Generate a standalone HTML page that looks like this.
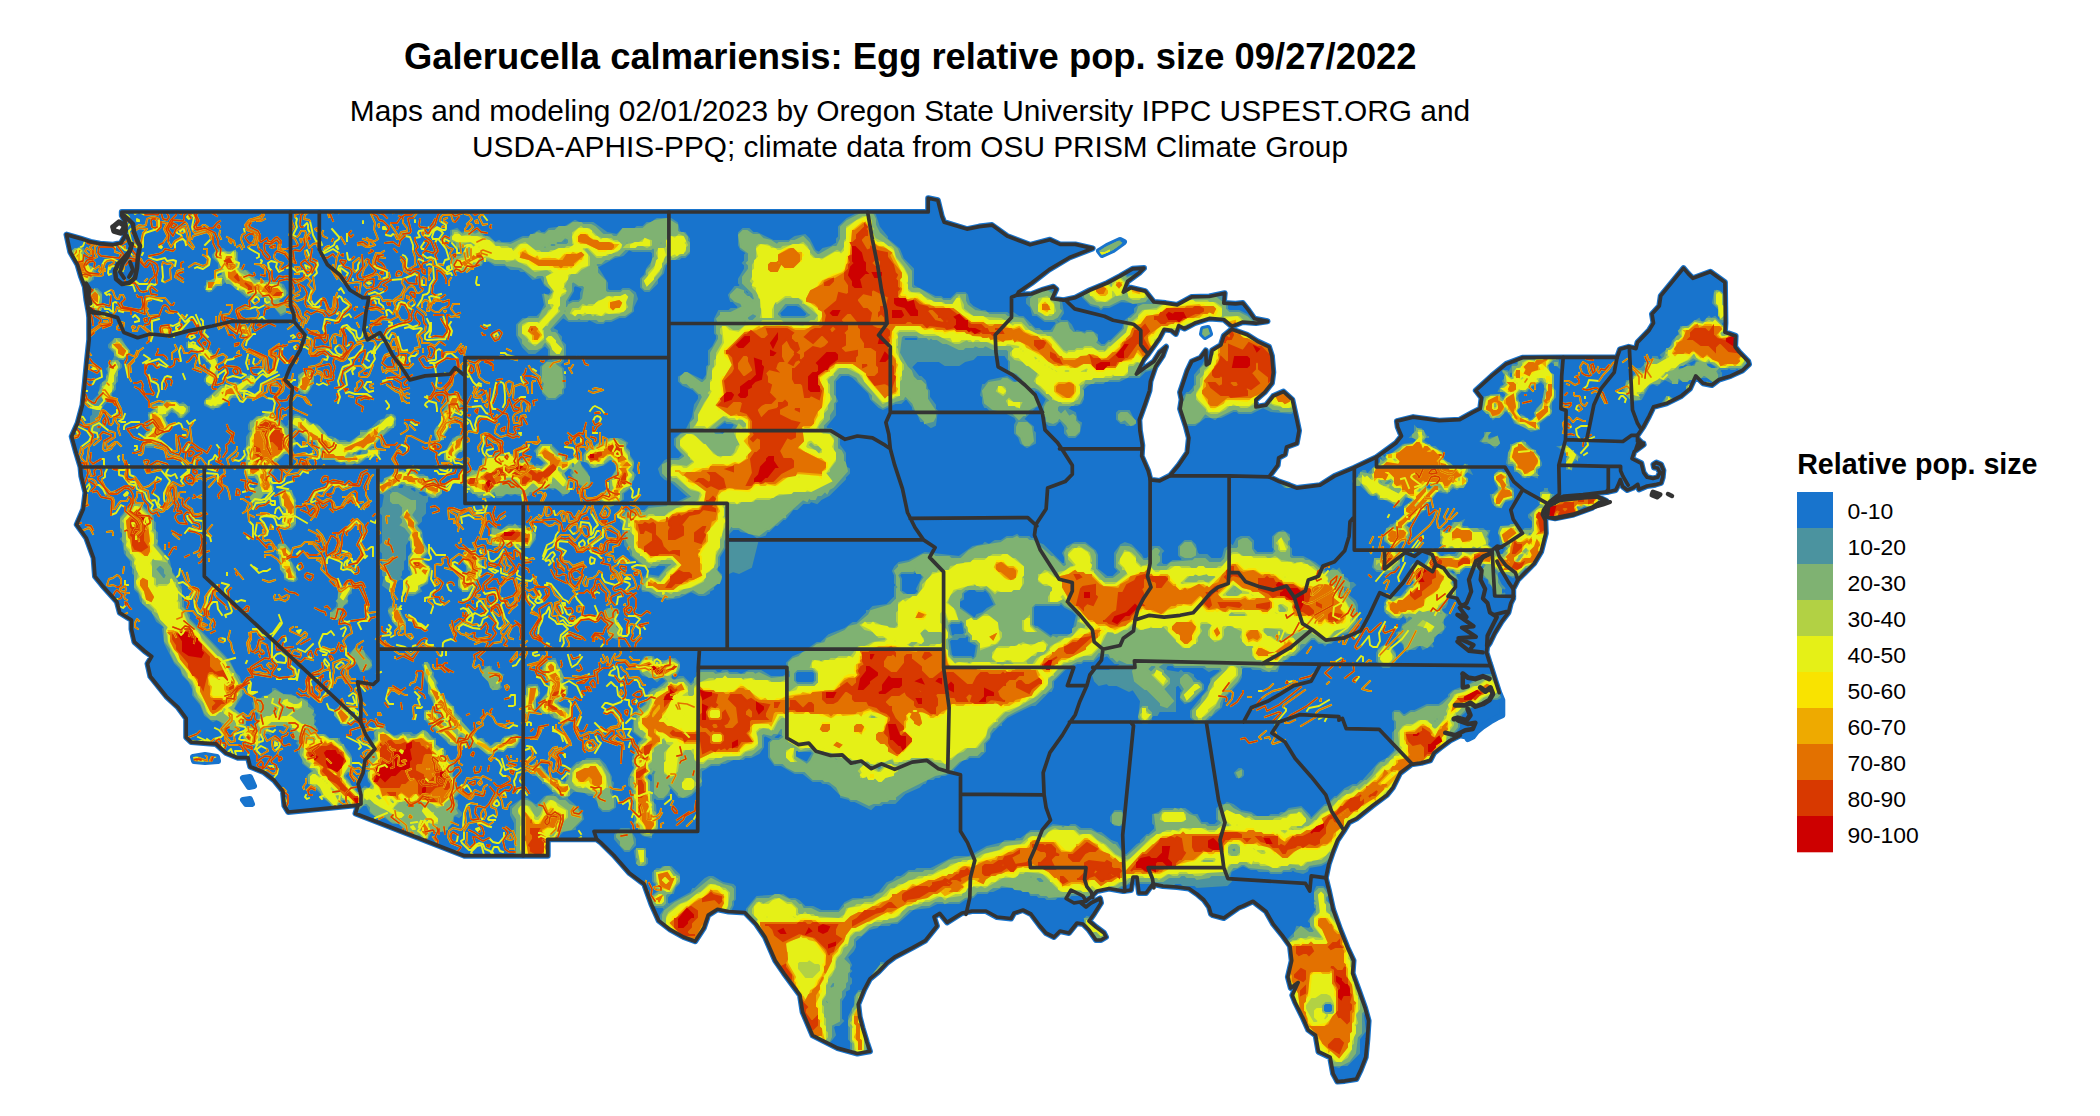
<!DOCTYPE html>
<html><head><meta charset="utf-8"><title>Galerucella calmariensis map</title>
<style>
html,body{margin:0;padding:0;background:#fff;}
body{width:2100px;height:1116px;overflow:hidden;}
svg{display:block}
text{font-family:"Liberation Sans",Arial,Helvetica,sans-serif;fill:#000}
</style></head><body>
<svg width="2100" height="1116" viewBox="0 0 2100 1116">
<rect width="2100" height="1116" fill="#fff"/>
<text x="910.3" y="69" font-size="36.37" font-weight="bold" text-anchor="middle">Galerucella calmariensis: Egg relative pop. size 09/27/2022</text>
<text x="910" y="121" font-size="29.87" text-anchor="middle">Maps and modeling 02/01/2023 by Oregon State University IPPC USPEST.ORG and</text>
<text x="910" y="157" font-size="29.8" text-anchor="middle">USDA-APHIS-PPQ; climate data from OSU PRISM Climate Group</text>
<defs><clipPath id="us"><path d="M121.8 212.0L928.2 212.0L928.2 198.2L937.8 200.3L941.8 216.4L944.2 222.2L966.9 229.1L979.1 226.6L992.0 225.1L1007.1 236.0L1030.1 244.8L1049.9 239.7L1060.1 244.4L1075.3 244.4L1092.7 248.4L1069.4 257.5L1049.0 269.6L1031.6 283.0L1018.5 292.1L1017.0 295.1L1031.6 294.0L1043.2 289.6L1053.4 286.7L1056.3 289.2L1052.0 298.7L1063.6 300.2L1075.3 297.6L1089.8 290.3L1107.3 283.0L1120.1 276.1L1132.6 268.8L1144.0 268.1L1139.3 272.8L1127.7 281.2L1123.3 292.1L1130.6 287.8L1145.2 291.1L1153.9 302.0L1165.6 303.1L1177.2 304.9L1191.8 296.9L1209.3 296.5L1224.7 293.2L1223.8 303.1L1235.5 303.8L1242.8 303.1L1248.6 310.4L1254.4 318.7L1267.5 321.3L1255.9 323.1L1242.8 322.0L1232.0 326.4L1223.8 319.5L1209.3 318.4L1194.7 323.1L1184.5 328.6L1178.7 325.7L1175.8 334.0L1171.4 330.4L1164.1 329.3L1159.7 337.7L1148.1 354.1L1143.7 359.5L1136.4 374.1L1143.7 368.6L1153.9 361.4L1159.7 352.3L1166.1 346.8L1162.7 355.9L1155.4 366.8L1150.4 381.4L1149.5 390.5L1145.2 403.3L1139.3 419.7L1139.9 430.6L1142.3 445.2L1141.7 456.1L1148.1 470.7L1150.4 479.8L1159.7 480.9L1169.9 475.8L1178.7 465.2L1187.4 452.4L1188.9 437.9L1186.0 426.9L1180.1 408.7L1181.6 399.6L1180.1 392.3L1187.4 370.5L1191.8 361.4L1200.5 357.7L1205.8 350.4L1206.3 365.0L1209.3 363.2L1212.2 350.4L1220.9 345.0L1223.8 335.9L1231.7 329.3L1247.1 334.8L1257.3 341.3L1269.0 346.8L1271.9 355.9L1273.3 372.3L1271.9 383.2L1264.6 392.3L1255.9 399.6L1255.9 406.9L1266.1 405.1L1273.3 396.0L1283.5 391.6L1292.3 399.6L1296.7 419.7L1299.0 430.6L1296.7 443.3L1286.5 447.0L1285.0 454.3L1278.6 457.9L1277.7 465.2L1269.0 476.8L1279.2 481.6L1289.4 485.2L1296.7 488.1L1320.0 485.2L1334.5 476.1L1354.3 467.7L1376.5 457.2L1395.7 443.3L1401.5 436.0L1397.7 426.9L1396.9 421.1L1413.2 417.1L1439.4 420.7L1459.8 419.7L1472.9 412.4L1480.2 408.7L1481.6 397.8L1475.8 390.5L1491.8 375.9L1506.4 363.9L1522.4 357.7L1563.2 357.4L1617.1 357.4L1620.0 349.3L1628.7 346.8L1636.0 348.6L1637.5 342.4L1649.1 330.4L1653.5 323.1L1652.0 314.0L1659.3 306.0L1660.8 295.8L1683.5 268.1L1688.4 273.9L1692.8 278.3L1710.3 271.7L1724.9 282.3L1725.4 323.1L1724.9 332.2L1735.6 335.9L1735.1 346.8L1739.4 352.3L1748.2 361.4L1749.0 364.3L1742.3 370.5L1730.7 375.9L1719.0 379.6L1711.8 385.0L1703.0 383.2L1695.7 375.9L1689.9 388.7L1681.2 396.0L1666.6 403.3L1653.5 406.9L1649.1 416.0L1643.3 426.9L1637.5 435.3L1637.5 441.5L1643.3 443.3L1636.0 448.8L1639.0 440.0L1643.6 444.7L1634.3 451.6L1632.0 458.6L1641.3 463.3L1643.6 472.6L1647.1 477.3L1653.0 478.4L1657.6 477.3L1660.0 472.6L1657.6 468.0L1654.0 467.5L1653.4 464.5L1656.4 462.6L1661.0 464.5L1663.4 470.3L1662.7 477.3L1661.0 483.0L1655.3 484.7L1647.1 486.0L1639.0 489.4L1637.8 484.3L1633.0 487.8L1627.3 490.0L1622.7 486.6L1620.3 479.6L1618.0 485.4L1615.7 490.0L1608.7 491.7L1583.0 494.7L1564.4 496.0L1550.4 501.0L1547.0 505.2L1543.5 510.0L1542.3 514.5L1545.3 520.4L1545.8 533.2L1541.1 551.8L1534.1 563.5L1524.8 572.8L1517.8 579.8L1513.2 589.0L1513.2 598.4L1510.8 603.0L1508.5 612.4L1501.5 621.7L1494.5 633.3L1489.9 642.7L1487.1 646.8L1486.4 652.4L1489.9 663.6L1490.4 665.0L1494.8 678.9L1499.2 692.7L1502.3 700.2L1502.3 715.2L1496.7 717.8L1490.4 721.5L1482.9 726.5L1476.6 731.6L1472.8 736.6L1467.8 739.1L1466.6 736.6L1460.3 735.3L1450.3 740.3L1440.2 747.9L1434.0 752.9L1430.2 760.4L1421.4 762.9L1411.4 764.4L1400.1 773.0L1392.8 787.6L1387.0 794.9L1372.4 805.8L1356.4 818.6L1349.1 822.2L1344.7 829.5L1337.4 840.4L1333.1 851.3L1328.7 864.1L1325.8 877.9L1328.7 889.6L1333.1 909.6L1340.3 929.7L1347.6 947.9L1353.5 960.6L1352.6 973.4L1359.3 991.6L1365.1 1008.0L1368.6 1020.7L1367.4 1039.0L1365.7 1057.2L1360.7 1069.9L1356.4 1079.0L1344.7 1080.9L1337.4 1081.6L1333.1 1073.6L1330.1 1057.2L1318.5 1051.7L1315.6 1035.3L1308.3 1029.9L1302.5 1017.1L1295.2 1002.5L1292.3 995.2L1298.1 982.5L1290.8 988.0L1287.9 977.0L1291.7 960.6L1290.0 946.1L1282.1 935.1L1273.3 924.2L1266.1 911.5L1253.0 901.3L1242.8 906.0L1238.4 907.8L1223.8 918.0L1212.8 915.1L1211.0 914.0L1209.0 907.0L1204.0 900.0L1197.0 894.0L1189.0 888.5L1177.0 887.0L1163.0 886.0L1153.0 884.0L1149.0 889.0L1146.0 893.0L1139.0 893.0L1137.0 877.0L1133.0 877.0L1131.0 890.0L1123.0 891.0L1109.0 888.5L1097.0 891.0L1091.0 897.0L1086.0 901.0L1081.0 903.0L1086.0 907.0L1091.0 903.0L1100.0 898.5L1101.0 903.0L1094.0 914.0L1089.0 921.0L1096.0 927.0L1104.0 933.0L1106.0 937.0L1101.0 940.0L1096.0 940.0L1089.0 930.0L1083.0 924.0L1077.0 923.0L1069.0 933.0L1060.0 931.0L1054.0 937.0L1046.0 933.0L1040.0 926.0L1031.0 914.0L1023.0 910.0L1014.0 913.0L1011.0 918.5L997.0 917.0L986.0 911.0L972.0 911.0L962.0 913.0L947.1 922.4L939.8 913.3L934.0 916.9L936.9 926.0L925.2 940.6L912.1 947.9L894.7 957.0L887.4 962.5L878.6 971.6L869.9 978.9L864.1 989.8L858.2 1004.4L859.7 1017.1L862.6 1028.0L867.0 1042.6L869.9 1051.3L857.4 1053.5L837.6 1048.1L812.5 1035.3L802.6 1012.0L800.0 995.2L784.0 973.4L775.2 960.6L765.0 937.0L756.3 924.2L744.9 912.5L728.6 911.5L717.5 909.3L708.2 915.1L703.9 927.8L695.1 941.3L683.5 937.0L670.4 929.7L658.7 920.6L651.4 904.2L644.1 884.1L629.6 873.2L613.6 855.0L600.4 842.2L596.7 839.3L547.7 839.3L547.7 855.7L464.4 855.7L355.5 813.5L358.1 805.1L288.2 812.0L284.4 805.8L282.9 791.2L274.2 780.3L264.0 772.3L255.3 768.7L250.3 766.8L248.0 757.7L237.8 757.7L226.1 753.0L215.9 743.9L191.2 742.1L186.2 737.3L186.2 718.4L178.1 707.4L166.4 696.5L150.4 676.5L147.5 663.7L151.8 656.4L144.6 651.0L134.4 641.9L131.5 629.1L131.5 620.0L119.8 612.7L116.9 601.8L102.3 585.4L95.0 576.3L93.6 558.1L86.3 538.0L76.7 524.6L83.4 508.9L85.4 492.5L81.3 476.1L80.5 467.0L76.1 452.4L71.7 436.4L77.6 423.3L82.5 405.1L84.8 383.2L86.9 361.4L89.2 339.5L89.2 317.6L88.6 312.2L86.3 299.4L84.8 286.7L81.1 276.8L77.6 264.8L70.3 252.1L66.5 234.6L80.5 238.6L90.7 241.9L100.0 243.7L113.1 244.8L121.0 243.0L124.2 237.5L126.2 230.2L125.0 221.1L121.8 215.6L121.8 212.0ZM1548.1 506.0L1559.8 500.1L1583.0 497.5L1597.0 496.4L1606.3 501.0L1599.4 502.9L1592.4 507.6L1573.7 514.5L1555.1 518.3L1547.0 516.9ZM1099.0 251.0L1107.0 246.0L1120.0 240.0L1124.0 242.0L1113.0 250.0L1102.0 255.0ZM1203.0 329.0L1208.0 328.0L1210.0 334.0L1205.0 337.0L1202.0 334.0ZM193.0 757.0L205.0 755.0L217.0 757.0L218.0 761.0L205.0 762.0L194.0 761.0ZM243.0 778.0L250.0 777.0L254.0 786.0L249.0 787.0ZM243.0 800.0L250.0 799.0L252.0 804.0L246.0 804.0Z"/></clipPath></defs>
<path d="M121.8 212.0L928.2 212.0L928.2 198.2L937.8 200.3L941.8 216.4L944.2 222.2L966.9 229.1L979.1 226.6L992.0 225.1L1007.1 236.0L1030.1 244.8L1049.9 239.7L1060.1 244.4L1075.3 244.4L1092.7 248.4L1069.4 257.5L1049.0 269.6L1031.6 283.0L1018.5 292.1L1017.0 295.1L1031.6 294.0L1043.2 289.6L1053.4 286.7L1056.3 289.2L1052.0 298.7L1063.6 300.2L1075.3 297.6L1089.8 290.3L1107.3 283.0L1120.1 276.1L1132.6 268.8L1144.0 268.1L1139.3 272.8L1127.7 281.2L1123.3 292.1L1130.6 287.8L1145.2 291.1L1153.9 302.0L1165.6 303.1L1177.2 304.9L1191.8 296.9L1209.3 296.5L1224.7 293.2L1223.8 303.1L1235.5 303.8L1242.8 303.1L1248.6 310.4L1254.4 318.7L1267.5 321.3L1255.9 323.1L1242.8 322.0L1232.0 326.4L1223.8 319.5L1209.3 318.4L1194.7 323.1L1184.5 328.6L1178.7 325.7L1175.8 334.0L1171.4 330.4L1164.1 329.3L1159.7 337.7L1148.1 354.1L1143.7 359.5L1136.4 374.1L1143.7 368.6L1153.9 361.4L1159.7 352.3L1166.1 346.8L1162.7 355.9L1155.4 366.8L1150.4 381.4L1149.5 390.5L1145.2 403.3L1139.3 419.7L1139.9 430.6L1142.3 445.2L1141.7 456.1L1148.1 470.7L1150.4 479.8L1159.7 480.9L1169.9 475.8L1178.7 465.2L1187.4 452.4L1188.9 437.9L1186.0 426.9L1180.1 408.7L1181.6 399.6L1180.1 392.3L1187.4 370.5L1191.8 361.4L1200.5 357.7L1205.8 350.4L1206.3 365.0L1209.3 363.2L1212.2 350.4L1220.9 345.0L1223.8 335.9L1231.7 329.3L1247.1 334.8L1257.3 341.3L1269.0 346.8L1271.9 355.9L1273.3 372.3L1271.9 383.2L1264.6 392.3L1255.9 399.6L1255.9 406.9L1266.1 405.1L1273.3 396.0L1283.5 391.6L1292.3 399.6L1296.7 419.7L1299.0 430.6L1296.7 443.3L1286.5 447.0L1285.0 454.3L1278.6 457.9L1277.7 465.2L1269.0 476.8L1279.2 481.6L1289.4 485.2L1296.7 488.1L1320.0 485.2L1334.5 476.1L1354.3 467.7L1376.5 457.2L1395.7 443.3L1401.5 436.0L1397.7 426.9L1396.9 421.1L1413.2 417.1L1439.4 420.7L1459.8 419.7L1472.9 412.4L1480.2 408.7L1481.6 397.8L1475.8 390.5L1491.8 375.9L1506.4 363.9L1522.4 357.7L1563.2 357.4L1617.1 357.4L1620.0 349.3L1628.7 346.8L1636.0 348.6L1637.5 342.4L1649.1 330.4L1653.5 323.1L1652.0 314.0L1659.3 306.0L1660.8 295.8L1683.5 268.1L1688.4 273.9L1692.8 278.3L1710.3 271.7L1724.9 282.3L1725.4 323.1L1724.9 332.2L1735.6 335.9L1735.1 346.8L1739.4 352.3L1748.2 361.4L1749.0 364.3L1742.3 370.5L1730.7 375.9L1719.0 379.6L1711.8 385.0L1703.0 383.2L1695.7 375.9L1689.9 388.7L1681.2 396.0L1666.6 403.3L1653.5 406.9L1649.1 416.0L1643.3 426.9L1637.5 435.3L1637.5 441.5L1643.3 443.3L1636.0 448.8L1639.0 440.0L1643.6 444.7L1634.3 451.6L1632.0 458.6L1641.3 463.3L1643.6 472.6L1647.1 477.3L1653.0 478.4L1657.6 477.3L1660.0 472.6L1657.6 468.0L1654.0 467.5L1653.4 464.5L1656.4 462.6L1661.0 464.5L1663.4 470.3L1662.7 477.3L1661.0 483.0L1655.3 484.7L1647.1 486.0L1639.0 489.4L1637.8 484.3L1633.0 487.8L1627.3 490.0L1622.7 486.6L1620.3 479.6L1618.0 485.4L1615.7 490.0L1608.7 491.7L1583.0 494.7L1564.4 496.0L1550.4 501.0L1547.0 505.2L1543.5 510.0L1542.3 514.5L1545.3 520.4L1545.8 533.2L1541.1 551.8L1534.1 563.5L1524.8 572.8L1517.8 579.8L1513.2 589.0L1513.2 598.4L1510.8 603.0L1508.5 612.4L1501.5 621.7L1494.5 633.3L1489.9 642.7L1487.1 646.8L1486.4 652.4L1489.9 663.6L1490.4 665.0L1494.8 678.9L1499.2 692.7L1502.3 700.2L1502.3 715.2L1496.7 717.8L1490.4 721.5L1482.9 726.5L1476.6 731.6L1472.8 736.6L1467.8 739.1L1466.6 736.6L1460.3 735.3L1450.3 740.3L1440.2 747.9L1434.0 752.9L1430.2 760.4L1421.4 762.9L1411.4 764.4L1400.1 773.0L1392.8 787.6L1387.0 794.9L1372.4 805.8L1356.4 818.6L1349.1 822.2L1344.7 829.5L1337.4 840.4L1333.1 851.3L1328.7 864.1L1325.8 877.9L1328.7 889.6L1333.1 909.6L1340.3 929.7L1347.6 947.9L1353.5 960.6L1352.6 973.4L1359.3 991.6L1365.1 1008.0L1368.6 1020.7L1367.4 1039.0L1365.7 1057.2L1360.7 1069.9L1356.4 1079.0L1344.7 1080.9L1337.4 1081.6L1333.1 1073.6L1330.1 1057.2L1318.5 1051.7L1315.6 1035.3L1308.3 1029.9L1302.5 1017.1L1295.2 1002.5L1292.3 995.2L1298.1 982.5L1290.8 988.0L1287.9 977.0L1291.7 960.6L1290.0 946.1L1282.1 935.1L1273.3 924.2L1266.1 911.5L1253.0 901.3L1242.8 906.0L1238.4 907.8L1223.8 918.0L1212.8 915.1L1211.0 914.0L1209.0 907.0L1204.0 900.0L1197.0 894.0L1189.0 888.5L1177.0 887.0L1163.0 886.0L1153.0 884.0L1149.0 889.0L1146.0 893.0L1139.0 893.0L1137.0 877.0L1133.0 877.0L1131.0 890.0L1123.0 891.0L1109.0 888.5L1097.0 891.0L1091.0 897.0L1086.0 901.0L1081.0 903.0L1086.0 907.0L1091.0 903.0L1100.0 898.5L1101.0 903.0L1094.0 914.0L1089.0 921.0L1096.0 927.0L1104.0 933.0L1106.0 937.0L1101.0 940.0L1096.0 940.0L1089.0 930.0L1083.0 924.0L1077.0 923.0L1069.0 933.0L1060.0 931.0L1054.0 937.0L1046.0 933.0L1040.0 926.0L1031.0 914.0L1023.0 910.0L1014.0 913.0L1011.0 918.5L997.0 917.0L986.0 911.0L972.0 911.0L962.0 913.0L947.1 922.4L939.8 913.3L934.0 916.9L936.9 926.0L925.2 940.6L912.1 947.9L894.7 957.0L887.4 962.5L878.6 971.6L869.9 978.9L864.1 989.8L858.2 1004.4L859.7 1017.1L862.6 1028.0L867.0 1042.6L869.9 1051.3L857.4 1053.5L837.6 1048.1L812.5 1035.3L802.6 1012.0L800.0 995.2L784.0 973.4L775.2 960.6L765.0 937.0L756.3 924.2L744.9 912.5L728.6 911.5L717.5 909.3L708.2 915.1L703.9 927.8L695.1 941.3L683.5 937.0L670.4 929.7L658.7 920.6L651.4 904.2L644.1 884.1L629.6 873.2L613.6 855.0L600.4 842.2L596.7 839.3L547.7 839.3L547.7 855.7L464.4 855.7L355.5 813.5L358.1 805.1L288.2 812.0L284.4 805.8L282.9 791.2L274.2 780.3L264.0 772.3L255.3 768.7L250.3 766.8L248.0 757.7L237.8 757.7L226.1 753.0L215.9 743.9L191.2 742.1L186.2 737.3L186.2 718.4L178.1 707.4L166.4 696.5L150.4 676.5L147.5 663.7L151.8 656.4L144.6 651.0L134.4 641.9L131.5 629.1L131.5 620.0L119.8 612.7L116.9 601.8L102.3 585.4L95.0 576.3L93.6 558.1L86.3 538.0L76.7 524.6L83.4 508.9L85.4 492.5L81.3 476.1L80.5 467.0L76.1 452.4L71.7 436.4L77.6 423.3L82.5 405.1L84.8 383.2L86.9 361.4L89.2 339.5L89.2 317.6L88.6 312.2L86.3 299.4L84.8 286.7L81.1 276.8L77.6 264.8L70.3 252.1L66.5 234.6L80.5 238.6L90.7 241.9L100.0 243.7L113.1 244.8L121.0 243.0L124.2 237.5L126.2 230.2L125.0 221.1L121.8 215.6L121.8 212.0ZM1548.1 506.0L1559.8 500.1L1583.0 497.5L1597.0 496.4L1606.3 501.0L1599.4 502.9L1592.4 507.6L1573.7 514.5L1555.1 518.3L1547.0 516.9ZM1099.0 251.0L1107.0 246.0L1120.0 240.0L1124.0 242.0L1113.0 250.0L1102.0 255.0ZM1203.0 329.0L1208.0 328.0L1210.0 334.0L1205.0 337.0L1202.0 334.0ZM193.0 757.0L205.0 755.0L217.0 757.0L218.0 761.0L205.0 762.0L194.0 761.0ZM243.0 778.0L250.0 777.0L254.0 786.0L249.0 787.0ZM243.0 800.0L250.0 799.0L252.0 804.0L246.0 804.0Z" fill="#1874CD" stroke="#1874CD" stroke-width="6" stroke-linejoin="round"/>
<g clip-path="url(#us)"><g transform="scale(2) translate(0.5 0.5)" fill-rule="evenodd" stroke-width="1" stroke-linejoin="miter"><path fill="#4B939F" stroke="#4B939F" d="M661 502l1-1l3 0l1 1l0 3l-1 1l-3 0l-1-1zM429 495l-2 3l0 4l-3 6l0 11l1 1l0 4l1 2l2 1l3 0l2-4l-1-12l-1-1l0-6l2-4l0-4l-1-1zM441 481l-1 0l0 1l-4 5l0 2l1 1l1 0l2-4l2-2l1 0l0-1zM654 464l1-1l1 1l-1 1zM543 458l-1 1l0 3l4 4l0 3l2 2l3 0l1-1l1-5l-1-1l-2 0l-4-5zM331 453l1-1l1 1l-1 1zM332 452l1-1l1 1l-1 1zM658 443l-1 2l0 8l1 1l-4 6l1 1l0 2l-1 1l-6-1l-1 3l-5 5l-1 4l-2 2l0 11l2 4l2 2l0 3l1 1l-1 2l0 2l1 1l-1 2l1 4l2 2l2 4l1 0l2 2l0 2l1 2l2 1l1 4l1 0l4 3l2 0l3 3l4 1l1-1l3 0l6-6l0-7l3-4l-1-8l2-4l0-3l-2-2l0-2l-2-3l1-1l0-4l-2-3l0-4l-2-3l0-11l-1-1l0-2l-2-3l-4-1l-4-5l0-2l-2-3l0-5l-2-2zM328 434l-2 2l0 4l2 2l0 2l1 1l-4 3l0 2l3 3l3 0l1 1l-2 3l0 7l2 4l2 2l0 1l5 4l7 0l6-3l2-2l1-4l3-3l1 0l4-5l3-6l0-2l1-1l0-6l-1-1l-5-1l-5-3l-2 0l-2 1l-5 5l-1 0l-1 2l-11 6l-1-1l0-3l2-2l1 0l1-3l2-2l0-4l-4-4l-4 0l-1 1zM318 424l-1 1l1 6l1 1l3 0l1-1l0-2l-1-1l0-4zM310 414l-3 3l0 2l5 6l2 0l3-3l0-3l-3-5zM557 405l-2 3l0 2l2 2l3 0l1-1l0-4l-1-2zM202 402l1-1l2 1l-1 1zM207 401l1-1l1 1l-1 1zM278 398l1-1l1 1l-1 1zM276 397l1-1l1 1l-1 1zM324 386l2 1l0 3l-1 1l-2-2l0-2zM325 386l1-1l1 1l-1 1zM620 384l-1 0l-2 2l1 2l2 0l1-1l0-2zM299 379l-6 0l-1 1l-4 1l-4 4l-1 2l0 3l-1 1l-8-3l-2-2l0-1l-5-4l-2 2l0 3l1 1l2 0l3 3l0 1l1 0l5 5l-1 1l-4 1l-4 4l-1 0l-4-3l-2 0l-6 4l0 4l2 4l0 16l1 1l0 2l2 2l2 1l11 0l3-2l1-2l0-3l-1-1l1-6l4-4l6-1l0-1l4-4l-1-4l-7-6l0-1l3-3l5 0l3 2l2 0l3 4l0 2l2 2l3 0l3-2l0-4l-2-3l1-5l-1-1l0-2l-3-6zM397 378l0-3l1-1l1 1l6 0l1 1l-3 5zM386 368l3-2l2 1l-2 2l-2 0zM154 367l1-1l2 1l-1 1zM127 363l1-1l1 1l-1 1zM222 361l1-1l1 1l-1 1zM221 360l1-1l1 1l-1 1zM219 358l1-1l1 1l-1 1zM169 353l-2 2l0 2l4 5l2 0l2-3l0-2l-4-4zM268 342l-4 0l-1 1l0 4l-1 1l0 7l1 1l2 0l2-2l0-5l2-2l0-3zM751 342l-1-2l-4-3l-4 0l-1 1l-2 0l-5 4l-8 3l-2 2l0 1l-5 4l-6 0l-6 3l-2 0l-3 2l-1 0l-2-2l-2 0l-1 1l0 3l1 1l0 5l-1 1l0 5l1 1l0 3l-4 4l-4 2l-8 9l-1 0l-2 2l-2 0l-4 2l-4 4l-1 0l-4 4l-1 0l-7 7l-1-2l-4-4l-6 1l-2 2l-2 0l-1 1l-4 0l-1 1l-6 0l-3-2l-5-1l-4-3l-3-1l-1 1l-2 0l-2 2l0 5l1 1l-2 2l-3 0l-1-1l-3 0l-2-4l-2 0l-4-3l-11 0l-2 2l-3 1l0 4l1 1l0 2l-3 3l-1 0l-3 3l0 1l-2 1l-5 5l-1 0l-2-2l-2-4l-3-1l-5-4l-2 0l-3-2l-5 0l-3-2l-2 0l-1 1l-8-1l-6 4l-1-1l-4 0l-5 4l-2 0l-1 1l-5 0l-1 1l-8 2l-9 5l-7 0l-12 6l-7 0l-1 1l-3 0l-4 3l-2 0l-2 2l-3 1l-4 5l-4 2l-3 0l-1 1l-5 0l-4 2l-3 4l-9 0l-4-2l-4 0l-3-3l-2-1l-3 0l-3-2l-13 1l-5 6l0 2l2 4l-1 1l0 2l3 4l0 2l1 1l0 4l6 12l11 14l0 7l-1 2l1 1l0 2l2 4l3 3l1 3l2 1l6 0l1-1l3 0l4-5l-1-4l1-1l2 0l2-2l-1-1l0-9l2-3l0-2l2-1l0-2l1-1l0-2l-1-1l0-2l1-1l-1-1l1-2l-2-4l3-3l1-2l0-3l7-6l4-1l1-1l5 0l1-1l3 0l8-7l8-1l4-2l11 0l3-2l4-1l2-2l5 0l1-1l2 0l4-2l6 0l1 1l7 1l1 2l3 0l1 1l3 0l1 1l4 0l1-1l6 0l1-1l6 0l1 1l2-1l1 1l5 0l14-7l12 0l1 1l9 0l1-1l3 0l1 1l6 0l1 1l15-1l2-2l-1-2l1-3l6-3l4 2l3 0l1 1l5 0l1 1l5 0l1-1l4 0l1-1l1 1l4 1l2-1l1-2l6-1l4-2l0-1l9-9l0-1l3-3l1-6l2-2l1 0l2-2l2 0l6-3l2-2l1-3l2-1l4-4l3-1l3-4l2 0l3-3l3-1l5-4l3-1l3-5l0-2l1-1l-1-1l5-7l0-2l-1-1l2-2l0-1l5-4l3 0l6-4l4 0l2-1l1-2zM393 337l1-1l1 1l-1 1zM397 336l1-1l8 0l1 1l0 4l-1 1l-8 0l-1-1zM560 333l1-1l3 0l1 1l-1 1l-3 0zM242 333l0 1l-2 1l1 2l3 3l2 4l3 0l1-1l-1-1l0-2l2-3l-4-1l-2-2l0-1zM211 332l1 2l0 4l2 4l0 4l3 6l2 2l0 2l-1 1l-2-2l-4 0l0 4l13 13l4 0l0-4l1-1l2 2l0 1l2 0l2 3l3 0l5 4l4-2l3 0l2-2l4 0l2-3l0-2l-1-1l-6 1l-2 3l-3 0l-2 2l-2-2l-1 0l-1-2l-3 0l-1-2l-1 0l-6-6l0-2l-3-3l-1-3l-7-7l-2-4l1-1l-2-3l0-2l-2-2l0-2l-1-1zM276 329l-1 1l-2 0l-2 3l0 3l3 5l0 4l-4 5l-1 4l2 2l3 0l2 2l3 1l3 3l2-1l1-2l0-4l-1-1l-4-1l-2-2l3-3l1 0l1-2l0-3l-2-2l-1-6l-2-2l-1-4zM177 324l-2 2l0 2l-1 1l1 1l2 0l2 2l1 3l4-1l1-1l0-3l-5-6zM692 322l-3 2l-1 2l0 4l3 3l3 0l3-3l0-4l-2-3zM474 320l1-1l3 0l1-1l3 0l1-1l1 1l0 2l4 2l-1 6l-1 1l-1-1l-9 0l-1-1zM480 310l1 1l1 5l-1 1l-4 0l-1 1l-1-1l-1-5l1-1l4 0zM703 309l1-1l1 1l-1 1zM704 308l1-1l1 1l-1 1zM303 304l-1 1l0 3l2 4l0 5l4 2l1-1l0-3l-2-2l1-1l0-2l-1-1l2-4l-1-1zM195 303l-1 1l0 2l2 4l4 5l2-3l0-2l-3-5l0-2zM517 302l12 0l1-1l2 2l4 2l2 2l-2 9l-1 1l-9 0l-1 1l-7-5l-1 0l-1-1l0-9zM479 300l2-1l0-3l3-2l3 0l1 1l3 0l1-1l2 2l3 6l-4 2l-2 2l-3 1l-1 2l-8-6zM673 294l1-1l1 1l-1 1zM671 294l1-1l1 2l-1 1zM174 292l-3 1l-2 3l-1 7l-3 3l0 2l1 1l2 0l1-1l0-2l2-4l2-1l0-4l2-1l0-3zM460 286l1 2l-3 6l1 1l-2 2l-4 0l-3-2l0-6l-1-2l1-1l6 0l1-1l1 1zM746 285l1-1l1 1l-1 1zM724 285l2-1l2 2l-2 1zM735 274l1-1l1 1l-1 1zM236 274l-4 0l0 2l-1 1l0 3l2 2l0 3l-4 4l0 4l2 2l3 0l1-2l4-4l0-2l1-1l0-8l-1 0zM140 271l-2 2l0 3l2 2l0 6l2 3l0 2l2 1l3 0l1-1l-1-2l0-3l-3-5l1-1l0-2l-1-2l-3-3zM677 292l-1-1l-2 0l-1-2l-2-1l-2-4l-1 1l-2-1l-2 2l-1 0l-6-5l-6-3l-5 0l-1-1l0-3l-1-1l0-6l-3-2l-3 1l-2 2l0 5l1 1l-1 2l-8 0l-2-2l0-4l-2-2l-4 0l-2 1l-2 4l-1-1l-3 2l-1 4l-1 1l-5 0l-2-2l-4 0l-1-1l-1-4l-2-2l-3 0l-3 3l0 4l2 2l-1 1l-4 0l-3 2l-2 0l-1-1l0-5l1-1l-2-2l-3 0l-2 2l0 3l-1 1l-2 0l-1-2l-5-5l-3-1l-2 1l-3 4l0 7l2 2l-3 3l-3 0l-5-4l0-7l-1-2l-5-4l-5 0l-4 2l-2 3l1 2l0 3l-1 1l-10-10l-3-1l-1-2l-2 0l-1-1l-5 0l-1-1l-2 1l-3 0l-3 2l-3 0l-3 2l-2-1l-1 1l-5 1l-7 5l-17-2l-8 4l-5 1l-2 2l-1 2l1 2l0 4l1 1l-1 1l0 5l-4 4l-7 1l-2 2l-1 0l0 1l-5 5l-2 0l-4 3l-8 3l-4 4l-2 0l-7 5l-5 2l-3 3l1 5l-3 2l-6 0l-5-3l-6 0l-4 2l-2-1l-4 0l-1-1l-2 0l-1 1l-2 0l-1-1l-7 0l-2 1l0 2l-3 4l-4-4l-2 0l-2 2l-2-1l0-2l1-1l2 0l1-2l0-3l-2-2l-3 0l-1 1l-6 0l-1-2l-4 0l-3 4l1 4l1 1l5 1l2 2l2-2l1 0l2 2l-5 4l-2 0l-2 2l0 2l-2 4l-5 4l-1 9l5 4l-2 2l0 2l-2 2l0 2l-1 1l0 4l1 1l-3 6l0 3l2 2l-1 2l0 3l2 2l-1 2l0 3l1 1l0 5l2 1l0 2l2 2l4 1l0-1l3-3l-1-12l-1-1l0-2l1-1l1 1l3 0l2-2l1 0l0-3l1-1l4 5l4 0l2-1l5-5l0-7l5-3l4 0l1-1l2 0l4-2l5 0l1-1l3 0l4-2l2-3l0-5l1-1l4 2l-2 2l0 7l3 4l3 0l7 4l4 0l5 4l4 0l1 1l2 0l2 1l5 5l0 1l4 1l1 1l2 0l8 4l2-2l3 0l1-1l6 0l5-5l7-3l2-2l1 0l1-2l3 0l1-1l2 0l1-1l2 0l4-2l0-1l5-5l2 0l1-1l5 0l3-3l0-4l2-2l1-3l4-4l1 0l0-1l3-3l12-6l2 0l7-7l1 0l1-2l0-3l6-6l6-3l2 0l1-1l5 0l3-3l2 1l2-1l4 4l2 0l1 1l-6 3l-8 0l1 1l-1 1l1 3l2 2l4-1l1 1l4 0l6 3l2-1l4 6l-1 9l2 2l2 0l2-2l0-1l1-1l2 0l1-2l8 0l0-12l1-1l1 0l2 3l-1 1l0 3l2 2l3-1l6-6l0-2l-2-2l-1 0l-2-2l0-1l-2-1l-3 0l-1-1l-1 1l-6-1l-1-1l1-2l3 0l1 1l14 0l3 2l2-1l3 0l1 1l-5 4l0 2l-2 4l-8 10l0 3l2 2l0 1l4 0l9-8l1-4l8-9l1-2l0-4l1-1l4 0l1 1l4 0l1 1l7 0l1-3l3-3l1 0l2-2l2 0l8-8l2 0l2 2l2 0l1 1l1-1l2 0l4-4l4-1l2-2l1 0l0-1l2-2l0-9l-1-2l-5-4zM245 264l1 2l-2 4l2 2l10 0l1 1l7 0l3-4l0-3l-1 0l-3-3l-9-1l-4 3l-1 0l-2-2zM787 253l1-1l1 1l-1 1zM66 251l-6 7l0 7l1 1l0 2l-1 1l1 1l1 6l3 4l0 2l1 1l0 3l1 1l0 7l2 2l1 4l6 6l2 4l4 3l-1 1l1 7l5 10l3 3l1 3l3 3l2 4l0 3l4 5l2 5l4 3l2-1l2 1l1 2l2 0l4 3l5-3l1 2l-2 1l0 2l2 4l2 0l1 1l3 0l0-3l2-3l3 0l1 1l-1-2l0-2l1-1l6 0l1 1l1-1l4 5l-1 1l3 2l-1 1l1 1l0 4l2 3l0 2l5 4l-3 3l1 3l2 1l5 5l0 1l4 3l1 2l3-1l2-3l2 1l4 5l1 0l3-3l2 0l2 4l4 2l3 0l4 3l3 0l2 2l0 1l2 0l4 3l3 0l1 2l2 0l2-4l7 0l4-5l0-2l1-1l2 1l1-1l0-1l-2-2l0-4l-2-1l3-3l0-1l-2-3l0-3l-2-2l1-2l0-4l-1 0l-1-2l-2-1l0-3l-5-3l0-3l-1 0l-4-4l-4 2l-2 0l-1-1l-4 0l-4 2l-5-3l0-2l-2 0l-2 2l-1 0l0 4l-2 2l-1 14l-1 1l1 4l1 1l0 2l-1 1l-2-1l-3 3l-1 0l-3-3l-1-3l-2-2l0-1l2-2l1 0l0-7l-1-2l-5-6l0-1l-5 0l-2-2l-4 0l-1-1l1-1l0-1l-2-2l1-2l-1-1l1-2l-1-1l0-2l-3-3l0-1l-2-1l-3 0l-3-2l-4 0l-4-3l-1 0l0 2l-1 1l-4 1l-1 1l-2 0l-2 2l1 4l2 1l-1 6l-1 1l-4 0l-1-1l0-4l-4-2l-2-2l5-8l-2-8l-2-2l-3-6l-20-21l0-2l-3-4l0-3l-1-1l0-6l-5-8l-1-5l-6-8l0-6l-1-1l0-4l-1-1l0-2l-1-2l-1 0l-5-5zM208 246l1-1l3 0l2 2l-1 1l-2 0zM193 245l1-1l2 1l-1 1zM828 244l0 1l2 1l0-2zM798 246l-10 1l-4 2l-3 0l-6 3l-1-1l2-4l-1 0l-2-2l0-1l-1 0l0 1l-2 1l0 3l-1 1l1 2l-6 5l0 1l2 2l0 3l-1 1l-3 0l-2 2l-2-4l-8 1l-1 2l1 6l1 0l2 2l-2 4l-3 0l-1-2l-4-3l1-2l-1-2l1-3l-2 0l-1-1l-7 0l-1-1l-2 0l-1-1l1-2l-2 1l-3 0l-1 3l-2 2l-2-2l-1 0l0 7l2 3l6 0l1 1l-2 2l-5 0l-1 1l-1 0l-4-4l-2 1l0 4l-2 3l-5-1l-2 2l0 4l2 4l-2 2l-1 0l-4 5l-6 0l-2 3l0 4l3 3l4 1l2-2l2 2l0 2l-2 1l-1 3l-2 1l1 4l2 1l1 3l1 1l1-1l3 0l2-2l1 0l1 2l4-2l1 1l-1-2l3-5l2 0l2-3l-1-1l0-3l2-2l-2-1l-1-2l2-1l1-2l0-3l1-1l2 0l1 1l0-6l-1 0l-1-2l1-1l2 0l-1-2l1-1l1 0l3-3l5 0l1 1l2-2l1 0l1 1l-2 4l4 2l0 2l2 1l1 4l1 1l3 0l1-1l-1 1l-1-1l0-2l1-1l1 1l-2-2l-2-4l0-2l1-1l2 0l5 3l1-1l2 0l3-4l3 1l4-3l1 0l0-3l3-3l-1-5l1-1l2 0l0-6l1-1l0-2l1-1l4 1l4-2l3 0l1-4l3-2l1 1l3 0l2-2l1 0l0-3zM204 244l1-1l2 0l1 2l-1 1zM195 244l1-1l1 1l-1 1zM142 244l-3 2l1 6l2 2l-1 2l0 4l-1 1l3 3l2 0l2-2l0-7l1-2l-1-1l0-3l-3-5zM712 243l2-2l2 2l-1 1l-2 0zM198 243l2-2l2 1l-1 2l-2 0zM693 240l1-1l2 1l-1 1zM251 241l2-2l2 0l1 1l-2 2l-2 0zM641 237l-1 1l0 3l2 2l4 0l1-1l0-3l-1-2zM750 235l-1 0l-2 2l0 3l2 4l-3 3l-1 0l1 4l2 2l2 0l0-1l2-2l4-1l0-5l-2-1l-1-6zM198 235l-2 2l-4 2l-1 2l-3 0l0 3l4 3l-1 6l-1 1l0 2l1 1l0 14l-1 1l0 3l1 1l0 11l1 1l-1 4l4 3l1-1l-1-1l2-1l0-1l2-2l1 0l-1-1l1-1l0-2l1-1l0-4l1-1l0-7l2-3l1 1l0 3l1 2l-2 3l0 6l1 1l0 2l-3 3l0 5l2 2l2 0l4-2l-1-2l4-2l1-4l1-1l0-2l-4-4l0-2l2-2l0-2l-2-3l-1-6l-2-2l0-1l2-2l0-2l2-2l0-5l1-1l0-2l1-1l1 1l3 0l2-2l0-4l-2 0l-7-5l-4 0l-1-1zM177 226l3-2l1 1l-1 2l-2 0zM779 223l4 3l1 2l-1 1l0 5l2 0l1-2l-1-1l4-3l-7-6l-1 1zM755 222l0 3l-1 1l-1 5l1 1l2 0l1 1l0 2l2 0l2 3l3 0l1-1l3 1l0-4l2-2l0-1l-3-6l-1 0l-5-5l-4 2zM317 237l-2-2l1-2l0-3l-2-3l0-2l-2-2l1-2l-3-2l-6 0l-3 2l-2 0l-2 2l-2 0l-3 3l-2 4l-2-2l-2 1l-4 0l-1-2l-2-1l-4-4l-5 0l-3 3l1 1l0 2l1 0l3 3l-2 2l-2-1l-1 1l-3-3l-2-1l-2 1l-4-3l-5 0l-1-1l-2 0l-2 2l-3 0l-2 1l0 4l-3 2l-4 0l-1 2l-3 1l0 2l1 2l1 0l2 2l0 1l3 1l2 2l5 0l3-2l1 2l2 0l3-2l2 1l2-1l2 1l5 0l3-3l6 0l1-1l2 1l1-1l2 1l2 3l3-2l0-4l-3-4l0-1l3-3l2 1l-1 2l2 4l4 3l2 0l2-1l0-1l-1-1l-1-4l-4-5l1-1l2 0l2 1l1 2l3 0l1-1l2 0l4-3l2 2l1 3l-4 7l0 4l-1 1l-1-1l-2 1l0 4l4 3l7-4l0-3l4-3l0-2zM230 217l-4 2l-1 3l-3 4l0 3l3 2l2-2l1-3l3-2l0-6zM742 216l0 2l-2 2l2 1l3 0l2 2l2-2l-1-3l-4 1l-1-1l1-2zM707 213l0 3l-2 2l2 0l1 1l-1 2l-6 1l-6 5l-2 0l-1 2l-2-2l1 2l-3 4l-1 0l-4 4l-1-2l-1 0l-2 2l0 1l-3 2l1 2l3 0l5 5l3 0l1 2l3 0l4 2l2 2l2-1l2-4l3 0l1 1l0 1l-4 3l0 4l-6 5l-1 0l-3 4l0 4l5 3l-3 2l-2 0l0 2l-2 2l-3 0l-1 4l2 2l3 0l1 1l2 0l4-4l1 0l-1-10l2-2l2 0l3-5l0-1l-1 0l-2-2l10-8l0-2l2-2l1 0l0-2l3-3l5 1l3-3l2 1l1-1l2 0l2-3l0-1l-2-2l2-2l2 1l-2-4l-2 1l-5 0l-2-2l-1 0l-3-3l1-1l-1-2l-1 0l-2-2l-2 0l-4-3l1-2l2 0l-1 0l-3-4l-2 0zM143 213l1-1l1 1l-1 1zM367 212l-2 3l-4 2l-4-2l1-2l4-3l1 1l3 0zM558 206l0 3l2 2l2 0l1 1l3 0l1-1l-3-6l-5 0zM126 251l3 0l1-3l2-2l2 0l2-2l-1-6l-1-1l2-2l1-4l5-5l2 0l3-4l0-2l-4-3l2-4l1 1l1-1l3 3l0 1l2 1l1 2l4 0l1 1l-1 1l3 3l0 3l1 1l6 0l3 2l2-1l1 2l2 0l1-1l3 0l4-3l6-1l0-3l-3 0l-1-1l2-1l0-1l3-4l1 0l6-5l0-4l-1-1l-3 0l-1 2l-3 1l-4 4l-2 1l-3 0l0 2l-6 4l-2-1l-3 0l-4-2l-2 0l-1-2l-4-4l-4-1l-2-2l-4-2l-1 0l-3 3l0 2l-1 1l-1 0l-7-8l-3 1l-2 2l-2 0l-2 2l-1 0l-1 2l0 2l1 1l-2 3l0 5l-1 1l2 2l-3 2l2 1l0 1l-2 2l1 1l0 4l2 1l3 0l2 2l0 2l-3 3l1 1l-2 2zM94 203l-1 0l-2-2l-2 1l-2-2l-5 0l-2 2l-5 0l2 2l-2 2l-1 0l0 3l1 1l-1 1l0 4l-2 2l-1 4l2 2l3 0l2-2l1-3l4-3l0-4l-1-1l0-2l3-3l3 1l1 2l2 0l3-3zM836 199l-3-1l-3 4l0 1l1 1l3 0l2-1zM228 196l-1 1l-3 0l-1 2l0 3l-2 4l-1 6l-2 1l-1 2l0 2l2 3l2-1l0-2l3-4l-1-1l3-3l0-2l4-4l0-5zM855 192l-1-1l-2 0l-1 1l-7 0l-1 1l0 2l2 2l0 1l2 0l4-2l3 0l1-1zM770 190l2 2l0 6l-1 1l0 2l-3 3l-1 4l-2 2l-5-3l-1 1l-1-1l0-3l1-1l-1-6l2-2l3 0l1-2zM127 189l-3-2l-4 5l-2-1l-2 0l-3 2l-2-1l-9 8l0 2l4 2l1-1l2 0l2-2l3-1l1-2l3 0l0-1l1-1l2 0l2-3l2 0l2-2zM858 186l1-1l1 1l-1 1zM755 185l1 1l0 2l-1 1l-1-1l0-2zM154 185l-5 2l0 5l-1 1l2 2l0 1l3 0l3-5l0-5zM858 184l1-1l1 1l-1 1zM852 182l1-1l2 0l3 2l-1 1l-2 0zM844 182l-2 2l-3 0l-1-1l4-2zM847 179l1 1l-1 2l-2 1l-2-2zM57 179l1-1l1 1l-1 1zM778 177l-5 0l-2-2l-1 0l0 1l-3 3l-2-1l-1 1l-5 1l-1 2l-2 0l-2 4l-1-1l-2 0l1 2l0 2l-1 1l1 2l-2 1l-1 2l2 0l2 2l-2 2l-2-2l-4 0l-1 1l-2 0l-1 6l2 2l1 0l2 3l1-1l2 0l3-3l1 0l2 2l2 4l4 1l4 3l4-1l0-3l6-5l0-6l2-2l0-3l-1-1l0-7l-2-1l-1-4l2-2l4 3zM93 171l0 2l1 1l2 0l2 2l1 0l6 6l-1 4l-2 3l0 1l2 2l1 0l3-3l-1-1l1-2l0-7l-3-3l0-1l-4-2l-2 1l-2-3l-1 1l-1-1zM451 169l1-1l6 0l1 1l-1 1l-6 0zM60 169l-3 0l-3 3l0 1l3 3l0 2l-1 2l-2 1l0 2l-1 1l1 2l-1 1l0 2l-3 3l-1 5l-3 3l-1 0l1 1l0 6l-1 1l0 7l1 1l3-1l1-11l1-2l4-4l0-2l2-2l0-3l1-1l0-5l2-2l0-1l-2-2l1-1l2 0l3-3zM117 164l0 2l2 0l4 2l2-1l0-3l-1-1l-4-1zM527 160l1-1l2 1l-1 1zM389 156l4-4l5 0l2 1l3 3l0 1l-1 1l-12 0zM374 148l1-1l1 1l-1 1zM373 147l1-1l1 1l-1 1zM859 145l-2 0l-1 6l3 3l0 3l1 2l-1 1l-2-2l-2 1l-1-1l-3 3l-1 0l-1-2l-6 4l-3 0l-1 4l-3 3l-1 3l-5 4l1 1l-2 2l-1-2l-2 0l0 1l-2 2l-2 0l0 1l-2 2l-2 0l0 2l-4 4l-1 0l-1 4l-1 1l4 4l0 1l5-1l4-7l2-1l2 1l4-3l4 2l2 0l1-2l4 1l1-1l5 0l1-1l3 0l5 3l0-1l2-2l0-2l-1-1l1-1l3 0l1-1l1 1l2 0l1-1l1 1l2-1l1-4l1-1l0-2l-1-1l1-5l-2-2l-2 0l-2-2l0-1l-3 0l-4-3l0-1l3-3l-2-2l1-4l-1-1l0-4zM372 145l1-1l1 2l-1 1zM47 144l-3 3l0 2l1 1l0 4l4 1l1-1l0-8l-2-2zM290 143l1 1l-1 2l0 3l-1 1l-3 0l-2 1l-1-1l3-5l0-2l1-1zM106 127l0 1l3 3l0 2l2 2l0 2l-1 1l-2 0l-2 2l-3 0l0 2l-1 1l1 2l2 0l3-3l2 0l2-2l4 2l7 6l2-1l7 1l1 1l-1 2l1 0l2 2l2 0l3 4l2-1l0-3l-4-3l5-4l-2-4l-2-1l-4 0l-1-1l-5 0l-2-1l-4-4l-2 0l-2-2l0-2l-1-1l0-4l-1-1l-4 1l-2-2l-2 0zM40 123l-4 2l0 3l1 1l0 4l2 3l0 2l4 3l3-2l0-3l1-1l-1 0l-3-4l-2-4l0-3zM281 120l1-1l1 1l-1 1zM559 119l-1 0l-1 2l-1-1l-3 2l-4 1l-1 1l0 4l6-1l2-3l3-1l1-1zM344 119l-2-3l-2 0l-1-1l-1-4l-3-2l-7 0l-3 2l-2 0l-2 2l-3 0l-1 1l-6 0l-3 3l-5-1l-7-5l-7 0l-2-1l-5 3l-8 1l-2 2l-2 0l-1-1l-5 3l-3 0l-6 3l-5 0l-1-1l-2 1l-3-3l-2 0l-3-3l-2 1l-2-1l-5 1l-2-2l-3 1l0 5l3 4l1-1l2 0l1 2l-2 2l-2 0l-1 2l-2 1l0 2l2 3l7 0l3-3l3 0l1-2l3 0l3 2l5 0l3 2l4 0l1 1l2 0l4 4l4-1l2 4l3 2l0 2l-1 1l-3 0l1 5l-2 4l-2 2l-4 0l-1 1l-2 0l-3 3l0 5l3 6l3 3l3 0l5-4l2 2l0 4l1 1l-5 4l0 7l1 1l0 5l2 2l0 1l4 0l4-3l0-2l1-1l0-5l-1-1l0-3l-2-2l2-2l0-2l1-1l0-5l-2-2l0-2l-2-2l0-1l-2-1l0-1l5-5l3 2l9 0l1-1l4 2l3 0l1-1l3 0l4-2l3 0l4-3l0-2l2-4l-1-3l-3-2l-3 0l-1 1l-6 0l-1-1l0-3l-5-8l9-5l4-1l3-3l2 1l9 0l1 1l0 4l-3 4l-1 3l-2 2l0 4l2 2l2 0l4-4l0-2l3-3l1-4l3-3l4 0l1-1l2 0l2-2zM312 272l3 4l0 1l7 6l5 0l1-1l4 0l1 1l-4 5l-6-1l-3 3l0 3l1 2l3 0l4 3l4 0l1 1l6-1l6-3l4 2l3 0l2-1l0-1l2-1l0-1l2-2l1 0l1-2l0-2l-2-2l0-2l1-1l0-4l3-5l2 1l0 12l2-1l3 1l6-3l3-12l-15 0l-1-1l2-4l2-2l3 0l1 1l5 1l3 2l4-1l1-2l1 0l3-3l1 0l3-3l1 0l4-5l2 0l3-3l3 0l1-1l3 1l2-2l4-2l8-8l0-1l2-2l0-2l-2-1l0-7l-3-4l0-4l-4-4l-2 0l-1-1l5-6l0-6l1-1l-1-2l0-8l3-3l4 0l2 1l8 8l1 3l4 4l2 1l6-3l3 0l2-2l1 0l3 4l0 1l2 1l2 5l1 0l4 3l2-1l1-7l-1-1l0-2l-3-4l0-3l-1-1l-1-4l-2-2l-1 0l-4-5l3-3l11 0l3 2l7 0l3-2l4-1l2-2l14 0l2 3l0 6l3 1l2 2l0 1l-2 1l-4-3l-9 2l-2 2l-1 0l-1 5l1 1l0 3l1 2l1 0l2 2l2 0l1 1l5 0l4 2l1 2l-1 2l0 4l2 2l1 3l3 2l4-2l0-5l-1-1l0-2l-5-4l6-6l2-1l0-2l-3-4l1-2l2 1l4 4l-2 4l0 5l1 2l2 2l3 0l2-2l1 0l2 3l0 3l2 2l3 0l2-2l1-5l-2-1l-1-4l-4-2l2-2l3 0l2-1l1-2l0-5l2-2l2-1l6 0l1-1l7 0l4-2l6 0l3-3l4-1l3-3l1-2l0-3l1-1l0-3l-1-1l4-4l6-1l3-2l1 1l5 0l1 2l4 4l0 4l-1 1l0 2l-2 4l-4 5l0 5l-1 2l-2 2l-1 0l-4 5l0 8l2 2l2 1l4 0l5-4l3 0l2 1l1-1l2 0l6-3l2 0l1 1l6 0l6-3l4 2l10 1l4-3l1-2l0-4l-7-7l0-9l-1-1l0-7l-2-2l0-1l-7-4l-4 0l-3-2l0-2l1-1l4 1l2-2l1 0l0-1l-1 0l-2-2l-2 0l-4 2l-2-2l-4-2l-5 0l-1-1l0-2l-3-3l0-1l-2-1l-12 0l-1 1l-9 0l-1-1l-2 0l-4 2l-2 2l-2 0l-1-2l2-2l1-4l-3-4l-2-1l-4 0l-1-1l-4 1l-2-2l-4 0l-2 2l-8-1l-4 2l-2 3l0 6l4 4l4 1l1 1l1-1l3 0l6-3l8 1l1 1l-2 2l0 2l-5 4l-1 4l-6 6l-1 0l-2 2l-2 0l-2-2l0-3l-3-2l-2 0l-1 1l-4-1l-1 1l-2-4l-2-2l-3 0l-1-1l2-3l-1-6l-5-5l-2-1l-2 1l-3 0l-5 4l0 2l2 2l1 4l2 0l4 3l5 0l1 1l-3 4l-5 0l-1-1l-2 0l-6-6l-2 0l-3-2l-2 1l-1-1l-10 0l-1-1l-2 0l-4-2l-2-2l-1-4l-1-1l-4 0l-3 3l-4 0l-1-1l-3 0l-10-5l-1-1l0-8l-5-5l-2-5l-6-5l0-1l-4-5l-2-6l-2-2l-4 0l-8 4l-4 4l0 5l-1 1l0 2l-3 2l-4 1l-2 2l-2-1l-3-6l-2-2l-5 1l-3 2l-8 0l-8-4l-2 0l-2-2l-3 0l-2 2l0 6l1 2l3 2l-1 1l0 3l-1 1l1 1l0 2l-3 5l0 2l1 1l-1 1l-2 0l-3 4l1 3l1 0l3 3l-1 1l-3 0l-1 1l-5 0l-2 4l0 7l1 1l0 2l-2 4l-2 2l0 7l-1 1l0 4l-2 3l-8-4l-4 2l0 2l2 2l5 2l3 3l0 2l-2 3l-1 6l-3 6l-6 5l0 3l4 5l-2 2l-5 0l-2 1l-3 4l1 3l2 2l3 1l9 8l-6 3l-4 0l-1 1l-9 1l-2 2l-9 0l-3 3l0 2l1 1l0 6l1 1z"/>
<path fill="#7FB272" stroke="#7FB272" d="M661 502l1-1l3 0l1 1l0 3l-1 1l-3 0l-1-1zM412 500l1-1l1 2l-1 1zM432 496l-3 0l-1 1l-1 6l-1 1l0 2l-2 4l0 2l1 1l0 7l1 1l0 4l1 1l4 0l1-1l0-5l1-1l-1-1l0-4l-2-4l0-2l1-1l0-4l2-3l0-3zM416 490l1 1l0 2l-2 1l-1-1zM441 482l-1 0l-4 5l0 2l1 1l2-1l1-3l2-2zM542 459l1 4l3 3l2 4l2 1l2-2l1-3l-2-2l-2 0l-4-5zM659 444l-2 2l0 3l1 1l-1 1l1 1l0 4l-3 3l0 3l2 3l-1 1l-2 0l-4-3l-3 3l0 2l-4 3l-3 6l0 11l4 5l0 3l1 1l-1 5l1 1l0 4l1 1l0 2l1 2l5 5l0 2l3 2l0 3l3 3l4 1l4 4l4 0l4-2l3-4l1-8l2-2l0-10l1-1l0-6l-3-6l1-3l-2-4l0-5l-2-4l0-2l1-1l-1-1l0-6l-1-1l0-2l-1-2l-4-1l-2-2l0-1l-3-3l0-3l-2-2l0-2l1-1l-2-3zM517 439l1-1l2 0l2 2l-1 1l-2 0zM365 443l-4-1l-6-3l-10 8l-8 4l-5 4l-1 2l0 6l4 8l3 3l9 0l4-3l1 0l2-5l4-4l2-1l5-9l0-2l1-1l0-5zM514 438l1-1l1 1l-1 1zM334 433l-2 0l-3 2l-2 0l0 5l1 1l0 2l2 2l-4 3l0 3l1 1l4 0l1-1l0-4l1-1l2 0l2-4l2-2l0-2l-2-1zM615 424l2-1l1 2l-2 1zM318 424l0 4l1 1l-1 2l1 1l2 0l1-1l0-6l-1-1zM310 415l-2 2l0 1l2 2l0 2l2 2l2 0l2-3l-1-5l-1-1zM557 406l-1 1l0 4l3 1l2-2l0-2l-1-2zM202 402l1-1l2 0l1 1l-1 1l-2 0zM206 401l1-1l2 1l-1 1zM225 400l1-1l1 1l-1 1zM287 403l-3-1l-2-2l-3 0l-2-2l-4 0l-5 6l-3-3l-2-1l-3 0l-4 4l0 2l2 3l0 18l1 1l0 2l3 2l11 0l3-4l0-2l-1-1l0-2l1-1l0-4l4-3l5-1l5-5l0-2zM168 398l1-1l1 1l-1 1zM167 397l1-1l1 1l-1 1zM620 385l-2 1l1 2l1-1zM324 384l1-1l1 1l-1 1zM437 383l1-1l2 0l1 1l-2 2zM426 381l1-1l1 2l-1 1zM265 383l0 3l2 0l4 4l1 0l4 4l0 1l1 0l4 3l3-1l0-3l1-1l3 2l8 1l2 2l1 4l2 2l3 0l2-1l0-4l-2-3l0-2l1-1l-1-6l-5-7l-8 0l-2 2l-1 0l-3 3l-1 4l-2 3l-4-3l-3 0l-4-4l-1-2l-2-1l-2 0zM416 379l1-1l2 1l-1 1zM414 378l1-1l1 1l-1 1zM185 378l1-1l1 1l-1 1zM397 378l0-3l1-1l1 1l6-1l2 2l-2 4l-2 2zM150 368l2-1l1 2l-2 1zM128 364l1-1l1 2l-1 1zM224 363l1-1l2 2l-2 1zM223 362l1-1l1 1l-1 1zM716 360l1-1l1 1l-1 1zM717 359l1-1l1 1l-1 1zM571 353l-1 1l-1 4l2 2l2 0l2-2l0-2l-2-2l0-1zM167 355l0 2l3 3l0 1l4 0l1-4l-1 0l-4-4l-2 2zM127 350l0 5l1 0l2 2l0 2l-2 1l0 2l1 1l-1 1l-4-1l-3 3l1 3l2 2l4 1l1-1l0-4l4-2l0-2l1-1l7 0l2-1l3 3l1 2l0 3l2 0l1 1l-1 1l1 1l0 5l2 4l5 4l-3 2l0 4l3 1l3 3l1 3l1 0l4 4l0 1l1 0l3-4l2 0l4 5l2 0l4-3l1 0l2 2l0 2l2 2l2 1l2 0l1-1l3 3l4 1l8 6l2-1l3 3l3-4l5 0l1-1l2 0l0-1l2-2l1-4l2-1l-1-2l1-2l-2-3l0-1l2-2l0-2l-1-1l0-4l-2-1l1-6l-5-4l0-4l-2 0l-2-2l0-2l-2-1l-2-3l-2-1l-4 3l-2 0l-1-1l-8 1l-5-4l-2 0l-2 2l1 3l-2 2l1 5l-3 2l1 2l0 2l-1 1l1 2l-1 1l0 2l2 4l-2 2l-3 0l-1 2l-2 0l-7-8l0-1l2-2l1 0l1-2l0-4l-3-4l-1-3l-1 0l-2-2l0-1l-4 0l-3-2l-3 0l-3 2l-2-1l4-3l0-2l-1-1l0-4l-1-1l1-2l-3-2l0-2l-3-2l-1 1l-2-2l-6-1l-4-2l-5 4l-4 0zM268 343l-4 0l-1 1l0 3l-1 1l0 7l1 1l3-1l1-2l0-5l2-2l-1-1zM245 343l1-1l1 1l-1 1zM750 342l-4-4l-5 0l-4 3l-8 4l-2 0l-2 2l0 1l-4 4l-2 1l-6 0l-6 3l-2 0l-3 2l-1 0l-2-2l-2 0l0 3l1 1l0 4l-1 1l0 7l1 1l0 2l-4 4l-1 0l-1 2l-2 0l-2 2l-2 4l-3 3l-1 0l-4 3l-2 0l-2 2l-2 0l-4 4l-1 0l-4 4l-1 0l-7 7l-5-6l-6 1l-5 3l-13 0l-1-1l-5-1l-4-2l-2-2l-2 0l-3 3l0 4l2 2l-3 2l-5 0l-1-1l-2 0l-3-4l-3-1l-4-3l-1 1l-2-1l-1 1l-5 0l-2 2l-2 0l1 8l-4 3l-1 0l-1 2l-9 8l-1 0l-5-6l-1 0l-5-4l-6-3l-6 0l-2-2l-5 0l-1 1l-1-1l-4 0l-4 2l-2 2l-1-1l-4 0l-2 1l-2 3l-10 1l-2 2l-6 1l-7 4l-12 2l-8 5l-4 0l-1 1l-7 0l-2 2l-8 4l-3 4l-3 1l-2 2l-10 1l-4 2l0 1l-3 3l-10 0l-4-2l-4 0l-1-2l-1 0l-2-2l-2 0l-6-3l-2 0l-3 2l-6 0l-4 5l0 2l2 3l-1 4l3 4l0 2l1 1l0 4l2 2l0 2l4 8l11 14l0 12l1 1l0 2l6 7l4 0l1-1l2 1l4-2l1-2l0-6l4-2l0-11l1-1l0-3l2-2l0-2l1-1l0-4l1-1l0-3l-3-3l5-7l0-3l2-2l2 0l4-4l2-1l3 0l1-1l8-1l6-6l2 0l4-2l4 0l3-2l4 0l1 1l2-1l5 0l3-2l4-1l2-2l5 0l3-2l3 0l1-1l6 1l1 1l3 0l1 1l3 0l1 1l4 0l1 1l3 0l1 1l10-1l1-1l4 0l1 1l10 0l5-3l2 0l3-2l2 0l2-2l17 0l3-2l5 0l1-1l2 0l1 1l4 0l1 1l6-1l1-1l8 0l3-4l2 0l3-2l3 2l10 1l1 1l5 0l1-1l3 0l1-1l2 0l1 1l4 0l2-2l6-1l2-1l8-8l0-1l5-5l1-5l5-5l9-4l2-2l1-3l2-1l5-5l1 0l3-3l3-1l3-3l3-1l3-3l4-2l2-2l2-4l0-4l4-5l0-2l-1-1l1-2l4-4l4-2l3 0l3-3l6-1l2-2zM592 337l-2 2l0 2l2 3l-2 4l2 2l2 0l6-6l0-2l-1-1l-3 0l-1-2l-2-2zM396 336l2-2l8 0l2 2l0 4l-2 2l-8 0l-2-2zM577 332l1 1l-3 3l-2-2l2-2zM244 333l-3 2l0 2l3 3l1 3l1 1l2 0l1-1l1-6l-1-1l-4-1zM212 331l0 6l2 4l0 5l2 2l1 4l2 1l0 2l5 6l-2 1l-4-4l0-1l-1 0l-2-2l-2 0l-1 1l0 3l1 0l6 6l0 1l4 3l1 2l3 1l1-1l0-3l2-2l2 2l0 2l2-1l2 2l0 2l2-1l5 4l3 0l3-2l2 1l2-2l3 0l2-2l1-3l-2-1l-6 2l-1 2l-2 0l-3 2l-1 0l-4-4l-2 1l-1-2l-2-1l0-1l-9-10l0-3l-1 0l-5-5l-3-6l0-2l-2-3l0-2l-2-4zM273 330l-2 5l4 7l-1 1l0 3l-3 3l-2 4l2 3l5 0l1 2l3 1l1 2l2 0l1-1l1-4l-2-2l-2 0l-4-3l5-4l1-4l-1 0l-2-2l1-3l-4-8zM177 324l-2 3l0 2l1 1l2 0l2 4l3 0l2-2l-1-2l-2-2l-1-3zM691 323l-2 2l0 5l1 2l5 0l0-1l2-2l0-2l-3-4zM475 310l4 0l1-1l2 2l0 2l1 1l0 2l-1 1l1-1l2 2l0 2l2 0l2 2l-1 6l-2 2l-1-1l-9 0l-2-2l-1-8l2-1l-1-1l-1-5zM719 306l1-1l1 1l-1 1zM304 304l-1 1l1 12l1 1l4 0l0-3l-2-2l1-3l-2-1l2-2l0-2l-1-1zM195 304l-1 1l2 3l0 2l4 4l1 0l1-3l-2-3l-1-4zM517 301l12 0l1-1l2 2l4 2l3 3l-1 6l-2 1l0 2l-3 2l-4 0l-1 1l-2-1l-1 1l-7-5l-1 0l-2-2l0-9zM616 295l1-1l1 1l-1 1zM492 293l3 3l3 6l-10 7l-2 0l-7-5l0-5l1-1l0-2l2-2l9 0zM173 292l-2 1l-2 3l0 3l-1 1l1 1l0 2l-3 3l-1 0l0 2l1 1l2 0l1-1l0-2l2-4l2-2l-1-1l3-5l0-1zM457 284l1 2l2 0l2 2l-2 3l-1 5l-1 1l-7 0l-2-2l0-6l-1-2l2-2l6 0zM79 282l1 0l2 2l0 2l1 1l-1 2l-1 0l-4-5zM758 279l1-1l1 1l-1 1zM733 275l1-1l2 1l-1 1zM735 274l1-1l2 1l-1 1zM698 275l-1-1l-4 1l-2 4l-4 0l0 4l1 1l3 0l1 1l4-1l3-3zM234 274l-2 0l0 3l-1 1l0 2l2 2l1 3l-3 3l-1 0l-1 2l0 2l2 2l0 1l2 0l2-2l0-1l2-1l3-6l0-3l-1-1l1-2l-2-1l-1-2zM139 272l1 12l2 2l0 2l4 2l1-1l0-3l-1-1l-1-4l-2-1l2-4l-3-4zM590 273l0 4l2 1l3 0l2-1l0-3l-2-3l-3 0zM763 267l1-2l2 1l-2 2zM674 291l-3-2l0-2l-1 0l-2-2l-3 0l-2 2l-9-7l-2 0l-1-1l-6 0l-1-1l0-5l-1-1l0-2l1-1l-2-3l-3 0l-2 2l0 6l1 1l-2 2l-9 0l-2-3l0-3l-2-2l-2 0l-2 1l0 3l-1 1l-4 0l-1 1l-1 4l-2 2l-6 0l-2-2l-5 0l-1 1l-11 1l-2 2l-5 0l-1-1l2-2l0-2l-1-1l1-2l-1-1l-1 0l-2 2l0 3l-1 1l-3 0l-5-6l-2-1l-4 0l-2 4l0 6l2 2l0 1l-4 3l-4 0l-5-5l0-7l-1-2l-4-3l-6 0l-2 2l-1 0l-1 2l1 6l-1 1l-1 0l-5-5l-1 0l-9-8l-2 0l-1-1l-4 0l-1-1l-2 1l-3 0l-3 2l-12 2l-4 2l-4 4l-5 0l-1-1l-7 0l-1-1l-5 0l-7 4l-5 1l0 1l-2 2l1 2l0 5l1 1l-1 1l0 5l-3 3l-10 3l-1 2l-6 5l-4 1l-2 2l-9 4l-1 2l-4 1l-4 3l-3 1l-2 2l-3 1l-2 2l0 3l1 1l0 3l-1 1l-1-1l-8 1l-6-3l-2 1l-1-1l-3 0l-1 1l-8 0l-1-1l-6 1l-1-1l-6 0l-3 3l0 2l-2 2l-4-4l-5 1l-2-2l2-2l1 0l2-3l0-1l-2-2l-2-1l-4 2l-4 0l-2-3l-2 0l-4 4l1 3l4 3l2 0l1 1l2-1l3 0l2 2l-3 3l-6 3l-2 6l-4 3l-1 4l-1 1l0 5l5 4l-3 3l0 2l-2 3l0 2l-1 1l1 1l0 3l-2 3l1 1l-1 1l0 3l2 3l-1 2l0 2l1 1l0 4l-1 1l2 2l0 3l-1 1l2 1l0 3l3 2l3 0l0-1l2-1l1-2l0-3l-1-1l0-3l-1-1l0-4l-1-1l0-4l-1-1l0-5l-2-2l2-2l1 0l1-2l2 1l-1 2l0 9l2 2l2 0l2-2l1-2l-1-2l1-1l5 5l0 1l2 1l4-2l5-6l-1-2l0-4l1-1l2 0l3-2l4 0l4-2l6 0l3-2l3 0l5-4l0-6l1-1l4 1l1-1l2 0l2-3l1 1l0 3l1 1l-3 2l-3 0l-1 1l0 7l2 3l4 0l2 2l4 2l5 0l4 4l5 0l1 1l2 0l4 3l2 4l4 1l1 1l3 0l6 3l2-1l3 0l1-1l3 0l1-1l3 0l0-1l4-3l16-8l5-1l2-1l5-5l3-1l2-2l4 0l2-2l1 0l0-4l3-3l0-2l2-3l1 0l6-6l14-7l4-4l1 0l3-3l0-3l7-7l6-3l2 0l1-1l5 0l3-4l1 1l4 0l1 2l1 0l2 2l1-1l4 2l3 0l2 2l-2 2l1 5l5 4l1 0l7 7l0 1l3 1l3-3l-5-6l3-3l0-2l-3-3l0-1l-3-2l3-2l5 0l1 1l15 0l1 1l7 0l1 2l-5 4l-2 4l0 2l-3 3l-1 3l-4 4l0 3l2 2l3 0l3-3l1 0l2-3l2-1l0-2l2-4l2-1l1-2l4-4l2-4l0-2l-1-1l1-1l10 1l4 2l1-1l2 0l4-5l1 0l2-2l2 0l3-3l0-2l1-1l2 0l3-3l2 0l2 2l4 1l2-1l4-4l4-1l4-5l0-7l-1-2l-5-5l0-3l1-1l2 1zM267 267l-3-3l-5 0l-2-2l-1 1l-3 0l-3 2l-4-1l-1 7l1 1l12 0l1 1l5 0zM66 252l-6 7l0 4l1 1l0 6l1 1l0 3l1 1l0 2l3 3l0 3l1 1l0 9l2 2l2 4l0 2l5 4l0 1l6 7l0 7l3 4l0 2l2 4l3 3l1 3l5 6l1 5l3 4l2 5l3 3l3 0l4 2l3 3l3 0l1-2l2 0l1-1l0-2l-6-5l2-5l2-2l0-5l-6-11l-20-21l-2-5l-2-2l0-8l-2-3l0-2l-3-4l0-2l-2-3l0-2l-6-7l1-2l-1-1l0-4l-1-1l0-4l-1-1l0-2l-2-1l-3-3l0-1zM799 248l-2-2l-3 0l-1 1l-5 0l-6 3l-3 0l-4 2l-1-1l1-4l-2-1l-3 0l0 6l-5 5l1 1l0 6l-1 1l-4 0l-1 1l-3-4l-2 0l-1 1l-4 0l-1 3l2 3l0 2l1 0l2 3l-3 3l-3 0l-5-5l0-3l-1-1l1-2l-1-1l-3 0l-1-1l-7 0l-1-1l0-2l-3 0l-4 6l-2-2l-1 0l0 2l1 1l-1 3l3 3l1-1l5 1l1 1l-2 3l-3 0l-1-1l-2 1l-3 0l-2-3l-2 0l-1 1l1 2l-3 4l-3 0l-1-1l-2 1l-1 4l1 1l1 4l-4 4l0 1l-4 3l-4-1l-2 2l0 2l-1 1l1 3l1 0l2 2l4 0l1-2l2 2l1-1l2 1l0 1l-5 4l1 2l-1 1l-2 0l0 2l3 4l0 2l2 0l4-2l3 0l2 1l3-3l0-2l5-4l0-2l-1-1l2-4l-2-2l0-2l2-2l0-2l2-2l3 0l0-4l-2-2l0-1l2-2l-4-3l1-1l2 0l2 2l1 0l0-1l2-2l8 0l2-2l1 0l1 1l-3 4l1 0l3 3l3 6l2 2l1-1l0-2l-2-3l0-3l-2-3l1-2l2 2l2 0l4 2l4 0l0-1l3-3l4 0l2-2l2 0l0-4l1-1l-1-2l1-1l2 1l-2-4l2-2l2 0l0-6l2-3l3 1l1-1l6-1l1-1l0-3l-1-1l1-1l2 1l2-1l3 1l2-1l1-2l1 0l-1-1zM196 246l-1 1l0 3l1 1l3 0l2 2l0 4l-1 1l1 1l0 2l-1 1l2 1l3 4l-1 2l1 1l1 6l-2 2l0 4l1 1l1 4l-3 2l-1 3l1 1l0 3l4 0l2-2l0-1l4-3l0-2l1-1l0-4l-2-1l-2-3l0-1l3-3l-4-8l1-1l-3-4l1-1l-3-4l2-3l0-4l-2 0l-7-4zM141 245l-2 1l1 6l3 3l0 1l-2 1l0 4l1 2l3 0l2-2l0-9l-1-1l1-1l-1-1l-1-4zM828 244l0 1l2 1l0-2zM719 243l1-1l1 1l-1 1zM715 241l1 2l-2 2l-2-2l2-2zM256 241l1-1l1 1l-1 1zM691 241l3-2l2 1l-2 2l-2 0zM689 240l1-1l1 2l-1 1zM251 241l2-2l2 0l1 1l-1 2l-3 0zM642 237l-1 1l0 3l2 2l2 0l1-1l0-4l-1-1zM752 236l-4 0l-1 1l0 2l2 3l0 3l-2 2l-1 0l0 1l1 1l0 3l3 1l2-4l3 0l1-1l0-2l-2-3l-1-6zM188 242l0 2l2 2l9-5l3 0l1 1l3 0l3 2l2 0l5 4l4-2l0-4l-2 0l-2-2l-2 0l-1-2l-4 0l-3-2l-4 0l-1-1l-4 1l-2 2l-3 1l0 1l-2 2l-1-1zM286 230l1 1l0 2l-1 1l-1-1l0-2zM173 227l1-1l1 1l-1 1zM175 227l1-2l2 0l1-1l4 0l1 1l-1 2l-3 0l-1 1l-2-1l-1 1zM782 222l-2 1l4 4l-1 2l0 4l2 1l0-3l2-3l1 1l0-1l-2-2l0-1l-1 0zM294 241l0-3l-4-5l-1-3l-2-2l-1 2l-4 0l-1-2l-2-1l-4-4l0-1l-5 0l-2 3l0 2l5 4l-2 2l-5 0l-3-3l-4 0l-4-3l-2 0l-1 1l-1-1l-3 0l-1 1l-5 1l-1 1l0 3l-2 2l-2 1l-1-1l-2 3l-3 0l-1 1l1 2l2 1l3 4l2 0l1 1l2-1l1 1l2 0l2-2l1 0l1 2l3 0l1-1l8 0l1 1l2 0l1-2l2 0l1-1l5 0l1-1l4 0l4 3l2 0l1-1l0-3l-3-6l3-3l2 1l1 2l-1 1l3 4l2 1l2 0zM756 222l-2 4l0 5l2 0l1 1l0 2l5 4l1-1l5 0l-1-1l0-2l2-1l0-5l-2-2l0-1l-3-1l-2-2l0-1l-4 0zM308 219l-3 0l-5 3l-2 0l-2 2l-2 0l-2 3l0 3l1 0l3 3l4-1l4-3l2 0l2 3l0 3l-3 4l0 6l-1 1l-3 0l-1 1l0 2l3 3l3 0l2-2l1 0l1-1l0-3l5-4l0-2l1-1l0-3l-1-1l1-4l-2-3l0-2l-2-2l0-3zM231 218l-3 0l-3 3l-3 6l0 2l3 1l2-2l0-1l2-2l1 0l1-2zM743 216l-2 4l2 0l3 2l2 0l1-1l-1-3l-4 2l-1-1l0-2l1-1zM708 214l0 1l-2 2l0 1l2 1l0 1l-2 2l-4 0l-7 5l-2 0l0 2l-2 2l-1-1l0 1l-4 3l0 2l-1 1l-5-1l0 1l-3 3l1 2l1 0l1-2l4 6l2 1l2-1l2 3l3 0l5 3l1 0l0-1l3-4l4 2l0 1l-4 3l0 4l-3 3l-1 0l0 1l-2 2l-3 1l-1 5l3 3l3 0l2-2l3-1l1-5l-2-2l2-2l1 0l0-1l2-2l1 0l1-2l3-1l-1-2l2-2l1 0l4-5l2-1l1 1l3 0l0-1l2-2l1 1l4 0l2-3l0-1l-2-1l0-1l2-2l0-2l-1-1l-2 2l-3 0l-2-2l-5-3l1-2l-2-2l-3-1l-2-2l-2 0l-2-2l2-2l-1-3zM509 211l-1 2l0 3l2 2l1 3l1 1l2 0l2-2l-1-7l-2-2zM369 212l-3 4l-4 0l-1 1l-4 0l-1-1l1-3l5-4l1 1l2 0zM197 209l-2-2l-2 2l-3 1l0 1l-3 3l-2 0l-2 2l-3 0l0 1l-5 4l-6 0l-2-2l-1 1l-2-1l-5-6l-4-1l-3-3l-2 0l-1-1l-2 0l-2 2l0 2l1 1l2 0l6 7l3 0l1 1l3 8l6 0l1 1l4 0l1 1l3 0l1-1l1 1l4-3l3 0l4-2l-1-2l-2 0l-1 1l-2-1l2-2l1 0l8-9l2 0l0-3zM559 207l0 2l1 1l2-1l3 3l2-1l0-1l-4-4l-3 0zM136 206l-3 0l-2 2l-2 0l-4 3l0 3l1 1l-1 1l-1 6l-1 1l1 4l-1 1l0 3l-1 1l1 2l-1 2l1 1l4 0l2 3l0 3l-2 1l0 2l-2 2l0 1l3 2l3-5l3 0l2-2l-1-2l0-4l-2-1l3-3l1-4l4-4l2 0l4-5l-1-2l-2 0l-1-1l0-4l-2-1l-4-4zM746 203l1-1l1 1l-1 1zM93 203l-1-1l-3 0l-1-1l-3 0l-1-1l-1 0l-2 2l-4 1l1 1l-4 3l1 2l0 2l-1 1l1 1l0 2l-2 1l-1 2l0 3l1 1l3 0l7-8l0-2l-2-4l2-1l0-1l2-2l1 0l4 4l3-3zM834 198l-1 0l-1 3l-2 1l0 1l2 1l3-1l1-3zM229 197l-4 0l-2 3l1 2l-3 4l0 4l-4 5l1 4l3 0l0-2l2-3l0-2l3-6l4-5zM855 192l-1-1l-2 0l-1 1l-7 0l-1 1l0 2l1 0l2 3l2-2l1 1l1-1l3 0l2-2zM770 189l2 2l0 2l1 1l-1 1l-1 6l-4 5l1 2l-2 2l-2 0l-3-2l-2 0l-2-3l2-2l0-2l-2-2l1-3l2-2l2 1l3-3l3-1zM127 190l-2-2l-2 0l-3 4l-2 0l-1-1l-3 2l-4 0l-6 6l-1 0l-1 2l3 2l3 0l4-3l1 0l3-3l5-1l0-1l3-3l2 0zM155 186l-4 0l-2 2l1 2l-1 1l0 3l3 2l2-2l0-2l2-3l0-2zM852 181l2-1l5 3l-1 1l-3 0l-2-1zM777 181l0 1l1 0l0-1zM273 181l-2 2l0 7l1 1l-1 4l3 3l3 0l2-2l1 0l0-2l1-1l-1-9l-4-3zM58 180l-2 0l-2 3l0 4l-1 1l0 2l-2 1l0 2l-2 3l3 4l2-1l1-4l1-1l0-2l1-1l0-3l1-1l0-3l1-1l0-2zM850 180l-2 1l-1 2l-4 0l-4 2l-1-1l1-2l2 0l5-4zM777 177l-5 0l-2-1l0 1l-3 2l-8 1l0 2l-1 1l-2 0l0 5l-1 1l-2-2l0-1l-2-1l2 2l-1 1l0 2l1 1l-3 3l0 1l2 0l1 1l-1 3l-1 1l-2-2l0-1l-6 1l-1 1l-1 5l2 2l1 0l1 2l4 0l2-2l0-1l2-1l5 7l6 3l4 0l1-1l-1-2l5-4l1 0l1-2l-1-1l0-2l2-3l0-12l-2-1l-1-4l3-3l1 0zM94 171l0 2l2 0l1 2l1-1l1 2l2 1l2 2l0 1l1 0l2 2l-3 6l0 3l1 1l3-2l0-3l1-1l0-4l-1-1l1-1l-1-2l-1 0l-1-2l-1 0l-3-3l-2 1l-2-2zM57 169l-2 4l2 2l0 2l4 2l3-4l-5-6zM599 164l1-1l1 1l-1 1zM118 163l-1 2l1 1l2 0l4 2l1-4l-4-1l-1-1zM368 161l1-1l1 1l-1 1zM371 160l1-1l1 1l-1 1zM873 170l-1-1l-3 0l-2-2l0-1l-2 0l-2-2l-1 0l-5-5l-4 0l-1 2l-5-1l-3 3l-3 0l-2 2l1 2l-2 1l-2 4l-2 2l-1 0l-1 4l-2 2l-4-1l-1 2l-2 0l-1 1l1 2l-2 2l-1-1l-2 0l0 2l-5 4l-1 5l3 3l4 0l-1-2l1-1l2 0l2-4l2-1l4 0l1-2l2 0l1-1l1 0l2 2l0 1l2 0l0-2l1-1l2 2l2 0l1-1l5 0l2-2l1 0l4 3l2 0l0-3l-1-2l2-2l11 0l2-2l0-9zM629 157l-2 2l0 1l2 2l2 0l2-2l0-1l-2-2zM373 159l0-1l3-2l2 1l0 1l-2 2l-2 0zM281 155l1-1l1 1l-1 1zM388 156l4-5l7 0l5 5l2 1l-4 2l-12 0l-2-2zM273 149l1-1l1 1l-1 1zM858 145l-1 1l0 5l2 2l0 4l1 2l1 0l1-1l-1-2l0-2l1-1l-1-1l0-4l-1-2zM518 146l-3 3l0 3l2 4l1 0l4 3l4 0l2-1l2-3l-1-1l0-3l-3-3l0-1l-3-2zM46 145l-1 2l1 7l1 1l2 0l1-1l-1-2l1-2l0-3l-2-2zM291 142l1 1l-1 6l-2 2l-3 0l-2 1l-1 2l-1-1l0-3l3-5l0-4l1-1l3 2zM542 142l0 6l3 3l4 1l1 1l1-1l3 0l6-3l2 0l4 2l6-1l4-5l0-2l-2-3l-4-1l-1-1l-4 0l-2 1l-2-2l-3 0l-4 3l-3-2l-3 0l-1 1l-2 0zM107 126l0 2l3 3l1 6l-8 4l0 3l1 1l3-3l3 0l0-4l1-1l2 4l2 0l3 3l3 1l2 2l6 0l1 1l2-1l1 1l0 2l3 3l1 0l3 3l2-1l0-2l-4-3l4-3l0-2l-2-2l0-1l-2-1l-6 0l-1-1l-4 0l-5-5l-1 1l-3-3l-1-8l-2 1l-7-1zM37 124l-1 1l0 2l1 1l0 5l2 2l0 2l3 3l2 0l1-1l1-4l-1-2l-1 0l-3-4l0-3l-1-2zM271 123l1-1l1 1l-1 1zM274 122l1-1l2 0l1 1l-1 1l-2 0zM329 121l1-1l1 1l-1 1zM312 121l1-1l1 1l-1 1zM560 121l-2-1l-5 3l-2 0l-3 2l0 2l1 1l2-1l3 0l1-2l4-2zM284 119l0 2l-1 1l-5 0l-1-1l1-1l2 0l2-2zM344 121l-1-1l0-2l-2-2l-2 0l-1-1l0-3l-5-3l-6 1l-4 2l-2 2l-10 0l-3 4l-2 0l-1-1l-4 0l-4-4l-2-1l-4 0l-1-1l-4 0l-3 2l-4 0l-2 2l-3 0l-2 2l-4-1l-1 1l-2 0l-1 2l-3 0l-6 3l-8-1l-4-3l-2 0l-2-2l-2 1l-2-1l-3 0l-1 1l-3-2l-2 0l0 2l-1 1l0 2l2 0l1 1l0 2l2-1l3 0l1 1l-4 5l-2 0l-2 2l0 4l1 1l8-1l2-2l2 0l1-1l-1-1l1-1l3 0l4 2l5 0l1 1l7 1l7 5l1-1l3 0l1 1l0 3l4 4l0 1l-2 2l-2-1l1 6l-2 2l-2 4l-6 0l-2 1l-2 2l0 5l2 2l0 2l3 3l4 0l2-1l2-3l3 4l0 3l1 2l4 0l1-2l0-4l-3-6l-1-1l-2 0l-1-2l7-8l1 0l2 3l4 0l1-1l1 1l8 0l1 1l2 0l1-1l3 0l4-2l3 0l3-2l1-8l-2-2l-3 0l-1 1l-7 0l-1-1l0-5l-4-4l0-3l-1-1l1-1l2 0l2-2l2 0l3-2l2 0l3-3l13 0l1-1l1 1l0 4l-1 1l-1 4l-2 2l0 2l-2 2l0 4l1 1l2 0l6-8l1-4l2-2l0-1l1-1l1 1l2 0l3-2l2 0l2-2zM312 266l1 1l0 3l3 5l0 2l6 5l2 1l1-1l3 0l1-1l6 0l1 1l-2 1l-5 6l-6-1l-2 2l0 4l4 1l6 3l5 0l1-1l2 0l1-1l2 0l4-2l3 2l2 0l7-5l1 0l1-3l-3-4l1-1l0-5l3-5l0-3l4-8l1 1l3 0l5 3l5 1l4-3l1 0l7-6l1 0l0-1l9-8l2 1l1-2l1 1l2 0l1-2l2 0l2-2l1 1l1-2l2-1l7-8l-1-4l-1-1l0-3l-1-2l-2-1l0-6l-3-3l-3 0l-1-1l0-2l3-3l0-2l2-3l0-3l1-1l0-2l-1-1l0-7l3-4l5 0l4 2l1 2l7 7l0 2l5 4l6-3l4-1l1-2l4 4l2 5l4 4l0 1l4-1l1-2l0-3l-4-6l0-4l-1-1l0-2l-2-2l-2 0l-2-2l-1-3l-2-2l-4-7l1-8l1-1l7 0l1 1l4 0l1 1l1-1l1 1l2 0l3 2l2 0l6 3l2 0l1-1l4 0l1-1l2 1l2 0l1-1l4 2l7 0l1 1l0 4l1 1l0 5l3 1l3 3l0 1l-1 1l-4 0l-3-2l-2 0l-1 1l-6 1l-3 4l1 6l4 3l10 2l3 3l2-2l1 0l0-1l2-2l4-2l0-2l-2-4l-2-2l1-1l2 0l2 1l6 6l-2 1l-1 2l0 4l1 1l0 2l3 1l2-1l1-2l4 4l1 2l-1 1l1 2l3 0l2-2l0-3l-2-2l0-2l-1-1l-2 1l-2-3l-2 2l-2-2l0-2l1-1l7 0l1-1l2 0l2-4l0-2l-1-1l2-3l4 0l1-1l6 0l1-1l5 0l1-1l3 0l1-1l5 0l2-4l2 1l3-1l2-2l1-4l1-1l0-4l-1-1l1-2l4-3l3 0l6-3l6 1l1 1l0 2l2 2l2-1l1 1l0 6l-1 1l0 2l-2 4l-2 2l0 2l-2 2l0 4l-1 1l0 2l-2 2l-2 0l-1 3l-2 2l1 1l-1 1l0 4l3 3l4 0l2-1l3-4l3 2l3 0l8-4l2 0l1 1l6 0l7-4l4 3l3 0l1 1l5 0l3-2l1-2l0-3l-1-2l-6-6l1-2l-1-1l0-8l-1-1l0-5l-4-4l-4-2l-5 0l-2-2l-1-5l-2-2l-4-2l-5 0l-2-2l0-2l-5-4l-13 0l-1 1l-8 0l-2-1l-5 4l-7 0l-2 1l-1 3l-3 3l-1 0l0 1l-2 2l0 2l-7 7l-1 0l-2 2l-2 0l-3-2l1-2l-2-3l-3 0l-1 1l-2-1l-4 0l-2-2l-1-3l-3 0l-2 1l-2 4l-5 0l-1-1l-3 0l-2-2l-1 0l-3-4l-8-1l-1-1l-8 0l-1-1l-6-1l-4-3l-1-2l0-3l-4 0l-3 3l-4 0l-1-1l-3 0l-8-5l-3 0l-1-1l0-8l-5-6l-2-5l-9-8l-2-4l0-3l-1-2l-3-2l-10 5l-3 3l0 6l-2 4l-2 0l-7 4l-1 0l-2-2l-2-4l-3-3l-4 2l-2 0l-1 1l-5 0l-1 1l-3-2l-4-1l-2-2l-3 0l-3-2l-2 0l-2 2l1 6l4 3l0 4l-1 1l1 1l0 2l-3 4l0 3l5 5l1 3l-1 1l-2-2l-1 0l-2-2l0-1l-3-1l-3 3l0 1l2 2l3 1l1 2l-6 3l-5 0l0 1l-2 2l1 2l-1 1l0 4l1 1l0 2l-4 7l0 6l-1 1l-1 6l-2 2l-1 0l-7-5l-1 0l-2 2l0 2l1 1l2 0l2 2l1 0l3 3l1 0l1 2l-4 8l0 3l-2 2l0 4l-1 1l-4 1l-2 2l0 4l4 4l0 1l-3 2l-4 0l-4 2l0 4l3 3l3 1l9 8l-8 4l-4 0l-1 1l-9 1l-2 2l-5 0l-1-1l-3 1l-2 3l1 2z"/>
<path fill="#B2D144" stroke="#B2D144" d="M662 500l3 0l2 2l0 4l-1 1l-4 0l-2-2l0-3zM431 497l-2 1l0 5l-2 2l-1 2l0 3l-1 1l1 1l0 8l1 1l0 3l1 1l3 0l0-10l-1-1l0-3l-1-1l1-7l2-4zM543 460l0 1l3 4l2 0l2 2l2-1l-1-1l-2 0l-5-5zM397 457l1-1l1 1l-1 1zM330 447l-3 1l0 2l1 1l2 0l1-1l0-2zM660 446l-1 1l1 8l-1 2l-2 1l0 5l4 5l-1 1l-6-1l-1 1l-4 0l-1 1l-2 0l-3 4l-2 8l1 1l0 4l1 1l0 2l2 2l1 4l1 1l0 8l1 1l0 2l1 1l1 4l2 1l4 4l0 2l6 7l2 0l3 3l3 0l3-2l2-4l0-2l1-1l0-4l1-1l0-4l1-1l-1-4l2-3l0-4l-1-1l0-3l-2-3l0-4l-1-1l0-7l-1-1l0-9l-1-1l-1-5l-1-2l-2 0l-7-8l-1-8zM362 444l-4-1l-1-1l-3 0l-4 4l-1 0l-5 4l-5 2l-5 4l-1 2l0 5l2 2l0 1l2 2l0 2l2 2l3 0l1 1l1-1l3 0l4-3l0-2l2-2l0-1l3-3l1 0l2-3l1 0l0-1l3-4l1-7zM328 436l0 4l1 1l0 2l1 1l5 1l3-6l-2-1l-2-3zM600 430l1-1l5 0l1 1l-1 1l-5 0zM629 425l1-1l2 1l-1 1zM321 425l-2 0l1 6l1-1zM615 421l3 0l2 2l0 3l-2 2l-3 0l-2-2l0-3zM640 415l1-1l2 1l-1 1zM644 414l1-1l2 1l-1 1zM580 409l2 1l9 0l1-1l0-2l-1-1l-10 0zM212 403l-1 2l3 4l0 1l-1 1l-1-1l-2 0l-1 1l0 2l2 1l-1 2l2 2l1 0l0-3l1-1l-1-3l1-1l1 1l3 0l0-2l-2-2l0-1l-1 0zM276 400l-2 0l-2 2l-2 5l-2 2l-2-2l-2-4l-3-1l-2 2l0 2l1 1l0 18l1 1l0 2l2 2l4 0l1-1l4 1l2-3l0-10l2-2l1 0l1-2l5-5l0-3zM194 400l2-1l1 2l-1 1zM187 397l2-1l2 3l-2 1l-2-2zM165 394l1-1l1 1l-1 1zM164 393l1-1l1 1l-1 1zM342 389l-1 4l1 1l3 0l2-2l0-1l-2-2zM160 389l1-1l1 1l-1 1zM159 388l1-1l1 1l-1 1zM266 383l0 2l2 0l1 2l1 0l2 2l0 1l1 0l3 3l0 1l1 0l4 3l2 0l0-2l1-1l-1-2l-3 0l-1-2l-4 0l-6-6l0-1zM429 385l1 1l0 2l2 0l1-1l1 2l2 0l1-1l2 2l1 0l2-2l4-1l0-1l2-1l0-2l-5-1l-4 4l-4-3l-3-1zM286 386l0 4l1 2l2 1l4 0l3 2l4 0l2-2l1 0l-1-6l-2-4l-1 0l-2-2l-6 1zM393 375l0 3l2 2l2 0l-1-1l0-5zM151 372l1 2l-1 3l2 2l0 1l2 1l0 2l2 0l3 4l-1 1l-3-1l-1 1l0 3l2 1l1-1l2 2l2 5l1 0l4 4l2-2l-2-1l-1-4l2-1l4 5l2 0l1 1l1 3l2 0l4-5l1 1l2 0l5 4l3 1l2 2l1 0l1 2l3 0l1-1l-5-3l0-1l3-3l2 0l1-1l1 1l1-1l1 1l2-1l3 0l1 1l5 1l2 2l3-1l1-2l2-2l1 0l2-3l-1-1l0-5l-3-2l1-1l0-4l-4-4l1-2l-1-1l-2 0l-2-2l0-3l-2 0l-3-3l0-1l-4 3l-4 0l-2-2l-2 2l-3 0l-2-2l-5-1l0 4l-2 1l2 8l-4 4l0 2l-1 1l0 2l3 5l-2 2l-2-1l-3 4l-2-1l-7-8l0-3l3-4l0-3l-5-7l-8-4l-2 0l-1 2l-5 0zM124 364l-2 2l1 3l3 2l2 0l0-2l1-1l-1-3l-1-1zM434 358l1-1l2 0l1 1l-1 1l-2 0zM129 360l0 2l1 1l3-1l2-2l9 0l2 2l0 1l1 0l3 3l0-1l2-2l-7-5l-4 0l-2 1l-2-2l-1 0l-1 1l-2 0zM213 356l0 2l7 7l0 1l2 0l3 3l0 1l2 1l1-3l-5-5l-2 0l-3-3l0-2l-2-2zM571 354l0 2l-1 1l1 2l2 0l1-2l-2-2l0-1zM168 355l2 5l1 1l2 0l1-4l-1 0l-1-2l-2-1zM111 354l1-1l1 1l-1 1zM141 351l1 1l2 0l4 2l2-1l0-2l-2 1l-2 0l-4-2zM267 343l-3 1l0 3l-1 1l0 7l2 0l1-1l0-2l-1-1l3-4l0-3zM598 342l-1 0l-5 5l1 2l3-3l0-1l3-2zM748 342l-2-2l-4 0l-4 3l-2 0l-5 3l-4 1l-4 8l1 2l-2 1l0 1l-4 5l-2 0l-3-4l-4 0l-3 2l-3 0l-2 1l-2 3l1 10l-2 1l-6 6l-1 0l-8 9l-1 0l-3 3l-1-1l-2 2l-5 2l-7 7l-4 2l-2 3l-1 0l-3 3l-2 0l-1 1l-3 0l-1-1l1-1l2 0l2-2l-2-4l-6 1l-1 1l-6 1l-1 1l-9 0l-3-2l-2 1l-3-2l-2 0l-4-2l-2 2l1 3l3 2l-1 1l-4 0l-2 2l-5 0l-1-1l-12 0l-1 1l-6 0l-8 4l-10 10l-2 1l-6-3l-5-5l-4-2l-3-3l-6 0l-2-2l-8 0l-2-1l-2 1l-4 4l-2-1l-4 0l-5 4l-8 1l-3 2l-8 2l-5 3l-5 0l-1 1l-5 1l-2 2l-4 1l-3 2l-2 0l-1 1l-4 0l-3 2l-2 0l-2 2l-3 0l-2 2l-2 0l-5 5l-4 2l-4 0l-1 1l-3 0l-1 1l-4 1l-1 3l-3 2l-12-1l-1-1l-3 0l-1-1l-1 1l-2 0l-1-1l0-2l-3-3l-2 0l-4-2l-2 0l-6 3l-1-1l-2 0l-2 3l0 2l3 3l-2 3l3 4l1 6l2 3l1 5l3 6l9 10l1 2l0 3l1 1l0 9l1 1l0 2l5 6l8-1l1-1l0-2l-1-1l0-6l-1-1l0-5l-1-1l0-2l2-3l0-5l1-1l0-2l2-2l2-4l0-3l1-2l2-2l1-3l2-1l1-4l3-3l2 0l7-5l4 0l1-1l6-1l2-1l1-2l4-3l6-1l1-1l3 0l6-3l2 2l1-1l7-1l0-1l2-1l1-2l2 0l1-1l2 1l2-1l2 1l9-5l6 0l2-2l2 0l1-1l9 1l9 9l5 0l1-1l8 1l1-2l1 1l4 1l5-3l2 0l3-2l2 0l2-2l14 0l1 1l5-3l2 1l2 0l1-1l7 0l1 1l3 0l4-2l7 0l2-1l0-1l2-2l3 0l1-1l4 0l1 1l5 0l1 1l5 0l1 1l3 0l1-1l3 0l1-1l7 1l2-2l2 0l1-1l4 0l4-4l1 0l0-1l4-4l2-4l3-3l0-3l2-2l1 0l4-4l2 0l4-3l1 0l11-12l1 0l4-3l2 0l3-4l2 0l10-8l2-8l3-4l0-1l-2-1l1-2l2-1l0-1l3-3l4-1l1-1l3 0l3-3l6-2l1-1zM578 335l0 1l-2 1l5 5l2-2l-3-3l0-1zM617 333l-3 0l-1 2l-6 6l-5 10l-4 4l1 4l1 0l0-1l2-1l5-5l3-6l8-9l0-3zM212 332l1 4l1 1l0 3l2 4l-1 2l2 2l1 4l2 2l2 4l7 6l0 2l2-1l3 3l1 0l3 3l1 0l5 5l1 0l0-1l3-2l1 1l2 0l2-2l3 0l2-2l-1-2l-2 1l-3 0l0 1l-2 2l-4 2l-2 0l-3-3l-3-1l-3-3l-1 0l-5-5l0-2l-1 0l-2-2l0-3l-1-2l-1 0l-2-2l0-1l-2-1l-1-3l-3-3l0-2l-2-3l1-2l-2-1zM274 331l-2 3l4 8l-1 1l0 3l-1 2l-4 4l0 1l3 3l1-1l1 1l2-1l2 2l0 1l4 2l0-2l1-1l-1 0l-2-3l-2 0l-3-3l1-2l1 0l4-3l0-2l-3-4l1-1l-1-1l0-2l-2-2l0-2l-1-1zM497 331l1-1l4 0l1-1l4 2l-1 1l-8 0zM320 332l0 2l1 1l2-1l2 2l2 0l1 1l2 0l1-1l1 1l2 0l2-2l1 0l1-3l-3-2l-4 2l-4 0l-2-2l0-1l-4 1zM691 325l-1 1l0 3l1 2l3 0l2-3l-2-3zM453 322l2-2l3 0l1 1l-3 2l-2 0zM458 322l3-2l0-1l-2-2l0-1l2-2l2 0l1 1l6 0l2 2l0 3l-2 2l-5 0l-1 1l-5 0zM470 314l1-1l1 1l-1 1zM709 312l4 1l1 2l1 0l1-2l-5-3zM511 310l0 4l1 1l5 0l-3-3l0-4l-2 2zM493 307l-1 0l-4 3l-2 0l-1-1l-2 1l1 5l2 2l0 2l2 0l2 2l0 3l8-3l2-3l0-2l-2-2l0-3zM613 307l2-2l2 1l5 0l1 1l-1 1l-8 0zM197 304l-1 2l1 1l-1 2l2 1l2 2l0 1l1-3l-2-2l-1-4zM638 302l2-1l3 3l0 1l-1 1l-3 0l-1-1l1-1zM529 298l1-1l1 1l-1 1zM621 295l0 1l-3 2l-5 0l-1-1l0-1l4-4l2 0zM173 292l-3 6l1 1l3-5zM589 291l1-1l2 1l-1 1zM591 290l3-3l2 0l1-1l2 1l4-1l1 1l3 0l1 1l-4 3l-2 0l-1-1l-2 0l-1 1l-6 0zM745 280l1-1l1 1l-1 1zM762 277l1-1l1 1l-1 1zM757 280l2-4l2 0l1 1l-2 3l-2 1zM697 275l-4 1l-1 3l-1 1l-3 0l0 1l1-1l3 4l3 0l0-1l3-3zM234 275l-2 2l0 3l2 2l0 1l2 1l-2 3l-3 1l-1 2l0 3l1 1l2 0l3-3l3-6l0-3l-1-1l1-2l-2-2l0-1zM763 273l1 2l-2 2l-2-2l2-2zM675 306l-3-6l-4-3l0-2l-2-2l0-1l-2 0l-1-1l0-3l-4-2l-3-3l-2 0l-3-2l-3 0l-1 1l-1-1l-6-1l-3-2l-2 1l-2 0l-1-1l-11 0l-3-2l-2 0l-2 2l-1 3l-2 2l-2 0l-1 1l-6 0l-1-1l-2 0l-1 1l-3 0l-1-1l-9 0l-2 2l-7 0l-2-3l-4 1l-3-3l0-2l-2-2l-3-1l-3 6l2 2l0 1l1 0l2 2l-6 5l-7 0l-5-5l0-1l-2-1l1-1l-1-2l1-1l-1-4l-5-3l-1 1l-2 0l-2 2l0 3l3 3l-1 1l-1 0l-2 2l-4 1l-2 3l-2-3l-3-1l-2 2l-1 0l0 3l3 2l3 0l1 1l0 2l-2 3l0 2l4 0l3-2l2 2l0 1l1 0l6 6l0 2l-1 1l4 2l-1 2l-3 0l-3 4l-4 1l-7 4l-1 2l-2 2l-4 2l-2 3l-3 0l-1-2l3-3l2 0l1-2l3 0l2-3l-2-2l-3 2l-5 0l-2-1l-4 2l-8 0l-3 3l0 3l2 1l-1 1l-12 0l-1 1l-1-1l-5 0l-1 1l-4-5l0-2l-1-1l0-5l1-1l0-2l-3-5l0-6l1-1l3 6l1-1l3 0l-1-4l-4-4l1-4l4-3l2 0l3-2l3 0l1-1l3 2l3-1l4 4l1-1l7 0l1-1l3 0l2-3l0-2l-1-1l1-1l0-4l-4-4l-2 0l-2-2l-7 0l-3 2l-6 0l-2 2l-3 0l-1 1l-6 1l-1 2l-5 0l-1 1l-2 0l-1 2l-4 4l0 2l-3 4l-2 0l-1 1l-2 0l-4 2l0 4l-1 1l0 4l1 2l-2 2l-6-1l-4-2l-5 0l-2 1l2 2l4 1l3 3l3 0l1 1l-1 1l-6 1l-4 2l-3 0l-4 5l-6 0l-1 1l-3 0l-1 1l-3 0l-1 1l-1-1l-3 0l-1 3l1 0l3 3l0 5l-2 2l-9 0l-4 3l-1-1l0-4l-1-1l-2 1l-5 0l-1-1l-7 0l-1-1l-4 0l-1 1l-1-1l-7 0l-1-1l-1 1l-3 0l-1 1l-1-1l-2 0l-6 3l-1 1l0 4l-1 1l-2 0l-1-1l0-4l-2-2l-2 0l-1 1l-4-1l0 1l-2 2l-1 0l-5 4l-2 6l-5 5l0 4l4 3l-1 2l2 1l-3 3l-1 0l0 2l-2 4l0 6l-2 3l1 1l0 4l1 1l-1 1l1 1l-1 4l1 1l0 6l1 1l0 4l1 1l0 2l1 0l1 2l2 0l3-3l0-4l-2-4l0-4l-1-1l0-4l-1-1l0-5l-2-2l3-3l-1-3l2-2l0-4l1-1l0-2l4-2l0-2l1-1l2 2l0 1l2 1l0 1l-3 3l0 3l1 1l-1 1l0 5l3 2l3-3l1-7l3-4l3 0l2 3l0 2l2 2l2 0l2-2l3 0l1-1l13-1l2-2l4-1l2-2l0-4l-1-2l2-2l2-1l5 1l2-4l2-2l2 0l1 1l0 10l7 5l2-1l3 0l3 2l7 0l1 1l2 0l2 2l3 0l1 1l6 0l1 1l3 0l3 2l6-3l3 0l1 2l1 0l1-1l3 0l3-2l9 0l3 2l6 1l1-2l1 0l3-3l3-1l2-2l5 0l4-5l1-4l4-4l1 0l0-1l4-4l2 0l14-8l5-5l0-3l2-2l1 0l0-1l5-5l4-1l6-3l4 0l4-4l4-8l5 1l3-2l2 0l3-3l3 3l2 0l1-1l8 0l1-1l10 11l3 0l4-3l0-2l2-3l-1-2l1-2l5 0l1 1l-2 3l0 2l3 3l3-1l1-2l0-3l2-2l2 0l6 3l-1 3l3 4l3 0l1 1l-1 1l0 3l2 2l2 0l3 4l2 0l6-6l4-1l3-3l0-2l-3-3l-6 3l-4-3l-2 0l-2-2l0-2l1-1l9 1l2 2l4 0l4-2l3 0l2 2l4 2l4 0l3-4l3 0l4-2l1-2zM140 273l-1 3l2 1l-1 2l1 4l2 1l-1 1l1 1l0 2l1 1l2 0l1-1l-4-8l1-4l-3-3zM640 269l-2 2l1 1l0 2l1 1l2 0l1-2zM757 269l1-2l2 1l-2 2zM246 268l0 2l1 1l12 0l1 1l4 0l1-2l0-4l-3-2l-8 0zM203 255l-2 2l2 2l1 4l2 3l-1 1l0 2l1 1l0 5l1 1l-2 3l1 8l-3 4l1 2l-1 2l4 0l1-1l0-2l1-1l2 0l2-2l0-3l1-2l-4-4l-1-2l3-3l-2-3l-1-6l-1 0l-2-3l1-2l-3-3zM67 253l-6 7l1 1l0 3l1 1l0 8l4 6l0 3l2 4l-1 6l4 8l2 1l3 3l0 1l2 1l1 3l4 4l-1 2l1 6l2 4l2 2l1 3l3 3l2 5l2 2l3 8l3 3l1 4l2 2l2 0l4-3l1 2l4 3l1 0l1 2l2 0l1-2l-4-3l-1 0l-3-3l3-2l1-3l2-2l-1-2l0-3l-2-4l-3-3l-1-3l-3-3l-1 0l-8-9l-2-4l-5-4l-2-5l-2-2l0-3l-1-1l0-6l-1-1l0-2l-1 0l-1-2l0 2l-1 1l-5 0l-1 1l-1-1l0-3l-2-1l0-9l1-1l1 1l5 1l-6-7l0-7l-1-1l0-4l-1-1l0-2l-5-5zM360 252l1-1l1 1l-1 1zM707 251l1-1l2 1l-1 1zM798 248l-3-2l-1 1l-5 0l-4 3l-4 0l-6 3l-2 0l-1-1l2-3l0-2l-3 0l-1 4l3 2l0 2l-1 1l-1-2l-2 0l-2 2l0 9l-2 3l-2-1l-2 1l-2-1l-2-4l-6 1l-1 2l1 4l1 1l2-1l1 1l0 2l-2 2l1 1l-3 3l-1-1l-3 0l-1-1l0-2l-4-3l0-2l-2-4l-4 0l-2-2l-4 0l-1-2l-2 2l-1 0l-1 2l-2 1l-2-1l1 2l-1 1l1 4l2 0l1-1l2 1l8 0l1-1l2 1l2-1l1 1l-2 2l-4 2l-4-1l0 1l-2 2l-2 0l-1-1l-7 0l-3-3l-1 1l1 2l-3 5l-3 0l-2-1l-2 2l2 8l-2 2l-1 0l-3 4l-6 3l-2-1l-1 1l0 3l5 4l2-2l7 0l2-2l2 1l4-1l1 1l6-6l0-1l2-2l2 0l1-2l-1 0l-2-3l1-1l0-2l-3-3l1-2l3 0l2 2l1 0l0-1l3-2l4 0l1-1l1 1l2-1l5 0l4 3l2 0l1 1l4 0l2 1l4-4l4 0l2-2l1 0l0-2l1-1l-1-1l1-1l-1-1l2-1l0-3l-1-1l4-3l1-6l2-2l6 1l2-2l2 0l1-2l-1-2l1-1l2 0l1-1l2 1l3 0l2-2zM142 245l-2 1l1 6l2 1l0 3l-1 1l-1 4l1 1l2 0l0-1l2-1l0-10l-2-4zM708 245l1-2l2 1l-2 2zM240 240l1-1l1 1l-1 1zM728 239l1-1l1 1l-1 1zM688 240l1-1l5 0l1-1l2 2l-1 2l1 1l3 0l1 1l-2 3l-4-2l-2-2l1-1l-1 1l-2 0l-2-1zM644 238l-2 1l0 1l2 2l1-1l0-2zM749 236l-2 2l0 1l4 5l-4 4l1 4l1 0l3-3l3-1l0-3l-4-2l2-1l-1-1l0-4zM189 242l0 2l2 1l4-3l3 0l2-2l2 0l6 3l3 0l1-1l1 1l0 2l4 2l0-1l2-1l0-2l-1 0l-2-2l-2 0l-1-2l-4 0l-3-2l-4 0l-1-1l-2 0l-4 2l-4 4zM695 229l1-1l2 1l-1 1zM781 223l0 1l1 0l3 4l-2 3l1 2l3-6l-4-4zM288 230l-1-1l-1 1l-5 1l-1-1l0-2l-2 0l-4-4l0-1l-3 0l-2 2l0 2l1 0l4 4l-4 4l-1-1l-3 0l-2-1l-1-2l-2 1l-6-4l-2 1l-1-1l-4 0l-1 1l-3 0l-2 1l0 3l2 1l-1 1l-11 4l0 2l1 0l4 4l5 0l1 1l1 0l1-2l4-2l0-1l3-3l4 0l2 1l2 3l0 2l2 0l3-3l2 0l2 2l3 0l2-2l1 0l0-2l1-1l1 0l4 4l1 0l1-1l-3-3l0-2l-2-1l0-2l1-1l2 2l1 0l4-4l1 1zM759 221l-2 2l-1 0l0 2l-1 1l0 4l1 0l2 2l0 2l1 0l2 2l0 1l4 0l2-2l0-2l2-1l0-2l-3-4l0-1l-2 0l-4-4zM405 220l2 2l2 0l2 2l-2 3l-6-5zM308 220l-3 0l-5 3l-2 0l-5 4l0 2l4 3l1-1l3 0l0-1l3-3l1 0l4 5l0 3l1 2l-1 1l-2 0l-1 2l0 2l1 1l-1 2l-3 3l-2-1l0 2l3 2l3-1l2-2l0-3l2-2l3-1l0-3l1-1l0-1l-2-2l2-4l-2-2l0-2l-2-3l0-2l-2 0zM230 219l-4 2l0 1l-3 4l0 3l2 0l1-2l3-3l1 0zM710 215l-1 0l0 4l-3 3l-2 1l-3 0l-1 2l-4 2l-2 0l-1 1l1 1l-3 3l-4 2l0 2l-2 4l-2-2l-4 1l6 7l2-1l5 4l3 0l3 2l0-1l4-4l1 0l1 2l2 0l1 1l0 1l-5 4l0 3l-4 4l0 3l-1 1l-2-1l-2 2l0 3l4 3l3-3l1 0l2-3l-2-4l2-2l1 0l4-4l1-2l2 0l0-3l1-1l2 0l1-3l4-3l-2-1l-2 2l-2 0l-2-2l1-2l2 0l1-1l1 1l4 0l3 4l2-4l1 0l2 2l4-2l0-2l-1-1l1-4l-2 1l-2-1l-3 0l-4-4l-1 0l-1-1l1-1l0-2l-10-5l0-2l1-1l-1-1zM196 209l-1-1l-2 1l-3 3l-4 2l-6 5l-2 0l-3 3l-7 0l-1-1l-4-1l-7-8l-1 1l-3-3l-1 1l-2-2l-2 0l-1 2l2 1l3 3l0 1l2 1l1 2l4 0l1 1l0 3l4-1l3 2l-1 1l-4 0l0 2l1 1l5 0l2 2l3 0l1-1l1 1l2-1l2 1l1-2l1 1l2-2l6-1l0-1l-2 0l-3 2l-6 1l-1 1l-4 0l-1-1l3-3l1 1l3-2l4 0l3-3l1 0l0-1l2-1l0-3l5-4l1 1l2-2zM135 207l-4 3l-2-1l-2 2l0 2l-1 1l0 4l-1 1l0 12l-2 4l1 2l2 0l1-1l2 1l2 8l3 0l1-1l-1-2l0-4l-2-2l3-2l1-2l0-3l5-4l1 0l1-1l0-2l2-2l-1 0l-2-2l-1-4l-5-5zM747 200l1 1l0 2l-1 1l-1-1l0-2zM92 204l-1-1l-2 0l-2-2l-4 0l-2 2l-2 0l-1 1l1 2l-1 1l-1-1l-2 1l0 2l2 4l-1 2l-2 2l-1 0l0 2l-1 1l1 1l4-1l1-2l4-4l0-2l-2-3l0-2l1-1l1 0l3-3l1 0l2 2l1 0l1 2l2-2zM836 201l-2-2l-3 3l1 1l2 0zM503 200l1 2l3 0l1 1l1 0l1-2l-4 0l-2-2zM229 198l-4 0l-1 2l1 3l-3 4l1 1l-2 3l0 2l-3 2l1 4l1 0l0-2l3-4l0-4l2-1l1-3l3-3zM817 196l1-1l1 1l-1 1zM499 193l-1 2l3 2l1-1l0-2l-1-1zM854 192l-1-1l-1 0l-1 2l-5 0l-1-1l-1 1l0 2l1 1l2-1l1 1l3 0l3-2zM757 191l1-1l1 1l-1 1zM771 188l1 2l2 1l-1 1l0 2l1 1l-1 1l0 3l-1 1l-1 4l-3 2l0 2l-3 3l-1 0l-1-2l-3 0l-3-4l1-2l0-2l-1-1l0-4l2-2l3 0l2-2l4-2l1-2zM759 189l1-1l1 1l-1 1zM126 190l-2-1l-6 4l-1-1l-1 1l-5 1l-4 4l-4 2l0 1l2 1l3 0l4-2l2-3l5-2l4-4l2 1zM760 188l1-1l1 1l-1 1zM155 187l-3 0l-2 2l0 3l-1 1l1 0l2 2l2-2zM541 185l1-1l2 1l-1 1zM57 181l-1 0l-2 9l-1 2l-2 1l1 1l-1 1l0 3l1 1l2-1l0-2l2-3l-1-2l1-1l0-3l2-4zM833 178l1-1l1 1l-1 1zM776 178l-4 0l-1-1l-2 2l-1 0l-1 2l-1-1l-3 0l-2 1l0 2l-4 2l-1 2l1 2l-1 1l-3-2l0 3l1 1l-3 2l2 1l1 2l-2 2l0 1l-2 1l-1-1l0-2l-4 0l-2 1l-1 5l2 1l2 3l4-2l2-4l1 2l3 2l0 2l3 3l2 0l6 3l1-1l-1-2l7-5l0-2l-1-1l1-1l0-2l2-2l0-4l-1-1l0-6l-3-4zM94 171l0 2l2 0l4 2l6 7l-1 2l0 3l-2 2l0 1l2 1l1-1l-1-1l3-6l-1-3l-4-5l-2 0l-4-3l-2 0zM58 170l0 1l-2 1l0 1l2 2l0 2l1 1l2 0l2-2l0-1zM274 168l-1 2l3 3l0 1l2 2l1 0l1-2l-3-3l0-1l-2-2zM859 166l1-1l2 0l1 2l-1 1l-2 0zM118 165l2 0l3 2l1-1l-1-2l-2 0l-1-1zM872 170l-4-1l-1-2l-3 0l-7-7l-1 1l-2-1l-3 2l-4-1l-3 3l-3 0l-1 2l1 2l-2 2l-1 0l-2 4l-3 2l1 1l-1 2l-5 3l-5 0l0 2l1 1l-3 2l-1-1l-2 2l-1 0l0 1l-3 3l0 2l-1 1l2 2l1-1l2 1l2-2l1 0l0-1l3-3l7-4l1-2l4-1l3-3l5-2l2-3l1 0l2 3l2 1l2 0l1-1l4 2l2 2l3 0l1-1l6 0l2-4l0-3l-1-1zM275 152l1-1l1 1l-1 1zM519 149l0 6l1 0l2 2l3 0l2-2l-1-4l-3-3zM313 148l-1-1l-2 1l-7 0l-2 2l-2 0l-2 2l-3 0l-1 1l-2-1l-2 2l-3 0l-1 2l2 1l1-1l2 0l1 1l2-1l2 0l1 1l1-1l1 1l3 0l1-1l7 0l4-3l-1-2zM858 146l0 5l1 1l0 5l1 1l1-1l0-4l-1-1l0-5zM47 145l0 1l-2 1l0 2l2 1l0 3l2 1l-1-2l1-4zM544 143l0 3l4 4l5 0l4-3l3 0l2-4l2 3l0 2l2 1l3 0l1-1l2 0l2-4l0-1l-3-3l-5 0l-3 2l-3-3l-2 0l-2 2l0 2l-1 1l-1-2l-1 0l-2-2l-5 1zM110 139l-2 0l-1 2l-3 0l-1 3l2 0l0-1l2-2l3 0zM120 138l1-1l1 1l-1 1zM107 127l5 7l1 5l1 0l6 5l2 0l2 3l2-2l2 1l4 0l3 3l2 0l4-2l0-2l-3-3l-4 0l-1-1l-1 1l-2-1l-2 0l-1 1l-4-4l-4-2l-2-3l0-3l-1-1l1-1l0-2l-2 1l-2 0l-1-1l-4 0zM554 125l-2 1l-3 0l0 1l2-1l3 0zM332 124l1-1l1 1l-1 1zM39 124l-2 1l0 2l2 4l-1 2l3 6l2 1l2-4l-2-4l-3-2l0-3l-1-1l1-1zM325 120l-3-1l-3 2l-6 1l-1 1l5 0l1-1l3 0l2 1l2-1zM341 118l-2-1l-1 1l-4 0l-1 2l0 3l-1 1l-3 0l-1 2l1 3l-1 1l0 2l-4 4l0 2l-2 2l1 2l6-7l1-4l1-1l0-2l3-2l2 2l6-3l0-2l1-1zM310 122l-2-2l-2 0l-1-1l-5 0l-2-1l-4-4l-3 0l-1-1l-4 3l0 5l1 1l-1 1l-3 0l-1 1l-3 0l-1 1l-3 0l-1 1l-4 0l-1-1l-2 0l-5-4l-3 1l-3 3l-3-2l-6 0l-1-2l-6-3l-5 0l-1-1l-4 1l-2-2l-1 0l-1 3l4 2l5-1l3 2l-3 2l0 2l1 1l-1 1l-5 1l-3 2l0 2l1 1l2 0l1-2l1 1l2 0l2-3l2 1l0-2l3-2l1 1l10 1l1 1l4-1l6 3l4 3l6-1l3 2l-3 2l1 3l3 4l-3 5l2 4l-2 1l-1 2l-4 4l-6 0l-2 1l0 4l3 3l0 1l3 2l4-3l0-4l-1-1l2-2l1 0l1-2l5-5l-1-1l1-2l0-4l3-2l0-2l-1-1l3-6l1-1l3 0l2-2l4-2l0-4l-3-4l2-1l5 5l2 0l1-1l2 0l1-1l4-1l2-2zM314 261l1 1l0 3l2 2l0 6l1 2l5 4l0 1l2 1l1-1l3 0l1-1l6 0l2 2l0 1l-5 4l0 1l-3 4l-4-2l-2 0l-2 3l1 1l2 0l3 2l5 0l2 1l1-1l3 0l3-2l3 0l6-3l1-4l2-1l3-4l0-4l2-4l0-4l1-1l0-2l2-4l0-3l-1-1l0-5l3-3l1 1l4 0l1-1l6 0l1-1l7 0l3-2l8-1l1-1l9 0l10-5l-3-4l2-1l0-1l3-4l0-4l-1-1l0-6l-2-2l-4-1l-2-3l3-4l0-3l2-2l0-2l2-3l-1-2l0-5l-1-1l0-2l2-2l1 0l0-1l3-3l4 0l6 3l12 15l8-4l0-7l1-1l0-4l1-1l0-2l-2-2l-1-6l-1-1l1-1l0-6l1-1l9 0l4 2l7 0l8 4l2 0l4-2l1 1l9 0l4 2l8 0l2 2l-2 2l0 1l2 2l4 1l8 6l-2 4l6 6l1 0l2 2l0 1l4 1l1 1l3 0l4-2l1-2l0-5l2-1l1-2l3 0l1-1l9 0l1-1l6 0l1-1l0-3l1-1l2 0l2-2l2 1l5 0l3-4l0-5l-1-2l2-2l0-1l4-3l4 0l6-3l14-1l1 1l0 4l-1 1l-1 13l-2 4l-2 2l0 2l-2 2l0 4l-2 3l0 3l5 5l0 1l2 1l3 0l4-2l2-2l5 0l1 1l3 0l10-5l1 0l1 1l0 2l2 1l8 1l1-1l0-5l-1-2l-4-2l-1 1l-2 0l-1-1l4-5l0-2l-1-1l0-5l-1-1l0-5l-2-2l-4-2l-3 0l-1-1l-4-1l-2-2l0-4l-4-4l-7 0l-1 1l-1-1l0-5l-3-2l-3 0l-1-1l-21 1l-4 3l-7 1l-2 2l0 1l-5 4l-1 4l-8 7l-1 0l-2 3l-1-1l-3 0l-3-2l-3 0l-1 1l-3 0l-1 1l-3 0l-1 1l-2-1l-6-7l-2 0l-1-1l-4 0l-4-2l-4-4l-4 0l-1 1l-5-3l-14-1l-5-4l0-2l-2-4l-3 4l-4 0l-1-1l-4 0l-6-3l-2-2l-4 0l-2-2l0-7l-2-4l-4-5l-1-4l-1-1l-2 0l-2-2l-4-2l-2-4l1-1l-1-1l0-3l-1-2l-3 0l-8 5l0 6l-1 1l0 3l-2 3l-2-1l-7 4l-4 0l-3-3l-1-3l-2-2l-2 1l-8 1l-1 1l-3 0l-4-2l-4 0l-1 1l0 6l-2 3l0 6l-1 2l1 1l0 2l3 3l0 2l1 1l0 4l1 1l-1 4l6 0l0-7l1-1l1 1l4-3l7 0l2 2l0 1l1 0l7 6l-2 3l-2 0l-2 2l-8 0l-1-1l-3 0l-1-1l-9 0l-1 1l-7 1l-4 3l-3 0l-3-2l-2 0l-1 1l0 2l1 1l0 4l-3 5l0 3l-1 1l0 3l-1 1l0 5l-1 1l0 5l-1 1l1 1l-3 4l-3 6l0 3l-2 3l4 0l2 1l8-7l4 2l6 0l2 2l0 2l-2 1l-2-2l-2 4l3 6l-2 1l-1 3l-2 2l-7 0l-12-11l-3 0l-3 2l0 4l5 5l0 1l2 1l-4 3l-7-1l-2 2l0 2l2 2l2 0l7 6l4 1l1 1l-1 4l-4 2l-3 0l-8 4l-2 2l-5 0l-1-1l-2 0l-1 1l-8 0l-1 1z"/>
<path fill="#E5F017" stroke="#E5F017" d="M665 497l2 4l0 5l-1 1l-2 0l0 1l-2 2l-1-1l1-2l-2-1l0-2l-2 0l-1 1l0 3l2 2l-1 1l-2 0l-4-7l0-2l3-4l2 0l3-2l3 0zM431 497l-1 0l-2 9l-2 2l0 4l1 1l-1 1l0 5l1 1l1 5l2 0l1-1l0-7l-1-1l0-4l-1-1l0-8l1-1l0-2l2-2zM399 480l4 0l1-1l3 2l2 0l1 1l0 3l-4 4l-4 0l-4-5l0-3zM543 460l0 1l3 4l2 0l2 2l2-1l-1-1l-2 0l-5-5zM395 458l1-1l2 1l-1 1zM382 458l1-1l1 1l-1 1zM330 447l-1 0l-2 2l1 2l2 0l1-1l0-2zM660 446l-1 1l1 9l-3 3l0 3l5 7l-1 1l-4 0l-1-1l-4 1l-2-1l-1 1l-4 1l-1 1l0 3l-2 3l0 8l1 1l1 4l2 2l0 2l2 2l-1 1l0 3l1 1l0 3l1 1l0 4l1 2l6 6l2 4l4 4l3 1l3 3l2 0l5-6l0-4l2-4l0-3l-1-1l1-1l0-5l1-1l0-7l-1-1l-1-6l-1-1l0-6l-1-1l0-3l-1-1l1-6l-1-1l-1-6l-2-3l-2 0l-4-5l0-1l-2-1l0-4l-1-1l0-4zM362 445l-1 0l-2-2l-4-1l-6 5l-1 0l-5 4l-3 1l-6 5l-1 2l0 3l4 5l1 4l2 1l6 0l4-3l3-6l2-1l6-6l2-4l0-6zM328 436l1 6l4 3l1 0l3-4l0-3l-1 0l-2-3zM599 430l3-2l5 0l1 1l-1 2l-7 0zM627 425l1-1l4 0l1 2l-1 1l-2 0zM319 425l1 5l1 0l0-5zM625 424l1-1l2 1l-1 1zM613 422l1-1l5 0l1 1l0 5l-1 1l-5 0l-1-1zM639 415l1-1l3 0l1 1l-2 2zM617 412l1-1l1 1l-1 1zM581 407l0 2l1 1l8 0l2-1l-1-3l-9 0zM212 403l-1 2l3 4l0 1l-1 1l-3-1l-1 3l2 1l-1 2l2 2l2-4l-1-1l0-2l1-1l2 1l2-1l0-1zM275 400l-3 3l-1 4l-2 3l-2 0l-1-1l0-2l-3-4l-3 0l-1 2l2 4l0 3l-1 1l0 11l1 1l0 2l2 2l9 0l1-1l0-6l1-1l0-3l-1-1l2-2l1 0l6-7l0-3l-4-2l-1-2zM194 399l1-1l2 2l0 1l-1 1l-2-2zM187 397l2-1l2 3l-2 1l-2-2zM162 391l1-1l1 1l-1 1zM161 390l1-1l1 1l-1 1zM343 389l-2 2l0 2l1 1l3 0l1-1l0-3l-1-1zM160 389l1-1l1 1l-1 1zM694 387l1-1l2 1l-1 1zM266 383l0 2l2 0l4 4l0 1l3 1l4 5l2 0l1 1l2-3l-1-2l-3 0l-1-2l-4 0l-7-7zM430 387l1 1l2-1l1 2l2 0l1-1l2 2l1 0l2-2l4-1l0-1l2-2l-1 0l-2-2l-2 0l0 1l-3 3l-2 0l-2-1l-1-2l-3-1l-2 2l1 2zM287 385l-1 5l2 2l2 0l1 1l1-1l3 2l6 0l1-1l0-5l-2-4l-2-2l-6 0l-2 2l-2 0zM395 374l-2 2l0 2l2 2l1 0l-1-2l1-4zM158 370l1-1l1 1l-1 1zM329 368l1-1l1 1l-1 1zM151 372l1 1l0 5l4 3l-1 2l3 0l1 1l0 2l2 2l-2 1l-2-2l-1 0l-1 1l0 3l3 0l2 2l2 4l5 5l1-2l-2-4l-2-2l1-2l2 2l1 0l3 3l0 1l3 1l3 4l2-1l1-4l-1 0l-7-7l0-1l-2-2l4-7l0-2l-2-2l-2-4l-1 0l-3-3l-2 0l-3-2l-1 0l-4 3l-2-1zM189 367l0 3l-2 2l2 7l-4 4l0 6l2 3l0 2l-1 1l-2-1l-2 1l0 3l1 1l1-1l3 3l9 5l1 2l3 0l1-1l-1-1l-3 0l-2-2l3-4l2 0l1-1l2 1l1-1l2 1l1-1l3 0l1 1l3 0l4 2l3 0l0-1l5-4l0-7l-3-3l1-2l-2-1l2-2l-4-4l0-3l-2 1l-2-2l0-4l-3 0l-2-2l0-1l-1 0l-2 2l-3 0l-1 1l-1 0l-1-2l-2 0l-2 2l-4-3l-2 0l-1-1zM124 364l-2 2l0 1l2 2l0 1l4 1l0-6zM332 359l1-1l1 1l-1 1zM331 358l1-1l1 1l-1 1zM433 358l2-2l4 2l-1 1l-4 0zM129 360l1 3l1 0l4-3l9 0l2 2l0 1l1 0l2 2l2-1l0-2l-1 0l-5-4l-4 0l-2 1l-2-2l-1 0l-1 1l-2 0zM213 356l0 2l2 2l1 0l1 2l1 0l2 2l0 1l5 4l0 1l2 0l0-3l-4-4l-2 0l-4-4l0-2zM169 355l-1 1l2 4l2 1l2-3l-3-3zM571 354l0 4l1 1l2-2l-1 0l-1-1l0-2zM141 351l4 2l4 0l1-1l0-1l-1 1l-3 0l-4-2zM337 348l1-1l1 1l-1 1zM267 344l-3 0l0 4l-1 1l0 6l1 0l2-2l-1-2l1-1l0-2l2-1l0-2zM598 342l-1 0l-5 5l1 2l3-3l0-1l3-2zM748 344l-3-4l-2 0l-4 3l-2 0l-5 3l-4 1l-4 5l1 2l-1 1l-1 4l-6 6l-2-2l0-1l-3-2l-2 0l-5 3l-3 0l-2 2l0 7l1 1l-1 4l-1 1l-2 0l0 1l-2 1l-1 2l-2 1l-4 4l0 1l-8 7l-2 0l-3 2l-2 0l-3 3l-1 0l-4 5l-4 2l-5 5l-6 3l-6 0l-1-1l2-2l5 0l2-2l0-1l-3-3l-1 1l-3 0l-2 2l-2 0l-1 1l-15 0l-1-1l-2 0l-3-2l-2 0l-4-2l-2 2l0 1l5 4l-1 1l-6 1l-2 2l-3 0l-4-2l-4 0l-1 1l-4-1l-2 2l-3-1l-1 1l-4 0l-1 1l-2 0l-15 14l-7-4l-5-5l-1 0l-6-5l-3 0l-2 1l-3-3l-10 0l-2 1l-2 3l-6-1l-2 1l0 1l-2 2l-9 1l-3 2l-8 2l-2 2l-6 1l-1 1l-4 0l-14 7l-3 0l-1 1l-6 1l-10 5l-2 3l-3 1l-4 3l-5 0l-1 1l-6 1l-3 5l-12 0l-1-1l-3 0l-1-1l-4 0l-2 1l-1-1l0-3l-2-2l-2 0l-4-3l-3 1l-2 2l-4 0l-1-1l-2 2l0 4l2 2l-1 4l2 3l0 2l4 8l0 3l4 8l8 8l2 4l0 5l1 1l-1 4l1 1l1 4l4 5l8 0l0-6l-1-1l0-5l-1-1l0-7l2-3l0-5l1-1l0-2l3-4l1-6l2-2l1-3l2-2l1 0l1-4l2-2l4-1l3-3l2 0l3-2l5 0l1-1l2 0l2-1l5-5l2 0l1-1l2 0l1-1l2 0l1-1l2 0l4-2l5 1l4-2l3 0l2-1l1-2l2 0l1-1l7 0l2-2l2 0l2-2l2 0l1-1l4 1l2-1l1-2l10 0l4 2l2 2l0 1l1 0l3 3l0 1l2 1l2 0l1-1l6 0l1 1l2 0l2-3l1 0l2 2l3 0l3-2l2 0l3-2l2 0l2-2l3 0l1-1l4 0l1 1l8 0l3-2l5 0l1-1l4 0l1 1l17-1l3-4l4 0l1-1l5 0l1 1l1-2l1 1l2 0l1 1l2 0l4 2l2 0l1-1l4 0l1-1l5 0l1 1l2-2l6-1l4-2l10-12l1-2l0-3l2-2l1 0l8-6l2 0l2-2l1 0l2-4l2-2l1 0l4-5l1 0l4-3l2 0l4-4l2 0l4-4l1 0l6-6l0-5l2-2l0-2l1-1l-1-2l3-5l1 0l3-3l6-1l3-3l4-2l3 0zM578 335l-1 2l4 4l1-2l-2-2l0-1zM616 333l-1 0l-8 8l0 2l-2 2l-1 3l-6 7l0 2l1 1l1 0l3-3l0-1l4-3l4-7l2-1l1-3l3-3l0-3zM212 332l1 4l1 1l0 3l2 4l-1 1l2 2l1 5l2 2l2 4l4 4l1 0l3 3l1 0l3 3l1 0l3 3l1 0l5 4l4-2l3 1l2-2l2 0l3-3l-1-1l-4 1l-2 3l-2 0l-3 2l-2 0l-2-2l-4-2l-3-3l-1 0l-5-5l0-2l-1 0l-2-2l-1-4l-5-5l-1-3l-2-1l-1-4l-2-3l0-2zM274 331l-1 1l0 5l2 2l0 1l2 1l-2 2l0 4l-4 4l0 3l1 1l5 0l5 4l1-2l-7-6l0-2l1-1l4-1l1-1l0-2l-3-3l0-4l-2-3l0-2l-1-1zM320 332l1 3l3-1l4 3l2 0l1-1l2 1l4-2l1-3l-2-1l-2 0l-1 1l-6 0l-2-2l-3 0zM691 325l-1 4l2 2l1 0l2-2l0-2l-1-2zM522 322l-1-1l-2 0l-4 2l-2-1l-2 0l-1 1l-1-1l-1 1l-3 0l-1 1l-6 0l-2 4l2 2l3 0l1-1l3 0l1 1l5 0l7-5l3 0l1-1zM446 320l1-1l1 1l-1 1zM551 314l1-1l1 1l-1 1zM713 311l-1 2l1 0l1 2l2-2zM513 309l-1 1l0 4l1 1l3 0l-2-2l0-4zM494 308l-3 0l-3 2l-2 0l-1-1l-2 1l0 2l1 1l0 2l2 2l0 2l2 0l2 2l0 2l4-1l1-1l2 0l2-2l-1-8zM636 306l1-1l2 1l-1 1zM613 307l2-2l7 0l2 2l-1 1l-9 0zM197 305l-1 1l1 1l-1 1l1 2l1 0l2 2l1-1l-3-6zM638 302l1-1l2 0l3 2l0 2l-1 1l-4 0l-1-1zM624 297l1-1l2 1l-1 1zM610 297l6-6l4 3l4 1l1 1l-1 1l-4 0l-1 1l-8 0zM173 292l-3 6l1 1l3-5zM641 288l1-1l1 1l-1 1zM589 291l4-4l3 0l1-1l2 1l4-1l1 1l3 0l1 1l-4 4l-2-1l-12 1zM719 284l1-1l1 1l-1 1zM753 280l1-1l1 1l-1 1zM745 279l1-1l1 2l-1 1zM697 275l-4 1l-1 3l-2 1l0 2l2 2l2 0l1-2l3-2l0-2l-2-2zM235 275l-3 2l0 3l4 4l-1 2l-5 4l1 4l2 0l0-1l5-5l-1-2l2-4l-1-1l-1-4zM763 273l2 2l-2 3l-1-1l-3 4l-2 0l-1-1l2-2l0-1l2-1l0-1l2-2zM675 308l-1-1l0-2l-2-4l-5-4l1-2l-6-5l1-1l-3-3l-2 0l-5-4l-2 0l-1-1l-4 1l-1-1l-5 0l-2-2l-12 0l-1-1l-5 0l-1-1l-3 0l-6 7l-8 0l-1-1l-2 0l-1 1l-8 0l-1-1l-2 0l-3 2l-4 0l-1 1l-2 0l-3-3l-3 0l-1 1l-3-3l0-2l-3-3l-2 0l-2 3l0 2l2 2l2 4l-7 5l-5 0l-2-2l-1 0l-3-4l-2-1l1-3l-1-1l0-3l-1-2l-3-2l-3 0l-3 3l4 5l-1 1l-3 1l-7 5l-4-3l-3 1l-1 2l2 2l2 0l3 2l0 2l-1 1l0 4l3 0l2-1l-1-1l2-2l2 3l0 2l4 2l3 3l0 4l6 2l1 1l-1 1l-2 0l-1 1l-3-1l-5 5l-3 0l-2 2l-3 1l-2 2l0 1l-2 2l-3 1l-3 4l-15 0l-1 1l-2-1l-4 0l-1-1l-8 0l-1 1l-6-1l-2 1l-4-4l0-3l-1-1l0-5l1-1l0-2l-1-2l0 6l-2 2l-2 0l-1 1l-10 0l-1 1l-4-2l3-2l3 0l2 1l1-1l-2-4l3-3l2 2l6 0l0-3l-1-1l0-5l2-2l2 2l1 3l4 0l-2-5l-4-3l4-7l11-3l1 1l5 0l4 3l1-1l2 1l5 0l1-1l3 0l1-2l0-4l1-1l0-4l-8-6l-2 0l-1 1l-6 0l-2 2l-6 0l-1 1l-7 1l-4 3l-3 0l-1 1l-4 1l-3 3l-1 3l-4 5l-2 0l-4 3l-1-1l-2 2l0 11l-1 1l-4 0l-1-1l-6-1l-1-1l-1 1l-2 0l-1-1l-1 1l4 2l3 3l3 0l3 2l-2 2l-5 0l-3 2l-4 0l-2 1l0 2l-2 3l-2-1l-1 1l-5 0l-1 1l-5 0l-1 1l-4-1l-1 1l0 2l1 0l2 2l0 6l-2 2l-8 0l-1 2l-4 1l-1-1l0-4l-9 0l-1-1l-7 0l-1-1l-4 1l-1-1l-7 0l-1-1l-1 1l-3 0l-1 1l-7 1l-3 3l0 3l-1 1l-5 0l-1-1l3-2l-2-4l-2 0l-1 1l-2 0l-1-1l-3 4l-4 1l-2 3l0 2l-2 4l-4 3l0 2l-1 1l1 3l1 0l2 2l0 2l1 1l-1 2l-2 1l-2 3l0 2l-1 1l1 4l-2 3l0 4l1 1l-1 1l1 1l0 5l-1 1l1 1l0 7l1 1l0 3l2 2l2 4l1 0l3-4l0-2l-2-3l0-3l-1-1l1-1l-1-1l0-4l-1-1l0-5l-2-3l3-3l-1-1l0-3l2-2l0-5l3-3l2 0l0-2l1-1l1 0l1 2l3 0l1 1l-3 3l-1 2l0 4l-1 1l0 4l2 2l2 0l1-1l1-8l3-4l4 0l1-1l1 1l0 4l1 2l3 0l3-2l6 0l1-1l8 0l2-2l5-2l2-2l-1-6l2-2l5 0l1 1l4-7l2 0l3 3l-1 2l0 4l1 1l-1 1l1 2l6 3l6 0l2 2l2 0l1-1l1 1l7 1l2 2l4 0l1 1l5 0l1 1l1-1l2 2l2 0l1-1l4 0l4-2l1 2l3 0l1-1l3 0l1-1l11 0l1 1l3 0l2 2l2-3l1 0l7-5l5 0l5-6l1-4l3-3l1 0l0-1l4-4l8-3l2-2l1 0l2-2l2 0l4-4l1 0l2-3l0-3l2-1l6-7l2 0l1-1l2 0l1-1l8-2l4-4l2-5l2-2l3 0l1 1l6-3l2-2l1 0l4 3l4-1l1-1l1 1l4 0l1-1l2 0l1 1l0 2l4 4l0 1l4 3l2 0l2-2l1 0l0-2l2-3l0-5l1-1l3 0l3 2l-1 2l0 4l1 1l3 0l1-1l0-5l1-1l5 0l1 1l3 0l1 1l0 6l2 2l3 0l1 1l-1 1l1 4l1 1l3 0l2 3l3 0l5-5l1 0l2-2l2 0l1-1l0-3l-1-2l-3 0l-3 2l-2 0l-4-3l-1 0l-3-3l1-2l9 0l4 3l2 0l2-2l5 0l1-1l5 4l4 1l4-4l5-1l2-2l0-2zM140 274l0 2l1 1l0 6l2 1l0 4l3 1l0-2l-2-3l0-3l-1-1l1-4l-2-2zM754 270l1-1l1 1l-1 1zM759 269l1-1l1 1l-1 1zM640 269l-1 1l1 4l2 0zM757 269l1-2l2 1l-2 2zM246 269l2 2l5-1l1 1l5 0l1 1l3 0l2-3l0-2l-2-2l-9-1l-6 3zM203 255l-1 1l0 2l4 8l-1 2l1 1l0 4l1 1l-1 1l1 1l-2 3l0 2l1 1l-1 1l2 4l-3 3l0 5l3 0l1-1l0-2l4-2l2-6l-4-3l0-2l-1-1l2-3l-1-6l-1-1l0-2l-2-1l-1-2l0-3l-2-2zM67 253l-1 2l-4 4l0 5l1 1l0 4l1 1l-1 2l2 2l0 2l1 0l2 3l-1 2l1 1l0 2l2 4l-2 2l0 1l3 5l0 2l2 2l0 1l2 0l3 3l2 5l4 4l-1 2l1 2l0 3l5 10l5 6l0 2l2 1l2 4l0 2l3 4l3 7l1 1l2 0l2-2l1 0l1-2l1 0l1 1l-1 2l4 3l1 0l1 2l2 0l1-2l-8-5l0-1l2-1l1-3l2-2l0-6l-4-5l-2-5l-1 0l-1-2l-2-1l-8-8l-1-3l-4-4l-2-1l-3-7l-2-1l0-3l-1-1l1-1l0-4l-3-6l0 2l-2 2l-4 0l-1 1l-2-2l0-3l-1-1l0-5l-1-2l2-3l1 1l3 0l0-1l-5-6l1-1l0-4l-2-2l1-1l0-3l-1-2l-6-6zM709 250l1 1l-3 3l-1-2l2-2zM798 248l-1-1l-3 0l-1 1l-4-1l-4 3l-4 0l-1 1l-2 0l-2 2l-2 0l-1 1l1 1l-1 2l-3-3l-2 1l-1 2l0 8l-2 3l-2 0l-1-1l-2 1l-4-4l1-1l-2 1l-4 0l-1 2l1 4l1 1l1-1l2 1l0 2l-1 1l0 2l-2 4l-1 0l-2-2l-2 1l-1-1l0-2l-3-3l-2 0l-1-1l2-1l-2-5l-4 0l-3-2l-3 0l-2-1l-3 3l-4 1l1 1l-1 3l2 2l1-1l2 0l1 1l2 0l1-1l1 1l4 0l1-1l2 1l2-1l1 1l-6 5l-4-2l0 1l-2 2l-3 0l-1-1l-5 1l-2-1l-1-2l-2 0l1 2l-3 5l-4 0l-1-1l-2 3l2 4l0 3l-2 2l-1 0l-4 5l-2 0l-3 2l-2-1l-1 1l1 1l-1 2l4 3l2 0l1-2l2 1l2-1l3 1l2-2l2 1l4-1l1 1l2-2l0-1l4-3l0-2l1-1l3 0l0-2l-2-3l1-3l-3-3l1-2l6 1l3-2l4 0l1-1l3 0l1-1l1 1l3 0l7 4l2 0l1-1l2 2l1 0l4-4l2-1l2 1l4-5l-1-1l0-2l2-1l0-3l-2-1l5-3l0-4l1-2l2-2l4 1l1-1l5-1l1-2l-1-2l1-1l2 0l1-1l2 1l3 0l2-2zM771 247l-1 4l3 0l1-4zM140 246l1 6l2 1l0 3l-2 4l2 2l1 0l0-1l2-1l0-10l-2-4zM240 240l1-1l1 1l-1 1zM688 239l1-1l1 1l3 0l2-1l2 2l-1 2l1 1l3 0l1 1l-2 3l-10-5l-1-1zM642 239l1 2l2 0l0-2zM729 237l1 1l0 2l-1 1l-1-1l0-2zM398 238l1-1l1 1l-1 1zM750 236l-3 2l2 4l2 1l0 1l-4 4l0 2l2 2l2-3l4-1l0-3l-4-2l1-1l0-5zM189 242l0 2l2 1l4-3l2 0l3-2l2 0l1 1l3 0l3 2l3-1l1 1l0 2l2 1l1-1l1 1l2-1l0-2l-1 0l-2-2l-2 0l-2-2l-3 0l-3-2l-5 0l-1-1l-3 1l-3 3l-1 0l-1 2zM695 229l2-1l2 2l-2 1zM783 224l0 2l2 2l-2 3l1 2l3-6l-3-3zM288 230l-1-1l-4 2l-3 0l-1-1l1-1l-1-1l-1 1l-4-5l0-1l-3 0l-2 4l1 0l4 4l0 1l-4 3l-1-1l-3 0l-4-3l-2 1l-5-4l-2 1l-2-1l-3 0l-1 1l-3 0l-2 2l0 2l2 1l-2 2l-2 0l-2 2l-6 1l0 1l2 2l1 0l2 2l0 1l5 0l1 1l3-4l2 0l4-4l2-1l4 2l2 2l0 2l1 1l1 0l4-4l3 3l2 0l4-3l0-2l1-1l5 5l1-2l-4-5l0-2l1-1l2 2l2-1l1-2l2-1l1 1zM760 221l-4 2l-1 6l3 2l0 3l2 0l2 3l2 0l2-1l0-2l2-2l1 0l0-2l-1-2l-3-3l-3-1zM403 220l2-1l2 2l1 0l3 3l0 2l-2 1l-2-2l-4-1l-1-1zM307 220l-3 1l-2 2l-3 0l-2 2l-2 0l-2 2l0 2l1 0l1 2l5 0l3-4l2 0l4 4l1 2l-1 1l1 1l0 2l-2 1l-1 2l-1 0l1 4l-4 4l-2 0l0 1l3 2l2-2l2 0l1-1l0-3l2-2l3-1l-1-3l2-2l-2-2l0-1l2-2l-2-2l0-2l-2-3l0-2l-1 0zM230 219l-4 2l0 1l-2 2l-1 2l0 2l1 1l1 0l2-4l3-2zM710 216l-1 0l1 2l-4 4l-4 1l-3 3l-5 1l-1 1l1 1l-1 2l-6 3l0 2l-1 1l1 2l-1 1l-1 0l-2-2l-1 1l-1-1l0 3l2 1l3 4l2-1l2 2l0 1l3 0l3 2l2 0l4-4l1 0l4 3l0 1l-2 2l-1 0l-1 2l-1 0l0 2l1 1l-5 4l0 2l2 0l1 1l-1 1l-3 0l-2-1l-2 2l1 4l1 1l3 0l1-2l2 0l2-3l-3-3l3-3l1 0l4-4l1-2l2 0l-1-2l2-2l1 0l4-5l1 0l0-2l-1 0l-3 3l-1 0l-1-2l-2 2l-2 0l-1-1l2-2l1 0l4-3l2 1l2-1l2 1l2 3l1 0l0-1l2-2l2 0l1 1l4-1l0-2l-2-1l2-4l-2 1l-2-1l-3 0l-4-4l-1 0l-1-1l1-2l-2-2l-8-4zM196 209l-1-1l-2 1l-3 3l-4 2l0 1l-2 1l-2 3l-3 0l-2 2l-4 2l-2 0l-1-1l-2 0l-1-1l-4-1l-7-8l-2 1l-2-2l0-1l-1 1l-2-2l-2 0l-1 2l4 2l1 2l2 1l2 3l3 0l2 4l1-1l2 0l3 2l-1 1l-3 0l-1 2l1 1l5 0l3 2l2-1l2 1l2-1l2 1l1-2l2 0l4-2l3 0l0-1l-2 0l-3 2l-6 1l-1 1l-4 0l-1-1l2-3l4 0l3-2l2 1l3-3l1 0l0-1l2-2l-1-1l3-3l1 0l2-2l2 0zM136 208l-2 0l-3 2l-3 0l0 2l-1 1l0 2l-2 4l0 6l1 1l-1 4l1 1l-2 2l0 3l4 0l1 1l2 8l3 0l1-1l0-1l-2-2l1-1l0-2l-2-1l0-1l4-5l-1-1l2-2l1 0l5-5l1-3l-3-4l0-2l-3-2zM747 200l2 2l-2 3l-1-1l0-3zM92 204l-1-1l-2 0l-2-2l-4 0l-2 2l-2 0l0 3l-1 1l-1-1l-2 1l0 2l3 4l-2 1l0 1l-3 3l0 3l2 0l7-7l0-2l-2-4l-2-1l1-1l3 0l0-1l3-2l1 0l4 3l1 0zM504 200l0 2l3 0l2 1l0-2l-3 0zM836 201l-2-2l0 1l-3 2l1 1l1-1l1 1zM228 198l-2 0l-1 1l0 4l-3 4l1 1l-2 3l0 2l-1 2l-2 1l1 2l1 0l0-1l3-4l-1-2l2-4l2-1l0-1l2-2zM499 193l0 2l2 1l1-1l-2-2zM854 192l-1-1l-2 2l-7 0l0 2l1 1l2-1l4 1l3-2zM757 191l1-1l1 1l-1 1zM756 190l1-1l1 1l-1 1zM772 188l2 3l-1 2l1 2l-1 1l-1 6l-1 2l-2 2l-1 0l0 2l-3 3l-1 0l-2-2l-2 0l-3-4l1-2l0-2l-1-1l0-4l2-3l1 1l2 0l3-3l3-1l-1-1l1-1zM126 190l-2-1l-6 4l-1-1l-3 2l-3 0l-2 4l-2 1l-1-1l0 1l-1 1l-2 0l0 1l2 1l1-1l1 1l1-1l2 0l2-2l1 0l1-2l3-1l6-5l2 0zM761 187l1 2l-2 1l-1-1zM155 187l-3 0l-3 6l4 1l1-2l-1-1l2-2zM531 185l1-1l2 0l1 1l-1 1l-2 0zM526 185l1-1l2 1l-1 1zM544 184l-1 2l-3 0l-1-1l4-2zM524 184l1-1l2 1l-1 1zM523 183l1-1l1 1l-1 1zM521 182l1-1l1 1l-1 1zM57 181l-2 3l-1 6l-3 5l1 4l2-1l0-2l1-1l0-4l1-1l0-3l2-4zM518 180l1-1l1 1l-1 1zM869 179l1-1l1 1l-1 1zM516 178l1-1l2 2l-2 1zM776 178l-4 0l-1-1l0 1l-1 1l-2 0l-1 2l-3-1l-2 1l-2 3l-2 0l-1 2l0 3l-2 1l-2-2l1 4l-2 2l-1 0l4 3l-2 1l-2 3l-2-1l0-2l-4 0l-2 2l-1 4l3 1l1 2l2 0l4-5l2 2l0 1l1 0l2 2l-1 1l1 1l1 0l2 2l2 0l2 2l4 0l-1-2l7-5l0-2l-1-1l3-6l0-2l-1-1l0-7l-3-4l2-4zM510 175l1-1l1 1l-1 1zM509 174l1-1l1 1l-1 1zM94 172l0 1l2 0l4 2l6 7l-1 2l0 3l-2 2l0 1l2 1l1-1l-1-1l1-1l0-2l2-3l-1-3l-4-5l-2 0l-4-3l-1 1zM56 172l0 1l2 1l0 2l2 2l1 0l2-2l0-1l-2-1l-2-3zM274 168l-1 1l2 2l1 3l2 2l1 0l1-2l-3-3l0-1l-2-2zM859 166l2-2l3 3l-1 1l-3 0zM120 163l-1 2l4 2l1-2zM872 170l-2 0l-4-3l-2 0l-7-7l-1 1l-4 0l-1 1l-4-1l-3 3l-2 0l-1 1l0 3l-2 2l-1 0l-1 1l0 2l-2 2l-1 0l0 2l1 1l-7 4l-4 0l0 3l-3 2l-2 0l-5 5l1 1l-1 1l0 2l4 1l-1-1l1-1l2 0l4-4l4-2l4-4l1 0l2-2l2 0l2-2l4-2l3-3l1 0l1 2l4 2l2-2l1 2l2 0l3 3l2 0l1-1l6 0l2-2l0-2l1-1l-1-2l0-3zM611 159l-3 3l0 4l-1 1l0 10l-1 1l0 2l-2 4l-2 2l-1 6l-3 5l1 2l4 4l1 2l5 0l4-3l2 0l1-1l2 1l6 0l4-3l2 0l4-2l2 4l4 1l1 1l3 0l2-2l0-3l-1-2l-3-2l-3 0l-1 1l-2-1l4-5l0-8l-1-1l0-5l-5-4l-8-2l-2-2l-1 0l-1-1l1-1l0-2l-5-5zM521 149l-2 3l0 3l4 2l1-1l2 0l0-4l-2-2l0-1zM313 148l-1-1l-2 1l-3 0l-1 1l-2-1l-6 3l-2 2l-5 0l-1 2l-3 0l-1 1l1 1l1-1l3 0l1-1l1 1l5 0l2 1l2-2l2 1l7-1l1-1l0-4zM859 146l-1 1l0 4l1 1l1 6l1-1l0-4l-1-1l0-5zM47 146l-2 2l2 2l0 3l1 0l1-5zM563 143l1 4l1 1l6 0l2-3l0-3l-2-1l-6 0zM561 141l-2-2l-4 5l-3-3l-4 0l-3 2l0 4l1 0l2 2l4 1l3-2l0-3l1-1l2 3l2-1l1-2zM110 139l-2 0l-1 2l-3 0l-1 3l2 0l0-1l2-2l2 0zM108 127l2 5l2 2l1 4l2 1l2 3l5 2l1 2l6-1l1 1l4 1l1 2l2-1l3 0l1-1l-2-4l-2 0l-1-1l-6 0l-1-1l-1 1l-2 0l-2-3l-2 1l-5-6l-1-8l-1 1l-3 0l-1-1l-2 0zM554 125l-2 1l-3 0l0 1l2-1l3 0zM331 124l-2 0l0 5l-1 1l-1 4l-5 6l1 2l3-3l0-1l4-5l0-2l2-4zM39 124l-2 2l1 4l1 1l-1 2l2 4l2 2l1 0l0-1l2-2l-2-4l-3-2l0-3l-1-1l1-1zM238 123l1-1l1 1l-1 1zM324 120l-2-1l-1 2l-4 0l-2 1l0 1l2 0l1-1l6 0zM335 118l-2 2l1 6l1 1l2-1l1 1l1-1l2 0l1-2l0-2l-1-1l1-1l-1-2l-3 0l-1 1zM310 122l-1-1l-2 0l-4-2l-2 0l-1 1l-2-2l-1 0l-2-2l0-1l-2-1l-4 0l-2 2l-1 2l1 4l-3 2l-5 0l-4 2l-7 0l-5-4l-3 0l-4 4l-1-2l-5 0l-1-1l-2 0l-3-3l-2 0l-4-2l-8 0l-1-1l-2 0l-1 1l0 1l2 1l7 0l3 2l-3 3l1 1l-1 2l-1 0l-2 2l-4 0l-1 1l0 2l2 1l2-2l3 1l2-3l2 0l1-2l4-1l4 2l9 0l1-1l2 2l4 1l3 3l9 0l2 2l-4 2l1 3l3 4l-1 4l-2 1l0 1l2 0l1 1l-1 2l-7 8l-1-1l-4 0l-3 2l0 3l2 1l3 4l2 0l3-3l-1-4l8-9l0-2l1-1l0-4l1-2l2-1l-2-1l1-1l0-2l2-2l0-2l1-1l3 0l3-3l3-1l0-5l-3-3l1-1l3 0l4 4l4 0l1-1l2 0l4-2zM610 154l-4-3l-9 0l-1-1l-2 0l-1 1l-4 0l-1 1l-5-1l-5 4l-6 0l-3 3l0 1l-5 4l-1 3l-11 10l-3 0l-3-2l-4 0l-1 1l-3 0l-1 1l-3 0l-1 1l-2-1l-7-8l-4 0l-6-3l-2 0l-2-3l-3 0l-1 1l-4-3l-8 0l-3-2l-5 0l-4-2l-2-2l-1-5l-1 0l-2 3l-5 0l-1-1l-4 0l-1-1l-2 0l-3-3l-6-1l-1-1l0-3l-1-1l1-1l0-2l-2-4l-4-5l-1-4l-5-4l-3 0l-2-2l0-2l-1-1l0-5l-2-3l-5 2l-5 4l0 6l-1 1l0 4l-2 2l-1-1l-2 0l-7 4l-1-1l-3 0l-2-2l0-2l-3-3l-5 0l-6 3l-2 0l-1-1l-2 0l-1-1l-4-1l-2 2l1 4l-2 2l0 4l-1 1l0 4l1 1l-1 2l2 1l0 2l2 4l1 9l4 0l0-4l2-4l1 0l4-3l3 0l1 1l3 0l2 1l1 2l4 2l3 4l0 3l-1 1l-4 0l-3 2l-8-1l-1-1l-14 0l-1 1l-5 1l-3 3l-5-1l-2-2l-1 0l1 8l-4 7l0 4l-2 3l0 5l-1 1l0 3l1 1l-7 12l0 3l-1 2l4 0l1 1l8-6l2 0l1 1l3 0l1 1l1-1l2 1l2 2l0 4l-1 1l-2-2l-2 1l0 3l2 4l-2 4l-2 2l-5 0l-1 1l-4-2l-4-5l-1 0l-4-4l-2-1l-2 0l-3 3l0 2l4 4l0 1l3 3l0 1l-4 3l-2 0l-1-1l-4 0l-2 2l1 2l3 0l6 6l6 2l1 2l-2 4l-2 1l-3 0l-4 2l-2 0l-6 4l-8 0l-1 1l-4 0l-1-1l-2 0l-1 1l0 3l1 1l0 3l1 1l0 6l1 2l2 1l0 1l1 0l3 3l3 0l1-1l4 0l1-1l2 0l4 4l-2 2l-1 0l-6 7l-2 0l-3-2l-2 2l0 2l3 0l2 2l10 0l1-1l5-1l6-3l2-2l0-2l4-3l1-8l2-2l0-5l1-1l1-6l1-1l-2-2l1-1l0-3l-1-1l1-2l2 0l1-1l3 0l1 1l1-1l6 0l3-2l8 0l3-2l6 0l1-1l6 0l1-1l2 1l10-5l-3-4l5-7l0-3l-2-3l1-3l-2-3l-3 0l-4-3l2-4l2-2l0-3l3-5l0-3l-1-1l0-5l-1-2l2-2l1 0l3-4l7 0l6 4l1 3l9 10l2 0l4-3l2 0l0-9l1-1l0-6l-3-5l0-7l1-1l-1-2l2-2l8 0l3 2l7 0l4 2l4 0l1 2l3 0l1-1l5 0l1 1l1-1l2 0l1 1l4 0l4 2l4 0l1-1l6 1l1 1l-1 1l-2 0l-1 1l0 2l1 1l2 0l4 4l1 0l6 5l-2 2l0 2l2 1l3 3l0 1l1 0l3 3l2 1l7 0l3-4l0-3l-1-1l2-2l2-1l3 0l1-1l5 0l1-1l3 0l1-1l1 1l4 0l2-2l0-3l1-1l2 0l1-1l4 0l1 1l2 0l2-1l1-2l0-3l1-1l-2-3l0-2l2-1l4-4l2 0l1-1l4 0l6-3l1 1l2-1l3 0l1-1l3 0l2 1l3-3z"/>
<path fill="#F9E300" stroke="#F9E300" d="M431 498l-1 0l-1 2l0 3l-2 4l0 4l1 1l0 2l-1 1l0 4l2 2l0 3l1 0l0-8l-1-1l0-3l-1-1l0-4l1-1l0-3l1-1zM665 485l1 1l0 5l1 1l0 5l1 1l0 8l-4 5l-8 2l-4-5l0-3l-1-1l1-6l2-1l1-10l1-1l8 0zM400 467l1 1l5 1l6 8l0 4l-1 1l1 2l-2 4l-2 2l-1 3l-2 2l-1 3l-2 2l-2-4l-2-1l1-2l-2-1l1-1l-5-10l0-5l-1-1l0-4zM660 458l-2 2l0 2l3 2l3 7l-1 1l-7 0l-1-1l-1 1l-2 0l-1-1l-1 1l-4 0l-1 1l0 4l-1 1l0 8l1 1l0 3l2 2l0 2l2 2l1 8l2 3l-1 2l1 3l1 0l4 4l1 3l5 5l0 1l3 0l3 3l4-5l0-2l1-1l0-4l1-1l0-4l1-1l1-9l-1-1l-1-8l-2-3l0-7l-1-1l0-9l-1-1l-1-5l-2 0l-1-1l-3-6zM330 448l-2 1l1 1zM470 445l1-1l1 1l-1 1zM359 445l-4-1l-4 4l-5 2l-9 8l-1 0l-1 4l6 8l4 0l1-1l2 0l1-1l1-4l5-5l1 0l1-2l1 0l2-2l2-7zM332 437l3 3l-2 2l-1 0l-2-2l0-1zM329 437l1 6l4 1l2-5l-1 0l-2-3zM211 411l-1 2l2 4l1-1l0-2zM669 407l1-1l1 1l-1 1zM670 406l1-1l1 1l-1 1zM671 405l1-1l1 1l-1 1zM280 406l-3-1l-2-2l-2 4l-2 2l-1 0l-1 2l-2 0l-2-2l0-1l-1 0l-2-2l0 13l1 1l-1 1l0 3l2 3l7 0l1-1l0-9l-1-2l1-1l4-1l2-2zM224 396l1-1l1 1l-1 1zM691 390l1-1l1 1l-1 1zM692 389l1-1l1 1l-1 1zM693 388l1-1l1 1l-1 1zM435 387l0 1l1 0l0-1zM697 385l1 1l-2 2l-1 0l-1-1l2-2zM165 386l2-1l1 2l-1 1zM697 385l1-1l1 1l-1 1zM267 384l0 1l1 0l13 11l2-1l0-2l-4 0l-1-1l1-1l-1-1l-2 1l-7-7zM163 384l1-1l1 1l-1 1zM288 386l0 3l2 2l2 0l1-2l1 0l1 1l0 2l2 1l4-2l-4-8l-2 0l-1 1l-2 0zM220 379l1 1l0 3l-1 1l-2-2l0-1zM212 373l1-1l1 1l-1 1zM418 371l-1 1l2 1l1-1zM160 370l1-1l1 1l-1 1zM257 369l-1 1l-2-1l-3 3l-2 0l-3 2l-2 0l-5-4l-1 1l7 4l3-2l2 0l3-2l2 0l2-1zM152 371l2 4l-1 1l0 2l2 1l2 2l0 1l2 0l1 1l0 3l2 2l1-1l1 2l9 9l2 0l1 1l0 2l2 1l1-3l-2-1l-4-4l0-1l-4-5l1-1l1-5l2-2l-1-1l0-2l-6-6l-2 0l-3-2l-1 1l1 1l-1 1l-3-1l-1 2zM355 370l0-3l1-1l4 0l1 1l-2 4l-3 0zM190 367l0 3l-2 2l0 2l1 1l0 5l-1 1l0 2l-2 1l1 2l-1 1l0 3l4 4l0 2l4 6l-2-3l1-2l2 0l3 2l2 0l-1-1l1-2l5 3l0-1l2-2l1 0l2 3l7 1l2 2l1 0l0-1l3-3l2 0l1-1l-1-2l0-5l-3-6l1-2l-2-1l-2-4l-1 1l-2-2l-1-5l-2 0l-3-3l-2 2l-2-1l-2 2l-1 0l-2-2l0-1l-3 2l-1-1l-1 1l-5-4zM124 365l-1 1l3 5l2-4l-1-2zM428 362l-1 1l0 2l1 1l2 0l2-2l-2-2zM411 361l-1 3l1 1l2 0l1-1l0-3zM724 361l-1-1l-2 1l-3 6l-2 0l-2-4l-2-1l-2 0l-3 3l-5 0l0 6l2 1l-1 2l0 4l-1 1l-4 0l-2 4l-2 2l-2 0l-8 8l-1 0l-6 5l-3 0l-4 4l-1 0l0 2l-8 5l0 1l-6 5l-2 0l-3 2l-5 0l-2 2l-2 0l-2-2l-2 0l-1-1l-1 1l-8-1l-1-2l-3 0l-1 1l-11 0l-2 2l-17 0l-1-1l-1 1l-3 0l-1 1l-1-1l-2 0l-1 1l-2 0l-3 4l-1 0l-4 4l-1 0l-9 10l-1-1l0-3l-1-1l-1 0l-5-4l-3-1l-1-2l-6-5l-2 0l-7 6l-3 0l-5-5l-5 0l-1 1l-2-1l-4 0l0 1l-2 2l-3 0l-3 2l-4 0l-5 3l-6 1l-5 3l-5 0l-1 1l-2 0l0 1l-2 1l-1 2l-2 0l-1 1l-2-1l-4 2l-6 1l-3 2l-3 0l-2 2l-2 0l-4 3l-1 0l-4 4l-2 0l-5 3l-4 0l-2 1l-1 2l-3 1l-3 3l-12 0l-1-1l-8-1l-4 2l-17 0l0 1l4 8l1 7l5 10l4 4l0 1l4 5l0 4l3 6l-1 2l2 3l0 2l2 1l1 2l5 0l1 1l-1-4l-1-1l0-2l1-1l-1-1l0-5l-1-1l0-5l2-3l-1-3l2-3l0-2l5-10l2-2l1-3l2-2l1-3l3-4l2 0l5-3l2 0l7-4l1 1l1-1l3 0l2-1l2-3l5-1l3-2l5-1l3-2l4-1l2 2l4-2l3 0l4-3l-1-1l2-2l3 0l1 1l-1 1l4 0l1-2l3-2l2 0l4-2l1 1l4 0l3-3l9 0l1 1l3 0l5 5l1 0l3 4l4-1l1-1l3 0l3 2l3-4l2 0l3 3l3-2l4 0l2-1l2-3l19 0l5-3l5-1l3-2l3 0l5-4l3 0l1 1l1-1l5 0l1-4l2-2l6 0l2 2l1-1l10 1l2 1l2 3l1-1l3 3l2 0l6-5l1 1l8 0l3-2l4-1l0-1l2-2l0-2l4-4l0-3l1-1l6-3l3-3l7-3l1-3l9-8l1 0l4-4l2 0l4-4l1 1l3-4l3-1l2-2l0-1l2-1l1-2l-1-2l3-4zM326 356l1-1l1 1l-1 1zM214 356l0 1l13 13l-1-3l-2-1zM455 355l1-1l2 0l1 1l-1 1l-2 0zM354 355l1-1l4 0l1 1l0 3l-1 1l-4 0l-1-1zM170 355l-1 1l1 1l0 2l2 1l1-2zM267 344l-2 0l-1 10l1 0l0-3l1-1zM216 344l3 7l2 2l-1 1l1 0l2 2l0 2l1 0l6 7l4 2l-6-6l0-1l-3-3l-1-3l-1 0l-4-5l-2-5zM745 343l-2-1l-4 3l-3 0l-3 2l-4 1l-4 5l0 3l2-1l0-1l3-3l2 0l1-1l4-1l2-2l5-2zM105 337l1 1l2 0l4 2l0 4l1 1l0 3l-1 1l-1-1l-5 0l-1-1l0-4l-1-1l0-4zM275 332l-1 1l0 4l2 2l1 3l-1 1l0 3l-2 4l-2 2l0 2l1 1l2-1l7 4l1-1l-1-1l-3-1l-4-3l1-3l5-4l0-1l-2-1l0-4l-3-4l0-2zM321 332l0 1l3 0l5 4l8-4l-1-1l-2 1l-1-1l-2 1l-3 0l-4-2zM521 339l-4-5l-11 0l-1 1l-2 0l-1-1l-1 1l-6 0l-1-1l-5 0l-1-1l-2 0l-1 1l-1-1l-9 0l-3-5l0-3l-1-1l-13 0l-1 1l-5 0l-3-2l-6-1l-1 1l-5 0l-4 2l-3 0l-1 6l-2 2l0 2l1 1l-1 1l-3 0l-2 1l-6 7l-10 0l-1 1l-9 1l-1 1l-3 0l-1 1l-3 0l-1 1l-4 0l-1-1l-5-1l-7-6l-3 3l-3 0l-1 1l-6 0l-3-2l-5 0l0 8l1 1l0 2l-1 1l0 4l-1 1l1 3l-1 1l-4 0l-1 1l-2 0l-1-2l-2 1l-10-5l4-5l1-3l3-3l-1-1l4-3l2 0l0-2l-1-1l-1 1l-4-1l-1 1l0 2l-6 4l-4 8l-3 2l0 3l2 2l2 4l0 2l-5 4l-1 10l-2 3l1 1l0 3l1 1l-1 2l1 2l-1 2l1 1l0 6l1 1l0 4l2 2l1 3l1 0l3-4l-1-1l-1 1l-1-1l0-5l-1-1l1-1l0-2l-1-1l0-4l-1-1l-1-8l2-2l-1-2l0-2l2-2l-1-2l1-2l5-5l0-2l-2-2l1-2l1 1l4 1l2 2l3 0l1 2l2 1l7 0l1 1l0 5l1 1l6-3l1 1l7 0l1-1l1 1l2 0l4-4l4-1l0-2l-1-1l0-4l2-3l7 0l1 1l3-6l5 0l1-1l1 1l14 0l1 1l6 1l1-1l9 0l1-1l2 0l1 1l4-2l4 0l1 1l2 0l2 2l-1 5l-1 2l-3 2l0 2l2 2l2 0l2 2l0 2l3 1l1 2l7-7l0-3l-4-3l1-1l0-3l1-1l0-3l1-1l3 4l0 1l2 1l1-1l-1-4l-1-1l1-1l4 1l1 2l4 0l4-2l0-1l4-3l8 0l1-1l1 1l5 0l1-1l7 0l1 2l1 0l1-1l5-1l4-2l2-2l2 0l1-2l5-4zM646 322l-1-2l-3 1l-1 2l-4 3l-3 0l-2-2l-3-1l-2 2l0 1l2 2l6-1l2 2l1 0l2-3l1 0l2-2l2 0zM497 317l-2 1l1 1zM622 317l1 3l6 0l1-1l-1-4l-6 0zM84 315l1 2l0 3l2 4l2 2l1 3l5 6l0 2l2 2l1 3l2 1l0 2l5 10l1 1l4-2l2-2l3-1l0-3l2-2l0-4l-2-1l-4-9l-12-11l0-2l-5-5l-1 1zM608 313l0 1l-2 1l0 1l2 2l1-2zM596 310l-2 0l-1 1l-5 0l-3 3l5 3l0 2l2 2l2 0l2-2l0-2l2-3zM459 305l-1 1l0 2l1 1l2 0l1-1l0-2zM197 305l-1 1l2 4l2 2l1-1l-3-6zM608 297l2-2l1 0l5-6l5 4l4 1l1 1l3 0l4 3l-1 1l-8 0l-1-1l-2 0l-1 1l-10 0zM71 289l-2 2l1 3l2 1l1 4l2 1l1-2l-3-5l0-3zM672 306l-3-2l1-2l-5-4l1-1l0-2l-1-2l-2-1l-2 0l-1 1l-5 0l-1-1l-1 1l-2 0l-4-2l-5 0l-5-4l-2 0l-1-1l-5 0l-2-2l-3 0l-2 1l-4-4l-4 1l-2 4l-8 8l-3-2l-12 2l-6-7l-9 0l-1-2l-1 1l-3 0l-4 2l-7 5l-7 0l-6-6l-3 0l-1-1l-3 0l-2-1l-2 2l-4 1l1 2l0 3l4 7l6 6l0 1l1 0l4 4l1 0l1 2l-5 4l-3 0l-4 2l-2 2l-5 2l0 1l-2 2l-4 2l-1 2l-2 1l0 2l3 3l2-1l0-2l5-4l2 0l10-5l0-1l9-8l-3-2l1-1l3 0l2 2l2 0l1 1l7-5l1 0l3-5l2 0l1-2l3 2l2 0l4 2l2-2l4-2l2 0l1-1l7 0l3-3l1 1l0 2l3 3l3 0l1-1l1 1l2-1l1 1l2 0l1-1l15 0l2 2l2 0l0-1l2-2l1 0l0-2l-1-1l1-1l5-1l2 2l2 0l1 1l0 4l1 1l0 2l4 0l1-1l1 1l4 1l2 3l1 0l2-2l4 2l5-1l1-1zM753 280l1-1l1 1l-1 1zM498 280l-1 4l6 5l3 0l2-2l0-3l-1-1l-3 0l-2-1l-1-2zM208 280l-2 2l1 1l2 0l3 3l1-2l-2-1l-2-2l0-1zM695 277l-2 0l0 1l-2 2l0 3l3 0l-1-1l2-2l1 0l0-2zM235 276l-2 1l1 2l-1 1l2 1l0 2l1 1l-5 7l1 2l2-1l1-3l2-1l0-2l1-1l-1-6zM744 274l-3 0l-3 3l-2 0l-1 2l-1-1l-2 0l-4 2l-2-1l-7 0l-3-2l-1 6l-1 1l-3-1l-4 3l0 2l2 2l0 3l-3 3l-1-1l0 1l-4 4l-2 0l-1 1l-4 0l0 3l3 2l2 0l4-2l4 1l1-2l2 0l1-1l0-2l2-3l2 0l2-2l1 0l1-4l2-2l0-2l-1 0l-2-2l0-1l2-2l1 1l4-1l3 2l1-2l5 0l1-2l1 1l1-1l1 1l1-1l5 0l1-2zM140 274l1 6l3 6l0 2l2 0l-1-1l-1-4l-2-2l0-2l1-1l-1-4zM765 271l2 2l-3 3l1 2l-1 1l-1-1l-2 1l-1 2l-3 0l-1-1l0-2l5-4l0-2l1-1l1 1zM770 271l-2-1l-1 1l-2-2l-3 0l-2 2l-2 0l-1-1l-2 3l0 3l-2 2l1 1l-1 1l-4-1l-1 2l4 3l4 0l2 1l0-1l6-4l2 1l1-1l0-2l2-1l-1-3l2-2zM694 266l0 3l3 2l1-2l3 0l1-1l0-2l-1-1l-2 0l-1 1l-3-1zM247 268l1 2l2-1l1 1l1-1l2 0l1 1l5 0l1 1l2 0l1-2l0-3l-2-1l-7 0l-1 1l-6 1zM756 264l-1 0l-2 2l-1-1l-1 2l1 3l1 0l4-4zM726 266l0 3l3-1l3 3l3-2l0-3l-1-1l-4 0l-2-1zM772 258l1-1l1 1l-1 1zM203 256l-1 2l2 2l0 3l2 1l0 4l1 1l0 3l1 1l-1 2l2 2l2-2l0-2l-3-5l0-2l-2-3l0-2zM705 254l1-1l1 1l-1 1zM68 254l0 1l-5 5l1 8l1 1l1 6l2 0l3 2l2 0l2-2l-1-2l1-4l-2-3l0-4l-1-1l0-2l-4-4zM710 249l1 1l-4 4l-1-2l3-3zM798 248l-1-1l-2 0l-1 1l-5 0l-4 2l-4 0l-2 2l-4 1l-2 4l-1 0l-2-2l-2 2l0 8l1 2l4-2l0-2l1-1l0-2l-1-1l1-1l3 0l1-1l1 1l4 0l1-2l3 0l1-1l-1-1l0-2l1-1l2 1l1-1l6 0zM142 246l-2 1l2 2l0 3l2 3l0 1l-2 2l0 2l2 1l2-4l0-4l-1-1l0-3zM238 240l1-1l3 0l1 2l-1 1l-1-1l-2 1zM731 239l0 2l1-1zM642 239l0 1l2 1l0-2zM749 237l-1 2l2 2l1 3l-2 2l-2 4l1 1l1 0l2-3l4-1l0-1l-4-3l1-1l-1-1l0-2l1-1zM708 237l2-1l1 2l-2 1zM190 243l1 2l8-6l4 0l2 2l3 0l1 1l1-1l2 1l2 2l0 1l1-1l2 2l1-1l0-1l-1 0l-7-5l-3 0l-1-1l-5 0l-1-1l-1 0l-2 2zM692 236l1-1l1 1l-1 1zM694 227l0 1l1 0l0-1zM161 227l1 1l5 0l1 1l5 0l1 1l4-1l1-1l2 0l-9 1l-1-1l-4 0l-1-1l-3 0l-1-1zM713 225l1-1l1 1l-1 1zM188 225l-2 0l-2 1l0 1l1-1l3 0zM284 231l-4 0l-1-2l-4-2l-2-2l0-1l-2 0l-1 2l5 4l0 2l-4 4l-1-1l-4 0l-4-3l-1 1l-3-2l-3 0l-10 5l-3 0l-3 3l-5 0l-1 1l2 2l2 0l6 3l1 0l3-4l2 0l0-1l3-3l4 0l1 1l2 0l2 4l2 0l0-1l3-2l3 2l2 0l2-2l1 0l-1-1l2-1l0-1l3-4l2 0l1 1zM759 222l0 1l-2 1l-2 4l1 0l3 4l-1 2l1-1l2 1l1 2l2 0l0-1l2-1l1-2l1 0l0-3l-2-3zM307 221l-3 1l0 1l-3 2l-2-1l-1 2l-2 1l-1-1l-1 2l1 2l4 0l5-4l2 1l4 4l1 2l-1 1l0 3l-1 1l-1 5l-2 2l0 2l-2 2l-1-1l1 2l1 0l3-3l1-3l2-1l1-2l1 0l-1-2l1-4l-1-1l2-1l0-1l-4-5l0-3l-2-1zM709 220l-2 2l-4 1l-2 2l-4 2l3 3l-1 2l-2 0l-2-2l-1 0l-4 4l-2 0l-1 2l0 3l1-1l4 1l2-1l-1-1l2-1l2 2l0 4l2 0l2 2l0 1l2 0l2 2l2 0l1 1l0 1l-5 5l0 1l2 1l-7 6l1 1l1 0l0-1l3-3l2 0l2-4l2-2l1 0l0-1l3-3l1 0l1-3l2-2l1 0l0-1l-1 0l-6 7l-1-1l0-2l2-2l0-1l-4 4l-2-3l1-2l3-1l2-2l8 0l2 2l0 1l1 0l3-3l1 0l0-1l2-2l1 0l1-2l-2 2l-1-2l-2 0l-2-2l-5-2l-1-1l1-4l-4-1l-3-3l-1 2zM230 219l-1 0l-1 2l-2 1l-2 4l0 2l1 0l1-3l3-2zM188 214l-7 6l-10 5l2 0l3-2l5 0l2-2l3-1l1-1zM149 211l0 2l4 2l3 3l0 1l2 0l4 3l3 1l-1-2l-7-3l-2-2l-1 0l-4-4l0-1zM135 209l-5 2l0 1l-2 1l0 2l-2 4l0 2l1 1l-1 1l0 3l1 1l-1 1l0 3l-1 1l0 4l2 0l1-1l2 0l1 1l-1 1l1 2l-1 3l1 2l2 1l1-1l0-2l-1-1l1-2l-1 0l-2-3l4-7l2-2l1 0l4-5l-2-7l-5-5zM78 207l-2 0l2 7l-1 2l-4 3l1 2l1 0l2-4l5-4l-2-2l0-2l-1 0zM745 201l2-1l2 2l0 2l-1 1l-2 0l-1-1zM82 202l1 1l1-1l3 0l0-1l-4 0zM835 200l-1 0l-2 2l0 1l1-1l2 0zM228 199l-2 0l-1 4l-3 4l1 1l-2 3l0 2l-2 3l0 2l1 0l0-2l2-3l0-2zM749 198l-5 2l-1 4l2 1l1 2l2 0l3-3l-2-4zM752 200l2 4l5 6l3 0l6 3l-2-3l-2 1l-1-1l-4-1l-2-2l0-6l-1-1l0-3zM639 196l-2 3l6 2l1-1l-1-3zM118 194l-1-1l-6 3l1 2l1-2l4 0zM854 192l-2 0l-4 2l-1-1l-2 0l-1 2l2 0l1-1l1 1l5 0l1-1zM754 191l0 1l-2 2l4 1l1-1l0-2l-1-1zM537 192l-3-2l-1 1l-5 0l-1 1l0 3l1 2l4 2l2 0l2-1l1-2zM774 188l-1 0l0 2l1-1l1 2l-1 1l-1 7l-1 1l-1 4l-3 3l0 2l1 0l4-4l0-4l2-4l0-8zM153 188l-2 1l0 3l-1 1l1 1l1 0l2-4zM768 182l2-1l1 2l-2 1zM773 179l-2 1l-2-1l-2 2l-3 0l-2 2l-1 0l1 1l0 2l-1 1l-2-2l-1 0l-1 2l1 1l4-2l2 1l4-3l3 0l1-4zM58 171l-1 1l2 2l0 2l2 1l1-2l-2-2l0-1zM617 166l1-1l1 1l-1 1zM119 164l0 1l2 1l2 0l1-1l-3 0zM265 163l-1 2l2 2l0 3l2 0l2-2l0-1l-3-4zM836 175l1 2l2-1l3 0l2 1l2-2l1 0l1 2l1 0l2 2l2-2l4 3l2 0l1 2l5 0l1-1l1 1l4-5l0-2l-2-2l2-2l-3-1l-2-2l-6 1l-2-2l2-4l-1-1l-4 0l-2-1l-2 2l-4-1l-3 3l-2 0l0 3l-4 3zM618 160l-6 1l-1 1l0 3l1 1l-1 1l-2 0l0 9l-1 1l0 3l-2 4l-2 2l0 2l-2 2l-1 8l5 6l8-5l9 1l3-2l2 0l3-2l2 0l2-4l3-3l0-9l-1-1l0-2l-2-1l-4-4l-5-1l-6-3l-1-1l2-2l0-1l-3-2zM521 151l-1 1l0 2l2 2l2-2l0-1l-2-2zM304 151l0 2l1 1l4-1l1-1l-1-2l-2 1l-2-1zM47 146l-1 1l0 2l2 2l0-4zM565 143l1 1l0 2l4 0l1-1l0-2l-1-1l-4 0zM547 144l0 1l2 2l3 0l1-1l0-2l-2-2zM559 140l-1 1l1 2l1-1zM109 140l-2 1l-3 0l0 2l1 0l2-2l2 0zM388 131l1-1l1 1l-1 1zM113 128l-1 2l2 4l-1 2l3 4l7 3l1 2l2-1l4 0l6 4l3 0l1-1l0-2l-2-1l-2 0l-3-2l-1 1l-6-1l-7-4l-3-4l0-5l-1-1zM240 126l-3 1l-2 2l-4 2l1 1l2-2l4-2l2 0zM38 125l-1 2l2 2l-1 1l1 1l0 2l2 4l2 1l1-2l-2-4l-3-3l0-4zM401 127l-2-2l-2 0l-1-1l-4 0l-3 3l0 3l-1 1l-3 0l-1 1l0 2l1 1l3 0l2-4l2 2l0 1l2 0l5-4l1 0l0-2zM259 126l1 2l4 1l1 2l2 1l7 0l1 1l3 0l1 1l4 0l1-1l2 0l5-4l0-2l-1-1l-7 0l-2 1l-1 2l-5 0l-1-1l-4 1l-1-1l-2 0l-4-2l-1-2l-1 0zM288 118l0 2l1 1l4 0l3 2l2 0l1 2l3 0l1-1l3 0l2-1l0-1l-2-1l-7 0l-1-1l-2 0l-1-2l-3-2l-2 0zM608 155l-2-2l-4 0l-1-1l-7 0l-1 1l-10 0l-2 2l-6 3l-2-1l-8 7l0 3l-2 2l-1 0l-3 3l0 1l-6 5l-2 1l-3-2l-1 1l-1-1l-2 0l-1 1l-3 0l-1 1l-8 0l-4-3l-3-6l-2-1l-3 0l-4-2l-2-2l-2 0l-1-2l-3 0l-1 1l-1-1l-3 0l-1-1l-9 0l-1-2l-5 1l-3-3l-2 0l-7-5l-8 0l-6-3l-2-2l-4 1l-2-2l-1 0l-1-1l1-1l0-3l-2-3l1-1l0-2l-5-10l-10-7l0-2l-2-3l0-3l-2-1l-6 5l-1 12l-1 1l-1 6l-2 2l-4 1l-7 4l0 1l-3 3l-1 0l-2 4l0 1l1 0l7 5l0 3l-2 4l-4 0l-3 2l-12-1l-1-1l-2 1l-4 0l-1-1l-1 1l-3 0l-1 1l-5 1l0 1l-6 6l-4 2l0 3l4 4l0 1l-2 4l-2 2l-1 0l-1 2l1 7l-2 2l0 2l-1 1l1 2l1-1l3 3l4 1l1 1l4 0l2 2l0 7l-2 2l0 1l4 5l-5 6l-5 0l-1 1l-10 0l-3 2l-5 0l-2 2l-5 0l-1-1l-2 0l2 0l2 2l1 0l1 1l0 2l1 0l2 2l2-1l5 4l-1 6l-4 3l-4 0l-1 1l-6 1l-5 4l-3 0l-1 1l-3-2l-1 1l-7 0l1 12l2 1l1 2l3 2l0 1l12-1l5 5l-7 6l-2 4l-4 0l-3-2l-1 2l2 0l3 2l7 0l2-2l2 0l1-1l2 0l1-1l2 0l4-2l0-10l-1-1l4-7l0-5l1-2l2-1l1-2l1 0l0-3l1-1l0-3l-1-1l0-2l1-1l-1-1l2-3l2 0l1-1l11 1l3-3l11 0l6-5l3 0l1-1l6 0l1 1l4 0l1 1l0-2l3-3l0-2l-7-4l-4-1l-4-3l3-3l0-3l-1-2l2-2l3 0l2-2l0-2l2-2l0-3l2-2l1-5l-3-6l1-1l0-2l8-7l7 0l1 1l2 0l4 4l0 1l3 3l0 1l3 3l1 0l3 4l1-1l5-1l0-2l-1-1l0-3l1-1l0-2l-1-1l1-2l0-3l-1-1l-1-5l-2-2l1-1l0-3l1-1l0-2l-1-1l2-3l12 0l2 2l5 0l1 1l4 0l1 1l2-1l3 0l1 1l4-1l4 2l4 0l1 1l3 0l4 2l8-1l1 1l3 0l3 3l1 0l8 6l3 1l3 3l2-1l2 0l1 1l5 0l3-2l3 0l4 4l3 0l1-1l5 0l0-1l4-3l4 0l3-4l2 2l5 0l1-4l-1-1l-1-5l2-1l4-5l3 0l1-1l6 0l3-2l3 0l1-1l6-1l1-2l1 0l1 2l1 0z"/>
<path fill="#EEAA00" stroke="#EEAA00" d="M429 503l-2 4l0 4l1 1l0 4l-1 2l2 2l0 4l1 0l0-4l-1-1l0-7l-1-1zM430 498l0 1l1 0l0-1zM656 485l4 0l1 1l3 0l1-1l1 1l0 5l2 4l0 11l-6 7l-7 0l-2-2l0-2l-2-4l0-4l2-4l1-10zM400 467l1 1l2 0l1 1l4 1l5 7l-1 9l-3 4l-1 3l-3 2l-1 3l-2 2l-1-2l-2-1l-2-4l0-2l-1-1l1-2l-4-7l0-5l-1-1l0-4zM659 459l0 3l2 2l3 7l-1 1l-7 0l-1-1l-1 1l-3 0l-1 1l-1-1l-2 0l-2 3l0 3l-1 1l0 6l1 1l0 3l4 7l1 8l3 6l-1 1l1 0l5 5l0 2l3 2l0 1l3 3l0 1l1-1l4 4l4-5l0-2l1-1l0-4l1-1l0-4l1-1l1-9l-1-1l-1-8l-2-3l0-5l-2-3l0-5l1-1l-2-4l1-1l-1-1l0-2l-4-3l0-1l-3-4zM330 448l-2 1l1 1zM470 445l1-1l1 1l-1 1zM361 447l-1 0l-2-2l-3 0l-4 4l-2 0l-5 4l-1 0l-4 4l0 1l-4 3l4 5l1 3l2 0l1 1l1-1l4-1l1-4l2-1l0-1l9-8l0-2l1-1zM332 437l3 3l-2 2l-1 0l-2-2l0-1zM329 437l1 6l4 1l2-5l-1 0l-2-3zM560 431l-1 0l-5-4l-3-1l-3-3l0-1l-3-1l-2-2l-1 0l-3 3l-1 0l0 1l-3 3l-5-1l-3-4l-8 0l-1-1l-2 0l-3 4l-5 0l-8 4l-2 0l-1 1l-8 2l-1 2l-2 0l-1 1l-1-1l-3 0l-5 4l-2 0l-1 1l-2 0l-4 2l-3 0l-6 3l-2-1l-3 3l-2 0l-3 2l-2 0l0 1l-2 2l-4 1l-9 5l-2 0l-4 2l-3 3l-14 0l-1-1l-7 0l-1 1l-19 0l0 1l6 12l-1 2l2 3l1 4l10 13l0 2l1 1l0 4l2 4l1 6l2 1l1 3l5 0l1 1l-1-4l-1-1l0-3l-1-1l0-5l-1-1l0-2l2-4l-1-2l1-1l0-2l2-3l0-2l5-10l2-2l1-3l2-2l1-3l3-4l2 0l5-3l2 0l9-5l2 1l5-4l5-1l3-2l5-1l3-2l4-1l2 2l4-2l3 0l2-2l-1-1l4-3l3 0l4 2l1-2l3-2l2 0l4-2l5 0l2-2l2 0l1-1l1 1l2 0l1-1l2 1l3 0l4 2l3 3l1 0l3 4l3 0l1-1l5 0l2 1l2-3l3 0l3 3l3-2l2 0l3-2l2 0zM211 411l-1 2l2 4l1-1l0-2zM669 407l1-1l1 1l-1 1zM670 406l1-1l1 1l-1 1zM671 405l1-1l1 1l-1 1zM279 406l-2 0l-2-2l-1 1l1 1l-2 1l-4 5l-2 0l-5-6l0 13l1 1l1 6l7 0l0-5l1-1l0-2l-2-3l3-2l3 0l2-2l2-4zM165 386l2-1l2 2l-2 1zM699 385l0 1l-7 6l-2 0l-1-1l6-6l2 0l1-1zM164 385l1-1l1 1l-1 1zM267 384l0 1l1 0l3 3l1 0l8 7l2 0l1-1l0-1l-4 0l-1-1l0-2l-2 1l-2-1l-1-2l-4-4zM163 384l1-1l1 1l-1 1zM288 386l1 4l3 0l2-1l1 2l2 1l2 0l1-1l0-3l-3-5l-2 0l-1 1l-2 0zM160 383l1-1l1 1l-1 1zM212 373l1-1l1 1l-1 1zM418 371l-1 1l2 1l1-1zM238 371l7 4l0-1l-1 0l-2-2zM154 373l-1 1l1 1l-1 1l1 3l2-1l1 1l0 3l2 0l1 1l0 3l1 1l2 0l1 2l8 8l2 0l3 3l-1 1l1 1l2-2l0-1l-2-1l-5-5l0-1l-3-4l1-2l0-4l2-2l-1-4l-6-5l-2 1l-1-2l0 1l-3 2l-1-1l-1 1zM257 369l-1 1l-2 0l-6 3l2 0l3-2l2 0l2-1zM355 367l1-1l4 0l1 1l0 3l-1 1l-4 0l-1-1zM190 367l0 3l-2 3l0 1l2 2l0 3l-2 4l-2 1l2 2l-2 1l0 2l1 2l2 1l2 5l5 0l2 2l1 0l-1-2l1-1l2 0l2 2l2 0l2-2l1 0l2 3l3 0l1 1l6 1l4-4l1-7l-2-3l0-2l-2-1l1-2l-1 0l1 1l-1 1l-1 0l-2-2l0-2l1-1l2 1l-6-5l0-4l-2 0l-2-2l-6 1l-1 1l-1 0l-2-2l-2 1l-3 0l-4-3zM124 365l-1 1l3 5l2-3l-1-1l0-2zM428 362l-1 1l0 2l2 0l1 1l1-3l-1-1zM411 362l-1 2l1 1l2 0l1-1l0-2zM723 361l-2 2l-1 0l-3 6l-2-4l-4-3l-4 3l-5 1l0 3l2 3l0 6l-1 1l-5 1l0 2l-1 1l-1 0l-2 2l-2 0l-4 5l-1 0l-11 9l-4 1l-4 5l-7 4l1 2l-1 1l-6 3l-2 0l-3 2l-5 1l-2 1l-1 2l-2-1l-2-3l-1 1l-1-1l-5 0l-1-1l-3 0l-1-1l-2 0l-1 1l-11-1l-3 2l-17 0l-1-1l-1 1l-3 0l-1 1l-5 0l-4 4l-1 0l-4 4l-1 0l-9 10l13 0l1-1l1 1l2 0l4-2l2-2l12-3l4-4l2 0l1 1l2 0l1-1l4 0l0-3l2-2l2 0l1-1l3 0l3 2l6 0l1 1l4 0l4 3l1 0l3 3l2 0l6-5l10 0l1-1l2 0l3-2l0-1l2-2l0-2l4-3l0-3l1-1l1 0l3-3l2 0l0-1l2-2l1 0l5-4l1 1l0-1l5-5l1 0l5-6l2 0l3-3l2 0l3-4l2 0l3-3l1 0l5-5l1-4l3-4zM214 357l13 13l0-1l-12-12zM326 356l1-1l1 1l-1 1zM455 355l1-1l2 0l1 1l-1 1l-2 0zM354 355l1-1l4 0l1 1l0 3l-1 1l-4 0l-1-1zM170 355l-1 1l2 4l1 0l1-2zM216 345l3 6l4 5l0 2l1 0l3 3l0 1l3 2l0 1l0-2l-2-2l0-1l-9-11l-1-3zM267 344l-2 0l-1 10l1 0l0-3l1-1zM745 343l-2-1l-8 5l-6 1l0 1l-3 3l0 2l5-4l6-1l2-2l5-2zM105 336l4 3l2 0l1 1l0 4l2 4l-2 2l-1-1l-5 0l-2-2l1-4l-1-1l-1-4zM213 334l0 2l1 1zM275 332l-1 1l1 2l-1 1l3 6l-1 1l-1 6l-3 3l0 1l1 0l1 2l1-1l1 1l2 0l4 3l0-2l-3-1l-4-3l1-3l5-4l-2-2l0-4l-3-4l0-2zM321 332l3 1l5 4l8-4l-1-1l-2 1l-1-1l-1 1l-6 0l-2-2zM519 337l-1-2l-3 0l-1-1l-6 0l-1 1l-3 0l-1 1l-1-1l-12 0l-3-2l-1 1l-3 0l-1-1l-4 0l-1 1l-2 0l-2-3l-1-6l-1-1l-20 1l-4-2l-8 0l-4 2l-5 0l1 2l-1 1l0 3l-2 1l0 4l1 1l-2 2l-1-1l-4 1l-5 6l-5 0l-1 1l-5 0l-1 1l-4-1l-1 1l-7 1l-4 2l-6 0l-1-1l-2 1l-9-7l-1 0l-4 3l-9 0l-1-1l-5 0l-1-1l0 13l-1 1l0 6l-2 2l-6 0l-6-3l-2 0l-2-2l-2 0l-1-1l4-5l4-9l1-1l1 1l2-2l1 0l-1-2l-1 1l-4-1l-1 1l0 2l-6 4l-4 8l-3 2l0 2l3 3l0 3l2 2l-4 4l-1 0l-1 2l0 3l-1 1l1 3l-2 3l0 6l1 1l0 13l1 1l0 3l2 2l1 4l1 0l2-3l0-1l-2-1l0-5l-1-1l1-3l-1-1l0-3l-1-1l-1-10l2-1l-1-1l0-4l2-1l-1-2l1-2l5-5l0-2l-2-1l0-2l1-1l1 1l4 1l2 2l6 1l1 2l6 0l2 3l0 4l6-3l13 0l0-1l3-3l3 0l1-1l-2-3l1-2l0-3l1-1l8 0l1 1l3-6l5 0l1-1l2 0l1 1l4 0l1-1l2 0l1 1l6 0l4 2l3-2l2 0l1 1l8-1l1 1l1-2l4-1l1 1l5 1l3 2l0 2l-2 3l0 2l-1 1l-2 0l-1 1l0 2l2 2l2 0l2 2l0 2l4 2l2-2l1 0l4-5l0-1l-5-4l2-2l0-3l1-1l-1-2l2-2l2 1l-1 2l2 2l0 1l2 1l1-1l-1-4l-1-1l1-1l5 1l1 2l1 0l3-2l2 0l4-5l2 0l1 1l3 0l1-1l17 0l1 1l1-1l1 1l2 0l3-2l2 0l1-2l5-1l1-2l4-4l0-1l-2-2zM646 322l-2-2l-1 2l-1-1l0 1l-5 4l-3 0l-4-2l-1 0l-1 2l1 1l6 0l2 2l1 0l2-3l1 0l2-2l2 0zM497 317l-2 1l1 1zM623 316l1 4l2-1l2 1l2-2l0-1l-2-2l-4 0zM84 315l1 2l0 3l2 4l2 2l1 3l8 10l2 4l0 2l5 10l1 1l4-2l1-2l4-2l0-3l2-1l0-2l-6-12l-3-3l-1 0l-9-9l-2-4l-2-1zM608 314l-1 1l1 2l1-1zM549 314l-7 3l-2 2l-3 0l-2 1l-2 2l-1 0l-1 2l-2 0l-2 2l-4 2l-3 4l0 1l2 2l2 0l0-1l6-5l2 0l10-5l0-1l7-6zM595 310l-1 1l-6 0l-2 2l0 1l4 3l0 2l2 2l1 0l2-2l0-2l2-3zM458 308l3 0l1-1l-3-1zM197 305l0 3l3 4l1-1l-3-6zM608 297l8-8l5 4l4 1l1 1l3 0l4 3l-1 1l-6 0l-2 1l-2-2l-2 1l-10 0zM71 289l-1 1l0 2l2 3l1 4l2 1l1-2l-3-5l0-3zM714 284l1-1l2 1l-1 1zM142 283l2 3l0 2l2 0l-1-1l-1-4zM672 308l0-1l-3-3l1-2l-5-4l1-1l-1-4l-2-1l-2 0l-4 2l-2-1l-3 0l-2 1l-4-3l-5 0l-5-4l-6 0l-3-2l-6 0l-3-3l-3 0l-1 2l-10 10l-3-2l-2 0l-3 2l-5 0l-1 1l-1 0l-2-2l0-1l-1 0l-2-2l0-2l-1-1l-3 0l-1 1l-3 0l-1-1l-1 1l-1-1l0-2l-1 1l-2 0l-1 1l-4 1l-7 5l-7 0l-6-6l-3 0l-1-1l-3 0l-1-1l-3 2l-4 1l1 2l0 3l4 7l4 4l1 0l1 2l4 4l2 0l2 2l4 0l4 2l8-4l2-4l4-3l1 1l3 0l1 1l5 1l2-2l4-1l1-1l2 0l1-1l4 1l5-5l1 1l0 4l2 2l4 0l1-1l3 2l2 0l1-1l16 0l1 1l2 0l2-2l0-2l-2-2l1-1l8 0l4 3l1 6l8 0l2 1l2 2l0 1l1 0l2-3l1 2l2 1l5 0zM498 281l-1 2l5 5l2 1l2 0l1-1l1-3l-2-2l-3 0l-2-2zM208 281l-1 2l2 0l3 3l1-2l-4-3zM753 280l1-1l1 1l-1 1zM735 280l1-1l1 1l-1 1zM695 277l-2 0l0 1l-2 2l0 2l1 1l1 0l0-1l2-2l1 0l0-2zM235 276l-1 0l-1 2l3 6l-5 7l1 2l2-1l1-3l2-1l0-2l1-1l-1-6zM745 276l-2-2l-1 0l-4 3l-1 0l0 1l-2 2l-2-2l-4 2l-2 0l-1-1l-7 0l-1-1l-2 0l0 2l-2 4l-5 0l-2 2l0 2l2 2l0 3l-8 7l-2 0l-1 2l-4-1l1 3l2 2l2 0l4-2l2 0l1 1l2-2l2 0l1-1l1-4l4-2l3-3l0-2l2-2l0-1l-4-4l2-2l2 0l1 1l2-1l4 1l3-2l3 0l1-1l1 1l1-1l1 1l1-1l5 0zM140 274l1 6l1 0l0-2l1-1l-1-1l0-2zM769 271l-1-1l-1 3l-2 2l1 2l-1 2l-4 0l-1 2l-3 0l-1-1l0-2l4-3l1-3l2-2l2 1l0-2l-1 1l-1-1l-3 2l-2 0l-1-1l-2 3l0 3l-2 2l1 1l-1 1l-4-1l-1 2l1 1l3 0l1 1l-1 1l2 0l1-1l2 2l7-5l2 1l1-3l2-2l-1-1zM694 267l0 2l1 1l2 0l1-1l4-1l0-2l-1-1l-2 0l-1 1l-3-1zM247 268l1 2l2-1l4 0l1 1l6 0l1 1l1 0l1-2l0-2l-1-1l-3 0l-1-1l-4 0l-1 1l-6 1zM756 264l-1 0l-4 3l1 3l1 0l0-1l4-3zM726 266l0 3l2-1l2 0l1 2l3 0l1-1l0-3l-1-1l-4 0l-2-1zM772 258l1-1l1 1l-1 1zM777 256l1-1l1 1l-1 1zM203 256l-1 2l2 2l0 2l3 3l-1 1l1 6l1 1l-1 2l1 1l2 0l1-1l0-2l-3-5l0-2l-2-3l0-2zM704 255l1-1l1 1l-1 1zM68 255l-5 5l1 8l1 1l1 6l3 0l4 2l1-2l0-3l-1-1l1-1l-1-8l-1-1l0-2zM705 254l1-1l1 1l-1 1zM798 248l-1-1l-2 0l-1 1l-5 0l-2 2l-4 0l-6 3l-2 0l-2 4l-4-1l-1 1l1 2l-1 1l1 6l3 0l1-1l0-2l1-1l-1-3l1-1l3 0l1-1l1 1l4 0l1-2l3 0l0-2l-1-1l2-2l2 1l1-1l5 0l0-1zM142 246l-1 2l1 1l0 3l2 3l0 1l-2 2l0 2l2 1l2-4l0-4l-2-3l0-2zM718 243l-1 0l-10 11l-1-2l6-7l0-1l-4 4l0 1l-5 5l0 1l2 1l-6 5l0 2l1 0l0-1l3-3l1 0l1-2l2-1l0-1l2-2l1 0l0-1l3-3l1 0l0-2l3-3l1 0zM710 240l1-1l1 1l-1 1zM238 240l1-1l3 0l1 2l-1 1l-3 0zM731 239l0 2l1-1zM644 239l-1 1l1 1zM750 237l-2 1l0 1l2 2l1 3l-2 2l-1 5l1 0l2-3l4-1l0-1l-4-3l1-1l-2-3l2-1zM708 237l2-1l1 2l-2 1zM262 237l1-1l1 1l-1 1zM190 243l1 2l2-3l1 1l5-4l4 0l4 2l1-1l4 2l5 4l1-1l0-1l-1 0l-7-5l-4 0l-1-1l-4 0l-1-1l-1 0l-2 2zM260 236l1-1l1 1l-1 1zM694 227l0 1l1 0l0-1zM161 227l1 1l5 0l1 1l5 0l1 1l1-1l3 0l-1-1l-1 1l-4 0l-1-1l-4 0l-1-1l-3 0l-1-1zM713 225l1-1l1 1l-1 1zM283 231l-3 0l-1-2l-4-2l-3-3l-2 2l1 0l1 2l3 2l0 2l-4 4l-2-1l-4 0l-3-3l-1 1l-2-1l-1 1l-1-2l-1 0l-2 2l-2-1l-2 2l-2 0l-3 3l-2-1l-4 3l-4 0l-2 1l2 2l2 0l6 3l1 0l1-2l2-2l1 0l3-4l2 0l1-1l4 1l2 2l0 2l1 1l1 0l4-3l1 0l2 2l2 0l7-9l2 0l1 1l2-1zM759 222l0 1l-2 1l-1 4l3 4l-1 1l3 1l1 2l1 0l2-2l1 0l0-1l2-2l0-2l-2-2l0-1zM730 236l-1 1l-1-2l-4 0l-2-3l-2 0l-2-2l1-2l-3-3l-1 0l-2-2l-1 0l-1 2l-1-1l0-2l-2-1l-2 2l-3 0l-3 3l-2 0l0 2l2 2l-1 2l-6-1l-3 3l-2 0l-1 2l0 3l1-1l3 0l1 1l1-2l-2-1l1-1l2 0l3 3l0 3l1 1l2 0l1 1l0 2l2 0l2 2l1 0l0-3l4-2l2-2l9 0l1 1l0 2l1 0l2-3l2 0l-1-1l4-2zM307 221l-1 0l-1 2l-1-1l-1 2l-4 1l-5 3l1 2l2-1l2 1l1-2l5-2l2 2l1 0l1 2l2 1l-1 1l2 1l-2 1l1 2l-2 2l-1 6l-3 4l1 1l2-2l1-3l3-3l1 0l-1-2l1-2l-1-3l2-2l-3-2l1-1l-2-2l0-3l-1 0l-2-2zM230 219l-1 0l-1 2l-2 1l-2 4l0 2l1 0l1-3l2-2l1 0zM188 214l-7 6l-9 4l0 1l6-3l3 1l2-2l3-1l1-1zM149 211l0 2l4 2l3 3l0 1l2 0l4 3l3 1l-1-2l-7-3l-2-2l-1 0l-4-4l0-1zM135 209l-1 1l-4 1l0 1l-2 1l-1 6l-1 1l1 1l-1 2l0 2l1 1l-1 4l1 1l-2 2l0 3l4-2l2 1l-1 2l1 4l-1 1l2 2l2-1l-1-4l-2-3l2-3l-1-1l2-1l1-2l2-2l1 0l4-5l-2-7l-5-5zM77 207l-1 0l0 1l1 1l0 3l1 2l-1 2l-4 3l1 2l2-1l1-3l4-4l-2-4zM745 201l2-1l2 2l0 2l-1 1l-2 0l-1-1zM82 202l1 1l1-1l3 0l-2 0l-1-1zM835 200l-1 0l-2 2l3 0zM228 199l-2 0l-1 2l0 2l-2 3l1 2l-3 3l0 2l-2 3l0 2l1 0l0-2l2-3l0-2zM749 198l-5 2l-1 4l2 1l1 2l2 0l3-3l-2-4zM754 198l-2 2l0 1l2 1l0 2l3 3l0 1l2 2l3 0l5 3l0-2l-6-1l-4-3l-1-2l1-1l-1-7zM638 198l1 2l2 0l1 1l2-1l0-1l-3-2l-2 0zM118 194l-1-1l-6 3l1 1l1-1l4 0zM854 192l-2 0l-2 2l-3 0l-1-1l-2 1l1 1l1-1l2 1l5 0l1-1zM775 192l-1 0l0 3l-1 1l0 3l-1 1l0 4l-4 3l1 2l4-4l0-2l-1-1l2-2l0-2l1-1zM754 191l1 1l-1 3l2 0l1-1l0-2l-1-1zM527 193l0 2l4 3l4 0l2-3l0-2l-2-2l-6 0zM153 188l-2 1l0 3l-1 1l1 1l1 0l2-4zM758 185l-1 2l2 1l0-3zM773 179l-2 1l-3 0l-1 1l-3 0l-2 2l1 2l-1 1l2 1l1-2l4-1l-1-2l1-1l2 0l1 1l0-2zM58 171l-1 1l2 2l0 2l2 1l1-2l-2-2l0-1zM617 166l1-1l1 1l-1 1zM616 165l1-1l1 1l-1 1zM119 164l0 1l2 1l2 0l1-1l-3 0zM265 163l-1 2l2 2l0 2l2 0l2-2l-3-4zM836 176l1 1l1-1l6 0l1-1l2 0l3 3l3-1l6 3l1 2l2 0l1-1l3 0l1 1l2-2l0-2l2-1l-2-4l1-1l-1-2l-1 0l-2-2l-6 1l-2-2l2-4l-4 0l-1-1l-3 0l-1 1l-4-1l-3 3l-2 0l1 1l-1 2l-3 3l-1 0l0 2zM617 160l-4 1l-2 2l0 1l2 1l1 2l-1 1l-1-1l-2 0l-1 2l1 3l-1 1l0 6l-1 1l0 2l-6 8l-1 6l4 7l2 0l4-2l1-2l12 0l2-2l2 0l3-2l2 0l2-4l3-3l0-6l-1-1l-1-4l-5-5l-5-1l-6-3l-1-1l2-2l0-1l-2-1l-2-2zM522 151l-1 1l0 2l2 1l1-2zM310 151l-1-1l-4 1l0 2l1 1l1-1l2 0zM47 146l-1 1l0 2l2 1l0-3zM548 144l0 1l2 2l2 0l1-1l0-1l-2-2zM565 143l1 2l3 1l2-3l-1-1l-4 0zM560 141l-2 0l0 1l1 1zM106 141l-2 0l0 2l1 0zM388 131l1-1l1 1l-1 1zM113 128l-1 3l2 3l0 4l2 2l7 3l1 2l1-1l5 0l3 2l2 0l1 2l3 0l1-1l0-1l-2-2l-2 0l-3-2l-2 2l-2-2l-2 1l-2-2l-4-1l-1-2l-1 0l-3-4l0-4l-1-2zM240 126l-3 1l-2 2l-4 2l1 1l2-2l4-2l2 0zM260 126l0 2l4 1l5 3l7 0l1 1l6 0l1-1l1 1l4-4l1 0l1-2l-1-1l-2 1l-2-1l-1 1l-3 0l-3 3l-2-1l-6 0l-2 1l-1-2l-1 1l-3-1l-2-3zM38 125l-1 2l2 1l0 5l2 4l2 1l1-2l-2-4l-3-2l0-5zM400 126l-2 0l-2-2l-2 0l-5 3l0 3l-1 1l-3 0l-1 1l0 2l1 1l3 0l2-4l2 2l4 0l4-4zM289 118l0 2l1 1l3 0l6 3l7 0l2-2l-2 0l-1-1l-6 0l-1-1l-4-1l-1-2l-3 0zM607 154l-1-1l-6 0l-1-1l-16 2l-4 3l-6 1l-3 4l-2 0l-2 2l-1 3l-5 5l0 1l-7 6l-4 0l-3-2l-6 1l-1 1l-8 0l-2-1l-4-4l0-2l-2-2l-2-1l-1 1l-2-2l-6-2l-3-3l-2 1l-3 0l-3-2l-9 0l-1-1l-6 0l-9-7l-4 0l-1-1l-6 0l-1-1l-2 0l-4-3l-3 0l-2 1l-1-2l-2 0l-1-1l1-2l0-4l-1-1l1-4l-5-10l-4-3l-2 0l-3-2l-2-4l-1-5l-2-1l-5 4l-1 12l-1 1l-1 6l-2 2l-10 4l-3 4l-3 1l-2 4l0 1l1 0l7 5l0 3l-2 4l-2 0l-3 2l-8 0l-1-1l-13 0l-2 1l-1-1l-5 3l-2 0l-9 9l-1 0l0 1l2 1l2 5l-5 8l1 7l-4 5l7 5l5 0l4 2l0 6l1 2l-3 3l4 5l-3 3l0 1l-4 3l-2-1l-4 2l-2-1l-5 0l-2 2l-3 0l-4 2l-7 0l-1-1l-2 0l2 0l2 2l1 0l2 2l0 1l4 1l5 4l-1 6l-3 3l-3 0l-4 2l-4 0l-4 3l-4 1l-1 1l-4-2l-1 1l-7 0l0 3l2 3l0 4l-1 1l1 2l4 2l2 3l2-1l9 0l5 5l-5 5l-1 0l0 2l-3 3l-4 0l-3-2l-1 2l2 0l3 2l7 0l2-2l4-1l8-4l-1-2l1-1l0-2l-1-1l0-3l-1-1l2-4l3-3l0-3l-1-1l6-7l0-3l1-1l-2-4l1-1l0-3l2-2l4-2l2 0l1 1l7 0l3-3l2 0l1 1l2 0l1-1l4 1l7-5l3 0l1-1l12 1l0-2l2-1l0-3l-2-2l-2 0l-6-3l-4-3l3-3l-1-7l1-1l1 1l2 0l2-2l2-4l0-2l2-2l1-9l-2-3l0-3l4-3l1 0l0-1l2-1l1-2l9 0l7 5l1 3l8 9l1-1l4-1l1-2l-1-1l0-9l1-2l-1-1l0-2l-2-2l0-3l-1-1l1-2l0-6l2-3l13 0l2 2l4-1l1 1l4 0l1 1l5-1l1 1l4 0l4 2l8 1l4 2l8-1l1 1l3 0l2 1l1 2l8 4l6 5l7 0l1 1l3 0l3-2l4 0l3 3l3 0l1-1l5 0l2-3l6-1l3-4l3 3l3 0l1-2l0-3l-1-1l-1-4l2-2l1 0l2-3l2-1l3 0l4-2l2 1l4-3l6 0l2-2l2 0l1-1l2 1z"/>
<path fill="#E37100" stroke="#E37100" d="M427 508l0 3l1 1l0 7l1 1l0 4l1 0l0-4l-1-1l0-7l-1-1l0-3zM660 459l-1 1l0 2l2 2l3 7l-1 1l-7 0l-1-1l-1 1l-3 0l-1 1l-4 0l0 4l-1 1l0 8l1 1l0 3l3 6l1 8l2 3l1 4l-1-2l0-3l-1-1l0-4l1-1l0-3l1-1l1-10l1-1l9 0l1-1l1 1l0 6l2 2l0 13l-2 2l-2 4l-2 1l-7 0l4 4l2 4l8 7l4-5l0-2l1-1l0-4l1-1l0-9l1-1l0-3l1-1l-1-1l-1-8l-3-5l0-5l-1-1l0-6l-1-1l1-1l-1-1l0-3l-1-2l-1 0l-2-2l-1-3l-1 0l-2-3zM330 448l-2 1l1 1zM360 447l-4-1l-1-1l-1 2l-7 4l-12 10l5 5l0 2l1 1l4 0l2-1l3-6l8-7l1 0l2-4l-1-2l1-1zM332 437l3 3l-2 2l-1 0l-2-2l0-1zM329 437l1 5l4 2l2-5l-1 0l-2-3zM560 431l-1 0l-2-2l-1 1l-2-2l0-1l-5-2l-1-2l-4-3l-2 0l-3 3l-1 0l-2 3l-6 0l-4-5l-8 0l-1-1l-2 1l0 2l-1 1l-5 0l-3 2l-2 0l-3 2l-2 0l-1 2l-2 0l-1 1l-2-1l-8 4l-3-1l-2 1l-1 2l-2 0l-1 1l-2 0l-1 1l-2 0l-4 2l-3 0l-6 3l-2 0l-3 2l-2 0l-3 2l-2 0l0 1l-2 2l-3 1l-2 2l-3 0l-5 3l-2 0l-4 2l-3 3l-16 0l-1-1l-3 0l-1 1l-21 0l0 1l6 12l2 8l3 3l2 5l1 0l4 5l1 6l1 1l0 4l3 5l0 2l2 4l5 0l0-3l-1-1l0-3l-1-1l0-5l-1-1l0-6l2-3l0-2l2-4l-2 4l-3 3l0 1l-2 1l-2 4l-3-3l-1-4l-2-3l0-3l-4-7l1-2l-1-8l1-1l6-2l1-2l1 1l5 1l6 6l1 2l0 6l-1 1l0 3l3-6l0-3l6-7l1-3l3-4l2 0l16-8l2 0l6-3l2-2l4 0l1-1l5-1l3-2l2 0l4-3l3 0l1 1l-1 1l3 0l2-2l1 0l-2-1l6-4l4 0l1 1l-1 1l2 1l1-2l3-2l2 0l1-1l2 0l4-2l2 1l2-2l8-2l8 4l3 3l1 0l3 3l0 1l4-2l5 0l2 1l1-2l4 0l3 3l3-2l2 0l3-2l2 0zM211 411l-1 2l2 4l1-1l0-2zM669 407l1-1l1 1l-1 1zM670 406l1-1l1 1l-1 1zM671 405l1-1l1 1l-1 1zM280 407l-4 0l-1-2l0 1l-3 2l-2 4l-4 0l-4-6l1 2l0 9l-1 2l1 1l1 6l7 0l0-5l1-2l-2-3l0-2l4-2l2 1l2-2zM275 390l0 1l5 4l2 0l1-1l0-1l-2 1l-2-1l-1-2l-2 0zM693 386l-1-1l-1 3l-3 3l-2 0l-2 2l-1 0l0 1l-2 2l-2 0l-3 3l-3 1l-2 3l-1 0l-2 2l-7 4l1 2l-1 1l-6 3l-2 0l-3 2l-2 0l-6 4l-6-4l-5 0l-1-1l-3 0l-1-1l-2 0l-1 1l-13 0l-1 1l-17 0l-1-1l-1 1l-3 0l-4 2l-3 0l-8 7l-1 0l-9 10l4 0l1-1l3 0l1 1l9-1l2-2l5-1l5-3l4 0l5-4l4 0l1-1l1 1l3 0l1-1l0-2l3-3l6 0l2 2l4 0l2-1l3 2l4 1l6 5l2 0l3-3l6-3l1 1l5 0l3-2l2 0l2-2l1-3l5-4l0-3l1-1l1 0l4-4l1 0l2-2l7-4l4-4l0-1l2-1l-2 0l-1 1l-2-1l0-1zM267 384l0 1l1-1l1 2l2 2l1 0l-3-4zM163 384l2-1l4 4l-2 1zM288 386l0 2l2 2l1 0l3-3l2 2l0 2l1 1l2 0l1-1l0-3l-3-5l-2 0l-1 1l-2 0zM212 372l1-1l2 2l-2 1zM418 371l-1 1l2 1l1-1zM153 374l1 1l-1 2l1 1l2 0l2 2l-1 1l4 1l1 1l-2 2l1 2l2 0l1 2l8 8l2 0l3 3l0 1l1 0l1-2l-2-1l-7-7l0-2l-1-1l0-4l3-4l-1-1l0-3l-4-3l-1 0l-1-2l-2 1l-1-1l-2 2zM257 369l-8 4l4-2l2 0l2-1zM355 367l1-1l4 0l1 1l0 3l-1 1l-4 0l-1-1zM190 367l0 2l1 1l-3 4l2 1l0 4l-1 1l0 2l-2 2l1 3l-2 2l4 4l1 4l2-1l1 1l3 0l1 1l0-1l2-2l4 3l2-2l2 0l3 3l2 0l1 1l5 0l1 1l3-3l-1-2l3-3l0-3l-1-2l-2-1l0-2l-4-2l0-3l2-1l-5-4l0-3l-1 0l-4-3l-4 1l-3 2l-2-3l-2 1l-3 0l-4-3zM124 365l-1 1l2 4l2 0l0-5zM428 362l-1 1l0 2l3 0l1-2l-1-1zM411 362l-1 2l1 1l2 0l1-1l0-2zM723 361l-2 2l0 1l-2 1l-2 4l-3-2l1-1l-1-2l-2-1l-2 0l-3 3l-4 0l0 5l1 1l0 3l1 2l-2 2l-4 1l0 1l-2 2l-1 0l-1 2l1-1l3 0l1 2l1 0l2-2l2 0l4-5l1 1l3-3l1 0l2-2l1-3l3-2l0-2l3-4l-1-1zM214 357l13 13l0-1l-6-6l-1 0l-1-2l-4-4zM455 355l1-1l2 0l1 1l-1 1l-2 0zM170 355l-1 1l2 4l2-2zM353 355l2-2l4 0l1 1l0 4l-1 1l-5 0l-1-1zM329 351l1 1l0 2l-4 5l-1-1l0-2zM216 345l3 6l4 5l0 2l1 0l3 3l0 1l2 0l-4-5l0-1l-3-3l0-1l-3-3l-1-3zM267 344l-2 0l-1 10l1 0l0-4l1-1zM745 343l-2-1l-4 3l-8 4l-2 0l-2 2l-1 3l5-4l4-1l1-1l1 1l2-2l5-2zM104 336l2 0l3 2l2 0l2 2l0 4l1 1l0 4l-1 1l-2 0l-1-1l-5 0l-1-1l0-5l-1-1l0-5zM275 332l-1 1l1 2l-1 1l4 5l-2 2l0 5l-4 4l0 1l4 2l2 0l2 2l1 0l-1-2l-1 0l-4-3l1-3l5-4l-2-2l0-2l-1-1l1-1l-3-4l0-2zM321 332l3 1l4 3l4 0l5-3l-1-1l-2 1l-4 0l1 1l-2 1l-5-4zM520 340l-2-2l-1-3l-11 0l-1 1l-2 0l-1-1l-14 0l-1-1l-6 0l-1-1l-2 1l-3 0l-2-2l-2-8l-6 0l-1 1l-5 0l-1 1l-8-1l-1-1l-3 0l-1-1l-2 1l-6 0l-1 1l-6 0l1 2l0 2l-1 1l1 1l-2 1l0 2l-1 1l1 2l-2 2l-3 0l-2 1l-2 2l0 1l-3 2l-11 1l-1 1l-8 1l-1 1l-3 0l-1 1l-13 0l-2-1l-3-4l-2 0l-1-1l-2 0l-2 2l-2 0l-1 1l-2 0l-1-1l-4 0l-1-1l-5 0l-1-1l0 15l-1 1l0 3l1 2l-1 1l-8 0l-6-3l-2 0l-2-2l-2 0l-1-1l2-2l0-2l3-3l3-7l1-1l4-1l-1-2l-3 2l-2-2l-1 1l0 2l-6 4l-1 2l1 1l-2 2l-1 3l-2 2l-2 0l0 2l3 3l0 3l2 1l0 2l-2 1l-4 4l0 3l-1 1l2 2l0 1l-3 3l0 6l1 1l0 8l1 1l-1 1l0 3l1-1l1 1l0 5l2 3l0 2l1 0l2-3l0-1l-2-1l-1-12l-1-1l0-6l-2-2l1-3l2-1l-1-1l0-4l1-1l0-2l2-4l3-3l1 0l0-1l-3-3l0-2l1-1l2 2l2 0l4 3l3 0l4 2l7 0l1 1l0 7l6-3l12 0l3-4l4-1l-2-4l1-1l0-2l2-2l9-1l1-4l1-1l4 0l1 1l2-1l10 0l1 1l9 0l1 1l1-1l11 0l1-1l2 0l4-2l10 5l-1 6l-2 2l-2 0l-1 1l0 2l2 2l2 0l2 2l0 2l4 2l7-7l0-1l-5-4l1-1l0-4l1-1l0-2l2-2l2 1l-1 2l2 2l0 1l2 1l1-1l-1-4l-1-1l1-1l2 0l4 2l1-1l2 1l2-2l4-2l1-2l10 0l1-1l1 1l9 0l1-1l3 2l1-1l2 0l1-1l2 0l1-1l8-2l1-2l4-4zM646 322l-2-1l-7 5l-3 0l-4-2l-1 0l-1 2l1 1l6 0l2 2l6-5l2 0zM497 317l-2 1l1 1zM623 317l1 2l2-1l2 1l1-1l-1-3l-3 0zM549 315l-2 0l-3 2l-2 0l-3 3l-3 0l-3 3l-4 1l-2 2l-1 0l0 1l-2 2l-2 0l-1 3l2 2l1 0l3-3l1 0l0-1l2-2l4 0l8-4l0-1l4-4l2-1l0-2zM84 316l1 1l0 3l2 4l2 2l1 3l8 10l2 4l0 2l5 10l1 1l2-1l7-6l0-2l1-1l0-4l-5-10l-3-3l-1 0l-13-14zM608 314l-1 1l1 2l1-1zM588 311l-2 2l0 1l2 2l1 0l1 1l0 2l2 2l1 0l2-2l0-2l2-4l-2-2zM461 307l-2-1l-1 2l2 0zM197 305l0 3l1 2l3 1l-3-6zM608 296l6-6l2-1l5 4l4 1l1 1l3 0l4 3l-1 1l-4 0l-1 1l-4 0l-1-1l-2 1l-9 0l-3-3zM71 289l-1 1l0 2l2 3l1 4l2 1l1-2l-3-5l0-3zM721 288l-2-1l-1-2l-9-1l-2 2l3 6l-9 8l-2 0l-1 2l-2-1l-1 1l0 2l2 2l1 0l1-2l1 1l2 0l1-1l4 0l4-2l0-3l7-5zM144 284l-1 1l1 1l0 2l1 0zM671 309l0-2l-2-3l1-2l-5-4l1-2l-1-3l-3-1l-3 2l-1-1l-3 2l-1-1l-4 0l-4-2l-5 0l-1-2l-1 0l-2-2l-2 0l-1-1l-2 0l-1 1l-5-3l-5 1l-2-1l-2-3l-1 0l-5 5l-2 4l-3 1l-2 2l-1-1l-1 1l-3-2l-6 3l-1-1l-1 1l-2 0l-2-2l-1 0l-3-3l0-2l-7 0l-1-1l-1 1l-1-1l0-2l-1 1l-2 0l-1 1l-4 1l-1 2l-4 2l-1 2l-8-1l-2-1l-4-4l0-1l-3 0l-1-1l-3 0l-1-1l-3 2l-4 1l1 2l0 3l4 7l2 2l1 0l6 7l2 0l2 2l4 0l3 2l7-1l3-3l1 0l1-3l3-4l1 0l2 2l3 0l4 2l5-4l2 0l1-1l7 0l4-4l1 0l2 2l-1 2l3 3l4-1l4 2l2-2l2 1l4 0l1-1l1 1l8 0l1 1l2 0l2-2l0-2l-2-2l1-1l8 0l1 1l2 0l2 2l-1 2l2 4l4 0l1-1l4 2l2 2l1 0l2-2l4 3l2 0zM498 282l0 2l1 1l1 0l5 4l2-1l0-3l-1-1l-2 0l-4-3zM208 281l-1 2l2 0l3 3l1-2l-4-3zM753 280l1-1l1 2l-1 1zM715 282l1 1l2 0l1-1l2 0l1 1l1-1l5 1l3-2l3 0l0-2l-2-1l-3 2l-3 0l-1-1l-6 0l-1-1l-2 0l1 1l-2 2zM695 277l-2 0l0 2l-2 1l0 2l1 1l1 0l0-1l3-3zM235 276l-1 0l-1 2l3 5l0 2l-4 4l-1 2l1 2l2-1l1-3l3-4l-1-6zM745 276l-2-2l-1 0l-2 2l-3 1l0 3l3 0l1-1l3 1zM142 274l-2 1l1 2l0 3l2-3l-1-1zM769 272l-1-2l-1 3l-2 2l1 2l-1 2l-3 0l-2 2l-3 0l-1-1l0-2l4-3l0-2l3-3l1 1l1-1l0-1l-1 2l-1-1l-2 1l-3 0l-1-1l-1 1l-1 5l-2 2l1 1l-1 1l-3 0l-1-1l-1 2l1 1l3 0l1 1l-1 1l2 0l1-1l1 1l2 0l4-3l4-1l1-1l0-1l2-2l-1-1l0-2zM207 266l-1 1l1 2l0 3l1 1l-1 2l1 1l2 0l1-1l0-2l-3-5l0-2zM694 269l1 1l2 0l4-2l1-2l-1-1l-2 0l-1 1l-3-1l-1 2l1 1zM247 269l2 1l1-1l5 0l1 1l1-1l1 1l4 0l1 1l1-4l-1-1l-4 0l-1-1l-1 1l-2-1zM755 264l-4 3l1 3l1 0l0-1l4-3zM726 266l0 2l4 0l1 2l4-1l0-3l-1-1l-4 0l-2-1zM203 256l-1 2l2 1l0 3l2 1l0-2l-3-3l1-1zM704 255l1-1l1 1l-1 1zM68 255l-5 5l1 8l1 1l1 6l4 0l2 2l1 0l1-2l0-2l-1-1l1-2l-1-8l-1-1l0-2zM705 254l1-1l1 1l-1 1zM355 253l1-1l1 1l-1 1zM798 248l-1-1l-2 0l-1 1l-5 0l-3 3l-6 0l-3 2l-2 0l-2 4l-4-1l-1 1l1 2l-1 2l2 4l-1 1l4-1l0-3l1-1l-2-2l1-2l1 1l2 0l2-3l2 3l1-1l2 1l1-2l3 0l-1-3l2-2l8 0l0-1zM142 246l-1 2l1 1l0 3l2 2l0 3l-2 2l0 1l2 1l2-4l-1-1l0-2l1-1zM307 245l0 2l1 0l0-2zM718 243l-1 0l-10 11l-1-2l6-7l0-1l-4 4l0 1l-5 5l0 1l2 1l-4 4l-2 1l0 2l1 0l0-1l3-3l1 0l1-2l4-4l1 0l0-1l4-4l0-1l3-3l1 0zM233 240l2 2l2 0l1 1l-1-1l1-1l0-2l-3 0zM750 237l-2 1l0 1l2 2l1 3l-3 5l0 2l1 0l2-3l4-1l-1-2l-2 0l-1-1l1-2l-2-3l1-1zM708 237l2-1l1 2l-2 1zM262 237l1-1l1 1l-1 1zM190 243l1 2l0-1l2-2l2 0l4-3l4 0l1 1l4 0l4 2l2 2l4 1l0-1l-1 0l-7-5l-4 0l-1-1l-4 0l-1-1l-1 0l-2 2zM260 236l1-1l2 1l-1 1zM131 236l-1 2l1 1l0 3l1 2l1 0l1-2zM722 235l1-1l1 1l-1 1zM312 234l-2 0l1 1l0 2l-2 2l-1 4l2 0l2-2l0-3l1-1zM281 233l2-1l-2 0zM314 232l-1-1l-1 1zM162 226l0 2l6 0l1 1l9 0l-6 0l-1-1l-4 0l-1-1l-3 0zM279 230l-1 0l-2-2l0-1l-4-2l-1 1l1 2l3 2l0 2l-4 4l-2-1l-1 1l-1-1l-2 0l-3-3l-1 1l-3 0l-1-2l-3 2l-6 1l-3 3l-2-1l-2 2l-1 0l4 2l-2 2l-1 0l0 2l3 1l0-1l3-3l1 0l3-4l2-1l4 0l3 3l0 2l1 1l1 0l1-2l2 0l1-1l1 0l2 2l2 0l-1-1l2-2l1 1l0-1l4-4zM759 222l0 1l-2 1l-1 4l3 4l0 1l2 1l1 2l4-2l2-4l-2-4l-3-1l-3-3zM312 229l-2-2l0-3l-1 0l-2-2l-6 3l-2 0l-5 3l1 2l2-1l2 1l-1-1l1-1l2 0l2-2l2 0l2 1l2 2l0 1zM687 236l0 2l4 0l1 1l1-2l-2-1l1-1l2 0l3 3l0 3l1 1l2-1l1 1l0 2l1 0l2 2l2 0l0-2l2-1l3-4l1 1l9 0l1 2l1 0l2-2l1 0l1-2l3-1l-1 0l-2-2l-3 0l-2-3l-4-1l-1-1l2-2l-3-3l-1 1l-2 0l-1-1l2-1l-1-1l-1 0l-1 2l-2-4l-1 0l-2 2l-3 0l-5 4l0 1l2 2l-1 2l-6-1l-3 3l-2 0zM162 220l0 2l1 0zM230 219l-2 1l0 1l-4 5l0 2l1 0l1-3l3-3zM188 216l-1-1l0 2l-2 2l-1-2l-3 3l-9 4l3 0l2-2l3 0l1 1l2-2l3-1zM150 212l0 1l2 2l1 0l3 3l0 1l2 0l0-1l-4-2zM222 211l-1 1l0 2l-2 2l1 2l0-2l2-3zM135 210l-3 0l-2 1l-1 2l-1 0l0 3l-1 1l0 6l-1 1l1 1l-1 4l2 2l-2 2l-1 0l0 2l1 1l3-2l3 0l1-1l-1-1l3-2l0-2l4-2l3-4l-2-7zM760 209l0 1l2 0l5 3l0-2l-3 0zM76 207l1 4l1 1l0 2l-1 2l-4 3l0 1l2 0l6-7l-2-4zM773 203l-1 0l0 1l-4 3l1 2l4-4zM745 201l1-1l2 0l1 1l0 3l-1 1l-2 0l-1-1zM82 202l1 1l1-1l3 0l-3 0l-1-1zM835 200l-1 0l-1 2l2 0l-1-1zM228 199l-2 0l-1 2l0 4l-1 1l1 0zM748 198l-4 2l0 2l-1 1l0 1l2 1l1 2l3-1l2-3l-1-2l-2-1zM756 197l-3 2l0 2l5 8l-2-3l0-2l1-1zM638 198l1 2l2 0l1 1l2-1l0-1l-3-2l-2 0zM118 194l-1-1l-6 3l1 1l1-1l4 0zM775 192l-1 0l0 3l-1 1l0 3l-1 1l1 1l-1-1l2-1l1-2zM754 191l1 1l-1 2l1 1l2-1l0-2l-1-1zM529 192l-1 1l0 2l5 3l1 0l2-2l0-4l-2-1l-2 1zM153 188l-2 1l0 3l-1 1l1 1l1 0l2-4zM758 185l0 3l1 0l0-3zM773 179l-2 1l-3 0l-1 2l-1-1l-2 0l-2 2l1 1l-1 2l2 1l1-2l3-1l0-2zM57 172l2 2l0 2l2 1l1-2l-3-3zM617 166l1-1l1 1l-1 1zM616 165l1-1l1 1l-1 1zM119 164l0 1l4 1l0-1zM265 163l-1 2l3 2l0 2l1 0l1-2l-2-2l1-1l-1-1zM837 174l1 1l-1 1l4 0l1-1l2 1l2-2l5 4l2-2l3 3l3 1l1 2l2-1l6 0l1-1l-1-1l2-2l1 0l-3-7l-2-2l-2 0l-1 1l-4 0l-2-2l3-3l-1-1l-8 0l-2 1l-1-2l-4 3l-1 0l-2 5l-2 1zM617 161l-1 1l-2-1l-2 2l2 4l-1 1l-3 0l0 2l1 1l-1 2l0 3l-1 1l1 2l-3 4l0 1l-5 6l1 1l0 2l-2 2l0 1l3 3l0 2l1 1l3 0l5-4l12 0l6-3l2 0l1-3l2-2l2-4l0-3l-1-1l-1-5l-5-5l-2 0l-6-3l-2 0l-2-2l2-3zM521 152l0 2l3 0l-1-2zM310 151l-1-1l-4 1l0 2l1 1l1-1l2 0zM47 146l-1 1l0 2l2 1l0-3zM552 144l-2-1l-2 1l0 1l1 1l2 0zM565 143l3 2l2 0l1-2l-1-1l-4 0zM131 145l2 0l3 2l4 0l0-1l-2-2l-2 0l-3-2zM559 141l-1 1l1 1l1-1zM106 141l-2 0l0 2l1 0zM388 131l1-1l1 1l-1 1zM39 131l0 2l2 4l2 1l1-2l-3-5zM113 128l-1 3l2 3l0 4l4 3l6 3l5 0l0-1l-3 0l-1-2l-4-1l-4-4l-1-4l-1-1l0-3zM260 128l4 1l5 3l10 0l1 1l1-1l5 0l0-1l5-4l-1-1l-2 1l-5 0l-2 3l-12 0l-8-4zM240 126l-3 1l-2 2l-4 2l1 1l2-2l4-2l2 0zM39 125l-1 0l-1 2l1 0zM399 127l-3-3l-1 0l-6 3l0 3l-1 1l-3 0l-1 1l0 2l1 1l3 0l2-4l2 2l4 0l3-3zM289 118l0 2l4 1l6 3l6 0l1-1l0-1l-2-1l-5 0l-1-1l-2 0l-4-3l-2 0zM607 154l-1-1l-13 0l-1 1l-9 0l-4 3l-6 1l-3 4l-4 2l-1 3l-2 2l0 1l-2 1l-1 3l-2 2l-2 0l-3 3l-3 1l-2-2l-4-1l-1 1l-3 0l-3 2l-6 0l-1-2l-1 0l-7-8l-2 0l-2-2l-3 0l-4-2l-2-2l-3 1l-1-1l-3 0l-1-2l-4 0l-1 1l-2 0l-3-2l-6 0l-9-7l-9 0l-1-1l-5-1l-4-3l-1 1l-7-1l-1-1l2-4l-1-1l0-4l1-1l0-2l-4-5l-2-4l1-1l-3-2l-4-1l-3-3l-1-2l0-3l-2-4l-5 4l-1 0l-1 12l-1 1l0 3l-1 1l-1 4l-5 3l-3 0l-2 1l-1 2l-6 3l-2 4l0 1l4 1l2 2l0 1l2 1l0 6l-2 2l-3 0l-4 2l-5 0l-4-2l-11 0l-4 2l-6 1l-9 9l3 7l-5 8l1 7l-4 5l7 5l3-1l1 1l4 0l2 3l0 7l-1 1l0 3l2 4l-2 2l0 2l-5 3l-2 0l-1 1l-11 0l-1 2l-3 0l-1 1l-7 0l-1 1l11 8l-1 6l-3 4l-5 0l-1 1l-7 1l-4 4l-4 0l-3-2l-1 1l-4 0l-1 1l-2-1l1 1l0 3l1 1l0 8l1 0l5 4l11 0l5 5l-9 10l-4 0l-1-1l-1 1l-2-1l0 1l2 0l3 2l7 0l5-4l2 0l1-1l2 0l4-2l-1-2l0-6l-1-1l0-2l1-1l-1-1l2-1l0-1l2-2l0-4l2-2l1-4l2-1l1-5l-2-4l3-6l3 0l1-1l10 1l2-1l1-2l5 0l1-1l2 1l3 0l4-3l6-1l1-2l12 1l0-1l2-2l0-2l-14-7l0-1l3-3l-1-7l1-1l4 0l1-1l0-2l2-4l2-2l1-9l-3-6l4-3l1 0l1-2l3-2l9 0l7 5l0 1l9 11l1-1l2 0l0-1l2-1l0-7l-1-1l1-2l0-5l-2-3l0-2l-2-1l0-3l1-1l1-5l2-3l13 0l1 1l6 0l1 1l9 0l1 1l4 0l1 1l2 0l1 1l4 0l1 1l2 0l1-1l1 2l2-1l4 2l1-1l3 0l1-1l1 2l1-1l6 3l2 2l3 1l5 5l2 1l2 0l1 1l4-1l4 2l4-2l4 0l3 3l3 0l1-1l5 0l2-3l7-2l2-4l1 0l2 3l3 0l1-1l0-2l-2-4l0-3l7-5l3 0l1-1l2 0l1-1l2 0l4-2l3 0l4-2l3 0l1-1l2 1z"/>
<path fill="#D83900" stroke="#D83900" d="M667 519l-3 3l0 1l5 3l2-5l-2-2zM400 500l0 2l2 4l-1 2l2 3l0 2l3 1l2-2l0-4l-2 2l-1 0l-3-4l0-2l1-1zM652 493l-2 2l0 2l2-1zM650 484l-3 3l0 1l4 2l1-1l0-4zM665 483l2 1l0 6l2 4l0 11l-1 1l1 2l1 0l3 3l1-1l0-5l1-1l0-2l-1-1l1-4l-1-1l0-3l-1-1l0-3l-1-1l0-5l-1 2l-3 0l-2-2zM390 483l2 5l3 1l0-2l-3-4l0-1zM648 473l0 3l1 1l2-1l2 0l1 1l2-2l-1-2zM670 473l-1-1l0-2l-1 1l-2 0l-2 2l1 1l2-1zM382 462l2 0l2 2l1 3l4 3l8-4l8 2l6 6l1 3l0-1l2-1l1-3l3-3l-3-2l0-3l1-2l-9 0l-1-1l-2 0l-1 1l-2 0l-1-1l-3 0l-1 1zM345 453l-2 1l-5 5l-1 0l0 4l4 4l6 0l-3 0l-1-1l0-1l2-2l0-2l3-3l0-3zM447 453l-2-2l-1 0l-4 3l-2 0l-1 1l-5 0l-4 4l-2 1l0 2l11-6l4-1l2-2zM351 449l0 1l6-1l2 2l1-1l0-2l-4-1l-1-1zM472 441l1-1l2 1l-1 1zM530 438l0 2l1 1l2-1l-2-2zM554 437l1-1l2 1l-1 1zM546 436l1-2l2 1l-2 2zM485 436l-2-2l-1 1l-2 0l-1 2l-1 0l-4 3l-2-1l-1 1l-5 1l0 1l-2 2l-1-1l-5 0l-6 3l-1 1l0 2l1 1l1-1l6-1l5-3l3 0l4-3l3 0l1-1l-1-1l1-1l3 0l2 1l-1-1l1-1zM500 432l1-1l1 1l-1 1zM538 439l3 0l1 1l2-2l3-1l3 3l1 0l1-1l2 0l4-2l1 1l0-2l1-1l-1-1l-3 0l-1-1l0-2l-2-1l-1 1l-8-1l-2 1l0 5l-3 3zM514 430l-1 1l-6 1l-2-4l4-2l0-1l-3 2l-4 1l-1 2l-2 0l-3 2l-4 0l-1 1l0 3l1 1l2 0l1-1l5-1l3-2l2 2l1 0l2-3l6 0zM516 422l0 1l4 2l2 0l1 1l0 2l-3 3l-1 0l0 2l2 0l1 1l5 0l-2-4l0-1l2-2l2 0l-2-1l0-2l-2-2l-2 0l-1 1l-1-1zM548 424l-5-3l-7 6l-2 0l0 1l2 2l3 0l3-4l2-1l3 0zM622 419l1 1l1-1zM590 419l-2-1l-1 1l-2-1l-2 1l-3 0l-1 2l-6 6l-2 0l-2 2l0 1l-4 5l1-1l5 0l1 1l4-1l2 1l1-1l8-2l0-1l2-2l1 0l2-3l-1-1zM620 417l-2-1l-7 0l-2 2l-13 0l0 5l1 2l3 0l1-1l2 1l2 0l1-1l4 0l0-2l2-3l2 0l1-1l5 0zM265 414l0 2l1 1l0 2l-2 3l1 1l0 2l2 1l3 0l1-1l0-6l-3-3l1-2zM680 397l-1 1l-4 1l-4 4l-1 0l-2 3l-4 2l-3 4l-3 1l-3 3l-4 2l-3 0l-1 1l-1-1l-4 5l-2-1l-1 1l-1-1l0-4l-6 0l-1 1l-1-1l-2 0l2 2l4 1l2 2l3 0l2 3l1 0l1-2l4-1l1-1l2 0l1 1l3-2l3 1l2-1l0-2l3-3l0-3l2-4l2-1l1 2l2 1l0-1l-3-2l7-5l1 0l1 2l3-1l3-3l0-1l-1 1l-1-1l0-2zM194 396l1 1l2 0l0-1zM688 395l-4 3l1-1l2 0zM319 390l0 8l1 0l2-2l-1-1l0-3l-1-2zM322 384l-4 2l0 2l1 0l3-3zM164 374l1-1l1 1l-1 1zM325 372l-3 1l0 4l-1 2l2-1zM154 376l1 2l1-1l1 2l5 4l-1 2l3 3l0 1l4 2l2 2l0 1l2 1l1 2l1 0l4 4l0-3l-2 0l-7-8l0-1l-7-5l1-1l2 0l3 2l4-5l-2-4l-1 0l-1-2l-3-2l-2 1l-4 0l-3 3zM190 372l0 8l-1 1l-1 6l-1 1l0 2l3 3l9 0l1-2l2 0l3-3l2 0l2 3l0 5l5 4l3 0l-2-2l-1 1l-1-2l4-4l4-1l1 2l1 0l2-2l0-2l-4-3l1-1l-1-1l-2 0l-1-1l1 1l-4 5l-2 0l-2-2l0-1l-4-2l0-3l1-1l2 0l1-4l1-1l3 0l-1-2l-1 1l-2-2l-1 0l-1-2l-2 0l-1-1l-2 2l-2-1l-2 1l-3 0l-2-2l-1 0l-3 3zM703 367l1 3l2 2l4-1l2 2l0 4l1-1l2 0l2-4l3-2l-1-2l-2 1l-2-1l-1-2l-3-2l0 1l-3 2zM355 362l1-1l2 0l1 2l-1 1l-2 0zM374 353l2 2l0 3l-1 1l-3-2l0-2zM389 351l-2 0l0 2l1 0zM395 350l0 3l-1 1l3 0l1 1l8 0l0-3l-1-1l-1 0l-3 3l-4-4zM111 351l-1-1l-3 0l1 1l-2 2l0 1l1 0l3-3zM458 345l1-1l2 1l-1 1zM335 366l1 1l5 1l1 2l1-1l6 0l1 1l1 6l4-2l2 1l2-2l1 1l2-1l1 1l1-1l4 0l2-3l5 0l-3-4l2-2l0-4l1-1l8 0l-1-1l0-2l2-4l-6-1l-3-2l-2 1l-3-3l-5 0l-1 2l4 4l1 8l-3 3l-4 0l-1-2l2-1l1-2l-2-4l-1 1l0 3l-1 1l-6 0l-2-4l0-1l3-3l2 1l1-1l-1-1l1-4l-8-2l0 2l1 1l0 8l-1 1l0 5l1 1l2 0l2 2l1-1l1 1l3 0l2 2l0 3l-2 2l-5 0l-1-1l0-3l-2-2l-2 0l-1 1l-8 0l-1-1l-3 0l-1-1zM281 345l-4 1l-3 4l0 2l2 2l2 0l-4-2l1-3l3-3l2 0zM743 344l-4 2l-1-1l-7 4l-2 0l1 1l2 0l4-2l1 1l5-5zM338 344l-1 1l-2-2l-1 0l1 3l-3 2l0 4l3-3l1-3zM520 340l-1-1l-5 3l-2 0l-2-2l-1 0l-1 1l0 2l6 3l1-2l4-3l1 0zM322 332l3 2l2 0l2 2l4-2l3 0l1-1l-4 0l-4 2l-4-3zM528 328l-7 4l2 2l1 0l1-4zM461 328l1 1l3-2l-1-1l-2 0zM411 349l2 2l3 0l2-1l4-5l1 0l3 2l0 2l1 1l6 0l1 2l4 1l2 2l3 1l2 2l0 2l-2 2l-1 4l2 2l0 3l1 2l3 3l1 0l6-6l0-1l-3-3l-2 2l-1-1l0-2l2-1l0-1l-4-4l-2-4l0-2l-1 0l-2-2l0-1l3-3l4 0l3-2l1 2l4 3l0 2l1 1l3 0l4 3l2 0l0-3l1-1l0-3l-1-2l1-1l6 0l1 2l2 0l1 2l5 0l-1-2l2-2l2 1l-1 3l2 1l5 0l3-2l7 1l-1 0l-2-2l-1-3l3-3l1 0l0-1l2-2l3 0l2-2l2 0l0-1l-8 0l-1 1l-1-1l-1 1l-6 0l-1-1l-3 0l-2 2l-2 4l-3 0l-7-6l-3 0l-1 1l-1-1l0-2l0 1l-5 4l-2 0l-4-4l0-2l-5-4l0-2l-2 0l-1 1l0 3l-4 5l-3 0l-4-3l0-3l2-3l2 0l1-1l1 1l0-1l-1-1l-11 0l-1 1l-3 0l0 4l1 2l-2 1l-1 2l1 2l-2 2l0 2l-2 2l-1 0l-2-2l-7 5l-5 0zM547 316l-2 2l-5 1l-2 2l-2 0l-4 2l0 2l1 1l3 0zM86 317l0 2l2 3l0 2l6 7l0 2l2 4l1 0l2 2l0 3l1 0l1 2l2-8l1-1l2 0l3 2l2 0l3 3l1 7l1-1l0-4l-1-2l-2-1l-2-4l-4 1l-3-3l0-5l-4-4l0-2l-2-2l0-1l-4-4zM664 309l1 1l2 0l2-1l1-2l-5-1l-1 1zM658 301l0 1l2 1l0-1zM634 301l-6 1l0 1l5 1l1-1zM609 301l1 2l2 0l1-1l6 1l1-1l-1-1zM610 292l-3 1l-3 3l-1 0l1 2l-2 1l0 2l2 2l1-1l-1-4l3-3l1 0l0-1zM547 292l-6 1l-1 1l-2 8l1 0l2 2l0-1l2-2l3 1l2-4l-1-1zM629 289l0 5l5 2l2 2l2-1l4 0l1 2l4 0l1 1l-1 3l2 2l2 0l3 2l2-1l0-1l-3-3l1-4l1-1l0-2l-1-1l-4 1l-4-3l-5 0l-1-1l-3 0l-1-2l-2 0l-1-1l-1 1zM583 289l-1-1l-8 0l-1 1l-1-2l-4 1l-1 2l-4 2l-2 4l-2 0l-1 9l-2 1l-4 4l-1 0l2 0l1 1l4 1l2-2l4-1l1-2l3-3l1 0l1-2l1 0l-1-1l1-2l0-3l-1-2l1-1l0-4l1-1l1 1l1-1l2 2l1 0l1 1l0 2l2 0zM537 287l1 2l2-1l-1-1zM345 287l-1-1l-3 0l-2-1l-4 3l0 2l-2 3l2 0l2-2l3 0l4-3l1 0zM717 285l-5 0l-1-1l-2 0l-1 1l0 4l2 2l0 1l-4 5l-1-1l0 1l2 2l3-2l0-2l5-4l0-2l2-1zM612 288l1 1l3-2l4 1l-4-2l0-3l-1 0l-2 2l0 2zM756 283l2 1l2-1l1-2l-2 1l-2-1zM734 280l-1-1l-2 0l-2 2l0 1l2-1l3 0zM695 279l-2 0l-2 2l2 1l2-2zM717 278l0 2l-2 1l1 2l2 0l2-2l0-1zM741 278l-2-1l-2 1l0 1l2 1l2-1zM760 272l-2 0l-1-1l-1 5l1 0l3-3zM262 269l0 1l1 0l0-1zM259 266l-2 0l-1-1l-1 1l-3 0l-2 2l-1 0l1 1l7 0l2-2zM352 263l-1 0l-4 3l0 4l3 1l2-4l-1-1zM66 263l1-1l2 2l-2 1zM319 262l1 4l1 0l1-2l4 2l0 4l-4 3l0 2l1 0l2 2l3 0l1-1l8 0l2 1l0-2l-3 0l-2 1l-3-3l-1-3l-3-3l0-5l-1-1l-2 1l-2-1l-1 1zM769 256l-1 2l1 1l1 6l2-1l0-2l1-1l-2-4zM68 255l-1 1l0 2l-2 2l0 3l1 1l-1 3l1 1l0 4l1 2l3 1l3-2l-2-3l0-4l2-4l-1-1l0-2zM780 254l1-1l2 0l1 1l-2 2zM786 251l-4 0l-1 1l-6 1l-2 4l1 1l2 0l0-2l2-2l2 1l-1 2l1 1l4-2l3 0l-1-2zM789 248l0 2l2 0l0-2zM357 249l-1-1l-2 2l-1 0l0 2l-2 1l-1 2l-3 0l-1 1l-2 0l-4 2l-1-1l-1 1l-2 0l-2 2l0 2l1 1l-1 2l0 4l3 0l4-2l0-4l-1-1l4-5l5-1l2-2l6 1l0-1l-2-1zM797 247l-2 0l-1 1l0 3l2-1zM243 239l1-1l1 1l-1 1zM237 239l-2 0l-1 2l2 0zM264 239l-2-1l-1 1l0 2l1 0zM348 240l1 0l4 3l2-1l4 2l3-1l-1-4l-4-3l-3 0l1 1l0 3l-1 1l-3-2l-2 0zM312 236l-3 6l3-1zM366 235l0-2l-3 1zM125 234l4 0l-2-1zM242 243l1 2l1-2l2-2l1 0l-2-4l1-1l2 1l3 0l1-1l5 0l2 1l0-2l1-1l2 0l4 3l0 2l3 1l2-3l1 1l2-1l3-3l0-1l-1-1l-5 4l-2 0l-1 1l-4-3l-1 1l-3-2l-5-1l0 3l-1 1l-1 0l-1-2l-1 1l-2-1l-2 2l-4 1l-1 1l2 2zM300 226l-1-1l-1 2l-3 0l-1 1l1 1l3 0l0-1l2-1zM127 223l0 3l2 2l-1 2l2 2l1 0l1-2l-2-2l-1-4zM304 223l0 1l1 1l2 0l2 2l0 1l1-1l-1-3l-2-2zM133 210l-2 2l-1 0l0 2l1 1l2 0l2 3l0 2l1 0l3 3l0 1l1 0l0-2l1-1l-1-2l1-2l-2-1l0-2l-2-2l-1 1l-1-1l0-2l-1 1zM397 204l2 1l0-1zM614 191l1-1l3 0l1 2l-1 1l-2 0zM431 183l2-1l-2 0zM371 177l2 0l1 1l0 2l2 4l0 1l-4 3l-1 0l-3-4l0-3zM525 176l0 2l2 2l3 1l-1-2l-1 0l-1-2zM636 178l-2-1l-4-4l-2 0l-4-2l-3 4l-7-3l0 8l-1 1l-3-3l-1 3l-3 4l0 2l1 1l2 0l1-1l1 1l0 4l-2 1l-2-2l-3 0l1 2l5 4l4 0l1 1l8-1l0-2l-1-1l1-1l2 1l4-3l-4-5l2-2l0-3l1-1l1 1l0 3l5 4l0 2l2-2zM517 170l0 2l2 2l2-1l1-2l-1-1zM489 164l1-1l1 1l-1 1zM844 169l2 0l4 3l4 0l3 3l0-2l2-2l1 0l4 4l7 1l-2-4l-1 1l-2-3l1-1l-1-1l-4 2l-4-1l-2-2l0-4l-2 3l-2-2l-5 0l-2 2l0 2zM416 162l2 2l-2 2l-1 0l-1-2zM613 162l-1 2l3 3l0 1l-1 1l-1-1l-2 0l1 3l0-1l1-1l2 0l1-2l-1-3zM572 162l-3 3l-2 0l-1 3l-4 3l-1 3l-7 6l-4 0l-1-1l-3 0l-1-1l1 4l2 2l3 0l2-2l4 0l1-2l2 0l2-2l1 0l5-7l1 0l2 4l2 1l1-2l-3-5l0-1l3-3zM472 160l1-1l1 1l-1 1zM463 155l1-1l2 0l3 3l0 1l1 0l2 2l-1 1l-4-1zM601 154l-2-1l-2 0l-1 1l-13 0l-2 2l-1 0l-1 2l-2 0l0 1l1 0l2 2l2 0l1-1l6 0l8-4l2 0l2-1zM137 147l2 0l1-1l-2 0zM133 143l0 1l2 1l0-2zM122 141l2 2l0 1l1 0l0-1zM416 139l-4 2l0 1l2 0l2-2zM118 137l-1 1l2 2zM435 131l2-2l2 0l1 1l0 2l-1 1l-2 0zM112 130l2 2l2 0l-2-3zM500 164l-3 0l2 0l1 1l-1 1l-5 0l-1-2l-1 0l-2-2l-5 0l-6-5l-1 0l-4-3l-10 0l-1-1l-4-1l-2-2l-4 1l-1-2l-3 0l-1-1l0-3l1-1l-1-1l0-3l-1-1l1-2l-1-1l-1-4l-3-4l0-2l-5-1l-3-2l0 1l-2 1l-3-5l0-1l2-2l1 0l0-2l-1-1l1-1l-1-1l0 1l-4 4l0 2l-2 2l-1 0l1 2l0 4l-2 1l1 3l-1 1l0 2l-2 2l0 3l2 3l0 4l-1 1l-4-1l-1 4l-6 5l1 2l-1 5l-2 2l-3 0l-2 1l-3 3l4 3l4-4l1 0l3 3l0 1l-2 2l-2 1l-4-1l-4 3l0 2l-2 2l-1-1l0-2l-2-1l2-2l-1-3l-1 0l-2-2l0-2l1-1l-3-2l-10 0l1 3l-2 2l-2 0l-5-4l-2 2l-1 0l-8 8l-1 0l0 1l1 0l2 2l1 6l-1 2l-4 4l1 6l-3 3l1 1l-2 2l4 1l3-3l4 0l1 1l-1 4l3 1l3 4l0 5l1 2l-2 2l1 1l2-2l2 1l0 5l-2 2l-1 0l-2 3l1 7l-3 6l2 0l2-2l2 0l1 1l2-1l4 0l4-4l6-3l0-3l-1-1l-4 0l-2-4l4-7l2 1l2-1l0-4l2-3l-4-1l-6-3l0-3l4-2l0-1l-1-1l-1 1l-2 0l0 2l-1 1l-4 1l-4 4l-2-4l0-1l2-2l2-1l3 0l2-2l-3-3l1-4l-2-1l0-3l-1-2l2-2l4 1l-1-1l1-3l1-1l2 0l-1-2l0-6l3-3l2 4l2 2l0 2l-3 4l2 1l1-2l2-1l1 1l0 1l-3 3l-1 0l0 5l1 2l3 0l1 1l1 6l2 0l1-1l4 2l1-4l-2-3l0-5l10-7l9 0l0-2l1-1l0-2l-6 1l-2-2l0-1l2-1l0-5l-1-1l2-2l0-2l-1 0l-2-2l0-1l3-3l2 0l4 5l0 2l1 1l0 4l2 3l0 2l3 0l3 2l0 7l1 1l0 3l-2 2l-3 0l3 4l5-1l2 1l1 2l2-6l-1-1l0-4l-1-1l0-3l-1-1l0-3l-1-1l0-3l1-1l-1-2l1-1l0-2l-1-1l-5 0l-2-1l-2-2l1-5l-2-2l-2 0l-3-4l0-1l3-3l4 1l0-2l1-1l8 4l-1 4l-1 1l-2 0l0 2l-1 1l0 1l1-1l2 2l0 2l1 1l9 0l1-1l2 0l1 1l5 0l2 2l1-1l8 1l1 1l4-1l1 1l5 0l4 2l2 0l1-1l1 1l4 0l1 1l1-1l4 0z"/>
<path fill="#CD0000" stroke="#CD0000" d="M668 488l0 2l2 2l0 2l-1 1l0 3l1 1l1-2l3 0l0-3l-1-2l-1 0l-2-2l0-1zM417 471l-3 1l0 1l3-1zM405 465l-1-1l-1 2zM389 465l1 1l2 0l-1-2zM414 463l-3-1l-2 1l0 2l2 1l2-1zM343 454l-4 5l0 4l2 0l2-2l0-1l2-2l1 0l0-1zM584 423l-3 0l0 3l-3 3l-3 0l-1-1l-4 1l-2 2l0 2l2 0l3 2l2-1l2 1l0-4l1-1l3 0l2 2l2 0l0-1l-2-2zM632 419l1 2l2 0l-1-2zM604 420l0 3l2 1l4 0l0-2l-1 0l-3-3zM661 412l-3 1l-3 3l1-1l3 0l2-2zM177 399l1 2l0-2zM212 393l-1 1l0 2l1-1zM221 386l-1 0l0 2zM156 377l-1 1l1-1l1 2l1-1zM163 375l-1 1l1 2l0 3l1 2l4 2l2-2l1-4l-2-2l-1 0l-1-2zM205 371l-2 1l0 2l-2 2l-4 0l-1 1l0 2l-4 4l-2 1l-1-1l-1 1l0 4l-1 2l1 0l1-2l1 0l2 2l3-3l2 0l3-3l3 0l1-1l0-3l1-1l-1-5l1-1zM368 370l-2 1l0 2l2-1zM719 368l-4 4l-1 0l0 3l1 0l2-2l0-1l3-2zM709 366l-1 1l-2 0l2 0zM444 362l1 7l1 0l3 3l1 0l1 2l1-1l0-5l-2 0l-1-1l-2-5zM351 352l0 7l1 0l0-4l1-2zM378 351l0 3l1 2l2-2l0-1zM458 349l1 2l1 0l0-2zM413 348l3 0l1-2l-4 0zM739 346l-1-1l-6 3l0 1l3 0l3-3zM350 345l1 4l4-2l0-1l-3 0zM336 346l-1-1l0 1l-2 1l-1 2l3 0l-1-1l2-1zM496 346l-4-2l0 4l-2 2l2 0l0-2l1-1l3 0zM475 341l-1 1l0 2l2 1l0-3zM469 339l-1 1l2 1l0-2zM458 340l3 1l-1-2zM450 339l-5 0l-1-1l-3 4l0 3l-2 1l3 0l4-3l3 0l1-1zM434 333l-1 0l0 2l-3 4l-1 5l2 0l3-3l0-1l4-3l0-1zM322 332l3 2l2 0l2 2l1-1l-1 0l-4-3zM525 330l-1 0l-2 2l1 2l1 0zM436 327l-1 0l0 2zM90 316l-1 1l2 3l0 5l3 2l6 1l1-2l-1-1l0-3l-2-2l0-1l-3 0l-2-3zM568 303l-1-1l-4 4l-6 2l-1 2l2 1l4-4l2 0zM542 296l0 2l2 0l0-2zM639 291l-1 1l1 2l2 0l1 1l-2 1l0 1l2 0l3 2l2 0l1 1l-1 3l2 2l2-4l0-4l-3-3l-4 0zM711 284l-2 3l0 3l2 0l-1-2l0-2l2-1zM715 281l2 1l0-1zM252 267l3 0l1-1l-4 0zM68 257l-1 1l3 3l1 0l0-2zM777 253l-2 0l-1 1l0 2l1 1l1 0zM244 240l-1 1l1 2l1-2zM258 233l1 1l1-1zM386 228l-2 0l-1 1l0 1l-3 3l-1 4l-2 2l0 1l3 0l2-2l1 0l4-5l1 0l-2-3zM295 227l0 1l1 0l0-1zM366 197l-1-1l-2 0l-1 1l0 3l3-1zM548 184l3 0l2-2l1 0l0-1l-4 0l-2 1zM377 179l1 8l-3 3l-1 0l-4 3l0 3l-1 1l1 1l2 0l1-1l0-3l2-1l0-1l2-2l3-1l1-6l-1-1l0-2zM617 178l-1 5l7 0l1-1l0-3l-1-1zM444 178l-2-2l-2 4l2 0zM417 176l-4 0l-5 5l1 1l0 3l-1 1l-2 0l-2 2l0 6l1 1l4 0l0-2l-1-1l0-5l4-3l1 0l1-2l4-3l0-2zM385 175l0 2l1 0l1-1zM627 173l1 2l1-1zM563 172l-1 0l-4 5l1 1l2 0l0-3zM863 169l0 1l3 2l0-4zM374 168l-2 0l-4 4l1 1l2 0l3-3zM440 167l-1 4l3 0zM388 167l-3 4l1 2l2-4zM477 158l1 1l0 3l-1 1l1 1l5 0l1 1l1-1l2 2l2-1l-2-1l-3 0l-1-1l0-3l-1 0l-3-3zM583 157l1 2l4 0l1 1l2-2l1 0l-1-2l-4 0l-1 1l-2-1zM446 155l0 3l4 0l1-1l-1-2zM415 156l1 1l2 0l1-2l-3 0zM447 149l0 2l1 1l4 1l3 4l3 0l0-2l-1-1l-1-4l-3 1l-1-2zM436 136l1 2l2 0l1-1l0-1zM426 123l0 7l1 1l-2 2l-1 4l2 3l0 2l1 1l3 0l-1-4l3-3l1 0l-1-1l0-4l-1-1l-1-4l-3-3z"/></g><g fill="none" stroke-linecap="square" stroke-linejoin="round"><path d="M375 241l3-2l-4-10l1-6l-8-18M371 240l2 1l2 0M158 215l1-2l-2-3M135 207l-3 2l3 5l4-2l6 3l8-1l5 1M244 247l-3-8l1-4l3-2l-1-4M217 216l-8-5l0-2l2-2M201 209l-5 6l3 6l-3 4l1 3l4-1l2-2l2 0l4 3l4 0l4-5l3-2M220 231l-1 4l2 4M227 237l7 4l1 4M237 247l3-2l2 4M324 249l2-2l3-1M332 241l1-2M327 238l-4-2l-1-3l1-2M329 217l-1-4M308 205l2 6l-5 4l-1 4l5 1l1 1l3 14l3 6l5 1l1 3M430 227l3-4l2-4M420 219l-1 6l1 2l7 1l3-1M127 227l3-4l-1-6l-2-2l-2 2l2 4l-2 5l2 1M95 243l3-4l-1-4M90 235l0 6l-3 2l2 1l6-1M163 243l4-6l0-2l-3-6l3-6l-6-1l0 5l-4 4M159 245l4-2M386 229l-1-2l-2 0l0 2l3 0M183 233l2-2l-2-2l-3 2l1 2l2 0M319 231l-2 0l-2-2l2-1l2 3M124 243l3-2l0-5l-2-2l-6-3l-2 2l-3 6l7 6l3-2M251 243l2-1l2-5l-2-3l-4 0l-4 3l1 2l3 4l2 0M310 239l-1-2l-1 2l2 0M409 269l7-4l-1-2l0-6l-2-6l0-6l-3-8l-5-1l-5 5l-1 5l-2-1l-4-3l-8 1M403 255l2 1l2 3l-1 8l3 2M112 239l-1 0l1 0M186 245l-1-4l-2-2l-4 1l-4 3l0 6l-2 2l-8-2l-2 3l-4 2l-10 2l0 1l4 2l4 1l8-2l2 3l6-1l3 1l-1 5M142 255l1-2M135 247l-4-3l-1 3l6 8l3 1M89 255l2-1l0-3l-4-3l-2 3l4 4M375 249M471 259l0-8l0-2M467 249l0 2l1 6M369 253l4-2l-2-1M365 277l8-3l3-3l-7-8l0-3l-2-1l-2 2l2 4l-3 4l-2 6l1 2l2 0M310 269l-1-2l-4-2l2 5l2 0l1-1M265 275l0-6l-4-3M261 275l4 1l0-1M105 271l0-2l0 2M346 277l2-4l-7-5l-1 1l1 6l4 4l1-2M142 309l1-4l-1-8l-4 0l-1-2M135 291l-2-6l-8 0M91 276l-6-2l-3 1M84 289l3 1l4-1l2 1l-3 3l1 4l2 4l4 4l6-1l6 2l1-1l1-9l-2-2l-2 1l-2-2l6-3l2 1l2 6l2 2l2 0l1-4l3 0l2 4l-4 4l2 4l16 3l3-1M248 293l5-2M437 295l4-1M446 283l0-4l-2-4l-3-3l-4-2l0 9l-4 6l-1 8l3 2l2 0M383 272l-2 0l-1 1l3 1M285 301l4-5M157 291l-5-4l-1 0l-1 2l1 5l6 1M303 299l2-2M299 295l-5 2l-1 2l4 2l6-2M428 305l1-2l-1-2l-3-1l-3 3l0 4M405 321l4-2l0-6l-4-8l-4-1l-4 9l4 7l4 1M99 323l2-2l-1-2l-5-3l-1-7l-3-1l-2 3l3 6l1 8M172 359l0-6l5-4l-2-4M187 337l2-3l8-1l0-6l-4-7l-2 0l-2 1l-8 9l-8 2l1 5M161 333l-1-4l1-3l8-1l4 1l6-3l1-2l0-2M173 313l-4 0l-3-2M159 319l-7 2l0 8l1 6l-2 6M158 349l0 2l-2 4l7 0l3 2l1 2M325 316l-2-3l-6-2l-6 3l-4-3l-2 2l0 2l4 2l-3 6M312 331l5 0l2 2M337 319l2-2l1-4l-1-1l-2 2M236 329l0-6l-1-3l-11-3l2 6l9 7l1-1M432 337l3-1l8 1l4-5l0-3l-6-10M431 323l0 8l-2 6l3 0M87 331l1-4l-3-1M78 323l0-2l-3-2l-2 2l1 2M83 333l4-2M107 321l-3 0l3 0M389 326l3-1l0-2l-3-1M381 324l-6 1M375 334l2 3M273 369l1-10l-5-4l0-4l10-7M255 334l-2 0l-6 7l-1 4M249 349l18 8l2 14l4-2M195 343l-2-1l-2 1l1 2M309 367l6-1l6-3l2-4l4 1l1-3l-2-2l-3-2l-6 3l-6 0M308 349l-3-2l-2 0M282 351l0 4l5 6l2 0l4-5M339 385l-1-4l4-12l1-2l8-3l0-3l-2-2l6-2l7-8l1-4l-2-2l-5 2l-6 6l-4 8l-3 2l-2 0l-4-2l-3 0l-1 4l2 4l-2 6l1 4l-1 3l-6 1l2 3M396 351l-1-4l-2 0l0 2M372 353l-1-2l-3 2l-2 6l3 2M462 351l-1-2l0 2l1 0M63 408l0 3M70 423l9-7l4 1l2 3M96 419l3-2l2-6l2-1l2 1l6 6l6-4l0-3M115 405l-2-3l-6-1M101 407l-1 2l-3 0l-8-2l-4-4l-2-6l-2-2l-8-8l-2-1l-2 1M143 363l7-4l-6-4M134 361l-4 4l1 7M212 365l2-2M204 365l1 2M404 361l1-2l-2-3l-1 3l2 2M458 367l-1-6l-1-2l-5 0l-4-1l-10 6l-1 3M445 373l4 2M491 365l-2-2l-4-1M478 365l2 8M223 379l3-6l-1-3l-7 5l0 2M321 381l1-4l-1-2l-4-2l-2 2M518 399l3-2l4 0M535 381l-2 0l-1 2l0 10M528 393l-1-6l-6-3l-6 2l-1 1l-1 12l2 2l3-2M441 383l-2 0l2 0M503 407l2-4l0-8l-1-10l-1-2l-2-1l-2 1l-2 2l0 8l-4 10M277 393l3-4l-1-3l-8-1l-1 2l1 6l4 1l2-1M439 426l3-5l0-4M402 401l-2-8l-5-2l-8-6M369 399l-4-1l-4 2M68 387l-1 3M263 412l10 1l2-10l-2-4l-6-1l-4-3l-10 5M442 403l3-6l-2-2l-6 0l-2 2l4 4M461 415l2-2l-2-2l-2 1l-2-2l-2-3l-3 0l0 4l9 4M275 417l-2-4l-2 1l-1 3l3 1l2-1M479 451l-1-4l4-6l-1-6l4-2l4 1l7 5l6 2l1 2l-1 4l1 6l2 1l4-1l2 5l3-1l0-6l1-1l7-3l2-2M519 437l-2-1l-4 2l-6-3l-6 2l-2-1l-4-3l0-2l2-6l2-1M497 421l-2 2l-8-4l-6 0l-3 4l0 8l-1 2l-8-2l-2 2l-1 4l3 2l0 2l-2 1M262 473l-4-8l2-4M264 449l0-4l1-4l-4-9M238 453l-1 3l-5 3l1 2l2-1l4 1l3-2l3-4l-1-4M255 448l0 5l4 0l2 2M259 458l-10 5l0 2l3 2l-3 0l-4 4l2 8l4 2M468 423l-1-1l0 2l1-1M177 451l-1-16M172 427l-3 4l-6 1l-6 3l-2-2l1-4M149 430l-2 0l-4-4M139 426l-2 2M139 434l6 4l8 0l8 3l12 10l4 0M100 427l-2 0l2 0M504 431l1-4l-4 2l1 2l2 0M519 429l-2 0l2 0M116 491l9-5l4 0l4 3l1-2l0-2l-5-1l-6-8l-4-1l0-5l6 0l1-3l-1-3M119 460l-1-3l1-1M115 444l-2 2l-2 3l-6 2l-2-2l1-8l7-4l0-2l-8-3l-3 3l1 4l-7 6M91 453l-1 8l3 3l8-5l3 0l0 6l3 4l-2 4l0 4l-3 2l0 2l3 6l6 6l5-2M183 435l2 0M407 470l6-4M427 448l-2 1l-2-2M314 453l-1-2M307 446l-6 1l-4-4l-4 1l-2 3l2 7l2 1l10-2l4 2l5-2M192 455l2-2l-1-1l-2-1l-2 1l0 4l2 0l1-1M503 461l0-2l-2-1l-2 1l2 3l2-1M211 465l2 3l2 1l2-2M305 465l0-2l-3 0l1 2l2 0M597 497l4-3l4-1l1-2M585 491l0 4l2 3l6 0l4-1M247 491l-2-4l1-6l-5-1M235 469l-2-2M225 476l-2 0l-2 3l1 4M243 492l4-1M117 470l-4-1l4-1l0 2M192 479l-3-2l-1 2M365 479M75 513l0-2M454 523l0-4l-5 0l-1-10l1-1l4 0l8 3l4-2M455 482l-3 1l-3 7l-2 1l-14-6l-7 2M174 511l2-6l-2-2l1-4l-1-4l0-6l-1-2l-2 1l-1 3l3 12l-6 6M159 516l-1-1l-1-3l-4 2l-2-1l-2-2l-1-6l-5-6l-1-6l-5-1l0 5l-2 3l1 3l7 0l-3 6l-4 4l1 2l12 1l3 3M147 527l-1 2M343 497l4 0l4-4l4-2l2 2l0 8l2 2l4-1M351 487l-8 3l-4-4l-4 1l-2 6l-2 1l-4 0l0 1l4 2M81 500l2 1l0-2M249 497l-3 0M484 509l-1-4l-2-1M474 507l1 3l2 1l6-1l1-1M431 507l4-1l4 3l0 2l-6 2M628 517l0-4M624 511l-4 4l2 2l3 1M199 529l1-2l-1-3l-6-2l-4-6l-2 0l1 3l4 4M193 526l6 3M588 519l-1-2l-4 2l5 0M273 529l0-2l-2-2M271 525l-1 4l3 0M316 541l3 1l1-1l-1-4l-2-1M289 520l-1 1l2 4l-1 2l-4 2l-6-2l-2 2l2 2l4 12M543 556l4-11l6-3l2-3l1-4l3-4l0-6l-4-2l-2 2l-4 1l-6-4l-10 0l-1 1l1 2l3 2l-1 4M496 527l-7-6l-2 1l-1 3l3 4l0 6l6 1M514 543l2 4l7 6l1 4l3 1M357 561l4-6l0-2M358 529l0-4l-3-1l-4 5l-3 2l-2 2l1 2M343 551l4 1M352 559l0 2l1 1l4-1M576 533l2-2l-1-7l-4 1l-4 4l4 5l3-1M617 539l1-2l-1-3l-10-5l-2 2l2 7l10 1M601 549l2-4l-2-1l-1 3l1 2M509 553l2 0M403 593l1-4l0-8l5-4M396 581l-2 8l0 2M351 621l14-2l1-2l-1-12M335 586l-5-5M321 563l-1-2l-3-1M325 607l2-1l3 3M343 609l3 4l0 2l-4 4l1 2l4 1l4-1M467 599l2-2l5-10l-1-2l-2-1l-4 1M462 579l-9-9l-8-2M463 600l4-1M518 571l-1 2l0 2l4 2M578 579l2-2M580 573l-2-2l-3-1l-4 3l2 5l2 2l3-1M504 599l9-3l4-5l-4-13l-6 2l-7 7l-1 8l2 3l3 1M630 579l-3-2l-2 2l5 0M190 595l3-4l-4-3M187 597l2 0l1-2M442 597l1 2M221 591l-6 0l0 4l2 3l8 7M543 599l4-4l-2-5M539 591l2 4l-2 4l2 1l2-1M599 593l-2-1l-2 1M222 615l-4-6l-1-7l-4 0l-3 3l-2 6l1 4M213 619l2 4l-1 4M215 631l-4 2M203 630l-5-3l2-6l-1-2l-2-1M184 621l10 8M226 607l1 2M454 635l-4-10M427 630l-2 1l-4-3l-6-1l-2-6l-4-1M398 621l1 6l4-3l2 2l0 7l-3 2l-3 0l-1-2l2-2l-1-4l-4 4l0 4l-4 2M385 641l1 2l3 2M397 645l8 2l6 4l2-5l4-1l4-5l4-2l2 1l-1 4l2 2l5 0M484 613l2-2l-5-5M481 614l3-1M500 615l0-2l-3-6l-2 0l-2 2l0 2l6 5l1-1M127 613l-10 6l2 8M123 637l5 2M560 641l1-6l7-6l-5-5l-6 0l-2-3l-6-4l1-6l-1-4l-3 6l-3 2l-1 6l-3 6l-1 8l4 4M547 643l2 1M110 613l-1-2l-2 2l2 2l1-2M592 637l3-4l8 1l2-6l3-3l-1-2l-3-2l-3-4l-3 4l-3 1l-6-3l-8 1l-6 7l3 4M138 629l-3-2l0-4l2-4l2 2M131 635M411 639l-5-4l5-1l2 3l-2 2M323 647l8 3l3-1M348 653l1 2l5 4l1 4l-1 2l-6 4l0 6l3 4l4 0M286 661l0-4l-5-4l-4 1l-3 3l0 2l3 3l8 1l1-2M547 660l-8 7l0 2l4 3l6 0M280 669l-2 0l1 1l1-1M319 697l1-4l-4-4l0-2l4-4l1-6l2 0l0-2l-4 3l-6 0l-3 3l2 6l1 6l4 4l2 1l0-1M327 687l3-4l-1-2l-2 0l-3 2l0 2l1 2l2 0M623 685l-2-1l0 1l0 1l2-1M237 717l6-4l4 3l2 0l3-5l4-2l0-4l-2-6l1-1M253 697l-7-4l-2-4l-3-1l-5 5l0 6l-3 3M233 714l2 4l2-1M399 694l-4-3l-4-1l-3 5M623 693l-2-3l-1 3l1 2l2-2M565 695l-2-1l-1 1l1 2l2-2M355 703l-2-6M347 703l6 1l2-1M276 717l-2-6l2-2l-1-1M261 715l2 9M627 715l1-4l-1-1l-2 1l0 2l2 2M577 715M466 747l-1-3l-2 0l-1 3l0 2M459 761l0 2l3 2M617 745l-14-5l-2-5l-4-2l-2 2l1 2l2 4l3 2l-6 10M585 752l-2-3l0-8l-4-2l-4-8l-1-4l1-9l-2 3l-4-1l-4 2l-4 5l9 14l1 4M563 753l-4 0l-2 2l3 4l1 6l4 1l5 3M635 719l-4-1l-5 5M442 729l5-2l1-2l-1-2l-4-2l-5 4M232 735l1-2l6-4l-4-2M229 727l-3 2l0 2l3 5l2 0l1-1M588 739l1-2l-1-2l-4 2l0 2l4 0M310 745l4-2l0-4l-1-1l-6 0l-1 5M184 745l-1-4l-2 2M181 747l3-2M277 745l0-2l-2-1l0 4l2-1M207 761l0-4l-3-4l1-6l-1-2l-5 2l-6-4l-3 2l-2 8l1 6l2 0l4-2l4 1l8 3M252 749l0-2l-7-2l2 2l5 2M218 749l-1-3l-2 3l0 2l2 0l1-2M526 761l4-4M521 761l2 1l3-1M371 755l2-2l-2-2l-3 2l-1 2l2 1l2-1M565 757l-2-3l2 0l0 3M374 757l-1 0M488 771l1-5M263 767l0-4l-2-2l-4 4l2 2l4 0M516 765l-7-2M507 765l4 2l5-2M580 817l-8-2l-1-4l3-4M535 773l-4 0l-4-3l-2 1l-5 8l0 2l3 3M361 776l-2 1M460 787l2-2M456 783l0 2l1 4l3-2M445 834l-1-7M451 822l7 3M463 826l1-13l3-8l4-2l4 1l2 0M485 791l-1 4l-1 1l-8-2l-4 5l-2 0l-11-8l-1-2l-5 6l2 10l-1 4l-2 3M429 801l-4 6l-4-4l-2 0M413 806l-4 0M411 823l6-1M439 829l0 5M282 803l1-2l-2-1l-5 1l2 2l4 0M411 818l-2-1l1-2l2 2l-1 1M413 836l0-3l-2-1l-1 3M545 842l-2-2M91 207l-2-4l2-4M85 202l2 1l2 4l2 0M382 279l5-2l0-5l-4-2l-6-2l-4-3l0-4l3-8l5 0l3-2M394 249l3 3M401 257l4 4l0 6l2 3l4 1l2-2l6 0l2-2l-3-6l1-2l4 2l0-2l-2-3l-2 0l-3-5l0-2l2-2l-3-6l0-3l5-1l-2-4l1-2l6-1l2 3l2 0l2-4l4-4l3-10l3-4l10 2l4 3l8-3l8-2l4 4l6-3l7 1M442 205l-2 4l-7 3l-10-3l-6 4l-4 5l-4 0l-1 1l3 12l-1 2l-7 1l-4 5l-2 0l-2-4l-2-1l-2 2l-5-1l0-2l3-4l0-2l-6-6l-4-1l-2-4l-4-2l-3-7l1-2l4-2l8 4l-4 4l0 2l4 1l4 4M393 213l9-4M391 193l-2 0M303 195l-1 2l4 4l1 8l-1 2l-5 4l-1 10l1 2l2 0l4-4l1 2l0 4l2 4l-3 3l-1 3l2 4l1 5l4-4l4-1l3 2l-1 6l4 1l11-7l1-3l4-3l0-2l-7-8M333 221l-5-12M325 207l-8-5l-1-3M332 197l1 2l6 1l1 1l-2 8l1 4M367 238l8 7l-6 2l-3 0l-5-3l-3 1M362 255l1 12l-6 8l1 4l5 1l14-6l3 3l-1 2l3 0M77 339l2-5l8 0l14-10l8-1l1-2l-1-3l-6 0l-4-3l-1-6l3-3l3 1l1 2l4 0l2 2l2 1l0-9l2-1l3 1l3 5l12 2l12 4l-1-7l1-10l2-1l10 2l8 0l6 7l2 0l1-2M183 282l-8-5l2-6l6-2M189 267l6-4l8 3l4-2l1-5l-3-3l-2-1M193 249l-6-6l1-4l-3-13l-6 3l-2 2l0 2l4 2l1 2l-7 4l-4 6l-3-6l1-6l-3-6l5-9l5-5l1-6l12 0l6-4M205 199l-4 4l-3 2l-1 4l-3 4l3 8l-3 6l1 2l2 1l8-2l10 5l3 8l0 4l3 4l-1 6l1 1M232 259l1 2l6 2l-1 4l-7 4l-6-1l-8 3l-1 2l1 4M227 305l5 0l0 4l-3 5l-7 1l0 4l7 9l8 6l3-11l-4-12l1-2l8-4l5 2l-1-6l7-8l-1-6l2-2l1 0l1 6l3 4l1 1l6-1l3 4l0 4l2 2l3 0l12-4l4 1l3 3l4 6l1 5l4 3l-2 8M307 329l4 3l8 3l5 0l1-2l-2-4l2-10l2 0l10 2l4-4l2-6l5-4l1-2l-6-4l-2-4l-2-1l-2 3l1 8l-3 6l-6 3l-4-5l-8-2l-6-1l-2-2l-2 1l-2-4l2-10l-3-6l-5-3l-1 1l2 4l0 2l-5 3l-2-1l1-4l-2-6l-1-2l-4-2l-8 2l-1 4l-6 2l-1 2l0 3l-2 0l-4-5l3-2l2-4l-1-8l-3-6l-2-2l-9-1M254 273l1 2l-2 1l-4-1l-5 2M242 269l2-4M257 258l2-1l0-3l-9-5l-2-2l3-2l4 0l2-10l-2-2l-8-3l-2-5l4-5l10-3l3-2l1-6l-2-5M229 205l-4 0l-2 4l-8 4l-2-2l0-2l5-8M141 197l-1 2l-5 5l-6 3l-1 4l-3 2l-2-2l0-4l-2-2l-8-1l-2 1l-2 13l12-2l3 5l-2 4l1 4l-4 1l-10 7l-3 4l11 2l8 7l4 1l4 5l8 3l2 4l2 1l2-3l2-1l6 3l2 2l1 4l-2 8l1 6l-2 2l-4-1l-2 2l-1 1l-1 4l-4 1l-3-1l-5-8l-8 0l-2-2l0-2M123 271l-2-2l-2 0l-4 3M111 274l-2 1l-1-2l1-7l5-3l0-2l-3-1l-4 1l-2 2l-2 6l0 6l-2 1l-10-1l-8-3l-3 3M79 285l2 5l6 4l6 11l-4 3l-1 3l2 6l0 6l-1 1l-8-1l-2-4l-2-1l-6-1l-2 2l1 2l2 2l-1 6l6 4l-5 4l1 2l2 2l2-2M311 188l-2 1l-2-2M55 242l2-3M75 237l4-2l2 0l4 6l-2 5l-2 1M78 251l0 2l-7 7l-2 1l-6-3M74 271l1-8l8-2l1-6l5 3l4-1l0-6l-3-4l7-4l2-4l-1-4l-3-4M89 222l-6 1l-5-4l-5-1l-4 3l-10 2l-4 5M161 202l-2 1l-3-2M163 200l-2 2M425 203l1-4l-1-3l-2-1l-3 2M420 201l3 3l2-1M159 207l0-1l1 1l-1 0M70 211l0-2l-3-1l-2 3l2 2l2 0l1-2M167 220l-4-1l-3-10l1-1l3 1l4 6l1 2l-2 3M141 248l-2 1l-8-8l-2-10l2-2l4-1l4-3l4 1l3-1l1-6l2-1l4-1l4 1l2 1l0 8l-2 2l-12 4l-2 4l0 10l-2 1M139 221l-2 0l0-2l2 1l0 1M363 223l0-2l0 2M415 222l0-2l0 2M478 223l-1-3l-2 1l1 2l2 0M491 225l-1 2l1 1M219 228l-2-1l2-2l1 2l-1 1M379 227l-1-2l1-1l0 3M469 231l4-4l-2-3l-2 0l-4 5l0 2l4 0M444 227l-1-1l-1 1l2 0M351 237l2-2M351 231l-2 2l0 2l2 2M87 240l-1-1l1-4l2 2l-2 3M448 243l1-2l-4-2l-1 2l1 2l3 0M565 364l4-1l0-5M577 357l2 1l1-1M583 359l2 5l3 1M562 357l-2 4l-7 2l-3 4M231 243l-2-2l0-1l3 1l-1 2M425 249l4-6l-2-2l-2 0l-4 6l1 2l3 0M461 253l-1-10M452 243l5 6l0 4l4 0M275 247l0-2l-5 2l3 1l2-1M125 248l-1-1l1-1l0 2M161 248l-2-1l2-1l1 1l-1 1M338 249l-1-3l-1 1l2 2M476 265l3-4l4-2l-1-2l-1-1l-4 0l-2-1l-4-8l-2-1l-2 1l-3 6l2 8l7 5l3-1M308 257l1-2l-2-5l-2 1l0 2l2 6l1-2M352 259l2-2M347 253l1 6l1 1l3-1M491 253l-8-3l-2 1l0 2l6 2M485 259l0 2M282 269l7-4l1-4l-5-7l-8-3l-2 2l-1 4l1 2l4 3l4 1l-3 4l0 2l2 0M455 257l1-2l-1-1l-2 1l2 2M309 273l2-2l1-4l-7-7l-4 3l0 2l6 8l2 0M345 263l1-2l-5-1l-1 1l3 4l2-2M445 339l4-8l-3-6l-3-10l-9 0M429 311l-2 0l0-2l4-6l-2-6l2-1l10 2l4-3M449 285l0-4l2-3M452 275l-1-2l-4 1l-2-1l-4-4l-8-4l0-4l-2-2l-4 3l-4 1l-1 2l0 6l1 2l2 1l0-4l-2-1M427 265l2-1l4 1l1 14l-4 6l-1 7l-2 2l-4 1l-1 4l-5 8l8 6l1 2M427 319l3 6l-1 6l-4 4l0 4l2 1l18-1M462 265l-2-4l-3-1l-3 5l1 2l6 0l1-2M165 282l-3-1l1-4l-1-12l1-3l4 2l4-1l2 2l-1 2l-2 2l1 10l-6 3M181 267l0-4l2-1M300 269l-1-2l-4 0l2 4l3-2M348 281l4-8l-1-3l-2-2l-4-1l-2-2l-4 1l-1 3l1 6l5 6l1 1l3-1M426 285l0-6l-3-2l-1 2l0 6l4 0M477 277l-1 6l1 2l2 0M263 282l-2 1l0-4l2 3M236 285l1-1l2 1l-1 4M363 289M409 299l0-2l-2-1l0 2l2 1M375 305l1-2l-1-2l-2-1l-2 1l0 4l4 0M382 339l5-10l12-5l10-2l2-1l1-2l-1-4l2-5l-4-2l-4-5l-4-1l-2 1l-3 8l1 6l-2 1l-4 2l-9-1l-3 4l-6 2l-2 2l-1 2l2 4l4 6l3 1l3-1M459 304l-6 0l-2 5l4 5l2 0l3-1M154 393l-3-4l-3-12l-3-4l0-8l1-2l13-4l10 8l2 0l3-2l1-6l3 0l1 2l2 0l-2-10l2-5l2 3l1 4l1 0l4 0l2-2l6 1l6-1l1-2l-6-8l4-4l-2-4l-2-8l-5-8l-2 0l-6 5l-8-10l-7-1l-2-4l-3-2l-2 1l-4 10l-8 2l-2 6l-4 1l-1 2l7 6l-2 8l-2 2M143 348l-4 3l-2 5l-9 9l1 12l2 4M134 383l3 0l4-2l2 4l-1 4l3 5l6 0l2 1l1-2M446 311l-2 0l1 1l1-1M139 321l0-2l-4-4l-2 2M135 322l4-1M65 427l5 0l3-4l6-2l2-2l4 6l6-1l8-4l4-8l2 1l3 6l1 5l2 1l2-2l1-6l5-2l1-2l-5-12l-9-2l-3-2l1 2l0 2l-5 6l-4 0l-4-2l-5-4l-3-6l-10-10l-4-2l-3-4M484 325l3 1l3-1M262 321l-2 0l2 0M335 401l2-1l1-3l-1-3M335 388l6-1l3-2l-3-4l2-10l10-6l1-4l6-8l5-3l0 5l-3 8l5 5l3-1l5-8l-2-8l3-6l-2-4l-7-1l-10 2l-4-8l-6-6l-2 0l-2 1l3 8l0 8l1 1l2-1l0-2l2-1l2 1l0 2l-10 14l-2 0l-4-2l-6-1l-6-5l-6 1l-4 3l-4 0l-2-2l1-6l-2-2l1-1l0-4l-2 0l0 4l-2 1l-2 0l-4-4l-6 0l-4 1M287 345l-2 1l-2-1M275 326l-6-3l-14 8l-2-4l1-4l-2 0l-3 6l2 6l-7 6l-2 4l2 4l9 3l12 6l1 13l3 2l5-4l2-10l-1-2l-4-2l0-4l6-4l4-1l2 1l-2 8l4 6l2 2l2 0l6-6l2 0l1 2l-2 4M293 374l-1 5l-1 1l-4 0l0 3l2 1l4-4l2 0M306 375l-2-6l7 0l3 2l-3 8l-2 1M309 385l4-2M317 384l2 1l4-2l4 2M179 329l-3 0l0-2l5-3l1 1l-1 2l-2 2M135 327l-2-1l-1 1l1 2l2-2M169 337l-4-2l-2-2l-1-4l1-1l6-1l2 2l-2 8M533 329l-2 0l1 2M193 338l-2 1l-2-2l2-2l2 0l2 2l-2 1M302 337l-1-3l-2-1l-2 2l2 3l3-1M497 337l1-2l-1-2l-3 2l1 3l2-1M393 367l1-2l-2-4l1-2l6-4l-1-6l-3-10l-2 0l-2 4l0 12l-5 2l-4 6l5 4l6 0M235 346l3-1l1-2l-4 1M297 349l-2 0l-1-2l3-2l2 2l-2 2M463 353l1-4l-1-3l-4 3l0 2l2 3l2-1M239 353l0-2l-2 2l2 0M80 363l3-2l2-4l-2-4l-4-2l-2 0l-2 2l-2 6l2 4l2 1l3-1M217 385l6-2l2-6l3-4l-1-4l-2-2l-2 0l-4 3l-2-1l-1-2l1-2l6-3l4-5l-4-3l-12 5l-2 0l-4-5l-6 1l0 4l1 6l15 10l2 4l-2 6l2 0M405 363l1-4l0-4l-5 0l-2 2l2 4l2 2l2 0M444 387l5-5l3-7l7-8l-1-8l-7-6l-4 1l-4 5l-8 4l-5 0l3 0l2 4l2 12l-1 6l1 3l4 1l3-2M534 405l-1-4l4-1M542 389l-5-11l-6-2l-6 0l-1 1l0 2l4 4l-3 1l-3-3l-1-4M517 360l-16-4l-2 1M502 379l-5 1M493 370l0-5l-2-2l-6-3l-4 0l-5 5l3 12l6 5l4 1M496 383l-3 14l-2 6l1 4l1 2l4 0l6 4l5-8l0-4l1-2l4 10l1 2l3 0l2-1l0-2l-4-1l-1-2l7-6l2 0l6 4l1 2l-1 6M110 361l-1 2l2 3l2 1l2-2M331 377l-6 1l-4-6l-4-1l-1-2l1-2l12-3l2 3l0 10M472 373l2-2l-1-4l-2-2l-2 6l2 2l1 0M96 369l-3-1l-1 1l4 0M238 373l-1-4l-3 0l-1 2l2 3l2 0l1-1M367 373l-3 0l1 1l2-1M565 373l0-1l0 1M171 385l1-4l-2-2l-4 0l-1 2l2 4l-2 4M565 381l-2 0l2 0M253 539l0-12l0-2l-4-4l-1-10l4-4l-1-4l2-2l2-2l6 1l4-1l7-8M265 486l-2-1l0-2l2-4l1-6l-5-8l0-2l4-5l3 1l5 6l0 2l-4 6l5 4l3 4l2 1l2-1l1-10l-10-10M271 455l-4-8l0-6l-2-6l2-4l-4-2l-4 1l-3-1l1-7M259 420l6-3l6 3l4 0l2-1l0-10l3-4l-6-8l5-4l3-6l-5-5l-9 3l-1 7l-12 6l-8-1l-4 5l-3-1l-7-13l-7-3l-3 14l6 3l0 3M227 425l2 5l5 3l-2 8l2 2M237 447l0 2l-1 2l-9 8l2 6l-5 4l1 4l-5 4l-1 4l2 3l6 3l2 6l1 6M241 499l2 0l6 4l-3 8l-3 2M244 533l9 6M399 481l3-2l1-4l8-6l4-1l4 2M434 467l3-1l4 4l4 1l2 0l2-4l-2-2l-8 1l-3-9l1-4l-7-4l-1-4l0-2l2-1l8-1l1-2l-3-6l6-10l1-4l-3-8l0-2l7-8l-1-6l-4-3l-8 1l-4 6l-2 0l0 2l7 2l1 6l0 2M427 407l-2-2l1-2l3-2l0-2l-4-2M409 394l-2-1l-3 2l3 3l2 0M409 403l-2 0l-4-3l-1-3l1-4l-4-4l-6-2l-2-5l-4 0l-6 2M373 384l-3 1l0 2l3 1M386 401l3 4l0 2l-2 2M373 399l-8-3l-8 2l-1 5l7 4l-1 4M381 435l5 10l9 0l2-2M401 434l5-3l2-2l-1-4l-2-2M405 420l8 0l2 2l4 1M431 436l-2 7l-4 0l-14-7l-4 0l-2 7l4 4l-1 4l-5 4l-4-2l-2 0l-2 4l0 2l3 6l-1 8l-2 4l2 3l2 1M509 396l-3-9l0-4l3-2l4 2l-2 10l-2 3M603 390l-10 3l-4-2M568 433l5 4l6-4l4 1l3-11M590 411l3-4l2-1l6 3l4 5l2 0M614 439l3 5l2 2l4 0M297 391l1-2l-3-2l0 2l2 2M482 395l3-2l-2-3l-2 0l-4 3l0 2l2 1l3-1M191 423l4-3M187 421l2 3l2-1M311 405l-4-2l-4-6l-6-2l-7 8l0 2l4 4l13 6M163 402l-4-1l-8 3l0 3l2 1l4-1M442 655l1-12l2-2l6-2l4 2M456 641l-2-2l2-4l0-2l-2-2l-2-10M444 605l5-4M459 602l4 1l6-3l3-3l5-10l-4-4l-6 1l-3-1l0-6l-14-10l-2-4l0-4l-1-2l-1 0l-4 2l1 4l-2 2l-4-1l-2 1l0 2l0 10l4 2l4 4l-3 6l-6 4l-1 2l2 2l4 0l2 5l3 1l-3 2l-4-1l-2-1l-2-5l-4 1l-1 2l5 4l0 2l-2 6M428 625l-3 4l-4-3l-4-1l-4-6l-6-2l-1-2M401 609l-2 0l2-3M402 601l0-4l4-8l-2-6l1-2l11-8l-1-4l-5-6l0-2l3-2l10 0l6 1l2-1l0-2l-2-4l0-8M458 531l1-4l-3-4l1-4l-1-4l-4-2l-2-2l3-1l4 2l4 1l8-5l2 0l2 4l2 1l8 0l2-1l2-7l-2-6l-2 0M476 481l4-14l5-2l1-6l0-2l-3-4l-1-4l2-6l-1-6l2-2l4 1l11 7l1 10l-5 4l-1 2l1 2l5 3l4-1l4 2l6-2l-1-2l2-4l0-6l11-4l-1-4l1-1l10 0l2-1l-1-4M527 424l-4-7l-2 2l1 6l-8 2l0 2l2 4l-3 2l-5-2l0-2l1-10l-2-7l-4-1l-8 7l-2 1l-6-4l-8-1l-2 2l-2 7l1 4l-1 2l-2-2l-3-8l-6-4l1-4l2-2l0-2l-4-1l-4 1l-2-5l-6 0l-2 1l1 10l-1 3l2 1l4-2l8 3l3 7l0 4l-5 9M455 444l-1 3l1 4l-2 2l0 2l3 4l5 1l4-3l4 2l-1 4l3 6l-1 2l-7 4l0 7l-2 1l-8-1l-6 7l-8-3l-6-3l-7 2l-5 5M397 557l-4 2l-4 4l-5 2l7 14l4 2l-3 8l2 6l3 4M396 605l0 2l-2 4M389 625l2 2l-2 4l2 2l-1 2l-9 1l-2 3l7 6l9 3l10 2l6 5l12-12l4 3l8 2l4 7l2 1l1-1M477 413l1-4l-1 0l-2 2l2 2M57 410l1 1l-1 1M599 423l2-4l-1-2l-3-1l-2 1l-2 4l2 4l4-2M179 455l2-4l-3-14l1-1l2 0l4 2l2-1l1-4l-1-3l-4-1l-2-5l-2-1l-8 3l-4 4l-4 1l-4-1l-6-8l-6 4l-6-2l-6 3l-8 2l6 8l8 3l10 0l10 3l6 4l4 5l8 3M165 549l0-4M172 531l7 4l2 0M185 533l4-5l10 3l3 0l1-2l0-8l-8-1l-6-7l-2-1l-3 3l0 4l3 5l-8-1l-2-2l-2-4l2-3l5-1l-1-2l-4 0l2-6l-2-4l-1-14l-3-2l-4 3l-1 3l2 10l-6 10l-3 1l-4-3l-4 2l-2-2l2-4l-6-6l-2-6l-8-4l-2-7l-6 0l-3-3l-1-4l2-8l-4-8l0-4M121 446l-4-4l-2 0l-8 6l-1-5l9-6l0-4l-2-1l-4-1l-10-8l-6 3l-1 3l0 2l1 1l4 1l1 4l-1 2l-2 0l-6 8l-2 14l4 15l2 0l2-1l-1-4l1-1l2-2l4 1l1 6l-4 2l0 2l11 15l8 0l8-6l4 1l2 2l2 4l0 8l-3 8l11 8l2 6l0 6l-5 6l1 4M317 457l1-2l-1-4l-9-8l1-8l-2-4l-2-1l-2 2l-4-1l-3 4l-7 6l-1 4l5 11l12-1l12 2M331 447l2-1l1-3M331 440l-4-2l-3-3M322 435l0 6l5 6l2 1l2-1M521 435l-2-2l2 0M597 499l6-4l6 2l1-2l-3-6l-1-8l3-2l9-4l0-2l-1-8l-2-3l-2-1M603 450l-6 1M593 449l-3-2l0-4l-3-2l-1 2l2 4l-1 3l-2-3l-6 0l-1 2l3 4l0 7M592 483l-3 4l-6 2l-1 4l0 4l5 4l10-2M305 444l-2 1l0-3l3 1l-1 1M137 449l0-3l-2 0M135 450l2-1M192 463l2-6l8-4l-1-2l-4 0l-4-4l-2 0l-5 6l-1 6l4 4l3 0M231 449M251 459l-3 0l1-4l-2-6l2-2l3 2l-2 6l1 4M620 455l-1-3l-2-1l-2 2l0 2l2 1l2 0l1-1M217 471l2-4l4-2l-7-4l1-4l-2-2l-2 4l-4 2l-1 8l9 2M507 459l-2-2l2-2l1 2l-1 2M308 467l-2-6l-5-2l-2 6l4 2l5 0M245 466l-2 0l-2-1l1-2l3 0l0 3M541 501l3-6l-3-3l-3 1M535 496l-2-1l0-2l9-6l3-5M535 468l-4 0l-4 4l-8 4l-6 0l-1 3l12 12l4 14l0 4l1 2M69 469l0-3l-2-1l-1 2l1 3l2-1M197 473l0-2l-4-2l0 3l2 2l2-1M193 483l1-4l-3-4l-2 0l-4 2l0 4l4 3l4-1M361 509l3-4l5-4l-3-6l0-4l-2-4l5-10l0-2l-2-2l-4 2l-3 10l-1 1l-10-1l-6 2l-4-2l-7 0l-8 8l-1 3l-2 0l-4-2l-2 3l8 5l4-3l4 1l3 3l1 4l2 0l4 0l4-7l6-5l2 0l6 12M505 479l0-4l-2-1l-2 1l1 2l1 2l2 0M59 527l1-2l-2-8M61 511l4 0l6 4l4 1l3-3l-1-8l2-2l6 0l1-4l-9-12l-3 0l-3 5l-2-1l-1-4l-11-7M422 481l-1-2l-2 0l-1 2l3 2l1-2M392 485l0-4l-3-1M635 497l3-2l1-6M631 484l-6-3l-4 0l0 3l4 2M631 488l2 3l-1 6l1 1l2-1M255 492l-6-2l-2-5l2-3l8 2M88 491l2-4l-1-3l-4 5l1 2l2 0M467 492l-1-3l3 0M239 495l-3 0l1-6l2 1l1 3l-1 2M127 495l1-2l-1-1l-3 3l1 1l2-1M118 499M137 507M312 515l3-4l0-2l-2-1l-4 4l-2-5l-2-2l-4 2l-4-1l-1 1M301 510l7 3l3 3l1-1M494 561l5-4l4-7l2-1l3 6l5 4l1 0l0-8l1-1l5 3l1 6l6 1l6-2l1 1M543 559l4-9l6-3l4-8l4-4l8 0l6 6l6-8l-1-4l1-7l8 1l2 4l0 8l2-2l1-4l4-4l-7-12l1-4l-3-2l-3 6l-5 2l-3 6l-9 4l-4 6l-2 0l-2-8l-6-4l-12 1l-5-1l-1-2l-7 6l3 6l-1 2l-5 2l-3-2l1-4l-2-4M505 516l-4 3M500 525l-3 0l-3-2l-4-10l-3 0l-2 2l1 6l-6 18l7 0l1 4l3 1l1-5l7-2l3 2l2 4l-2 4l-5 5l-2 0l-6-2l-1 1l1 8l2 2l3 0M667 522l0-4M550 515l2-2l-1-4l-2-2l-2 0l-1 8l1 1l3-1M645 516l-4 1l-2-1l-4-7l-4 2l-4-4l-2 0l-2 2l-5 6l0 2l5 2l2 2l-2 8l6 0M605 515l1-2l-1-2l-2 4l2 0M565 521l1-6l-3-2l-2 2l1 2l1 4l2 0M633 519l-2 1l-1-3l1-6l4 2l1 2l-3 4M254 517l-4-2l4 2M291 555l2-7l8-2l4-4l8 0l6 4l2 3l2 1l1-1l0-2l-3-10l-4-3l-8-4M307 523l-12-7l-8 2l-2 8l-8-1l-2-6l-2-2l-8-1l-4 1l-1 2l4 4l4 8l-1 4l-4 2l0 2l2 2l4-1l2 1l6 9l4 1l2 6l4 0l4-2M147 525l-3-2l1-4l2-1l2 0l1 3l0 2l-3 2M257 519M349 565l8-2l6-8l-4-8l-2-2l5-10l-2-4l0-6l-3-4l-2 1l-6 6l-5 3l-2 6l0 6l-2 10l-5 2l1 2l3 0l2-2l8-2l2 2l0 2l-4 6l0 2l2 0M629 526l0-2l1 1l-1 1M603 551l2-8l2-2l4-1l6 1l3-4l-1-5l-8-6l-8 2l0 9l-11 8l1 3l4 0l4 4l2-1M93 534l-2-4l-2-2l-8 3l-3 4M368 689l-4-10l0-2M363 671l3-6M364 659l-8-10l1-4l6-4M361 629l-3-6l3-2l6 0l2-4l-3-6l1-6l-2-6l-6-12l-4 1l-6-2l-8 6l-2-1l-4-10l-4-2l-10-10l2-6l-2-5l-12 0l-6-7l-6 6l-6 0l-4 2M281 564l-4-5l-6-4l-6 0l0 2M270 569l-3 2l-4 0l-4 2l-8-8M211 541l-1-4l-5-3l-2 2l0 3l3 4l-3 4l-2 6l-3 2l1 2l4-4l6-2M235 569l8 10M263 580l6 2l6-2M285 589l4 3l6 1l3 2M315 608l6 3l4 1l1 3M331 618l4 1l1-2l2-8l3 0l2 2l0 2l-3 6l-1 5l6-1l5 2l2 8l-5 3l-4 5l3 6l0 8l7 6l-2 4l-5 4l-1 6l6 8l8 0l9 6M584 547l1-4l-2-3l-4 3l0 2l2 3l3-1M511 546l-2 1l-2-1l0-1l4-3l1 3l-1 1M411 551M466 553l-2 0l1 1l1-1M171 593l6-2l8 7l4 1l2 0l4-8l-12-9l-4 1M177 577l2-2l1-6M168 559l-3-3M476 559l-1-2l-3 0l2 2l2 0M209 561l0-2l0 2M486 567l-1-4l1-4l-1-1l-5 1l-3 2l0 4l8 3l1-1M564 571l0-2l-7-8l0-2l0 2l1 2l0 4l3 1l3 3M625 563l-2-3l-2 1l0 2l4 0M301 569l-2 1l-2-3l2-3l2-1l2 4l-2 2M511 605l4-4l0-4l4-6l-3-12l1-1l4 2l10 1l3-4l-1-2M529 572l-1-3l-5-2l-4-3l-3 7l-3 3l-8 5l-1-2l-2 0l3 2l-4 5l-2 0l-2-5l-4 0l-7 6l1 4l2 0l6-1l2 2l2 8l2 3l6 0l2 4l2 0M647 577l1-6l-3-5l-8-1l-5 2l1 2l7 2l2 8l-1 4l2 1M577 585l5-8l0-6l2-4l-1-1l-10 3l-4 4l1 6l1 4l4 4l2-2M498 571l-5-2l-4 0l4 3l2 1l3-2M209 763l4-9l4-2l3-3l-2-6l-1-1l-6 7l0 3l-2 1l-2-2l2-2l-1-2l-3-5l-4-1l-4 1l-4-1l-6 3l0-1l0-5l10-4l3-3M219 678l4 0l4 4l2-1l0-2l-8-16l3-2l11-3M234 653l-2-4l-1-6l-3-4l2-8M226 617l-1-2l6-2l1-2l-7-20l0-2l4-4l-7-2M227 575l0-2M219 585l0 2l-6 4l-2 10l-5 8l1 8l5 4l-2 4l1 4l-4 1l-6-3l-1-2l2-6l-6-4l-3-4l-8 0l-3 2l0 4l-5 2M131 609l-2-2l-2-4l-2-1l1 3l-3 3l-6-3l-4 2l-8 2l-2 0l0-2M101 610l2 0l0 3l6 6l6 2l2 2l0 6l4 9l10 5M173 627l8 3l4-4l4 1l3 4l3 8l-1 4M175 733l3 2l2 4l0 2l-5 5M175 749l8 0l2 2l2 9l2 1l8-2l4 1l4 4l2 0l2-1M628 591l3-2l4-1l1-3l-2-6l-3-4l-6 0l-4-3l-1 1l3 8l6 2l1 2l-5 6l3 0M311 580l-2 0l-4-3l0-2l2-2l6 2l0 2l-2 3M121 585l0-6l-2-3l-2-1l-4 3l-4 1l-2 6l2 1l4-1l4 2l2 0l2-2M439 583l-2-3l-2 0l0 3l2 2l2-2M451 591l-2-1l-2-5l1-2l3-1l2 1l1 2M606 601l0-8l-5-4l-2-5l-2 1l0 4l-3 2l-1 2l2 5M641 638l-5 5l-1 4l2 3M639 660l-6 0l-3-3M631 651l-1-4l-5-8l-6-1l0 7l2 8l-2 3l-4 2l0 2l10 0l2 1l3 4l5-1l4 2l6-1l4 1l4-1l2-5l2-1l3 2l1 2l-2 5l-4 3l2 3l8-8l5-1l0-8M544 601l5-6l0-6l-4-2l-10 0l0 2l4 6l-4 6l2 2l2 0l5-2M617 589M119 599l2-1l1-3l-5-5l-2 2l-2 4l-3 1l-1 2l2 2l4-2l4 0M285 601l3-2l1-3l-2-1l-6 3l-2-3M275 595l-1 2l1 3l4-1l6 2M485 615l3-4l-7-10l-2 0l-2 2l0 5l-2 2l-6-5l-2 0l0 2l6 8l2-2l6 3l4-1M502 627l2-2l1-2l-2-4l-1-6l-3-8l-2-1l-5 3l-1 4l7 12l-1 4l2 2l3-2M606 661l-3-6M607 644l0-3l4-3l2-3l0-1l-4-1l-1-2l0-2l5-6l-8-4l-2-6l-2-1l-4 7l-2 1l-6-2l-8 1l-8 6l-2 1l-4-1l-4-5l-4 2l-1-1l-1-5l-4 0l-1-1l1-4l-1-6l-1-2l-2 0l-10 6l2 10l-3 4l-4 10l1 3l4 2l4 5l11 6M562 647l2-4l-1-6l6-5l13 5l3 3M593 641l0-4l2-2l3 0l6 4l0 4l-3 4l0 2M601 659l0 2l2 2l3-2M629 613l2-2l1-2l-1-2l-4 2l-1 2l3 2M289 677l4-1l1-1l-1-5l-5-3l1-12l-8-5l-4 0l-1-3l1-4l5-6l3-1l1 3l0 2l-3 2l-1 4l3 1l8-1M297 644l6-6l3-1l1-3l-2-2l-4 4l-11-5l0-2l3-2M279 615l3 8l-1 2l-9 12l0 22l0 2l5 4l-5 8l0 2l7 3l10-1M472 621l1-4l-2-2l-4 4l0 2l4 2l1-2M648 623l-9 2l2 2l2-1l2 3M520 639l1-4l-1-8l-3-3l-5 3l-4 8l1 3l4 1M297 627l-1 0l1 0M386 633l3-2l-2-2M382 627l0 4l3 2l1 0M334 653l2-2l3-8M334 635l-3-4l-4 3l-4 0l-4 9l1 4l2 2l5 1l4 3l3 0M109 653l-1-4l-3-1l-2 3l-4 1M254 651l3-3l2-8l5-1l-5-4l-2-4l-6 1l0 7l-2 4l2 8l2 1l1-1M99 643l2-4M223 642l-4-1l0-2l2-1l4 1l0 2l-2 1M483 673l-2-2l-2-6l-4 3l-2-2l2-7l-1-4l11-6l3-6l-5-2l-8 3M447 663l-2 0l-2 2l1 2l5 3l4 2M125 648l-2-1l-3 2M300 657l1-2l0-2l-6-3l-2 1l-2 4l9 2M313 657l-2-6l-2 1l-1 3l1 2l2 1l2-1M512 661l5-4l0-5l-7 9l1 1l1-1M547 679l0-4l12-5M561 667l1-2l-1-4M571 665l-3-10M551 657l-4 0l-11 10l1 4l8 4l2 2l0 2M329 667l0-3l-4-5l-1 2l1 3l4 4l0-1M647 659l-2 0l2-1l0 1M694 707l-7-3l-9-1l2 6l5 7l3 1l3 6l2 1l1-5M685 733l4 4M694 771l-1 4M625 697l1-4l-2-10l-1-2l-4 1l-4-6l-6-1l2-4l4-2l-2-4l-4 3l-6 0l-4 3l-2 2l1 10M607 686l4-4l4 4l2 1l1 8l2 2l3 2l2-2M269 673l-2-3l-4-1l-2-4l-9 4l1 2l2 1l4 0l6 2l4-1M321 699l8-10l3-6l-2-6l0-6l-1-2l-6 2l-4 3l-6 1l-4 5l1 13l9 8l2-2M499 681l1-2l-1-3l-4-1l-5 2M497 683l2-2M559 679l-2-2l-1 2l1 1l2-1M419 679M584 683l4-4l-11 4l7 0M560 701l5-3l8 2l2-3l4 3l2 0M582 697l-5-11l-8-5l-6 3l-2 2l-2 10l-2 1l-4 0l-1 2M257 778l2-1l1-2l-1-4l6-4l6-10l-6-1l-8 5l0-6l-3-4l3-6l-1-2l7-2l0-2l-3-6l1-4l3-2l11-1M277 721l1-8l2-6l-8-4l1-4M267 697l-2 0M257 692l-4 2l-4-1l-1-4l1-4l0-2l-2 1l-9 5l-3 4l-1 6l-7-1l-1 5M229 713l3 2l0 6l-8 8l3 9l4 4l4-1l-1-4l1-3l9-3l2-2l-1-2l-8-2l0-4l2-3l4-2l4 4l4 0l2-7l1 0l1 6l2 2l2 0l-4 3l2 7l-2 4l-1 8l-3 1l-6-2l-2 1l1 4l5 6l-1 2l0 6l-3 3l-4 2l-8-1l-2 2l2 4l-2 1l-2-3l-4 0l-1 4M323 689l-2 2l-2-2l0-2l2-2l2 4M591 691l-2-4l-3 0l3 4M413 719l1-2l-1-10l2-2l4 1l1-1l-2-6l2-2l-5-5M407 695l-2 0l-6-3l-4-3l-6-1l-3 11l3 5l4 0M401 703l1 6M640 697l2-2l-1-4l-4 1l-4 3l4 2l3 0M357 707l-1-12l-3-2l-4 3M342 699l3 7l12 1M677 756l5-1l-2-8M655 698l-4-1l-4 3l-8 3l-1 4l5 6l-2 2l-6-2l-4 3l1-7l-3-4l0-5l-2 0l-4-1l-2 3l-8 3l-6-2l-2 0l-3 4l5 3l6-3l3 2l5 6l0 3l2 3l0 8l8 0l-3 6l5 4l2 5l3 3l1 4l3 2l3 4l3-2M261 712l-3-1l0-6l-2-4l1-1l4 1l2 4l0 4l-2 3M651 819l0-4l2 2l4-1l3-3l1-4M665 804l6-5l0-4M672 783l4-8l-1-1l-4 0M669 776l-2 2M658 783l-1 4M652 793l-3-1l-10 4l-6-1l-2 0l-1-4M635 787l1-2l-2-2M625 786l-2 1l0 2l-2 1l-8-1l-3-2M621 763l1-18l-11-4l-2-2l5-4l0-4l-3 0l-6 6l-3-4l-3-3l-2 0l-4 3l-4-1l-8 4l-2-1l-4-8l6-14l-6-11l-3 5l0 10l-11 6l-2 0M556 725l0 4l9 6l4 8l0 2l-6 4l-8 4l-1 2l4 4l1 8l-2 4l4 3l2-1l2-4l4 2M591 787l4 1l4-1l2 1l0 5l-3 4l2 2l5 2M613 797l2-1l2 1l2 6l4-1l6-4l2 0l1 3l-1 8l8 8l2-2l-2-8l2-3M647 802l2 1l1 4l-3 6l0 6l2 1l2-1M438 709l5-2l-2-3l-5 1l1 4l1 0M547 707l0 1M452 857l1-4l5-2l3-4l-10-4l-3-6l1-6l4-3l8 2l3-3l2-4l-1-10l2-5l2-1l2 12l2 1l6-1l-4-6l1-6l3-1l6 2l4-4l6-11l-5-6M487 785l-3 2l-2 6l-7-3l-4 6l-2 1l-8-6l-1-2l4-4l3-7l4 1l4-2l6 1l2-2l8 4M494 783l3 3l4 0l9-5l0-2l-1-2l-2-1l-4 0l-3-3l2-6l-3-6l-4-3l-2 0l-2 3l-2-2l4-4l1-4l3-2M503 744l3-1l5-5l6-1l10 1l8-1l2-2l2-8l9-2M541 714l-12-2l-2 9l-5 2M517 726l-4-1l-4 3l-2 0l-8-3l-3-2l-3-6l-6-4l-5 8l1 4l-6 4l-6 8l2 4l-2 5l-2 2l-2-6l-6 1l-1 4l1 6l-1 4l-5 6l-6 3l-2 3l2 3l2 0l2-1l2-3l4-1l2 4l-7 8l-1 10l-3 8l2 6l-1 4l-4 3M442 805l-2-2l-1-6l-6 0l-4 1l-6-2l-4 5l-8 4l-2-1l-4-5M395 811l1 6l10 8l3 14l2 2l4-4l9 2l1-2l-1-2l-6-4l8-12l5 0l2 2l0 4l4 3l1 3l-3 6l3 4l-2 10l1 4l10 4l5-2M469 714l-2 1M440 731l11-4l-2-6l2-2l-1-2l-1-1l-2 3l-6 2l-9 6l-1 2l2 2M437 732l3-1M383 727l-6-1l-2-4l-4-2l-5 5l2 2l5 2l6-1M480 723l-1-1l-2 1l2 1l1-1M527 725l0-2l2-1l2 1l0 2M533 729l-2 2M589 727M523 729l0-1l1 1l-1 0M625 737l-2-6l-2-1l-4 1l6 7l2-1M359 733M309 749l8-4l5-2l-1-2l-4-1l-2-5l-6 1l-4-3l-2 14M375 818l12-5M379 775l-3-2l-2-4l-5 0l-4-1l-6-5l-6 0M359 749l2-2l-2-4l-12-6M327 759l4 4M349 766l6 3l4-1l3 3l-1 2l-2 1l-2 0l-4-4l-1 3l0 2l5 5l1 5l-1 2l-6 1l-5 5l0 8l2 4l-5-1l-4-3l1-6l-1-1l-6 1l-1 2M333 803l6 4l3 8M275 751l4-4l1-2l-1-4l-4-2l-3 2l0 2l1 6l2 2M593 750l-4 1l-3-2l-1-4l2-3l6-2l2 3l2 2l-1 2l-3 3M373 765l7-2l1-5l8 5l2-2l2-8l-5-4l0-4l-3-3M380 747l-3 4l-10-1l-4 3l2 4l8 8M559 848l-2-3l4-6M573 842l8-5M581 834l-2-3M582 811l-3 3l-5-1l-1-2l5-4M563 795l-2 0l-1-4l-3-4M557 783l0-2l-6-3l-2-9l1-4l-1-2l-8-1l-8 8l-9-3l2-4l6-6l1-4l-2-5l-6 2M517 759l0 2l-4 0l-4-1l-2-4M502 759l3 11l6-2l6 2l4-2l2 1l-2 3l-4 1l-1 4l-2 4l1 6l-2 6l2-2l1-2l7-2l2 0l4 6M544 803l4 10l2 0l3-4l2 0l7 4l1 2l0 6l-5 16l-7 4l2 8l-2 2l-4 0l-2-4l4-6l-1-2l-7-3l-2 1M521 855l-2 7l-4-1l-2 1M402 753l1-2l-2-1l-1 1l2 2M473 756l-2-1l2-3l1 1l-1 3M445 761l1-2l-1-2l-2-1l-2 0l-2 3l2 2l4 0M439 771l1-4l-3-4l1-2l-5-4l-1 2l2 4l1 8l2 1l2-1M406 761l-1-1l-3 1l1 1l3-1M642 763l1-3l-2-1l-4 1l0 3l2 2l3-2M479 772l-4 1l-1-4l1-2M481 767l-1 4l-1 1M274 769l-1-3l-4 0l-1 1l3 2l3 0M253 772l-2-1l1-2l1-1l2 1l0 2l-2 1M429 769l-2 0l2 0M233 774l0-3l0 3M443 783l0-2l-4-4l-1 4l3 3l2-1M423 783l1-2l-1-1l-1 1l1 2M480 785l2-2l-1-3l-3 3l2 2M315 790l-4-2l-3 3l1 4l3 0M506 797l-1-4l-2 0l-1 2l0 2l4 0M323 796l-3 1l2 2M687 826l5-5M694 819l3-5M696 801l-1 10l-10 5l-2 4l-6 5M284 805l2-4l-1-3l-6-1l-5 4l1 3l6 2l3-1M296 819l-5-2l-1 2l1 4M280 815l-3-3l-2 0l-1 1M271 811l1-2l-5-4M621 836l6-1M634 831l-1-6l-2-3M484 819l2-4l-1-5l-2 0l-2 3l0 4l1 2l2 0M496 817l-3-2l-4 2l-1 2l1 1l6 0M506 827l5 4M663 823l-2 1l0 3M413 829l-2-2l2-1l2 3l-2 0M513 839l-2-5l-4 5l4 1l2-1M482 857l2-2l-2-8l-1-2l-4 1l-5 5l-1 2l4 3M514 849l-4 0l4 0M637 891l2-3l6-3l1-4M649 883l3 6l-1 6l4 6l2 0M661 890l-4 0l-2-1l-1-2l5-1l2 1l0 3M338 403l2-6l-2-6l9-6l-2-12l10-7l6 0l4 3l-6 4l0 3l2 1l6 0l2-2l4-10M375 353l0-2l6-8l2-1l4 0l2 2l1 9l-5 2l-2 4M382 367l1 5l4-3l10 1l-1-7l1-4l6 6l6 0l1-2l-1-5l2-2l4 0l3-3l0-2l-3-1l-4 4l-4-2l-6 0l-6-18l-3-1l-3 6l-2-1l-1-3l5-6l8-3l8-2l6 3l6-2l1-2l-4-4l-1-4l2-4l6 5l1 7l2 2l-1 6l-6 4l3 4l0 4l7 0l6 3l4-4l2 0l4 3M448 339l2-8l-3-6l0-10l2 0l2 2l4-1l4 1M456 275l-2-4l2-2l3 1l2 2l3-1l3-5l6 1l6-2M487 249l-3-2l-1-3l-1 3l-5 5l-6-7l-4 0l-4 2l0-2M449 238l-4-2l-3 3l1 4l6 5l4 1l-3 4l2 6l-1 4l1 6l-5 3l-10-7l-2-6l-4-2l-4 1l-4-3l0-2l2-2l2 0l6 2l2-2l-4-10l-6-4l-1-2l5 1l4-6l4-3l6 3l2 0l1-1l0-4l-6-4l1-4l2-2l8 0l2 6l2 1l4-5M465 214l4 1l3 4l-5 5M469 234l8-6l4 4l6 1M487 224l-4 1l-4-8l2-2l2 0l4 5M541 383l-1-6l-8-6l-3-5M526 369l-1 4l-2 2M515 357l-8-2l-2-2l-4 0M493 360l-4 0l-6-3l-8 6l-6-2l-5-6l2-8M461 344l-6 8l-8 0l-3 1l-1 4l-1 0l0-6l-3-2l-3 2l0 8l-1 1l-8 1l-2-4l-2-1l-4 3l5 8l3 1l6-1M432 383l3 6l-1 2l-3 5l-2 1l-2-1M409 388l-6 2l-2-3l0-4l-7-4l-5 0l-6 2M371 382l-4 0l-3 5l5 5l4-1M371 397l-4-3l-12 0l-6-2l-3 1M349 396l4 1M399 237l-8-12M391 223l6 0l4-6l-2-1M413 213l-2 2l-6 0l-3 2l1 2l0 4l4 5l0 3l-6 1l-2 5M105 238l-2 0l-2-4l-2-1M87 221l-3 0l-5-4M72 211l2-2M84 207l9 4l1-2l-2-6M107 207l1 6l-3 4l0 4l4 0l6-3l3 1l2 2l-1 6l-4 5l-6 2l-4 4M295 263l-2-1l0-3l-8-7l-7-3l1-6l-2-3l-2 1l-4 3l-6-1l-1 2l1 6l5 6l-1 2l-2 0l-4-5l-1-3l-3-2l-2-6l2-6l-2-4l-9-4l-1-2l-1-2l5-4l10-2l3-4l0-4M304 203l1 6l-1 2l-9 4l0 2l2 2l-1 4l1 4l-4 8l4 2l2-2l2-4l4 0l1 2l-2 6l1 6l-5 6l-5-1l-2 1l1 8l2 4l-1 0M437 207l-2 2l-9-2l2-8M133 203l-2-2M136 201l-3 2M276 205l2 2M333 213l0-2M335 203l2 0l-3 4l-1 6M125 207l-1-2M127 204l0 2l-2 1M375 212l-2-3l2-3l3 1l-1 4l-2 1M181 214l-2-1l2 0l0 1M183 279l-6-4l2-2l4-1M195 268l2-1l6 2l6-4l1-6l-3-4l0-6l-3 0M194 247l-4-6l0-8l-3-9l-2-2l-9 7l-3 7l-5-7l5-9l10 1l1-2l0-4l3-3l4 2l3 3l-2 10l1 4l2 2l10-3l6 3l2 4l0 6l4 8l-1 4l1 2l4 1M225 263l-4 6l-6 2l0 7M345 244l-4-7M347 234l0 7M157 227l-2 1l-3-1l-1-6l1-2l3 0l2 2l0 6M139 246l-4-5l1-4l-4-4l7-5l8 1l-4 4l-2 10M367 245l-4-3l-5 1M363 239l6 2l0 4l-2 0M423 235l-1-2l1-1l1 1l-1 2M72 257l-3 2l-2-1M99 274l-10-1l-3-2l-2-4l0-2l3-5l6-1l4-2l-2-4l0-6l6-6l4 4l12 0l7 10l-5 7l-6-3l-8 1l-3 5l-1 7l-2 2M341 357l-8-3l-4-4l-4-1l-8 1l-3 3l-3 0l1-12l-1-2l-4-2l-3-4M309 333l16 5l1-3l-1-9l2-4l3 1M335 323l4-1l4-7l8-8l0-2l-6-6M344 293l-3-5l-2 2M337 293l-2 6l0 8l-4 6l-3-2l-3-10l-2-1l-2 1l0 4l-2 2l-6 0l-5-6l4-12l-4-4l3-4l-4-4l-4 3l-8 3l-4-5l-4-2l-4 1l-4-1l-4 5l-2 0l-1-4l0-6l-3-3l-1-5l3-2l4 1l2 1l-1 4l3 5l4-2M287 268l4-1l6 5l6-1l4 6l5-4l4-8l-1-2l-5-2l2-12M317 245l1 2M321 254l4-1l8-4l6 4l-2 4l-2 12l2 6l8 9l12-2l4 1l-2 12l2 3M365 295l2-3l11-5l3-5l7-3l2-2l-1-4M387 270l-10-4l-2-3l2-7l6-1M401 260l2 3l1 8l5 3l2 0l4-3l4 2l1 14l3 2l-1 2l-3 2l-2 0l-3-6l-3-1l-2 1l-5 6l-1 6l-6 1l-3 3l2 4l-3 7l-4-4l-2 0l-1 1l1 4l-1 2l-5 1l-4 4l-7 3M367 327l-3 2l-2 8l-3 2l-2-2l-1-6l-5-2l-4-4l-4 1l-1 1l-1 2l3 6l-1 10l4 6l-4 5l-2 1M343 256l-2-1l2-1l0 2M76 287l5 6l2 8l5 2l-1 8l1 10l-3 2l-2-1l-4-6l-6-2l-4-3l-2 6M65 337l4 2l3 4l-1 4l-4 2l-1 2l1 2l4 1l0 5M79 367l9-6l-2-8l-10-8l3-7l2-1l4 0l4-2l12-9l6-1l5-2l-1-6l5-6l1-4l4 3l10 1l0 3M133 331l4 0l2-5l2 0l8 7l0 6M137 351l-2 5l-2 0l-4-2l-2 1l0 4l-2 4l3 14M135 387l4 2l10 12l0 6M175 423l-6 2l-4 4l-2 0l-4-2l-4-6l-2-2l-8 4M139 422l-8 0l-6 3l-1 2l0 2M120 435l-2-6l1-4l-2-2l-2-4l2-2l4 1l1-3l-1-6l-4-8l-8-3l-6-5l-6 6l-2 4l-2 0l-6-4l-1-4l-5-4l-7-8l-1-4l-4 0M149 283l-2 1l-8 0l-6-5l-4-1M124 269l-1-6l4-4l2-1l10 2l6 7l2 0l3-4l2 2l3 10l-2 3l-2 1l-2 4M355 272l-2-3l0-6l6-5l1 3l-2 4l0 4l-3 3M261 260l1 1l-1 2M229 267l0-3l6 1l0 2l-3 2M110 269l1-2l2-1l4 1M77 270l0-2l1 1l-1 1M429 274l0-6l2 1l0 2l-2 3M401 275l1-2l-3-2l-2 1l-1 3l1 1l4-1M641 514l-2-5l-4-3l-4-1l-2-2l2-1l2 1l7-8M639 473l-1-6l1-4M622 455l-1-6M601 389l-2 0l-4-1l-2 1M572 373l-3-5l2 0l2-3M429 280l0-4l1 3l-1 1M353 280l0-1l0 1M371 287l-4 1l-3-3l0-2l3-3l6-1l1 0l0 4l-1 4l-2 0M208 349l2-6l-9-10l1-4l-6-14M221 312l-2 5l0 8l2 3l2-2l2-1l4 10l4 0l2 3M219 349l-3 6l-5 2M382 289l-3 0l2 1l1-1M413 297l-3-4l1-1l4 1l0 4l-2 0M157 315l-8 1l-4-9l0-6l2-2l4-1l11 3M255 304l-3-3l3-4l2 0l2 2l0 2l-4 3M269 302l-2 1l-2-2l0-2M384 309l-1-3l-4-3l0-4l-6-1l-3 1M364 307l3 2l10-2l4 2l3 0M439 312l-4 0l-5-3l4-10l3 0l6 3l6-2l0 5l-2 2l-4 1l-4 4M185 318l-3-3M187 315l-2 3M411 307l-2-1l-1-3l5-4l2 4l-1 2l-3 2M481 326l4 3l2-1M390 305l0-2l-3 0l1 2l2 0M293 325l-5 4M271 322l-6-2l-2-3l-2 0l-4 4l-6-1l-3 1l-1 2l-2-1l-5-3l-2-8l7-3l4 1l6-2l4 1l6-3l4 2l8 0l8-4l6 1l4 3l3 8l4 6l-1 4M107 315l-2 1l-3-1l5-3l1 1l-1 2M147 321l-2 1l-1-3l3-1l0 3M123 329l1-6l-3-1l-4 5l0 2l2 1l4-1M261 325l-2 1l-2-1l2-1l2 1M541 361l2 1l1-1M247 337l-4 1l-3-1l2-4l-2-4l1-3l4-1l1 2l0 4l3 4l-2 2M169 333l-2 2l-2-2l-1-4l3-1l2 1l0 4M499 339l3-6l-3-3l-6 3l-2 2l4 6l4-2M367 334l0-1l1 0l-1 1M291 336l2-1l2 2l-2 1M371 338l-3-1l1-3l3 3l-1 1M336 343l-1-6l-1 6l2 0M205 345l-2-2l2-1l1 1l-1 2M243 399l-6-8l-1-6l-9-3l-1-3l1-1l6-2l8 2l5-3l-5-2l-1-4l-3-2l-10-1l-2-1l0-2l2-3l6-1l2-2l6-2M247 352l4 1l6 3l5 3l1 2l0 7l-4-1l-8 1l0 3l2 3l4 1l6-5l4 5l8-4l4-14l-7-4l1-2l4-3l3 1l-1 8l6 6M287 375l-4 4l-6 0l-14 6l0 6l-6 5l-4 0l-9-3l0 4l-1 2M110 367l3 1M221 461l-2 0l-1-2l2-2l-1-4l1-4l-3-4M211 446l-4 7l-4-3l-4-2l-7-5l-2-16l3-4M171 377l-4-1l-2 1l-3 6l0 6M157 397l2-6l-1-6l-2-2l-5-2l-2-6M146 369l1-4l2-1l4 0l4 4l2-1l-1-2l1-1l7 3M187 362l2-1l4-5l2-1l2 4l-2 6l0 2l6 2l13 8l1 2l-3 8l1 2l3 0M227 431l5 4l-3 8l-3 2l1 6l-4 6M249 363l0-3l0 4l0-1M359 361l0-2l0 2M157 364l0-1l1 0l-1 1M489 414l-3-1l-5-7l-10 1l-6-1l-7-7l-1-4l-2-1l-6 1l-4-4l0-2l6-7l3-7l7-6l0-4l2-2l5 0l1 2l-2 6l6 11l5 5l-4 8l0 2l3 1l4-1l2 5l2 0l3-3l-2-8M490 389l-1 12l2 12l-2 1M99 371l-3-4l-5-2l-2 0l0 4l2 1l6 3l2-2M311 376l-2 1l-1-2l0-4l3 0l1 2l-1 3M329 376l-2 1l-2-2l-1-4l1-1l2 0l1 1l1 5M254 379l-1-2l-2-1l0 4l2 0l1-1M287 400l-6 1l-4-2l-1-2l7-6l1-4l-2-6l1-2l3 6l5 4l2 4l-4 3l-2 4M369 621l2-3l4-1M375 612l-6 1l-2-2l2-6l-7-20l-9 1l-2-4l-2-1l-2 2l-2 4l-4 2l-2-2l-2-7l-6-3l-4-4l-3-14l-3-6l4-3l1-7l-4-8l-5-5M311 520l4-5l2-6l-2-3l-4-2l-8 0M293 514l-4 2l-8 1l-2 2l-4-3l-10-2l-8 1M253 509l3-6l9-1l9-9M266 481l1-4l2-1M271 479l0 2l2 2l8 0l3-2l1-4l2-2l11-2l3-4l6 2l5-2l0-2l-3-3l-2-5l4-1l6 1l2-1l1-5l-1-5l-7-3l0-4M296 431l-9 9l-2 5l7 12l5 3l0 3l-10 11l-11-11M271 451l-2-4l-2-10l2-6l-1-2l-5-2l-4 1l-1-1M261 423l4-3l10 3l2 3l2-1l2-16l2-1l2 2l4-3l3 2M309 402l-4-5M319 439l0 2l10 12l6-5l1-3M375 436l4 1l2 2l1 6l3 2l4 0M397 448l3-3M402 445l5 2l0 4M401 452l-2-2l-2 1l-5 8l4 6l-1 7l-2 4M408 475l3-5l4 1l2 2M435 471l2 0l2 3l6 0l6-3l1-6l-3-2l-7 0M439 455l2-2l6-2l1 4l5 3l2 5l4 0l4 2l1 6l-3 4l0 6l-8-1l-8 7l-6-2l-4-6l-6 2l-4 1l-2-3M416 481l1 2l3 2l1 2M389 516l-2 0l-1 1l1 6M389 539l-1 4l3 3l2 6M393 557l-6 4l-6-1l-2 1l0 2l8 9l1 7l5 4l-2 6l1 8l2 4l-1 6M481 386l-4-1l2-2l2 1M519 423l-5 0l-1-6l2-3l7-3l-1-8l2-3l2 1l3 4l-2 6M526 417l-1-2l-4 1l-2 7M445 412l2-1l-2 1M573 521l-4 1l-1-7l-5-4l-2 0l-4 4l-2 0l-1-4M545 507l-2 8l-2 2l-2-2M543 501l3-6l-1-2M545 488l4-3M533 466l-4 0l-2 5l-2 1l-6 1l-4-3l-6 5l-5-4l0-4l1-2l4 3l6-1l2-2l1-12l9-4l2-4M533 443l4 1l3-3M569 437l2 6l0-2l6-5l2-1l4 4l0 5l-7 3l2 12M587 483l-6 6l-1 4l1 6l1 4l3 2l0 2l-8 12l-4 2M599 413l-4 0M595 413l4-1l1 1l-1 0M469 416l-1-1l2 0l-1 1M495 418l-2 1l-1-2l-1-2l2-1M497 415l-2 3M606 447l1-8l-4-2l0 8l-6 3M593 447l-1-2l-1-4l-5-4l0-6M593 427l0 4l2 0l2-4l4-3M613 441l2 6l-2 4M105 425l-2-2l0-2l2-3l1 3l-1 4M445 437l-5-2l1-4l5-8l9-3l7 3l1 6l-2 5M415 430l-5-5M411 422l4 3l2 0M67 429l5 0l3-5l4 0l6 3l4 0l0 4l4 4l-2 8l-8 6l0 4l-2 4l1 2l4 4l2 10l-3 10M71 481l-4-4l-4 2l-4-1M69 516l6 1l4-2l0-8l8-3l0-9M91 491l4-4l0-2l-6-4l0-2l3 0l3 2l2 4l2 0l4 4l3 6l7 3l1 3l-1 8l2 0l4-6l2-2l6 0l2-4l2 2l0 4l-3 4l0 4l10 8l3 6l0 5l-5 5l0 4M127 600l-2-1l-1-2l1-3l2-1l2 0M128 585l-3 0l0-4M123 573l1-6M113 535l0-2l-1-2l-5 1M93 530l-2-4l-5-1M81 523l-6 2M99 618l4 0l6 3l6 2l0 9l4 7l5 4l-3 1M115 642l-2 7l-2 0l-4-3l-2-1l-3 2M100 645l4-6M78 435l-1-3l-2-1l-2 1l0 3l2 1l3-1M493 456l-4 0l-3-3l1-3l6-1l0-2l-2-3l-4 2l-1-7l1-2l6 5l4 1l2 4l0 4l-4 1l-2 4M564 439M163 509l-5-2l-3-7l-4 1l-2-2l-1-8l-7-2l-6-10l-2 0l-2 1l-3-1l-1-2l1-10l-2-6M133 453l2 0l6-2l0-4l2-4l4-1l4 0l14 6l4 7l12 3l9 9l-1 6l-6 4l-2 4l3 4l-3 1l-8-4l-5 5l-2 6l2 4l-1 6l-4 6M185 452l-2 0l0-3l4-6l2-1l1 1l-5 9M567 445l2-2l-2-1l-2 1l2 2M435 449l-2 0l-2-1l0-3l4-2l5 2l1 2l-2 2l-4 0M370 459l3-4l-4-1M203 469l-6-1l-3-3l1-6l2-2l4 1l4 5l1 2l-3 4M377 461l0-2l0 2M530 459l-3 0l2 2l1-2M66 475l4-4l3-6l4 0l3-4l-3-1l-4 1l-2 3l-2-1M62 475l3 2l1-2M267 466l-2 1l-2-1l0-4l2-1l2 2l0 3M505 512l-6 4l-2 4l-2 0l-2-7l2-6M494 497l-5-4l-5 2M479 477l1-8l7-3l1-5l8 4l0 2M498 471l1 2l-5 4M491 483l1 2l-3 4l0 1l4-4M497 483l2-1l6 0l4-1l9 6M523 491l2 8l-2 8l1 4M531 517l-1 2l-3 3M162 467l-3-3l-2 0l-4 3l2 2l7-2M364 509l2-4l5-4M368 489l0-4l3-8l2-2M367 470l-6 3l-4 11l-4 0l-4-3l-4 4l-6-2l-8 0l-6 7l-6 1l-4 2l-4 8l0 1l2 0l4-2l6 4l6-3l2 0l1 2l1 6l2 1l8-3l8-10l2 1l3 7M150 471l0-2l-3 0l0 2l3 0M207 514l-2-2l-4 4l-6 1l-2-1l-4-6l-6-4l-1-3l1-4l-4-2l0-4l2-1l4 0M192 485l3-4l1-4l1-1l8-3l12 1l1 1l0 8l4 4l1 2l-5 6l1 3M619 494l-4 0l-6-3l-1-2l0-6M615 478l2 0l3 1l-2 4l2 4M573 489l1-2l0-4l-1-2l-4-1l-2 9l6 0M253 489l-4-1l-1-3l2-2l3 1M635 640l-2 1l-2-2l2-4l-1-4l3-6l-4-1l-2 2l0 7l-2 3l-4 0l-4-1l-1-2l2-4l-4-6l-1-4l3-6l-1-3l-2 0l-2 3l0 4l-4 2l-2-2l-2-6M607 605l3-2l-2-4l2-6l-11-14l-3 0l-2 8l-3 3l2 7M595 606l3 7l-1 4l-2 1l-6-1l-8 0l-8 6l-4 0l-4-5l-6-3l-4-6l0-6l6-2l-1-2l-5-4l-4-9l-2-1l-4 0M539 586l-5-3l0-2l2-4M523 565l0-2l8-1M545 560l6-7l2-1l1 1l1 2l-3 4l2 4l0 4l3 4l-1 4l3 1l4-2l3 1l0 4l2 4l7 7l4-1l0-4l4-10M586 567l-3-3l-14 6l-1-1l-1-4l-4-2l-2-2l-1-4l2-4l-1-2l-5-2l0-6l1-2l4-3l4 1l4-1l4 5l3 2l3 5l4 0l6-5l4 6l8 3l6-3l1-8l3-1l6 1l8-10l2-1M650 613l-3-2l-6 5l-6-2l-1-3l2-4l0-8l-3-4l-3 2l-2 2l1 6l-5 4l1 5l2 2l8 0l5 3l-5 6l5 4l0 6l-5 5M605 525l-3 0l-4-4l-7-18l2-2l6-1l4-3l6 3l6-3l2 1l2 3M622 507l-2 4l-5 4l0 6l-10 4M607 517l2-2l1-4l-1-2l-4-4l-5 10l3 3l4-1M489 509M483 556l-4 1l-4-3l-4 0l-6-5l-6-1l-3-3M445 555l-9 0l-5-7M459 543l2-1l0-3M463 529l-5-6l1-8l10-5l4 5l8 1l3 3l0 2l-4 12M478 537l-3 6l2 4l6-2l2 1l1 7l-3 3M305 517M307 519M283 521l0-1l0 1M355 569l1-4l9-10l-5-12l4-8l-1-10l-6-6l-2 1l-7 7l-11 8l3 8l-3 8l-5 4l0 2l7 2l3 0l3-4l4 1l0 3l-4 3l-1 3l1 2l6 0l4 3l0-1M261 535l-4 2l-2-3l2-11l4 0l5 8l-1 3l-4 1M211 536l-3-3l-1-2l5-6M247 537l2 2M587 537l-3-2l-3-6l2-3l4 1l1 2l1 6l-2 2M529 530l-2-1l2-1l0 2M176 549l0-2l-3 1l-4 7M169 547l0-4M173 534l6 5M189 531l6 1l6 3l1 8l-2 6l-1 2l-5 2M189 555l-4 2M589 545l-1-4l1-2l5-2l3-6l3 0l1 2l0 2l-12 10M257 569l-3-2M257 539l0-2l10 11l0-3l2-1l3 1l2 4l-1 2l-8 1M494 541l3-3l2 0l2 3l-2 6l-4 2M317 555l-8 0l-2-2M309 544l4 0l6 7l2 2l-4 2M300 551l-3 3M489 607l-3-2l-1-6l-6 0l-4-3l1-3l5-4l-4-9l-2 0l-4-4l-3 1l3 2l0 2l-4 1l-2-1l1-4l-15-12l0-5l8-6l14 7l2 7l5 1l1 2l-2 4l2 2l6-4l6 2l-4 4l-4 3l-2 3l0 6l2 3l8-2l2 0l2 3l0 6l-8 6M509 574l-2 1l-6-2l0-6l-2-2l-2 0l-2 2l-6-2l0-2l6 1l2 1l2-1l4-10l2-1l10 14l0 2l-1 2l-5 3M517 556l0-3l1 2l-1 1M203 616l-5-3l-3-6l-1-8l3-8l-6-4l-5-6l-4-10M199 563l2-1l2-3l2 4M217 585l-6 6l-3 6l-1 6l-3 6l1 6l-2 1M610 559l-2 0l1 2l1-2M635 562l-8 1l-2-4l-2-1l-2 1l-4 6l-4 2l0 2l4 3l5 11l-8 4l-1 2l2 2l6-2l6 5l4-1l2 2l3-2M638 589l1-3M419 565l-2 1l-3-3l5 0l0 2M280 811l1-2l5-2l2-4l0-8l-5-4l-2 1l-8 8M264 779l0-2l-2-4l1-2l4-1l6 4l3-1l1-4l-1-4l-4-2l-1-2l6-6l2 2l0 4l3-2l-1-2l-2 0l-2-2l2-5l3-1M290 745l-1-1l-4 2l-2-1l-4-6l-4-3l-8 5l-3-6l1-4l2-1l6 2l2-2M280 731l3 2l2-1l3-5l-4-2M279 719l4-12l-4-4l1-4M255 692l-4 0l-1-1l1-8l-2-3l-6 5l-5 2l-7 7l-6 2l-1 3M229 715l1 2l0 2l-9 10l4 6l0 4l4 6l10 0l2 1l2 3l0 2l-8 0l2 8l8-2l1 2l-3 4l-2 2l-2 0l-4-3l-6 2l-7 5M215 771l0-4l-4-2l0-2l2-6l8-6l1-2l-2-4l1-4l-2-2l-2 1l-4 5l-2 1l-4-5l-9-4M221 679l6 6l3-2l1-4l-5-8l1-4l2 0M246 663l1-2M236 609l-5-5l-2-5l-1-8l3-3M236 573l1 2M341 629l4-2l1 2l-3 7M313 644l-8 8l-7-3M301 644l9-5M280 623l-7 10l-6 3l-5-1l-5-6l-4 0M249 633l1 4l-3 6l2 10M255 653l4-2l2 3l2 0l1-1l-1-2l-3-2l0-4l1-3l6 3l3 12l-1 2l-4-1l-14 9l-1 2l3 5l18 3M277 679l4 0M289 679l6 0l2-2l-2-8l-5-4l1-5l4-1l6 3l4-4l8 2M317 655l-2-2l1-2l1-2l2 0l2 2l6 2l-1 2l-3 0M322 663l1 5l-4 3l-6 2l-4 4l-1 4l1 6l-1 6l11 9l2 0l2-5l5-2M341 700l2 7l2 2l2 1l6-2l6 5l-1 2l-3 3l-7 5l3 2l4-4l4 2l2 4l-10 3l-1 1l1 4l-4 0M321 739l-2-1l-4-6l-4 2l-3-5l-3 0l-3 8l0 6l-3 6l-4 2M308 759l7-2l0-2l-3-4l7-5M351 769l-1 6l4 6M340 791l-7 1M315 788l-4-2l-4 4M306 795l-1 2l2 2l2-1M335 806l4 3M425 627l-4-3l-4-1l-2-4l-6-4M405 601l4-14l-1-2l-2-2l1-2l6-4l4 0l4-7l2-2l4 1l1-2M432 571l-1 8l4 7M435 590l-4 3l-1 4l-5 1l0 3M625 572l-4-3l-1-2l1-1l5 1l0 2l-1 3M637 575l-2 0l-1-2l3-1l1 1l-1 2M495 575M411 803l-2-2l0-2M378 771l1-4l6-2l2 2M391 768l3-1l-1-8l4-4l2 2l-1 8l3 1l4-2M415 719l1-4M417 708l4 0l1-1M425 698l-1-3l-5-3M415 689l2-2l4 3l1-1l1-16l-1-2l-5 0l-1 2l1 2l-2 7l-4 1l-1 2M405 688l-4 3l-8-5M385 703l3 4M384 725l-6-2l-2-4M367 715l-7-10l-2-10l-3-4l0-2l4-3l2 0l4 5M371 688l-4-7M360 651l2-4M376 639l9 7l6 2l8 6l6 0l6 4l2 1l8-12l12 2M437 659l0 8l2-2l2 0l8 7M501 681l1-4l-3-3l-10-1M483 665l0-4l-5-4l9-8l6-6l8-1l2-7l4 6l-3 4l3 1M513 666l3-1l4-6M520 655l4-4l-3-6M523 645l4-4M523 627l-8-6M511 625l-6 9l-2 1l-2-2l0-2l8-8l-4-5l-4-13l1-2l3-1l2 5l2 1l6-3l2-3l0-5l4-6l0-2l-2-4l2-2l6 0l0 3l-4 1l6 4l4-2l4 6l-1 2l-3 1l-4-4l-1 3l1 3l6 5l-3 4l0 2l5 3l2 3l0 2l-9 14l3 5l4 1l3 2M545 647l2 6l0 2l-7 8l-9 3l-1 3l5 1l2 5l4 1l4 6l2 0l4-2l4 3l1 2l-5 9l-1 5M547 702l-2 0l-2 1l-8 8l-3-2l-1-4l-11 4M523 712l3 3l-1 4M513 723l-3 0l-5 2l-6-1M507 721l2 0M509 706l4 0l2-1l0-10l-4 0l-2 3l-4 1M483 710l1 5l-3 3M474 723l1 6l-5 6l-2 4l-7 2l-2 1l-1 5l1 6l-2 6l-4 2l-4 0l-2-5M442 749l-3 2l-2 5l-4-1M411 769l-5 2l3 7l2 2l2-1M433 774l2 3l0 5l-6 0l-3-3M419 781l3 4l9 1l4-2l2 1M444 787l3-8l2 0l2 4l0 6l-6 8M431 795l-8-1l-6 7l-6 2M663 593l0 1l1-1M125 592l-4-1l-1-2l5-3l1 3l-1 3M239 601l2-1l4 1M236 601l1 1l2-1M185 600l3 1l1 2l-2 5M667 597l-2-1l-3 5M473 603l-1-2l1 0l0 2M461 609l2-1l3 1l3 4l-1 2l-5 6l-2-2l-2 0l-4 3M572 613l1-2l-2-3l-4 1l-2-2l0-4l-3 0l5 11l2 1l3-2M248 611l1-4l-2-1l-5 5l3 1l3-1M581 611l1-4l-3-1l-2 1l0 4l2 1l2-1M477 641l-8-3l-4-3l-4-1l-5-5l0-2l7-6l10 4l4-1l2 2l2-1l2-6l6-3l7 7l-3 4l0 2l3 4l-1 2l-4 5l-10 0l-4 1M477 621M205 626l-3-1l1-2l4 2l-2 1M175 630l3 1l3 4l2-2l2-4l4 0l2 2l-2 5M179 750l3 1l3 8l0 5l-2 1l4 0l10-4l4 1l2 3M299 633l-2-2l4-1l-2 3M176 637l-2-4M579 657l-6 2l-2-4M567 648l2-2l0-3l-3-6l1-1l4-1l4 3l6 1M580 655l-1 2M594 641l1-5l2 0l4 3M446 655l0-6M343 651l-2 0l-1-2l0-2l1-2l3 2l-1 4M609 665l-1-2l0-4l-1-2M615 654l-3 5l-1 4l-2 2M652 695l-7 1l-2-7l-3-2l-1-4l-2-3l-4 0l-4 4l-2 0l-2-8l-4 3l-2-2l-1-8l-2-4l1-2l8-1l4 5l6-1l4 2l6-1l6 1l1 1l1 8l2 1l8-2l2-7l6-2l2-2M685 702l-5-1l-2-4l-3-3l-4 1M676 705l2 4M289 652l-3-1l3-1l1 1l-1 1M575 679l-10-1M572 667l5-3l5-7M599 663l1 4l-1 2l-5 2l1 5l-20 3M331 660l-2-4l2 0l2 3l-2 1M332 687l1-4l0-8l1-4l-1-4l0-4l10-4l6 2l0 2l-6 6l-2 4l11 16l-1 2M657 665l0-2l0 2M271 669l-4-4l2-2l4 2l0 3l-2 1M607 665l0-1l1 1l-1 0M233 671M381 672l-3 1l0 4M676 675l-1-1l-1 1l1 1l1-1M607 732l-4-1l-8-8M587 725l-3 6l-5 0l-2-4l4-10M584 695l-2-2l0-2l4 0M593 687l-3-4l3-3l2 3l0 4M605 711l2 1l6-2l6 7l2 6l-2 4l-8 2l-4 3M508 689l1-2l-2-2l-2 1l1 3l1 1l1-1M615 693M441 732l4-2l9-1l3-2l1-4M455 719l-8-8l-4-17l-2 1l-1 4l-5 5l-1 3l1 5l6 1l2 4l-10 6l-4 1M555 771l-2 1l-2-3l1-6l-1-1l-10-2M537 761l-1 4l-3 2l-6-2l1-2l7-6M536 753l-4-6l-5-1M531 739l4 0l2-2l3-8l3-1M569 701l2 2l-1 12l-1 2l-8 4M553 727l0 2l10 6l4 8M561 748l-6 2l-4 5l5 4l1 2l-2 10M635 704l-2 0l-1-3l3-2l2 2l-2 3M491 713l-1-2l2-2M381 715l-1-2l-2 0l0 2l3 0M365 722l-2 0l-1-1l1-2l2 0l1 2l-1 1M637 827l0-3l2 3M653 821l6-3l3-5M671 805l2-4M624 749l-1-6l-6-1l-4-3l4-4l6 5l8-1l2 7l3 3l3 6l-2 1l-2 3l0 4l2 3l2 1l4-2l2-4M680 763l1-2l5-2l-1-3M243 723l-3 0l-1-2l2-2l2 1l0 3M253 732l-4 0l-1-5M251 725l4 4l-2 3M375 749l-4-1l-4-3l-4-1l-6-5l6-4l-1-6l7 0l4 1M251 742l-2 0l-4-2l-4 0l-2-1l2-4l8-2l3 4l-1 5M191 739M593 747l-4 1l-2-3l2-2l2 0l2 2l0 2M261 755l-4-4l0-2l4-3l6 3l1 2l-7 4M395 750l-4-1l-1-2M367 765l-4-1M361 756l6 5l1 2l-1 2M511 757l0-1l0 1M443 770l-1-5l3-1l0 3l-2 3M513 774l-2-1l-1-2l4 0l-1 3M562 779l4-4l1-2l2 1M593 789l3 2l1 2l-3 4M445 777l-2-2l2-2l1 2l-1 2M473 785l-4-2l6-2l0 3l-2 1M499 795l-2-2l1-4l9-4l4 0l1 2l-3 4l-4-1l-6 5M471 793l-2 2l-2-1l-4-3l0-2l4-4l4 6l0 2M516 845l-1-2l1-4l-3-8M497 815l-1-6l-5-2l0-2l6-10l2 0l3 6l1 7l4 1l1-4l3-3M517 793l3-4l3 0l4 6M539 805l4 1l4 8l4 1l4-3l5 3l1 4l-3 12l-4 6l-3 1l-10-5l-2 0M689 812l-12 8M615 799M623 804l6-4l1 5l-1 4M531 805M643 812l-2-6M677 813l0-2l-4-5l-1 3l3 4l2 0M379 819l4-2M393 815l-2 2l8 6M403 829l1 4l3 3l1 3M579 811M632 817l1-3l2 0l3 5l-1 3M531 823l0-3l0 3M643 821M425 841l1-2M425 832l8-2l1 1l0 2M433 837l3 4M433 846l-4 1l2 3M450 861l3-2l3-4l3-1l12 3M487 858l4 1M494 857l-4-6l-5-2l-2-5l-4-1l-2 1l-6 6l-2 0l-7-7l-1-2l3-2l0-8l5-8l12-2l8 4l4-3M503 828l2 1l3 4l-5 8l2 8l4 3l6 0M519 855l-2 4M423 830l0-2l0 2M480 831l-1-3l-3 1l3 3l1-1M455 842l-2 0l-2-3l0-5l2-2l5 3l-1 6l-2 1M549 849l-2-2l2-3l2 3l-2 2M640 889l7 1l1 1l-2 4l4 4M287 249l-6 0l-1-2l1-4l0-2l-4-4l-2 1l-4 4l-3-1l-1-3l-6 4l-1-1l0-6l-2-4l-8-4l-1-2l2-2M257 221l4 0l4-2M291 219l3 8l-4 6l-1 2l6 4l3 6l-1 1l-6 1l-4 2M191 218l-2 1l-2-2l2-2l2 3M447 223l-3-2l0-2l3-1M113 231l-4-1l-6 0M107 224l6-4l4 1l0 6l-4 4M173 228l-2-1l2-4l4 2l-4 3M485 239l-2 0l-6 3M397 229l0-2l1 0l-1 2M433 239l-1-2l2-6l3-2l4 2l2 2l-4 6l-6 0M192 239l1-3l14-4l3 3l1 4l-6 6M301 242l-1-3M302 239l-1 3M443 265l-4-1M437 259l-2-4l3-4l-3-8l2-4l2 1l7 9l3 10l-4 1l-2 5M119 258l-18-2l-3-3l1-6l14 0l2 2l0 3l4 1l2 2l-2 3M115 248l-1-1l1 0l0 1M331 310l-2-1l-4-10l-2-1l-2 1l-6 6l-2-1l-2-4l0-5l4-6l-2-12l4-4l-1-4l2-4l-1-4l-4-2M321 256l6 2l6-4l2 3M333 265l-2 4l6 10M334 297l-1 10l-2 3M211 253M427 255M385 267l-3-4l-4-2l0-2l1-2l6 1M126 265l3-4l8 0M147 279l-2 2M91 271l-2 0l-2-2l-1-4l3-3l4-1l2 2l-1 4l-3 4M95 269l4-3l1 3l-1 2M449 269l-2 0l0-2l2-1l0 3M451 335l1-4l-3-6l2-3M467 272l3-3l3 0M482 333l1 2l2 0M79 293l2 8M80 309l-3 3l-2 0l-4-5M301 279l-4 1l-3-1M295 274l4 0M304 275l0 2l-3 2M395 299l-2 2l-6-1l-4 1l-2-4l-2-2l-8 2M369 294l6-2l4 2l6-3l2-2l0-2l-4-2l8-5l12-1l12-5l2 1l0 2l-1 4l1 3l-2 0l-7-1l-3-4l-2 0l-1 4l3 4l-1 2l-3 6l-6 4M369 284l-2-1l2-1l2 1l-2 1M511 351l-4-2M355 287l2 0l0 4M148 309l-2-2l1-6l4-1M434 303l1-2l4 0M208 337l-4-4l1-4l-2-4l0-4l-2-2M216 317l0 6l3 6M285 305l4 2l-2 0M85 319l-3-4l2-4l-2-2M86 307l-1 4l1 4l-1 4M357 307l-1 0l1 0M295 322l-2-2l-3 3M264 315l1-6l4-1M287 312l8 2l4 5l0 2M355 310l-1-1l1-1l0 2M359 327l-2-4M355 318l8-5M371 310l6-1l6 4M383 316l-8 5l-4 0M245 319l-4-2l-2-4M257 310l2 3l-2 5l-12 1M119 311l4 1M344 317l5-3l2 3M331 348l-8-2l-8 2l-1-3l1-7l6 0l4 5l2-2l1-6M340 331l1 5l-6-2l-2 1l-3 6l1 7M125 422l-4 0l-2-1l4-2l2-5M117 399l-7-2l-5-7l-2 0M87 391l-4 0l-4-6l-3-2M83 366l2-1l2 4M94 379l-3 1l-4-1l-2 2l4 4l2 0l2-1l2-4l7-3l-1-8l-8-6l-3-4M91 355l-4-5l-7-5l-1-2l2-4l2 1l4 4l2-1l-2-4l7-6M103 328l8-3M407 350l-4 1l-2-2l-3-12M405 328l4-1l4 2l8-1l1 1l-5 6l3 12l-5 1M167 332l-1-1l1-2l1 2l-1 1M343 354l-2 1l-4-2l-2-4l1-2l3-2l2 1l3 5l-1 3M431 358l-3-1l2-4l-2-6l3-1l4 3l-2 7l-2 2M423 352l0-3l0 3M277 351M275 353l1 0l-1 0M248 355l-2 8l2 6M536 371l-3-2M255 365l-2-2l1-4M260 361l-1 2l-4 2M185 379l-2-5M193 369l8 3M399 366l0-2l0 2M412 375l-3 2l-6 0l-2 2l-4-2l-10 1M386 373l2-2l3 0l8 5l1-1l0-8l9 1l4-4M157 380l-4-1M255 395l-8-4l-6 0M243 381l4-2l4 4l2 0l8-8l2-1l4 3l10-5M279 375l-18 9l-1 7l-5 4M353 374l-1-3l3-3M83 377l2-2l0-2M81 378l2-1M467 404l-7-5l-2-6l-3-1M447 391l5-6l1-6M461 372l7 5M474 387l1 2l-2 4M471 396l-4 8M407 385l-2 0l-1-2l5-5M357 391l-2 0l0-2l2-2l0-4l4-3l1 1l1 2l-2 4l-4 4M109 385l-2-2l2 2M344 389l4 0l-3 2M475 401l2 0M487 407l-2-2l2-1l0 3M287 470l-6-3M270 447l-2-10l3-5l4-4l6 1M282 419l1-3l3-1M289 435l-4 3l-2 5l1 4l5 6l3 8l-5 9M517 420l0-3l0 3M289 514l-6 0l-4-7l-3 2l-1 4M269 514l-4-1l-4 0M256 509l3-3l6-1l4-3l3 3l3 0l0-4l-4 0l-1-2M275 496l10-5M288 489l-11-2l4 0l6-4l7-2l-1-2l0-2l6-1l4-5l5 2M315 469l2-2l4 1l3-3M322 457l1-6l2 2M375 443l0 4l2 2l8 1M380 459l-5-7l-6-1M343 482l-10-2l-4 2l-1-1l0-4l-3-1l-2 1l-2 4l2 2l4-2l1 2l-2 4l-12 4l-6 10l-3 1M269 422l2 1l-2 4M450 427l-1-2l2-2l4-1l5 1l1 2l0 2M73 446l1-3M75 438l3-1l2-4l-3-4l-1-2l1-1l10 5l4 6l-2 4l-8 6l-1 6l-3 4M575 518l-2-1l-2-4l-4-1M531 457l-8-2l0-2l6-4M565 447l8 1l2 3l-1 4l2 2M575 471l2 2M579 487l-1 0l-1-6l-8-4M577 489l0-1l1 5M579 511l-4 7M595 441l1-2l-1-1l-4-1M593 433l4 0M600 433l0 10l-1 2M581 443l-4 2l-2-1l-1-3l1-2M581 439l0 4M161 507l-3-4l1-4l-1-2l-6-4l3-5l0-5l5-2l1-2l-4-2l-2 4l-6 5l-6 2l-8-11l-5-2l-1-10M139 455l2 0l2-2l1-8l3-2M155 447l8 2l2 2l2 8l6-1l6 2l2 1l4 6l2 0l1 4l-7 6M177 478l-2-4l-4 2l-4-1l-1-2l3-6l-2-3l-10-3l-8 5l-2-1l2-4l-2-1l-3 1l1 3l2 1l-2 4l2 4l14-3l9 11l-6 12l0 6l1 4l-2 4l-2 0M435 447l-2 0l2-2l1 2l-1 0M566 459l1-3l-8-2M519 469l-1-8l3-4l2 0l4 6l1 2M315 460l1 3l-1 3M451 458l0 3M197 465l0-4l2-1M81 463l3 0l1 6M445 484l-4 0l-1-3l7-6l8-2l2-7M463 469l-4 6l0 4l-6 0l-8 5M481 470l2-2l3 1M507 471M199 514l-4 0l-2-1l-1-4l-6-4l-1-2l1-2l3-3M193 498l3-1l-2-2M197 481l0-2l4-1l4 4l2-3l8-3l1 3l-7 8M201 513l-2 1M503 484l4-1l2 1l2 3l3 0M522 495l1 6M367 507l2-2M375 514l-2 2M81 511l2-4l5-2M93 492l4-1l4 6l10 2l1 2l-1 14l5-2l5-8l4 2l0 4l12 10l2 4l0 5l-4-1l-2 4M201 495l-3 2l3 1M316 517l3-8l-3-6l3 0l2 4l2 1l4-3M330 509l3 3M348 503l3-3l2 3M353 519l-2 2M346 527l-7 6l-6 0M593 505l0-2l2-1M475 551l-4 1l-8-7M462 523l-1-6l8-2l6 4l6 0l2 2l-1 2M473 543l3 6l-1 2M365 587l-2-4l-2-1l-6 2l-4-4l-4 1l-3 4M341 586l-3-7M327 563l0-4l2-2l10 4l3 2l-1 6l2 1l4-1l4 1l4 4l3-1l1-2l-1-4M365 558l2-2M373 556l0-9l-2 0l-4 3l-2 0l-4-7M363 539l4-8l-2-4l3-4M371 521l4 2l2-4M386 541l-1 2l3 2M381 568l4 3M386 577l0 2l1 2l4 2l0 2l-1 6M605 523l-2 0l-2-2l6 0l-2 2M135 525l-1-2l-2 0l1 3l2 0l0-1M263 530l0 2M380 533l-1-2l-2-2l2 5l1-1M128 531l-1-1l-2 1M629 561l-6-5l-8 6l-2-6l-7-1l5-3l2 0l0-5l6-2l3-6l5-1M327 556l-1-3l1-8l4-9l2 0l4 3l1 4l-3 8l-8 5M587 586l-2 0l-2-3l3-6M583 562l-10 4l-4-4l-6-1l-1-4l4-6l-8-4l0-4l1-2l10 1l6 5l2 5l6 0l4-3l2 0l2 3l6 2l4 4l2 0l1 3l-3 2l9 2l1 6l3 2l-3 3l0 3l2 0l2-2l-1-2l1-1l4 7l0 2l-4 2l-10-3l-3-5l0-4l-3-2l-2 4l-4 3l-5 1l-1 7M629 547l-1 2M483 553l-2 0l-1-2l1-2l2 1l0 3M507 572l-3-1l1-4l-3-4l1-6l2 0l2 8l4 2l-4 5M475 574l-6-2l-2 2l-4-1l-10-8l-1-2l3-1l4 2l4-5l6 1l3 3l1 6l4 2l0 2l-2 1M594 563l1-4l-4-2l-1 2l0 4l1 1l3-1M569 603l-2-2l-4-2l-12-15l-4-1M537 584l-1-3M546 561l3-1l1 1l1 2l-2 2M551 570l4 8l11 5M573 591l2 2l0 2l-4 4l-2 4M201 612l-4-5l-1-4l2-6l1-6l-1-2l-5-2M189 581l-2-8M213 586l-8 11l0 6l-4 9M595 616l-6-1l-4 1l-3-1l2-8l-7-8l-2-4l4-2l5 0l3-3l3 3M509 613l3-4l5-4M519 601l2-6l2-3l2 0l1 7l4 6M531 613l5 2M615 605l-4-4l0-4l10-5l2 4l-5 1l-1 7l-2 1M479 596l-1-1l2 0l-1 1M491 604l-3-3l-1-4l2-2l4-1l2 1l1 4l-1 2l-4 3M561 614l-4-7l0-2l2-1l2 2l2 7l-2 1M625 605l-1 0l1-1l0 1M611 606l1 3M465 616l-2 0l0-3M466 613l-1 3M621 634l1-5l-4-6M625 619l4 2l-2 4l0 8M573 621l-2 0l-2-2l1-2l3-1l2 1l0 2l-2 2M477 639l-3-2l1-4l-2 0l-4 2l-3-2M459 629l0-2l4-3l10 4l8 1l5-6l2 4l-2 6l5 2l-2 2l-12 2M107 627l0-4l5 2l0 4M596 639l1 0M524 659l3-6l-1-6M543 656l-4 6l-11 3M537 677l4 1l4 7l4 2l-1 8M545 700l-6 3M395 657l0 1M397 659l6-3l10 5M433 665l0 2l2 2l6-1l4 4M439 693l0 2M433 707l-1 6l1 6l-4 0M498 663l1 4M537 652l-4 1l0 2l2 1l4-1M587 675l-6 2l-8-1M577 670l2 1l3-2l-2-4M589 674l-2 1M259 655l1 2M282 741l0-4l5-2l1-2M291 731l4-1l3-3l0-2l-3-2l-6 0l-1-2l-1-4l7-6l-1-3l-4 0l-2-1l-3-6l3-1M297 680l2-10M309 674l-3 7l1 6l-1 4l-3 1l-4-3M297 693l4 3l4-1l4 2M347 713l4-3l4 1l1 2l0 2l-3 2M317 731l-6-4l-6-2l-2 2l-3 10l0 6M339 669l-3-2l1-2l4-3l2 1l1 2l-5 4M645 685l-2 0l-4-7l-2-1l-8 1l-2-5l-4-3l-2-3M627 669l12 0l6-1l4 2M229 686l5-3l0-2l-2-4l1-3M248 669l5 8l-6 1l-4 6l-6 2l-2 3l-8 4M378 671l-1 2M335 683l2-5l4-1l2 1l3 5M551 685l0-2l0 2M365 705l-4-4M335 711l-6-2l-2-5M341 705l-2 4l-4 2M451 711l-2-2M607 730l-2 0l-4-3M604 713l3 1l4-2l2 1l5 6l1 4l-2 3l-6 1l-4 3M467 735l-2 4l-6-1l-2 5M211 742l-4-3M215 728l4 2l4 5l-2 2l-7 2l-3 3M537 739l4-8M553 731l4 1l4 3l2 6M557 747l-4 1l-4 5l1 4l-1 2M369 743l-6-2l-1-2l4-8l3-1M294 737l-1-3l-2 1l2 3l1-1M249 739l-2-2l2 0l0 2M225 748l-2-1l-1-2l1-2l2 0l1 2l-1 3M630 743l-1 4M631 751l3 2M215 757l6-4l6 0l4-4l3 8M286 791l-3-3l-6 5M273 779l4-5l1-5M306 779l0 4l-3 4l1 2M467 791M551 834l-4-1M547 816l1 1l-3 4l0 2l2 2l2-2l1-6l3-1l4 1M558 821l-2 4l0 4l-5 5M497 806l-3-1l0-2l3-3l2 3l0 2l-2 1M471 847l-2 0l-3-4l1-4l0-6M469 830l6 3l4 3l4 0l1-3l-2-6l-3-2l-1-2l3 0l6 3l4 1M504 833l0 4l-5 6l-2 0l-4-1l-4-4l-6 3l-7-4l-3 0l2 6l-4 4M489 847l-2-1l0-1l3 0l-1 2M494 855l-2-4l2-4l4 0l2 4l3 1M1600 371l1-2l4 1l4-5M1584 355l2 4l7 1M1598 367l-1 3l2 3l1-2M1583 446l1-7l7-4M1605 403l-5-10l-5-2l-3 2M1587 403l-2 3l-2-1l-2-2l-1-6l-1-1l-4 0l-1-1l0-2M1569 385l-2-1M1567 393l-2 2M1531 401l-8 2M1574 435l-3-1l-6 1M1563 433l1-4l-1-6l4-5l2-1l4 5l4-4l6 3l2 0M1589 426l-8 0l-5 3l1 6l3 4M1645 378l1-9l2-6l-3-6M1631 365l11 10l0 2M1591 375l-2-4l-1-6l-5-3l-3 5l2 6l3 2l4 1l2-1M1583 383M1569 407l-4 0l-2-1M1563 403l2 1l6-1l0 2l-2 2M1579 411l-3-2l1-3l2-1l3 4l-3 2M1529 451l-10 1M1439 455l2 0M1567 453l0 2M1437 473l-2-4l-4 1l-2 3l2 1l6-1M1453 482l0-5l-2 0l-2 2M1625 402l1-3l-3-3l-2 0l-2 3M1607 403l-4-10l-6-5l-2 0l-8 2l-4-1l4-3l2-6l10 1l4-6l6-6l4-6l3-2M1667 375l-4 4l-6-3l-3 1M1651 377l-4-6l1-2l5-10l-2 1l-2 0l-2-5M1627 359l-4 3M1629 368l2 0l4 3l4 6l0 7M1579 383l-4 2l-6-4l-4 0M1579 373l0 2l-4 2l2 0l2 3l0 3M1527 379l-2 3M1593 373l-2-6l0-2l2-1l2 7l-2 2M1533 391l-4-4l2-4l4 0l0 6M1629 393l1-4l-3-3l-11 5l3 2l4 0l4 1l2-1M1525 395l1 0l-1 0M1585 398l0-1M1456 469l-3 4l-4 1l-8-3l-2-10l4-4l1-4M1423 469l-4 9l-1-3l-2-2l-4 2l-1 2l2 2l8 6l-6 2M1409 488l-4-10l-4 1M1569 428l-2-1l0-4l3 2l1 2l-2 1M1587 453l-3 2M1581 453l7-8l-1-5l7-3M1427 485l4-8l4-1l4 1l1 2l-3 4l-6 2M1409 517l8-8M1407 517l2 0M1410 543l20-18l4-6l3-8l-2-1l-6 5l-1-10l-1-1l-6 5l-11 20l1 6l-3 8l1 1l1-1M1383 561l15-24l-1-10M1393 528l-10 8l-1-1M1379 537l3 0l-3 12l4-2l-2 14l0 1l2-1M1449 531l2-4l-2-1l-5 5l-1 2M1423 543l-5 6M1439 537M1405 549M1386 577l5-4l4-1l4-5M1403 561l1-8l-1-1l-12 11l-15 18M1414 585l7-8l2-8l-2-1l-4 4l-8 12M1429 575M1332 585l4-4l1-5l-6 5l-1 4l2 0M1343 597l5-8M1343 587l-3 6l-1 4l2 1l2-1M1313 595l7-6l3-4l-4 0l-6 3l-2 7l2 0M1355 615l2-2M1354 609l-3 6l2 2l2-2M1380 655l23-24M1397 626l0-1M1385 626l-2 5l2 2l10-4l-9 16l-7 10l0 1l1-1M1354 639l3-3l6-9M1359 625l-6 8l-1 4l2 2M1340 667l3-8M1335 630l4-2l2-4l-4 2l-4-5l-4 0M1323 615l-7 6l-1 2M1311 647l-4 6M1283 641l10-7l6-11M1295 618l-6 5l-4 6l-5 12l1 1l2-1M1395 629l0-2l2 0l-2 2M1363 661l0-4l-2-1l-4 5M1433 507l-2-9l-6 1l0-2M1441 527l-2 1l-1-1l-1-6l3-12M1448 509l-4 8l3 4l-6 6M1451 519l-3 0l6-10M1457 513l-6 6M1299 631l0-3l4-9M1294 613l-7 5l-1-3M1303 602l4 2l6-2l16-9l6-4l6-12M1399 501l-5 6M1389 515l-1 2M1373 537l-3 6M1344 581l-9 12l-2 4l0 8l-18 10l-8 10l-8 6M1423 538l-1-1l1-1l0 2M1385 567l-2-2l10-17l8-8l5-1l-1 4l-4 8l-16 16M1421 541l-2-2l2-2l1 2l-1 2M1399 581l-1-4l7-14M1410 551l9-12l2 2l-8 11M1413 567l0 6l-6 11M1439 611l-2 0l-2 4M1431 611l2-3l4 3l2-1l13-17M1445 594l-8 6l0-5M1438 559l-7 6l-1-2l2-4M1439 549l4-3l2 0M1455 603l-5 10M1373 550l0-3l0 3M1371 553l-1-2l1-1l1 1l-1 2M1321 579l-4 2l-1-2l2-8l11-6l0 2M1328 571l-7 8M1383 569l-1 0l1-4l2 2l-2 2M1369 575l2 2M1333 638l14-10l13-15M1384 583l3-3l2 1l-3 8M1361 619l-11 14l-5 11l-2 0l0-1l0-7l-4 6M1341 618l-2 1l-6-3l1-9l9-5l7-11M1352 605l-4 8l-7 5M1415 587l4-2l0 4M1389 594M1387 594l2 1l-1 2M1357 649l-2-2l1-2l9-16l2-1l2 4l2 0l10-9M1385 622l-6 11l1 8l-3 6l-4 0l-3-2l-1-9l-8 10l-4 3M1384 661l7-13l11-9l6-8M1416 631l-8 16l-16 16M1279 634l0-2l0 2M1276 637l1-2l1 2l-1 3l-4 5M1269 655l7-2l-3 8M1366 663l3-3l2 1M1257 710l8-4l2 5l12-6l22-18M1297 682l-16 7l-8 2l-7 4l-5 4l-8 10M1321 699l-1 2l1 0M1226 701l1-2l-1-2l-7-1M1251 697l-3 0l3 0M1270 739l-1-2l-4 1M1261 739l-2-2l7-6M1273 721l8-8l-2-1l-14 5M1241 739l4-1l4 5l8-2M1325 721l2-4l-2-1l-6 3M1285 740l-12 4l-1-1l4-8l0-2l-2-2l2-8l10-12l0-2l-3-2l1-2l21-15M1327 684l2-2M1331 678l-6-5l10-9l10-3M1353 663l1 8l-9 7M1317 698l-10 8l-16 9l-4 4l-2 4l4 0l6-3M1307 711l2-3l10-2l10-6M1331 705l-12 5l-3 3l0 4l-15 9M1371 691l-2 0l-7-2l8-8M1335 662l-4 0M1341 658l-6 4M1227 705l5-6l1-6l-2-2l-8 0l6-8M1243 691l0 2l-6 9l-6 4M1293 681l-4 1l-2-1M1317 671l-6 5l-11 3M1295 681l-2 0M1263 691l-4 0M1273 684l-4 4l-6 3M1355 682l-2-1l1-2l3-2l2 0l-4 5M1287 683l-1 0l1-2l1 2l-1 0" stroke="#E5F017" stroke-width="1.9"/><path d="M375 241l3-2l-4-10l1-6l-8-18M371 240l2 1l2 0M158 215l1-2l-2-3M145 215l8-1l5 1M244 247l-3-8l1-4l3-2M217 216l-8-5l0-2l2-2M201 209l-5 6l3 6l-3 4l1 3l4-1M201 227l2-2l2 0l4 3M209 228l4 0l4-5l3-2M220 231l-1 4l2 4M227 237l7 4l1 4M237 247l3-2l2 4M324 249l2-2l3-1M332 241l1-2M327 238l-4-2l-1-3l1-2M329 217l-1-4M308 205l2 6l-5 4l-1 4l5 1l1 1M430 227l3-4l2-4M420 219l-1 6l1 2l7 1M125 217l2 4l-2 5l2 1M90 235l0 6l-3 2l2 1l6-1M163 243l4-6l0-2l-3-6l3-6l-6-1M161 222l0 5l-4 4M159 245l4-2M181 233l2 0M319 231l-2 0l-2-2l2-1M317 228l2 3M124 243l3-2l0-5l-2-2l-6-3l-2 2M117 233l-3 6l7 6l3-2M251 243l2-1l2-5l-2-3M253 234l-4 0l-4 3l1 2M246 239l3 4l2 0M310 239l-1-2l-1 2l2 0M409 269l7-4l-1-2l0-6l-2-6M405 236l-5 5l-1 5l-2-1l-4-3l-8 1M112 239l-1 0l1 0M175 249l-2 2l-8-2l-2 3l-4 2l-10 2M135 247l-4-3l-1 3l6 8M136 255l3 1M89 255l2-1l0-3l-4-3l-2 3M85 251l4 4M375 249M471 259l0-8l0-2M467 249l0 2l1 6M369 253l4-2l-2-1M365 277l8-3l3-3l-7-8l0-3l-2-1M367 259l-2 2l2 4l-3 4l-2 6l1 2M363 277l2 0M307 270l2 0l1-1M265 275l0-6l-4-3M261 275l4 1l0-1M105 271l0-2l0 2M341 275l4 4l1-2M142 309l1-4l-1-8l-4 0l-1-2M91 276l-6-2l-3 1M84 289l3 1l4-1l2 1l-3 3l1 4M91 297l2 4l4 4l6-1M103 304l6 2l1-1l1-9M111 290l2 1l2 6l2 2l2 0M119 299l1-4l3 0l2 4M125 299l-4 4l2 4l16 3l3-1M248 293l5-2M446 283l0-4l-2-4l-3-3M441 272l-4-2l0 9l-4 6l-1 8l3 2M435 295l2 0M383 272l-2 0l-1 1l3 1M285 301l4-5M157 291l-5-4l-1 0l-1 2M150 289l1 5l6 1M303 299l2-2M299 295l-5 2l-1 2l4 2l6-2M428 305l1-2l-1-2l-3-1l-3 3M422 303l0 4M405 321l4-2l0-6l-4-8l-4-1M401 304l-4 9l4 7l4 1M99 323l2-2l-1-2l-5-3l-1-7l-3-1M91 308l-2 3l3 6l1 8M172 359l0-6l5-4l-2-4M187 337l2-3l8-1l0-6l-4-7l-2 0M161 333l-1-4l1-3l8-1M180 321l0-2M173 313l-4 0l-3-2M158 349l0 2l-2 4l7 0M163 355l3 2l1 2M325 316l-2-3l-6-2l-6 3l-4-3l-2 2M305 313l0 2l4 2l-3 6M312 331l5 0l2 2M337 319l2-2l1-4l-1-1M236 329l0-6l-1-3l-11-3l2 6M226 323l9 7l1-1M432 337l3-1l8 1l4-5l0-3l-6-10M87 331l1-4l-3-1M83 333l4-2M107 321l-3 0l3 0M381 324l-6 1M273 369l1-10l-5-4l0-4l10-7M249 349l18 8l2 14l4-2M309 367l6-1l6-3l2-4M326 355l-3-2l-6 3l-6 0M282 351l0 4l5 6l2 0l4-5M363 345l-2-2l-5 2l-6 6l-4 8l-3 2M343 361l-2 0l-4-2l-3 0M334 359l-1 4l2 4l-2 6M333 373l1 4l-1 3l-6 1l2 3M396 351l-1-4l-2 0l0 2M462 351l-1-2l0 2l1 0M63 408l0 3M96 419l3-2l2-6l2-1l2 1l6 6M115 405l-2-3l-6-1M89 407l-4-4l-2-6l-2-2M81 395l-8-8l-2-1l-2 1M134 361l-4 4l1 7M204 365l1 2M458 367l-1-6l-1-2l-5 0l-4-1M447 358l-10 6l-1 3M491 365l-2-2l-4-1M478 365l2 8M321 381l1-4l-1-2l-4-2M317 373l-2 2M535 381l-2 0l-1 2l0 10M528 393l-1-6l-6-3l-6 2l-1 1l-1 12M513 399l2 2l3-2M441 383l-2 0l2 0M499 383l-2 2l0 8l-4 10M277 393l3-4l-1-3l-8-1M271 385l-1 2l1 6l4 1M275 394l2-1M402 401l-2-8l-5-2l-8-6M369 399l-4-1l-4 2M267 398l-4-3l-10 5M442 403l3-6l-2-2l-6 0M437 395l-2 2l4 4M459 412l-2-2l-2-3l-3 0M275 417l-2-4l-2 1l-1 3M270 417l3 1l2-1M479 451l-1-4l4-6l-1-6l4-2l4 1M489 434l7 5l6 2l1 2l-1 4l1 6M514 457l0-6l1-1l7-3l2-2M519 437l-2-1l-4 2l-6-3M507 435l-6 2l-2-1l-4-3l0-2M495 431l2-6l2-1M497 421l-2 2l-8-4l-6 0l-3 4l0 8M478 431l-1 2l-8-2l-2 2l-1 4l3 2M469 439l0 2l-2 1M264 449l0-4l1-4l-4-9M238 453l-1 3l-5 3l1 2M255 448l0 5l4 0l2 2M245 471l2 8l4 2M177 451l-1-16M172 427l-3 4l-6 1l-6 3l-2-2l1-4M149 430l-2 0l-4-4M173 451l4 0M100 427l-2 0l2 0M504 431l1-4l-4 2l1 2M502 431l2 0M519 429l-2 0l2 0M116 491l9-5l4 0l4 3l1-2M126 467l-1-3M115 444l-2 2l-2 3l-6 2l-2-2l1-8M104 441l7-4l0-2l-8-3l-3 3l1 4M101 439l-7 6M91 453l-1 8l3 3l8-5M102 479l0 2l3 6l6 6l5-2M427 448l-2 1l-2-2M314 453l-1-2M291 447l2 7l2 1l10-2M192 455l2-2l-1-1l-2-1l-2 1M189 452l0 4l2 0l1-1M499 459l2 3l2-1M211 465l2 3l2 1l2-2M305 465l0-2l-3 0l1 2l2 0M597 497l4-3l4-1l1-2M585 491l0 4l2 3l6 0l4-1M247 491l-2-4l1-6l-5-1M235 469l-2-2M225 476l-2 0l-2 3l1 4M117 470l-4-1l4-1l0 2M192 479l-3-2l-1 2M365 479M75 513l0-2M454 523l0-4l-5 0l-1-10M448 509l1-1l4 0l8 3l4-2M447 491l-14-6l-7 2M174 511l2-6l-2-2l1-4M175 499l-1-4l0-6l-1-2l-2 1l-1 3M170 491l3 12l-6 6M159 516l-1-1l-1-3l-4 2l-2-1M151 513l-2-2l-1-6l-5-6l-1-6M142 493l-5-1l0 5l-2 3M135 500l1 3l7 0l-3 6M140 509l-4 4l1 2l12 1M149 516l3 3M147 527l-1 2M343 497l4 0l4-4l4-2M355 491l2 2l0 8l2 2M359 503l4-1M351 487l-8 3l-4-4l-4 1l-2 6l-2 1M331 494l-4 0l0 1l4 2M81 500l2 1l0-2M249 497l-3 0M483 510l1-1M431 507l4-1l4 3l0 2l-6 2M628 517l0-4M624 511l-4 4l2 2l3 1M199 529l1-2l-1-3l-6-2l-4-6M193 526l6 3M588 519l-1-2l-4 2l5 0M271 525l-1 4l3 0M316 541l3 1l1-1l-1-4l-2-1M289 520l-1 1l2 4l-1 2l-4 2l-6-2M279 527l-2 2l2 2l4 12M559 531l0-6l-4-2l-2 2l-4 1l-6-4M543 522l-10 0l-1 1l1 2M496 527l-7-6l-2 1l-1 3l3 4l0 6M357 561l4-6l0-2M358 529l0-4l-3-1l-4 5l-3 2M348 531l-2 2l1 2M576 533l2-2l-1-7l-4 1l-4 4M617 539l1-2l-1-3l-10-5M607 529l-2 2l2 7l10 1M601 549l2-4l-2-1l-1 3l1 2M509 553l2 0M396 581l-2 8l0 2M351 621l14-2l1-2l-1-12M335 586l-5-5M321 563l-1-2l-3-1M325 607l2-1l3 3M343 609l3 4l0 2l-4 4l1 2M471 584l-4 1M462 579l-9-9l-8-2M578 579l2-2M580 573l-2-2l-3-1l-4 3l2 5M573 578l2 2l3-1M504 599l9-3l4-5l-4-13l-6 2M507 580l-7 7l-1 8l2 3M190 595l3-4l-4-3M442 597l1 2M221 591l-6 0l0 4l2 3M217 598l8 7M543 599l4-4l-2-5M208 611l1 4M213 619l2 4l-1 4M215 631l-4 2M203 630l-5-3l2-6l-1-2M199 619l-2-1M184 621l10 8M226 607l1 2M454 635l-4-10M427 630l-2 1l-4-3l-6-1l-2-6M398 621l1 6l4-3l2 2l0 7M405 633l-3 2l-3 0l-1-2l2-2M400 631l-1-4l-4 4l0 4M385 641l1 2l3 2M417 645l4-5l4-2l2 1M484 613l2-2l-5-5M481 614l3-1M500 615l0-2l-3-6l-2 0l-2 2M493 609l0 2l6 5l1-1M127 613l-10 6l2 8M123 637l5 2M538 635l4 4M109 615l1-2M592 637l3-4l8 1l2-6l3-3M608 625l-1-2l-3-2l-3-4l-3 4l-3 1M595 622l-6-3l-8 1l-6 7l3 4M138 629l-3-2l0-4l2-4M137 619l2 2M131 635M411 639l-5-4l5-1l2 3M323 647l8 3l3-1M348 653l1 2l5 4l1 4l-1 2l-6 4M348 669l0 6l3 4l4 0M547 660l-8 7l0 2l4 3M543 672l6 0M319 697l1-4l-4-4l0-2M316 687l4-4l1-6l2 0l0-2l-4 3M312 687l1 6l4 4l2 1l0-1M327 687l3-4l-1-2l-2 0M327 681l-3 2l0 2l1 2M325 687l2 0M237 717l6-4l4 3l2 0M249 716l3-5l4-2l0-4l-2-6l1-1M253 697l-7-4l-2-4l-3-1M241 688l-5 5l0 6l-3 3M399 694l-4-3l-4-1l-3 5M623 693l-2-3l-1 3l1 2M621 695l2-2M565 695l-2-1l-1 1l1 2l2-2M276 717l-2-6l2-2l-1-1M261 715l2 9M627 715l1-4l-1-1l-2 1l0 2l2 2M577 715M462 747l0 2M459 761l0 2l3 2M617 745l-14-5l-2-5l-4-2l-2 2M585 752l-2-3l0-8l-4-2l-4-8l-1-4M574 727l1-9l-2 3l-4-1M569 720l-4 2l-4 5l9 14l1 4M563 753l-4 0l-2 2l3 4l1 6M443 721l-5 4M232 735l1-2l6-4l-4-2M229 727l-3 2l0 2l3 5l2 0l1-1M588 739l1-2l-1-2l-4 2M584 737l0 2l4 0M310 745l4-2l0-4l-1-1l-6 0M307 738l-1 5M184 745l-1-4l-2 2M181 747l3-2M207 761l0-4l-3-4l1-6l-1-2l-5 2M199 758l8 3M252 749l0-2l-7-2l2 2l5 2M218 749l-1-3l-2 3l0 2M215 751l2 0l1-2M521 761l2 1l3-1M371 755l2-2l-2-2l-3 2M368 753l-1 2l2 1l2-1M374 757l-1 0M488 771l1-5M263 767l0-4l-2-2l-4 4l2 2l4 0M516 765l-7-2M507 765l4 2l5-2M580 817l-8-2l-1-4l3-4M535 773l-4 0l-4-3l-2 1l-5 8M361 776l-2 1M456 783l0 2l1 4l3-2M445 834l-1-7M451 822l7 3M471 803l4 1l2 0M485 791l-1 4l-1 1l-8-2M475 794l-4 5l-2 0l-11-8l-1-2l-5 6M452 795l2 10l-1 4l-2 3M429 801l-4 6l-4-4l-2 0M413 806l-4 0M439 829l0 5M282 803l1-2l-2-1l-5 1M276 801l2 2l4 0M411 818l-2-1l1-2l2 2l-1 1M413 836l0-3l-2-1l-1 3M545 842l-2-2M91 207l-2-4l2-4M85 202l2 1l2 4l2 0M373 265l0-4l3-8l5 0l3-2M394 249l3 3M401 257l4 4l0 6l2 3l4 1l2-2M413 269l6 0l2-2l-3-6M423 259l-2-3l-2 0l-3-5M416 251l0-2l2-2l-3-6l0-3M425 230l2 3l2 0l2-4l4-4l3-10M438 215l3-4l10 2l4 3l8-3M463 213l8-2l4 4l6-3l7 1M442 205l-2 4l-7 3l-10-3l-6 4l-4 5M413 218l-4 0l-1 1l3 12l-1 2l-7 1M403 234l-4 5l-2 0l-2-4M386 233l3-4l0-2l-6-6l-4-1l-2-4M377 216l-4-2l-3-7l1-2M379 211l0 2l4 1l4 4M393 213l9-4M303 195l-1 2l4 4l1 8l-1 2M306 211l-5 4l-1 10l1 2l2 0M310 233l-3 3l-1 3l2 4l1 5M309 248l4-4l4-1l3 2M333 221l-5-12M325 207l-8-5l-1-3M340 201l-2 8l1 4M367 238l8 7l-6 2l-3 0M366 247l-5-3l-3 1M362 255l1 12l-6 8l1 4l5 1M363 280l14-6l3 3l-1 2l3 0M77 339l2-5l8 0l14-10l8-1l1-2M110 321l-1-3l-6 0l-4-3M99 315l-1-6l3-3l3 1M118 303l3 5l12 2l12 4l-1-7l1-10M145 297l2-1l10 2l8 0l6 7M171 305l2 0l1-2M183 282l-8-5l2-6l6-2M189 267l6-4l8 3l4-2l1-5l-3-3M205 256l-2-1M193 249l-6-6l1-4l-3-13l-6 3l-2 2M182 237l-7 4l-4 6l-3-6M168 241l1-6l-3-6l5-9l5-5l1-6M177 209l12 0l6-4M205 199l-4 4l-3 2l-1 4M197 209l-3 4l3 8l-3 6M194 227l1 2l2 1l8-2M205 228l10 5l3 8l0 4l3 4l-1 6M220 255l1 1M227 305l5 0l0 4l-3 5l-7 1M222 315l0 4l7 9l8 6M237 334l3-11l-4-12l1-2l8-4l5 2M250 307l-1-6l7-8l-1-6M255 287l2-2l1 0l1 6l3 4l1 1M263 296l6-1l3 4l0 4l2 2M274 305l3 0l12-4l4 1M293 302l3 3l4 6l1 5l4 3l-2 8M307 329l4 3l8 3l5 0l1-2M337 299l1 8l-3 6l-6 3l-4-5M325 311l-8-2l-6-1l-2-2l-2 1M307 307l-2-4l2-10l-3-6M304 287l-5-3l-1 1l2 4M300 289l0 2l-5 3l-2-1l1-4M294 289l-2-6l-1-2l-4-2M287 279l-8 2l-1 4l-6 2M272 287l-1 2l0 3l-2 0M269 292l-4-5l3-2l2-4l-1-8l-3-6M266 267l-2-2l-9-1M254 273l1 2l-2 1l-4-1l-5 2M242 269l2-4M248 247l3-2l4 0l2-10l-2-2l-8-3M247 230l-2-5l4-5l10-3l3-2l1-6M263 209l-2-5M215 213l-2-2l0-2l5-8M121 205l-8-1l-2 1l-2 13l12-2l3 5M133 256l8 3l2 4l2 1M145 264l2-3l2-1l6 3l2 2M157 265l1 4l-2 8l1 6M147 291l-4 1l-3-1l-5-8l-8 0l-2-2M125 281l0-2M109 266l5-3l0-2l-3-1l-4 1l-2 2M105 263l-2 6l0 6l-2 1l-10-1l-8-3M83 272l-3 3M90 323l-1 1l-8-1l-2-4M79 319l-2-1l-6-1l-2 2l1 2l2 2M72 323l-1 6l6 4l-5 4l1 2M73 339l2 2l2-2M311 188l-2 1l-2-2M55 242l2-3M74 271l1-8l8-2l1-6M84 255l5 3l4-1l0-6M93 251l-3-4l7-4l2-4l-1-4M98 235l-3-4M89 222l-6 1l-5-4l-5-1l-4 3l-10 2M59 223l-4 5M161 202l-2 1l-3-2M163 200l-2 2M425 203l1-4l-1-3l-2-1l-3 2M420 201l3 3l2-1M159 207l0-1l1 1l-1 0M70 211l0-2l-3-1l-2 3l2 2l2 0M69 213l1-2M167 220l-4-1l-3-10l1-1l3 1M164 209l4 6l1 2l-2 3M135 228l4-3l4 1l3-1l1-6M147 219l2-1l4-1l4 1l2 1M478 223l-1-3l-2 1l1 2l2 0M491 225l-1 2l1 1M219 228l-2-1l2-2l1 2l-1 1M379 227l-1-2l1-1l0 3M469 231l4-4l-2-3l-2 0M469 224l-4 5l0 2l4 0M444 227l-1-1l-1 1l2 0M351 237l2-2M351 231l-2 2l0 2l2 2M445 243l3 0M565 364l4-1l0-5M577 357l2 1l1-1M583 359l2 5l3 1M562 357l-2 4l-7 2l-3 4M231 243l-2-2l0-1l3 1l-1 2M425 249l4-6l-2-2l-2 0M461 253l-1-10M275 247l0-2l-5 2l3 1M125 248l-1-1l1-1l0 2M476 265l3-4l4-2l-1-2l-1-1l-4 0M464 253l2 8l7 5l3-1M305 251l0 2l2 6l1-2M352 259l2-2M491 253l-8-3l-2 1l0 2l6 2M282 269l7-4l1-4l-5-7l-8-3l-2 2M275 253l-1 4l1 2l4 3M279 262l4 1l-3 4l0 2l2 0M455 257l1-2l-1-1l-2 1l2 2M309 273l2-2l1-4l-7-7M305 260l-4 3l0 2l6 8M307 273l2 0M345 263l1-2l-5-1l-1 1l3 4l2-2M443 315l-9 0M429 311l-2 0l0-2l4-6M441 298l4-3M449 285l0-4l2-3M445 273l-4-4l-8-4l0-4l-2-2l-4 3M427 262l-4 1l-1 2l0 6M422 271l1 2l2 1l0-4l-2-1M417 307l8 6l1 2M462 265l-2-4l-3-1l-3 5l1 2l6 0M162 265l1-3l4 2l4-1M171 263l2 2l-1 2l-2 2l1 10l-6 3M181 267l0-4l2-1M300 269l-1-2l-4 0l2 4l3-2M348 281l4-8l-1-3l-2-2l-4-1l-2-2M344 281l1 1l3-1M426 285l0-6l-3-2l-1 2M263 282l-2 1l0-4l2 3M409 299l0-2l-2-1l0 2l2 1M373 300l-2 1l0 4l4 0M382 339l5-10l12-5l10-2M409 322l2-1l1-2l-1-4l2-5M396 311l1 6l-2 1l-4 2M391 320l-9-1l-3 4l-6 2l-2 2M371 327l-1 2l2 4l4 6M376 339l3 1l3-1M459 304l-6 0l-2 5l4 5l2 0M457 314l3-1M154 393l-3-4l-3-12l-3-4l0-8M169 367l2 0l3-2l1-6l3 0l1 2M181 346l2 3l1 4l1 0l4 0M189 353l2-2l6 1l6-1l1-2l-6-8M198 341l4-4l-2-4l-2-8M177 312l-7-1l-2-4l-3-2l-2 1l-4 10M159 316l-8 2l-2 6l-4 1M145 325l-1 2l7 6l-2 8M149 341l-2 2M143 348l-4 3l-2 5l-9 9l1 12l2 4M134 383l3 0l4-2l2 4l-1 4l3 5M145 394l6 0l2 1l1-2M446 311l-2 0l1 1l1-1M65 427l5 0l3-4l6-2l2-2M81 419l4 6l6-1l8-4l4-8M103 412l2 1l3 6l1 5M109 424l2 1l2-2l1-6M114 417l5-2l1-2l-5-12l-9-2M86 401l-3-6l-10-10l-4-2l-3-4M262 321l-2 0l2 0M335 401l2-1l1-3l-1-3M335 388l6-1l3-2l-3-4l2-10l10-6M353 365l1-4l6-8l5-3l0 5l-3 8M376 345l-2-4l-7-1l-10 2M345 328l-2 1l3 8l0 8M349 343l2-1l2 1l0 2l-10 14M343 359l-2 0l-4-2l-6-1M331 356l-6-5l-6 1l-4 3M315 355l-4 0l-2-2l1-6l-2-2l1-1M309 344l0-4l-2 0l0 4M307 344l-2 1l-2 0l-4-4l-6 0l-4 1M287 345l-2 1l-2-1M275 326l-6-3l-14 8l-2-4l1-4M254 323l-2 0l-3 6l2 6l-7 6l-2 4M242 345l2 4l9 3l12 6l1 13l3 2M269 373l5-4l2-10l-1-2M275 357l-4-2l0-4l6-4l4-1l2 1M289 363l6-6l2 0l1 2M298 359l-2 4M293 374l-1 5l-1 1l-4 0M306 375l-2-6l7 0l3 2l-3 8l-2 1M309 385l4-2M181 324l1 1l-1 2l-2 2M135 327l-2-1l-1 1l1 2l2-2M169 337l-4-2l-2-2l-1-4l1-1l6-1M169 327l2 2l-2 8M533 329l-2 0l1 2M302 337l-1-3l-2-1l-2 2M297 335l2 3l3-1M495 338l2-1M393 367l1-2l-2-4l1-2l6-4l-1-6M398 349l-3-10l-2 0l-2 4l0 12l-5 2M386 357l-4 6l5 4l6 0M235 346l3-1l1-2l-4 1M297 345l2 2l-2 2M463 353l1-4l-1-3l-4 3l0 2M459 351l2 3l2-1M239 353l0-2l-2 2l2 0M80 363l3-2l2-4l-2-4M83 353l-4-2l-2 0l-2 2l-2 6l2 4M75 363l2 1l3-1M217 385l6-2l2-6l3-4l-1-4M227 369l-2-2l-2 0l-4 3l-2-1l-1-2M216 367l1-2l6-3l4-5M227 357l-4-3l-12 5l-2 0l-4-5M200 365l15 10l2 4l-2 6l2 0M405 363l1-4l0-4l-5 0M444 387l5-5l3-7l7-8l-1-8M437 388l4 1l3-2M534 405l-1-4l4-1M542 389l-5-11l-6-2l-6 0M525 376l-1 1l0 2l4 4l-3 1M517 360l-16-4l-2 1M502 379l-5 1M493 370l0-5l-2-2l-6-3l-4 0M481 360l-5 5l3 12l6 5l4 1M497 409l6 4l5-8l0-4l1-2M509 399l4 10l1 2l3 0l2-1l0-2M519 408l-4-1l-1-2l7-6M521 399l2 0l6 4l1 2M530 405l-1 6M110 361l-1 2l2 3l2 1M113 367l2-2M331 377l-6 1l-4-6l-4-1l-1-2l1-2M317 367l12-3l2 3l0 10M472 373l2-2l-1-4l-2-2l-2 6M469 371l2 2l1 0M238 373l-1-4l-3 0l-1 2M233 371l2 3l2 0l1-1M367 373l-3 0l1 1l2-1M171 385l1-4l-2-2l-4 0M166 379l-1 2l2 4l-2 4M565 381l-2 0l2 0M249 521l-1-10l4-4l-1-4M265 486l-2-1l0-2l2-4l1-6l-5-8M261 465l0-2l4-5l3 1l5 6l0 2M273 467l-4 6l5 4l3 4l2 1l2-1M281 481l1-10l-10-10M271 455l-4-8l0-6l-2-6l2-4M267 431l-4-2l-4 1l-3-1l1-7M275 420l2-1l0-10l3-4M280 405l-6-8l5-4l3-6l-5-5M277 382l-9 3l-1 7l-12 6l-8-1M223 399l6 3l0 3M227 425l2 5l5 3l-2 8l2 2M237 447l0 2l-1 2l-9 8l2 6l-5 4M224 469l1 4l-5 4l-1 4l2 3l6 3M227 487l2 6l1 6M241 499l2 0l6 4l-3 8l-3 2M244 533l9 6M449 467l-2-2l-8 1l-3-9l1-4l-7-4M430 449l-1-4l0-2l2-1l8-1M439 441l1-2l-3-6l6-10l1-4M444 419l-3-8l0-2l7-8M448 401l-1-6l-4-3l-8 1l-4 6l-2 0M409 394l-2-1l-3 2l3 3l2 0M409 403l-2 0l-4-3l-1-3l1-4l-4-4M399 389l-6-2l-2-5l-4 0l-6 2M373 384l-3 1l0 2l3 1M373 399l-8-3l-8 2l-1 5l7 4l-1 4M381 435l5 10l9 0l2-2M401 434l5-3l2-2l-1-4l-2-2M405 420l8 0l2 2l4 1M431 436l-2 7l-4 0l-14-7l-4 0l-2 7M405 443l4 4l-1 4l-5 4l-4-2l-2 0M397 453l-2 4l0 2l3 6l-1 8M397 473l-2 4l2 3l2 1M509 396l-3-9l0-4l3-2l4 2M513 383l-2 10l-2 3M603 390l-10 3l-4-2M568 433l5 4l6-4l4 1M583 434l3-11M605 414l2 0M614 439l3 5l2 2l4 0M297 391l1-2l-3-2l0 2l2 2M482 395l3-2l-2-3l-2 0M481 390l-4 3l0 2l2 1l3-1M311 405l-4-2l-4-6l-6-2l-7 8l0 2M290 405l4 4l13 6M163 402l-4-1l-8 3l0 3l2 1M153 408l4-1M456 641l-2-2l2-4l0-2M456 633l-2-2l-2-10M444 605l5-4M459 602l4 1l6-3l3-3l5-10M477 587l-4-4l-6 1l-3-1l0-6M464 577l-14-10l-2-4l0-4l-1-2l-1 0M446 557l-4 2l1 4l-2 2M441 565l-4-1l-2 1l0 2l0 10l4 2M439 579l4 4l-3 6l-6 4l-1 2M433 595l2 2l4 0l2 5l3 1M433 598l-4 1l-1 2l5 4M417 625l-4-6l-6-2l-1-2M416 573l-1-4l-5-6l0-2l3-2l10 0M458 531l1-4l-3-4l1-4l-1-4l-4-2M452 513l-2-2l3-1l4 2l4 1M461 513l8-5l2 0l2 4l2 1M485 499l-2 0M476 481l4-14l5-2l1-6l0-2M485 435l4 1l11 7l1 10l-5 4M496 457l-1 2l1 2l5 3M515 463l-1-2l2-4l0-6l11-4l-1-4M526 443l1-1l10 0l2-1l-1-4M527 424l-4-7l-2 2l1 6l-8 2l0 2M514 429l2 4l-3 2l-5-2M508 433l0-2l1-10l-2-7l-4-1l-8 7M467 411l0-2l-4-1l-4 1l-2-5M457 404l-6 0l-2 1l1 10l-1 3l2 1M451 419l4-2l8 3l3 7M466 427l0 4l-5 9M456 459l5 1l4-3l4 2l-1 4M468 463l3 6l-1 2l-7 4l0 7l-2 1M439 486l-6-3l-7 2l-5 5M397 557l-4 2l-4 4l-5 2l7 14M391 579l4 2l-3 8l2 6l3 4M396 605l0 2l-2 4M381 636l-2 3l7 6l9 3l10 2M405 650l6 5l12-12l4 3l8 2l4 7M477 413l1-4l-1 0l-2 2l2 2M57 410l1 1l-1 1M593 421l2 4l4-2M179 455l2-4l-3-14l1-1l2 0l4 2M185 438l2-1l1-4l-1-3l-4-1M163 431l-4-1l-6-8l-6 4l-6-2l-6 3M135 427l-8 2l6 8l8 3l10 0l10 3M161 443l6 4l4 5l8 3M165 549l0-4M172 531l7 4l2 0M189 513l-2-1l-3 3l0 4l3 5M187 524l-8-1l-2-2l-2-4l2-3l5-1M182 513l-1-2l-4 0l2-6l-2-4M177 501l-1-14l-3-2l-4 3l-1 3M168 491l2 10l-6 10l-3 1l-4-3l-4 2M129 482l-3-3l-1-4l2-8l-4-8l0-4M121 446l-4-4l-2 0l-8 6M107 448l-1-5l9-6l0-4l-2-1l-4-1M97 439l-2 0l-6 8l-2 14l4 15l2 0M93 476l2-1l-1-4l1-1l2-2M97 468l4 1l1 6l-4 2l0 2M98 479l11 15l8 0l8-6l4 1M129 489l2 2l2 4l0 8M133 503l-3 8l11 8l2 6l0 6l-5 6M138 537l1 4M317 457l1-2l-1-4l-9-8l1-8l-2-4M307 431l-2-1l-2 2l-4-1M299 431l-3 4l-7 6l-1 4l5 11M293 456l12-1l12 2M331 447l2-1l1-3M322 435l0 6l5 6l2 1l2-1M597 499l6-4l6 2l1-2M610 495l-3-6l-1-8l3-2l9-4l0-2M618 473l-1-8l-2-3l-2-1M593 449l-3-2l0-4l-3-2M587 441l-1 2l2 4l-1 3l-2-3M585 447l-6 0l-1 2l3 4l0 7M592 483l-3 4l-6 2l-1 4M582 493l0 4l5 4l10-2M305 444l-2 1l0-3l3 1l-1 1M192 463l2-6l8-4l-1-2l-4 0l-4-4M193 447l-2 0l-5 6l-1 6M185 459l4 4l3 0M231 449M252 449l-2 6l1 4M217 471l2-4l4-2l-7-4M507 459l-2-2l2-2l1 2M508 457l-1 2M308 467l-2-6l-5-2l-2 6M299 465l4 2l5 0M245 466l-2 0l-2-1l1-2M242 463l3 0l0 3M541 501l3-6l-3-3l-3 1M535 496l-2-1l0-2l9-6l3-5M535 468l-4 0l-4 4l-8 4l-6 0M513 476l-1 3l12 12l4 14l0 4M528 509l1 2M197 473l0-2l-4-2l0 3M193 472l2 2l2-1M193 483l1-4l-3-4l-2 0M189 475l-4 2l0 4l4 3M189 484l4-1M361 509l3-4l5-4l-3-6l0-4M366 491l-2-4l5-10l0-2l-2-2M367 473l-4 2l-3 10l-1 1l-10-1M332 485l-8 8l-1 3l-2 0l-4-2M317 494l-2 3l8 5l4-3l4 1M331 500l3 3l1 4l2 0M337 507l4 0l4-7l6-5l2 0M505 479l0-4l-2-1l-2 1M61 511l4 0l6 4l4 1l3-3l-1-8M422 481l-1-2l-2 0l-1 2l3 2l1-2M392 485l0-4l-3-1M631 484l-6-3l-4 0l0 3M255 492l-6-2l-2-5l2-3l8 2M239 495l-3 0l1-6l2 1l1 3M240 493l-1 2M118 499M137 507M312 515l3-4l0-2l-2-1l-4 4l-2-5M307 507l-2-2l-4 2l-4-1l-1 1M301 510l7 3l3 3l1-1M505 549l3 6l5 4l1 0M514 559l0-8l1-1l5 3l1 6M521 559l6 1l6-2l1 1M557 539l4-4l8 0l6 6l6-8l-1-4M591 513l1-4l-3-2l-3 6M586 513l-5 2l-3 6l-9 4l-4 6l-2 0M563 531l-2-8l-6-4l-12 1M543 520l-5-1l-1-2l-7 6l3 6l-1 2M505 516l-4 3M500 525l-3 0l-3-2l-4-10M490 513l-3 0l-2 2l1 6l-6 18M480 539l7 0l1 4l3 1M491 544l1-5l7-2l3 2M502 539l2 4l-2 4l-5 5l-2 0l-6-2M667 522l0-4M550 515l2-2l-1-4l-2-2M549 507l-2 0l-1 8l1 1l3-1M645 516l-4 1l-2-1l-4-7l-4 2M631 511l-4-4l-2 0l-2 2M605 515l1-2l-1-2l-2 4l2 0M565 521l1-6l-3-2l-2 2l1 2l1 4M633 519l-2 1l-1-3l1-6l4 2l1 2M636 515l-3 4M254 517l-4-2l4 2M291 555l2-7l8-2l4-4l8 0l6 4M319 546l2 3l2 1l1-1l0-2M324 547l-3-10l-4-3l-8-4M263 537l0 2l2 2l4-1l2 1l6 9M287 557l4-2M149 518l1 3l0 2l-3 2M257 519M349 565l8-2l6-8l-4-8M359 547l-2-2l5-10l-2-4l0-6M344 531l-2 6l0 6l-2 10l-5 2l1 2M336 557l3 0l2-2l8-2l2 2l0 2M603 551l2-8l2-2l4-1l6 1M617 541l3-4l-1-5l-8-6l-8 2M593 548l4 0l4 4l2-1M93 534l-2-4l-2-2l-8 3l-3 4M368 689l-4-10l0-2M363 671l3-6M364 659l-8-10l1-4l6-4M367 605l-2-6l-6-12l-4 1M355 588l-6-2l-8 6l-2-1M339 591l-4-10l-4-2l-10-10M321 569l2-6l-2-5l-12 0l-6-7M303 551l-6 6l-6 0l-4 2M281 564l-4-5l-6-4l-6 0l0 2M203 539l3 4l-3 4l-2 6M201 553l-3 2l1 2l4-4M203 553l6-2M235 569l8 10M263 580l6 2l6-2M285 589l4 3l6 1l3 2M315 608l6 3l4 1l1 3M331 618l4 1l1-2l2-8M338 609l3 0l2 2l0 2M343 613l-3 6l-1 5l6-1l5 2M350 625l2 8l-5 3l-4 5l3 6M351 665l-5 4l-1 6l6 8M351 683l8 0l9 6M581 548l3-1M511 546l-2 1l-2-1l0-1M507 545l4-3l1 3l-1 1M411 551M466 553l-2 0l1 1l1-1M476 559l-1-2l-3 0l2 2l2 0M209 561l0-2l0 2M486 567l-1-4l1-4l-1-1l-5 1M564 571l0-2l-7-8l0-2l0 2M557 561l1 2l0 4l3 1l3 3M625 563l-2-3l-2 1l0 2M621 563l4 0M299 564l2-1l2 4l-2 2M511 605l4-4l0-4l4-6l-3-12M534 577l-1-2M529 572l-1-3l-5-2l-4-3l-3 7l-3 3M513 574l-8 5l-1-2l-2 0l3 2M505 579l-4 5l-2 0l-2-5l-4 0M493 579l-7 6l1 4l2 0l6-1l2 2M497 590l2 8l2 3l6 0M507 601l2 4l2 0M633 569l7 2l2 8l-1 4l2 1M577 585l5-8l0-6l2-4l-1-1l-10 3M573 569l-4 4l1 6l1 4l4 4l2-2M209 763l4-9l4-2l3-3l-2-6M218 743l-1-1l-6 7l0 3l-2 1M187 744l0-1l0-5l10-4l3-3M234 653l-2-4l-1-6l-3-4l2-8M219 585l0 2l-6 4l-2 10l-5 8l1 8M207 617l5 4l-2 4l1 4M211 629l-4 1l-6-3l-1-2l2-6l-6-4M196 615l-3-4l-8 0l-3 2l0 4l-5 2M131 609l-2-2l-2-4l-2-1l1 3M113 607l-8 2l-2 0l0-2M115 621l2 2l0 6l4 9l10 5M173 627l8 3l4-4l4 1l3 4M192 631l3 8l-1 4M187 760l2 1l8-2l4 1M628 591l3-2l4-1l1-3l-2-6M634 579l-3-4l-6 0l-4-3l-1 1l3 8M625 591l3 0M311 580l-2 0l-4-3l0-2l2-2M307 573l6 2l0 2l-2 3M121 585l0-6l-2-3l-2-1l-4 3l-4 1M109 579l-2 6l2 1l4-1l4 2M117 587l2 0l2-2M439 583l-2-3l-2 0l0 3l2 2l2-2M448 583l3-1l2 1l1 2M606 601l0-8l-5-4l-2-5l-2 1M597 585l0 4l-3 2l-1 2M593 593l2 5M641 638l-5 5l-1 4l2 3M639 660l-6 0l-3-3M631 651l-1-4l-5-8l-6-1M619 638l0 7l2 8l-2 3l-4 2M615 658l0 2l10 0l2 1l3 4M630 665l5-1l4 2l6-1l4 1M659 668l-4 3l2 3l8-8l5-1l0-8M544 601l5-6l0-6l-4-2M545 587l-10 0l0 2l4 6M617 589M119 599l2-1l1-3l-5-5l-2 2l-2 4M285 601l3-2l1-3l-2-1M287 595l-6 3l-2-3M275 595l-1 2l1 3l4-1l6 2M477 608l-2 2l-6-5l-2 0l0 2M502 627l2-2l1-2l-2-4l-1-6M502 613l-3-8l-2-1l-5 3l-1 4M606 661l-3-6M607 644l0-3l4-3l2-3M613 635l0-1l-4-1l-1-2l0-2M608 629l5-6l-8-4l-2-6l-2-1l-4 7M559 622l-1-1l-1-5l-4 0l-1-1l1-4M553 611l-1-6l-1-2l-2 0M549 603l-10 6l2 10l-3 4l-4 10l1 3M535 636l4 2l4 5l11 6M569 632l13 5l3 3M593 641l0-4l2-2l3 0l6 4l0 4M601 659l0 2l2 2l3-2M629 613l2-2l1-2l-1-2l-4 2M627 609l-1 2l3 2M289 677l4-1l1-1l-1-5M293 670l-5-3l1-12l-8-5l-4 0M277 650l-1-3l1-4l5-6l3-1M283 643l-1 4l3 1l8-1M297 644l6-6l3-1l1-3l-2-2l-4 4M301 636l-11-5l0-2l3-2M272 659l0 2l5 4l-5 8M272 673l0 2l7 3l10-1M648 623l-9 2l2 2l2-1M520 639l1-4l-1-8l-3-3l-5 3M512 627l-4 8l1 3l4 1M297 627l-1 0l1 0M382 627l0 4l3 2l1 0M334 653l2-2l3-8M331 653l3 0M109 653l-1-4l-3-1l-2 3M254 651l3-3l2-8l5-1l-5-4M259 635l-2-4l-6 1l0 7l-2 4l2 8M251 651l2 1l1-1M223 642l-4-1l0-2l2-1M483 673l-2-2l-2-6l-4 3l-2-2l2-7M475 659l-1-4l11-6l3-6M488 643l-5-2l-8 3M447 663l-2 0l-2 2l1 2l5 3M449 670l4 2M125 648l-2-1l-3 2M300 657l1-2l0-2l-6-3l-2 1l-2 4M291 655l9 2M313 657l-2-6l-2 1l-1 3M512 661l5-4l0-5l-7 9M510 661l1 1l1-1M561 667l1-2l-1-4M551 657l-4 0l-11 10l1 4l8 4M545 675l2 2l0 2M329 668l0-1M647 659l-2 0l2-1l0 1M694 707l-7-3l-9-1l2 6M694 771l-1 4M625 697l1-4l-2-10l-1-2l-4 1l-4-6M613 665l-4 3l-6 0l-4 3l-2 2l1 10M623 699l2-2M269 673l-2-3l-4-1l-2-4l-9 4l1 2M253 671l2 1l4 0l6 2l4-1M330 671l-1-2l-6 2l-4 3M319 674l-6 1l-4 5l1 13l9 8M499 681l1-2l-1-3l-4-1l-5 2M559 679l-2-2l-1 2l1 1l2-1M419 679M584 683l4-4l-11 4l7 0M560 701l5-3l8 2l2-3M575 697l4 3l2 0M559 696l-2 1l-4 0l-1 2M257 778l2-1l1-2l-1-4M259 771l6-4l6-10l-6-1M265 756l-8 5l0-6l-3-4M260 733l1-4l3-2l11-1M249 683l-2 1l-9 5l-3 4l-1 6l-7-1M227 698l-1 5M229 713l3 2l0 6l-8 8M224 729l3 9l4 4l4-1l-1-4M243 716l4 4l4 0l2-7l1 0l1 6M255 719l2 2l2 0l-4 3M255 724l2 7l-2 4l-1 8l-3 1M251 744l-6-2l-2 1l1 4l5 6M231 772l-2-3l-4 0l-1 4M323 689l-2 2l-2-2l0-2l2-2l2 4M591 691l-2-4l-3 0l3 4M413 719l1-2l-1-10l2-2l4 1M407 695l-2 0l-6-3l-4-3l-6-1M401 703l1 6M640 697l2-2l-1-4l-4 1l-4 3l4 2M637 697l3 0M342 699l3 7l12 1M677 756l5-1l-2-8M655 698l-4-1l-4 3l-8 3l-1 4M638 707l5 6l-2 2l-6-2l-4 3M607 710l6-3l3 2l5 6l0 3l2 3M633 739l2 5l3 3l1 4l3 2M261 712l-3-1l0-6l-2-4l1-1M257 700l4 1l2 4l0 4l-2 3M651 819l0-4l2 2l4-1M657 816l3-3l1-4M672 783l4-8l-1-1l-4 0M669 776l-2 2M658 783l-1 4M633 795l-2 0l-1-4M635 787l1-2l-2-2M625 786l-2 1l0 2l-2 1l-8-1l-3-2M621 763l1-18l-11-4l-2-2M609 739l5-4l0-4l-3 0l-6 6M605 737l-3-4l-3-3l-2 0l-4 3l-4-1M589 732l-8 4l-2-1l-4-8l6-14l-6-11M575 702l-3 5l0 10l-11 6M561 723l-2 0M556 725l0 4l9 6l4 8M569 743l0 2l-6 4l-8 4l-1 2l4 4M558 759l1 8l-2 4l4 3M561 774l2-1l2-4l4 2M591 787l4 1l4-1l2 1M601 788l0 5l-3 4l2 2l5 2M619 803l4-1l6-4l2 0M631 798l1 3l-1 8l8 8l2-2M641 815l-2-8l2-3M647 813l0 6l2 1l2-1M438 709l5-2l-2-3l-5 1M436 705l1 4l1 0M452 857l1-4l5-2l3-4l-10-4M451 843l-3-6l1-6l4-3l8 2l3-3M464 827l2-4l-1-10l2-5l2-1l2 12M471 819l2 1l6-1l-4-6l1-6M476 807l3-1l6 2l4-4l6-11l-5-6M487 785l-3 2l-2 6l-7-3M475 790l-4 6l-2 1l-8-6l-1-2l4-4M464 785l3-7l4 1l4-2M475 777l6 1l2-2l8 4M494 783l3 3l4 0l9-5M510 781l0-2l-1-2l-2-1M495 758l-2 0l-2 3l-2-2l4-4l1-4M494 751l3-2M503 744l3-1l5-5l6-1l10 1M527 738l8-1l2-2l2-8M539 727l9-2M541 714l-12-2l-2 9l-5 2M507 728l-8-3l-3-2l-3-6M493 717l-6-4l-5 8l1 4l-6 4l-6 8M471 737l2 4l-2 5l-2 2M469 748l-2-6l-6 1l-1 4l1 6l-1 4M460 757l-5 6l-6 3l-2 3M447 769l2 3l2 0l2-1M453 771l2-3l4-1l2 4l-7 8M454 779l-1 10l-3 8l2 6l-1 4l-4 3M442 805l-2-2l-1-6l-6 0l-4 1M429 798l-6-2l-4 5l-8 4l-2-1l-4-5M395 811l1 6l10 8l3 14l2 2l4-4M426 819l5 0l2 2l0 4l4 3M437 828l1 3l-3 6l3 4l-2 10M436 851l1 4l10 4l5-2M469 714l-2 1M440 731l11-4l-2-6l2-2l-1-2M441 721l-9 6l-1 2l2 2M437 732l3-1M383 727l-6-1l-2-4l-4-2l-5 5l2 2M480 723l-1-1l-2 1l2 1M533 729l-2 2M589 727M523 729l0-1l1 1l-1 0M625 737l-2-6l-2-1l-4 1l6 7M623 738l2-1M359 733M309 749l8-4l5-2l-1-2M309 736l-4-3l-2 14M379 775l-3-2l-2-4l-5 0l-4-1M327 759l4 4M349 766l6 3l4-1l3 3l-1 2l-2 1M359 774l-2 0l-4-4l-1 3M352 773l0 2l5 5l1 5l-1 2M357 787l-6 1l-5 5l0 8M346 801l2 4l-5-1l-4-3M279 741l-4-2l-3 2l0 2M272 743l1 6l2 2M593 750l-4 1l-3-2l-1-4l2-3l6-2M593 740l2 3l2 2l-1 2l-3 3M373 765l7-2l1-5l8 5M389 763l2-2l2-8l-5-4l0-4l-3-3M380 747l-3 4l-10-1l-4 3l2 4l8 8M559 848l-2-3l4-6M582 811l-3 3l-5-1l-1-2l5-4M563 795l-2 0l-1-4l-3-4M557 783l0-2l-6-3l-2-9l1-4M550 765l-1-2l-8-1l-8 8M533 770l-9-3l2-4l6-6l1-4l-2-5M517 759l0 2l-4 0l-4-1M509 760l-2-4M515 787l-2 6l2-2l1-2l7-2M523 787l2 0l4 6M544 803l4 10l2 0l3-4M563 815l0 6l-5 16l-7 4M551 841l2 8l-2 2l-4 0l-2-4l4-6M521 855l-2 7l-4-1l-2 1M473 756l-2-1l2-3l1 1M474 753l-1 3M445 761l1-2l-1-2l-2-1l-2 0M441 756l-2 3l2 2l4 0M439 771l1-4l-3-4l1-2M438 761l-5-4l-1 2l2 4M434 763l1 8l2 1l2-1M406 761l-1-1l-3 1l1 1M403 762l3-1M479 772l-4 1l-1-4l1-2M481 767l-1 4l-1 1M268 767l3 2l3 0M255 771l-2 1M429 769l-2 0l2 0M233 774l0-3l0 3M443 783l0-2l-4-4l-1 4l3 3M441 784l2-1M423 783l1-2l-1-1l-1 1l1 2M480 785l2-2l-1-3l-3 3l2 2M315 790l-4-2l-3 3l1 4l3 0M502 795l0 2l4 0M687 826l5-5M696 801l-1 10l-10 5l-2 4l-6 5M296 819l-5-2l-1 2l1 4M280 815l-3-3l-2 0l-1 1M271 811l1-2l-5-4M621 836l6-1M634 831l-1-6l-2-3M484 819l2-4l-1-5l-2 0l-2 3l0 4M506 827l5 4M663 823l-2 1l0 3M513 839l-2-5l-4 5l4 1l2-1M514 849l-4 0l4 0M637 891l2-3l6-3l1-4M649 883l3 6l-1 6l4 6M661 890l-4 0l-2-1l-1-2l5-1M659 886l2 1l0 3M355 366l6 0l4 3l-6 4l0 3M359 376l2 1l6 0l2-2l4-10M389 344l1 9l-5 2l-2 4M382 367l1 5l4-3l10 1l-1-7M396 363l1-4l6 6l6 0l1-2M418 353l0-2l-3-1l-4 4M411 354l-4-2l-6 0l-6-18l-3-1M419 325l1-2l-4-4l-1-4l2-4M417 311l6 5l1 7l2 2M426 325l-1 6l-6 4l3 4l0 4M422 343l7 0l6 3l4-4l2 0M441 342l4 3M448 339l2-8l-3-6l0-10l2 0M449 315l2 2l4-1l4 1M456 275l-2-4l2-2l3 1l2 2M461 272l3-1l3-5l6 1l6-2M463 247l0-2M449 238l-4-2l-3 3l1 4M443 243l6 5l4 1l-3 4l2 6l-1 4M423 253l2-2l2 0l6 2M433 253l2-2l-4-10l-6-4M440 221l1-4l2-2l8 0l2 6l2 1M455 222l4-5M465 214l4 1l3 4l-5 5M469 234l8-6l4 4l6 1M487 224l-4 1l-4-8l2-2l2 0M541 383l-1-6l-8-6l-3-5M526 369l-1 4l-2 2M493 360l-4 0l-6-3l-8 6l-6-2M469 361l-5-6l2-8M461 344l-6 8l-8 0l-3 1M444 353l-1 4l-1 0l0-6M427 361l-2-4l-2-1l-4 3M419 359l5 8l3 1l6-1M432 383l3 6l-1 2l-3 5l-2 1M409 388l-6 2l-2-3l0-4l-7-4M349 396l4 1M399 237l-8-12M391 223l6 0l4-6l-2-1M413 213l-2 2l-6 0l-3 2l1 2M403 219l0 4l4 5l0 3l-6 1l-2 5M105 238l-2 0l-2-4l-2-1M87 221l-3 0l-5-4M72 211l2-2M84 207l9 4l1-2l-2-6M118 219l2 2l-1 6l-4 5l-6 2l-4 4M295 263l-2-1l0-3l-8-7l-7-3l1-6M279 243l-2-3l-2 1l-4 3l-6-1M265 243l-1 2l1 6l5 6l-1 2M269 259l-2 0l-4-5l-1-3l-3-2M259 249l-2-6l2-6l-2-4l-9-4l-1-2M247 227l-1-2l5-4l10-2M261 219l3-4l0-4M304 203l1 6l-1 2l-9 4l0 2M297 237l2-2l2-4l4 0l1 2l-2 6M304 239l1 6l-5 6l-5-1M295 250l-2 1l1 8l2 4l-1 0M437 207l-2 2l-9-2l2-8M333 213l0-2M335 203l2 0l-3 4l-1 6M125 207l-1-2M127 204l0 2l-2 1M378 207l-1 4l-2 1M181 214l-2-1l2 0l0 1M183 279l-6-4l2-2l4-1M207 255l0-6l-3 0M194 247l-4-6l0-8l-3-9l-2-2M185 222l-9 7l-3 7l-5-7l5-9l10 1M183 221l1-2l0-4l3-3l4 2M193 231l2 2l10-3l6 3l2 4M213 237l0 6l4 8l-1 4l1 2M217 257l4 1M225 263l-4 6l-6 2l0 7M345 244l-4-7M157 227l-2 1l-3-1l-1-6l1-2l3 0M155 219l2 2l0 6M139 246l-4-5l1-4l-4-4M132 233l7-5l8 1l-4 4l-2 10M367 245l-4-3l-5 1M363 239l6 2l0 4l-2 0M423 235l-1-2l1-1l1 1M424 233l-1 2M72 257l-3 2l-2-1M99 274l-10-1l-3-2l-2-4M84 267l0-2l3-5l6-1M93 259l4-2l-2-4l0-6l6-6M101 241l4 4l12 0l7 10l-5 7M102 265l-1 7l-2 2M325 349l-8 1l-3 3l-3 0l1-12l-1-2M309 333l16 5l1-3l-1-9l2-4M327 322l3 1M335 323l4-1l4-7l8-8M351 307l0-2l-6-6M337 293l-2 6l0 8l-4 6l-3-2l-3-10M325 301l-2-1l-2 1l0 4M312 289l-4-4l3-4l-4-4l-4 3l-8 3M295 283l-4-5l-4-2l-4 1l-4-1l-4 5M275 281l-2 0l-1-4l0-6M312 273l4-8l-1-2l-5-2l2-12M317 245l1 2M339 253l-2 4l-2 12l2 6M337 275l8 9l12-2l4 1M361 283l-2 12l2 3M365 295l2-3l11-5l3-5l7-3M388 279l2-2l-1-4M387 270l-10-4l-2-3l2-7l6-1M401 260l2 3l1 8l5 3M409 274l2 0l4-3l4 2l1 14l3 2M423 289l-1 2l-3 2l-2 0l-3-6M414 287l-3-1l-2 1l-5 6l-1 6M403 299l-6 1l-3 3l2 4l-3 7M386 317l-5 1l-4 4l-7 3M341 329l3 6l-1 10l4 6M347 351l-4 5l-2 1M343 256l-2-1l2-1l0 2M76 287l5 6l2 8l5 2M88 303l-1 8l1 10l-3 2l-2-1M65 337l4 2l3 4l-1 4l-4 2M67 349l-1 2l1 2l4 1l0 5M79 367l9-6l-2-8l-10-8M76 345l3-7l2-1l4 0l4-2l12-9M101 326l6-1l5-2l-1-6M111 317l5-6l1-4l4 3l10 1M131 311l0 3M133 331l4 0l2-5l2 0l8 7M149 333l0 6M137 351l-2 5l-2 0l-4-2M129 354l-2 1l0 4l-2 4M135 387l4 2l10 12l0 6M175 423l-6 2l-4 4l-2 0l-4-2M159 427l-4-6l-2-2l-8 4M120 435l-2-6l1-4l-2-2l-2-4l2-2M117 417l4 1l1-3l-1-6M121 409l-4-8l-8-3l-6-5M103 393l-6 6l-2 4l-2 0l-6-4l-1-4M86 395l-5-4l-7-8l-1-4M73 379l-4 0M124 269l-1-6l4-4l2-1M129 258l10 2l6 7l2 0l3-4l2 2M152 265l3 10l-2 3l-2 1l-2 4M355 272l-2-3l0-6l6-5l1 3M229 267l0-3l6 1l0 2l-3 2M77 270l0-2l1 1l-1 1M429 274l0-6l2 1l0 2M431 271l-2 3M401 275l1-2l-3-2l-2 1l-1 3l1 1M397 276l4-1M641 514l-2-5l-4-3l-4-1l-2-2M629 503l2-1l2 1l7-8M639 473l-1-6l1-4M622 455l-1-6M601 389l-2 0l-4-1l-2 1M572 373l-3-5l2 0l2-3M429 280l0-4l1 3l-1 1M371 287l-4 1l-3-3l0-2M364 283l3-3l6-1l1 0l0 4l-1 4M373 287l-2 0M208 349l2-6l-9-10l1-4M221 312l-2 5l0 8l2 3M221 328l2-2l2-1l4 10M229 335l4 0l2 3M219 349l-3 6l-5 2M382 289l-3 0l2 1l1-1M413 297l-3-4l1-1l4 1l0 4M415 297l-2 0M157 315l-8 1l-4-9l0-6M259 301l-4 3M364 307l3 2l10-2l4 2M381 309l3 0M439 312l-4 0l-5-3l4-10l3 0l6 3M443 302l6-2l0 5l-2 2M447 307l-4 1l-4 4M185 318l-3-3M411 307l-2-1l-1-3l5-4l2 4M481 326l4 3l2-1M390 305l0-2l-3 0l1 2l2 0M293 325l-5 4M251 320l-3 1l-1 2l-2-1l-5-3M240 319l-2-8l7-3l4 1M265 305l4 2l8 0l8-4l6 1M291 304l4 3l3 8l4 6M302 321l-1 4M147 321l-2 1l-1-3l3-1l0 3M123 329l1-6l-3-1l-4 5l0 2l2 1M119 330l4-1M261 325l-2 1l-2-1l2-1l2 1M541 361l2 1l1-1M247 337l-4 1l-3-1l2-4l-2-4l1-3M241 326l4-1l1 2l0 4l3 4l-2 2M167 328l2 1l0 4M499 339l3-6l-3-3l-6 3M493 333l-2 2l4 6l4-2M367 334l0-1l1 0l-1 1M371 338l-3-1l1-3l3 3l-1 1M336 343l-1-6l-1 6l2 0M205 345l-2-2l2-1l1 1l-1 2M243 399l-6-8l-1-6l-9-3l-1-3M241 373l-1-4l-3-2l-10-1l-2-1M235 357l6-2M247 352l4 1l6 3l5 3M262 359l1 2l0 7l-4-1M259 367l-8 1l0 3l2 3l4 1M279 357l-7-4l1-2l4-3l3 1M280 349l-1 8l6 6M287 375l-4 4l-6 0l-14 6l0 6l-6 5M110 367l3 1M221 461l-2 0l-1-2l2-2l-1-4l1-4M211 446l-4 7l-4-3l-4-2l-7-5M192 443l-2-16l3-4M146 369l1-4l2-1l4 0l4 4l2-1M187 362l2-1l4-5l2-1l2 4M197 359l-2 6l0 2l6 2l13 8l1 2M215 379l-3 8l1 2l3 0M227 431l5 4l-3 8l-3 2l1 6M227 451l-4 6M249 363l0-3l0 4l0-1M359 361l0-2l0 2M157 364l0-1l1 0l-1 1M471 407l-6-1l-7-7l-1-4l-2-1M455 394l-6 1l-4-4l0-2l6-7l3-7M454 375l7-6l0-4l2-2l5 0l1 2M478 387l-4 8l0 2l3 1l4-1M481 397l2 5l2 0l3-3l-2-8M490 389l-1 12l2 12l-2 1M99 371l-3-4l-5-2l-2 0l0 4l2 1M91 370l6 3l2-2M311 376l-2 1l-1-2l0-4l3 0l1 2M312 373l-1 3M329 376l-2 1l-2-2l-1-4M324 371l1-1l2 0l1 1l1 5M287 400l-6 1l-4-2l-1-2M276 397l7-6l1-4l-2-6M282 381l1-2l3 6l5 4M291 389l2 4l-4 3l-2 4M369 621l2-3l4-1M375 612l-6 1l-2-2l2-6M369 605l-7-20l-9 1l-2-4M351 582l-2-1l-2 2l-2 4l-4 2l-2-2M339 587l-2-7l-6-3l-4-4l-3-14l-3-6M321 553l4-3l1-7l-4-8l-5-5M311 520l4-5l2-6l-2-3l-4-2l-8 0M265 514l-8 1M266 481l1-4l2-1M285 477l2-2l11-2l3-4l6 2l5-2M312 469l0-2l-3-3l-2-5l4-1M319 448l-7-3l0-4M296 431l-9 9l-2 5l7 12l5 3l0 3M297 463l-10 11l-11-11M271 451l-2-4l-2-10l2-6l-1-2M268 429l-5-2l-4 1l-1-1M261 423l4-3l10 3l2 3l2-1M279 425l2-16l2-1l2 2l4-3l3 2M309 402l-4-5M319 439l0 2l10 12l6-5l1-3M375 436l4 1l2 2l1 6M382 445l3 2l4 0M397 448l3-3M401 452l-2-2l-2 1l-5 8l4 6l-1 7M395 472l-2 4M408 475l3-5l4 1l2 2M452 465l-3-2l-7 0M445 487l-6-2l-4-6l-6 2l-4 1M425 482l-2-3M389 516l-2 0l-1 1l1 6M389 539l-1 4l3 3l2 6M393 557l-6 4l-6-1l-2 1l0 2l8 9M391 589l1 8l2 4l-1 6M519 423l-5 0l-1-6l2-3l7-3l-1-8M521 403l2-3l2 1l3 4l-2 6M526 417l-1-2l-4 1l-2 7M445 412l2-1l-2 1M573 521l-4 1l-1-7l-5-4l-2 0l-4 4M545 507l-2 8l-2 2l-2-2M543 501l3-6l-1-2M545 488l4-3M533 466l-4 0l-2 5l-2 1l-6 1l-4-3M505 465l4 3l6-1l2-2l1-12M533 443l4 1l3-3M569 437l2 6l0-2l6-5l2-1M579 435l4 4l0 5l-7 3l2 12M587 483l-6 6l-1 4l1 6l1 4M582 503l3 2l0 2l-8 12l-4 2M599 413l-4 0M595 413l4-1l1 1l-1 0M469 416l-1-1l2 0l-1 1M495 418l-2 1l-1-2l-1-2l2-1M497 415l-2 3M606 447l1-8l-4-2l0 8l-6 3M593 447l-1-2l-1-4l-5-4M586 437l0-6M593 427l0 4l2 0l2-4M597 427l4-3M105 425l-2-2l0-2l2-3M105 418l1 3l-1 4M445 437l-5-2l1-4l5-8l9-3M455 420l7 3l1 6l-2 5M415 430l-5-5M67 429l5 0l3-5l4 0l6 3l4 0M89 427l0 4l4 4l-2 8M91 443l-8 6l0 4l-2 4l1 2l4 4M86 463l2 10l-3 10M71 481l-4-4l-4 2l-4-1M87 504l0-9M91 491l4-4l0-2l-6-4M89 481l0-2l3 0l3 2l2 4M106 495l7 3l1 3l-1 8l2 0M115 509l4-6l2-2l6 0l2-4M129 497l2 2l0 4l-3 4M128 507l0 4l10 8l3 6l0 5l-5 5M127 600l-2-1l-1-2l1-3M125 594l2-1l2 0M123 573l1-6M113 535l0-2l-1-2l-5 1M93 530l-2-4l-5-1M81 523l-6 2M115 642l-2 7l-2 0l-4-3l-2-1M105 645l-3 2M75 436l3-1M493 447l-2-3l-4 2l-1-7l1-2M487 437l6 5l4 1l2 4l0 4M499 451l-4 1l-2 4M564 439M151 501l-2-2l-1-8l-7-2l-6-10l-2 0M133 479l-2 1l-3-1l-1-2M127 477l1-10l-2-6M133 453l2 0l6-2l0-4M141 447l2-4l4-1l4 0M151 442l14 6l4 7l12 3l9 9M184 485l-3 1l-8-4l-5 5l-2 6M166 493l2 4l-1 6l-4 6M185 452l-2 0l0-3l4-6l2-1l1 1M567 445l2-2l-2-1l-2 1l2 2M431 445l4-2l5 2l1 2l-2 2l-4 0M195 459l2-2l4 1l4 5l1 2M206 465l-3 4M377 461l0-2l0 2M530 459l-3 0l2 2l1-2M66 475l4-4l3-6l4 0l3-4l-3-1M77 460l-4 1l-2 3l-2-1M62 475l3 2l1-2M267 463l0 3M505 512l-6 4l-2 4l-2 0l-2-7l2-6M498 471l1 2l-5 4M491 483l1 2l-3 4l0 1l4-4M497 483l2-1l6 0l4-1l9 6M523 491l2 8l-2 8l1 4M531 517l-1 2l-3 3M162 467l-3-3l-2 0l-4 3l2 2M155 469l7-2M364 509l2-4l5-4M368 489l0-4l3-8l2-2M367 470l-6 3l-4 11l-4 0l-4-3M349 481l-4 4l-6-2l-8 0M317 500l6 4l6-3l2 0l1 2M332 503l1 6l2 1l8-3M343 507l8-10l2 1l3 7M150 471l0-2l-3 0l0 2l3 0M207 514l-2-2l-4 4l-6 1l-2-1l-4-6M189 510l-6-4l-1-3l1-4M183 499l-4-2l0-4l2-1M181 492l4 0M192 485l3-4l1-4l1-1l8-3M218 483l4 4l1 2l-5 6l1 3M619 494l-4 0l-6-3l-1-2M615 478l2 0l3 1l-2 4l2 4M573 489l1-2l0-4l-1-2l-4-1l-2 9M635 640l-2 1l-2-2l2-4M633 635l-1-4l3-6l-4-1l-2 2M618 613l-1-3l-2 0l-2 3l0 4M613 617l-4 2l-2-2l-2-6M607 605l3-2l-2-4l2-6l-11-14M599 579l-3 0l-2 8l-3 3l2 7M559 615l-4-6l0-6l6-2M561 601l-1-2l-5-4l-4-9l-2-1M539 586l-5-3l0-2l2-4M523 565l0-2l8-1M554 563l0 4l3 4l-1 4M556 575l3 1l4-2l3 1l0 4l2 4M568 583l7 7l4-1l0-4l4-10M586 567l-3-3l-14 6l-1-1M568 569l-1-4l-4-2l-2-2l-1-4M560 557l2-4l-1-2l-5-2l0-6l1-2M557 541l4-3l4 1l4-1l4 5l3 2M576 545l3 5l4 0l6-5l4 6M593 551l8 3l6-3l1-8l3-1M611 542l6 1l8-10l2-1M650 613l-3-2l-6 5l-6-2l-1-3M634 611l2-4l0-8l-3-4l-3 2M630 597l-2 2l1 6l-5 4l1 5l2 2M640 635l-5 5M605 525l-3 0l-4-4l-7-18l2-2M593 501l6-1l4-3l6 3l6-3M615 497l2 1l2 3M622 507l-2 4l-5 4l0 6M615 521l-10 4M607 517l2-2l1-4l-1-2l-4-4l-5 10M600 515l3 3l4-1M489 509M483 556l-4 1l-4-3l-4 0M471 554l-6-5l-6-1l-3-3M459 543l2-1l0-3M463 529l-5-6l1-8l10-5M469 510l4 5l8 1l3 3l0 2M484 521l-4 12M478 537l-3 6l2 4l6-2l2 1l1 7M486 553l-3 3M307 519M364 535l-1-10l-6-6l-2 1M355 520l-7 7l-11 8l3 8M340 543l-3 8l-5 4l0 2M332 557l7 2l3 0l3-4l4 1l0 3M345 567l6 0l4 3l0-1M257 523l4 0l5 8l-1 3l-4 1M211 536l-3-3l-1-2l5-6M587 537l-3-2l-3-6l2-3l4 1M587 527l1 2l1 6l-2 2M529 530l-2-1l2-1l0 2M176 549l0-2l-3 1l-4 7M169 547l0-4M173 534l6 5M189 531l6 1l6 3l1 8l-2 6l-1 2M199 551l-5 2M189 555l-4 2M600 531l1 2l0 2l-12 10M257 539l0-2l10 11l0-3l2-1M269 544l3 1l2 4l-1 2l-8 1M494 541l3-3l2 0l2 3M501 541l-2 6l-4 2M317 555l-8 0l-2-2M309 544l4 0l6 7l2 2l-4 2M489 607l-3-2l-1-6l-6 0l-4-3M475 596l1-3l5-4l-4-9M477 580l-2 0l-4-4l-3 1l3 2l0 2M451 565l0-5l8-6l14 7l2 7l5 1M481 577l6-4l6 2l-4 4M489 579l-4 3l-2 3l0 6M501 567l-2-2l-2 0l-2 2l-6-2M489 565l0-2l6 1l2 1M497 565l2-1l4-10l2-1l10 14M515 567l0 2l-1 2l-5 3M517 556l0-3l1 2l-1 1M194 599l3-8l-6-4l-5-6l-4-10M199 563l2-1l2-3l2 4M204 609l1 6l-2 1M610 559l-2 0l1 2l1-2M617 565l-4 2l0 2l4 3l5 11M622 583l-8 4l-1 2l2 2l6-2M621 589l6 5l4-1l2 2l3-2M638 589l1-3M419 565l-2 1l-3-3l5 0l0 2M280 811l1-2l5-2l2-4l0-8l-5-4M267 770l6 4l3-1l1-4M277 769l-1-4l-4-2l-1-2l6-6l2 2M279 757l0 4l3-2l-1-2l-2 0l-2-2M277 755l2-5l3-1M290 745l-1-1l-4 2l-2-1l-4-6l-4-3M275 736l-8 5l-3-6l1-4M280 731l3 2l2-1l3-5l-4-2M279 719l4-12l-4-4l1-4M249 680l-6 5l-5 2l-7 7l-6 2M229 715l1 2l0 2l-9 10M221 729l4 6l0 4l4 6l10 0M239 745l2 1l2 3l0 2M243 763l-2 2l-2 0l-4-3M235 762l-6 2l-7 5M215 771l0-4l-4-2l0-2l2-6l8-6M221 751l1-2l-2-4l1-4l-2-2M219 739l-2 1l-4 5l-2 1M227 667l2 0M236 609l-5-5l-2-5l-1-8l3-3M236 573l1 2M301 644l9-5M249 633l1 4l-3 6l2 10M255 653l4-2l2 3l2 0l1-1M264 653l-1-2l-3-2l0-4l1-3l6 3M267 645l3 12l-1 2l-4-1M265 658l-14 9l-1 2l3 5l18 3M290 665l1-5l4-1l6 3l4-4M305 658l8 2M317 655l-2-2l1-2l1-2l2 0M322 663l1 5l-4 3l-6 2l-4 4l-1 4M308 681l1 6l-1 6l11 9M319 702l2 0l2-5l5-2M341 700l2 7l2 2l2 1M348 723l3 2l4-4l4 2l2 4l-10 3M351 730l-1 1l1 4l-4 0M321 739l-2-1l-4-6l-4 2l-3-5l-3 0M305 729l-3 8l0 6l-3 6l-4 2M308 759l7-2l0-2l-3-4l7-5M351 769l-1 6l4 6M340 791l-7 1M315 788l-4-2l-4 4M335 806l4 3M405 601l4-14l-1-2l-2-2l1-2M625 572l-4-3l-1-2l1-1l5 1l0 2M626 569l-1 3M637 575l-2 0l-1-2l3-1M637 572l1 1l-1 2M495 575M411 803l-2-2l0-2M391 768l3-1l-1-8l4-4M397 755l2 2l-1 8l3 1l4-2M425 698l-1-3l-5-3M415 689l2-2l4 3l1-1l1-16M423 673l-1-2l-5 0l-1 2M416 673l1 2l-2 7l-4 1l-1 2M405 688l-4 3l-8-5M385 703l3 4M384 725l-6-2l-2-4M367 715l-7-10l-2-10l-3-4l0-2M371 688l-4-7M360 651l2-4M376 639l9 7l6 2l8 6l6 0M405 654l6 4l2 1l8-12l12 2M437 659l0 8l2-2l2 0l8 7M501 681l1-4l-3-3l-10-1M483 665l0-4l-5-4l9-8l6-6M493 643l8-1l2-7l4 6M507 641l-3 4l3 1M520 655l4-4l-3-6M523 645l4-4M523 627l-8-6M511 625l-6 9l-2 1l-2-2l0-2l8-8M505 602l2 5l2 1l6-3l2-3M517 602l0-5l4-6l0-2l-2-4M519 585l2-2l6 0l0 3l-4 1l6 4M529 591l4-2l4 6l-1 2l-3 1l-4-4M532 611l5 3l2 3l0 2M539 619l-9 14l3 5l4 1l3 2M545 647l2 6l0 2l-7 8l-9 3l-1 3M530 669l5 1l2 5l4 1l4 6l2 0M547 682l4-2l4 3l1 2l-5 9l-1 5M547 702l-2 0l-2 1l-8 8M535 711l-3-2l-1-4l-11 4M523 712l3 3l-1 4M513 723l-3 0l-5 2l-6-1M507 721l2 0M509 698l-4 1M483 710l1 5l-3 3M474 723l1 6l-5 6l-2 4l-7 2l-2 1M459 742l-1 5l1 6l-2 6M457 759l-4 2l-4 0l-2-5M411 769l-5 2l3 7l2 2l2-1M433 774l2 3l0 5l-6 0M419 781l3 4l9 1l4-2l2 1M444 787l3-8l2 0l2 4l0 6l-6 8M431 795l-8-1l-6 7l-6 2M125 592l-4-1l-1-2l5-3M125 586l1 3l-1 3M185 600l3 1l1 2l-2 5M667 597l-2-1l-3 5M473 603l-1-2l1 0l0 2M468 615l-5 6l-2-2l-2 0l-4 3M572 613l1-2l-2-3l-4 1l-2-2M248 611l1-4l-2-1l-5 5M242 611l3 1l3-1M581 611l1-4l-3-1l-2 1l0 4l2 1M477 641l-8-3l-4-3l-4-1M461 634l-5-5l0-2l7-6l10 4l4-1M489 616l7 7l-3 4l0 2M493 629l3 4l-1 2l-4 5l-10 0M481 640l-4 1M477 621M205 626l-3-1l1-2l4 2M207 625l-2 1M185 629l4 0l2 2l-2 5M179 750l3 1l3 8l0 5M185 764l-2 1l4 0l10-4M176 637l-2-4M579 657l-6 2l-2-4M567 648l2-2l0-3l-3-6l1-1M567 636l4-1l4 3l6 1M594 641l1-5l2 0l4 3M343 651l-2 0l-1-2l0-2l1-2l3 2M344 647l-1 4M609 665l-1-2l0-4l-1-2M615 654l-3 5l-1 4l-2 2M633 680l-4 4l-2 0l-2-8M616 665l1-2l8-1l4 5l6-1M652 669l1 8l2 1l8-2l2-7M675 694l-4 1M676 705l2 4M289 652l-3-1l3-1l1 1M290 651l-1 1M575 679l-10-1M599 663l1 4l-1 2l-5 2M594 671l1 5l-20 3M331 660l-2-4l2 0l2 3M332 687l1-4l0-8l1-4l-1-4M333 667l0-4l10-4l6 2l0 2l-6 6M343 669l-2 4l11 16l-1 2M271 669l-4-4l2-2l4 2M273 665l0 3l-2 1M607 665l0-1l1 1l-1 0M233 671M676 675l-1-1l-1 1l1 1M675 676l1-1M587 725l-3 6l-5 0l-2-4M584 695l-2-2l0-2l4 0M593 687l-3-4l3-3l2 3l0 4M621 723l-2 4l-8 2l-4 3M508 689l1-2l-2-2l-2 1l1 3l1 1M507 690l1-1M441 732l4-2l9-1l3-2l1-4M455 719l-8-8l-4-17l-2 1M434 707l1 5l6 1l2 4l-10 6l-4 1M555 771l-2 1l-2-3l1-6l-1-1l-10-2M537 761l-1 4l-3 2l-6-2M527 765l1-2l7-6M531 739l4 0l2-2l3-8l3-1M561 748l-6 2l-4 5l5 4l1 2l-2 10M635 704l-2 0l-1-3l3-2M491 713l-1-2l2-2M381 715l-1-2l-2 0l0 2l3 0M365 722l-2 0l-1-1l1-2l2 0M365 719l1 2l-1 1M637 827l0-3l2 3M653 821l6-3l3-5M671 805l2-4M624 749l-1-6l-6-1l-4-3l4-4M617 735l6 5l8-1l2 7l3 3l3 6M639 755l-2 1l-2 3l0 4l2 3l2 1M680 763l1-2l5-2l-1-3M243 723l-3 0l-1-2l2-2l2 1M243 720l0 3M253 732l-4 0l-1-5M251 725l4 4l-2 3M357 739l6-4l-1-6l7 0l4 1M589 743l2 0l2 2l0 2M267 749l1 2l-7 4M395 750l-4-1l-1-2M367 765l-4-1M361 756l6 5l1 2l-1 2M511 757l0-1l0 1M513 774l-2-1l-1-2l4 0l-1 3M593 789l3 2l1 2l-3 4M445 777l-2-2l2-2l1 2M446 775l-1 2M473 785l-4-2l6-2l0 3l-2 1M499 795l-2-2l1-4l9-4l4 0l1 2M512 787l-3 4l-4-1l-6 5M471 793l-2 2l-2-1l-4-3l0-2M516 845l-1-2l1-4l-3-8M497 815l-1-6l-5-2l0-2l6-10M497 795l2 0l3 6l1 7l4 1M507 809l1-4l3-3M539 805l4 1l4 8l4 1l4-3M555 812l5 3l1 4l-3 12M689 812l-12 8M615 799M531 805M643 812l-2-6M677 813l0-2l-4-5l-1 3l3 4l2 0M379 819l4-2M393 815l-2 2l8 6M403 829l1 4l3 3l1 3M531 823l0-3l0 3M643 821M425 841l1-2M425 832l8-2l1 1l0 2M433 837l3 4M433 846l-4 1l2 3M450 861l3-2l3-4l3-1M459 854l12 3M464 831l5-8l12-2l8 4l4-3M503 828l2 1l3 4l-5 8l2 8M505 849l4 3l6 0M479 832l1-1M455 842l-2 0l-2-3l0-5l2-2l5 3M549 849l-2-2l2-3l2 3l-2 2M640 889l7 1l1 1l-2 4l4 4M287 249l-6 0l-1-2l1-4M281 243l0-2l-4-4l-2 1M275 238l-4 4l-3-1l-1-3M267 238l-6 4l-1-1l0-6M260 235l-2-4l-8-4l-1-2l2-2M257 221l4 0l4-2M291 219l3 8l-4 6l-1 2l6 4l3 6M298 245l-1 1l-6 1l-4 2M189 215l2 3M447 223l-3-2l0-2l3-1M173 228l-2-1l2-4l4 2l-4 3M485 239l-2 0l-6 3M397 229l0-2l1 0l-1 2M192 239l1-3l14-4l3 3l1 4M301 242l-1-3M302 239l-1 3M443 265l-4-1M437 259l-2-4l3-4l-3-8M119 258l-18-2l-3-3l1-6l14 0l2 2M115 249l0 3l4 1l2 2M121 255l-2 3M331 310l-2-1l-4-10l-2-1M311 300l0-5l4-6l-2-12M317 261l-4-2M321 256l6 2l6-4l2 3M333 265l-2 4l6 10M334 297l-1 10l-2 3M211 253M427 255M385 267l-3-4l-4-2l0-2l1-2M379 257l6 1M126 265l3-4l8 0M147 279l-2 2M86 265l3-3l4-1l2 2l-1 4M95 269l4-3l1 3l-1 2M467 272l3-3l3 0M482 333l1 2l2 0M79 293l2 8M80 309l-3 3l-2 0l-4-5M301 279l-4 1l-3-1M295 274l4 0M304 275l0 2l-3 2M395 299l-2 2l-6-1l-4 1M383 301l-2-4l-2-2l-8 2M385 291l2-2l0-2l-4-2l8-5M417 277l-1 4l1 3l-2 0l-7-1l-3-4M405 279l-2 0l-1 4l3 4l-1 2l-3 6M401 295l-6 4M511 351l-4-2M355 287l2 0l0 4M148 309l-2-2l1-6l4-1M434 303l1-2l4 0M216 317l0 6l3 6M285 305l4 2l-2 0M85 319l-3-4l2-4l-2-2M86 307l-1 4l1 4l-1 4M357 307l-1 0l1 0M295 322l-2-2l-3 3M264 315l1-6l4-1M287 312l8 2l4 5l0 2M355 310l-1-1l1-1l0 2M359 327l-2-4M355 318l8-5M371 310l6-1l6 4M383 316l-8 5l-4 0M245 319l-4-2l-2-4M257 310l2 3l-2 5l-12 1M331 348l-8-2l-8 2l-1-3l1-7l6 0M321 338l4 5l2-2l1-6M340 331l1 5l-6-2l-2 1l-3 6l1 7M117 399l-7-2l-5-7l-2 0M83 366l2-1l2 4M94 379l-3 1l-4-1l-2 2l4 4l2 0M101 369l-8-6l-3-4M91 355l-4-5l-7-5l-1-2l2-4l2 1M83 340l4 4l2-1l-2-4M87 339l7-6M103 328l8-3M417 335l3 12l-5 1M339 345l2 1l3 5l-1 3M431 358l-3-1l2-4l-2-6M428 347l3-1l4 3l-2 7l-2 2M423 352l0-3l0 3M277 351M275 353l1 0l-1 0M260 361l-1 2l-4 2M193 369l8 3M412 375l-3 2l-6 0l-2 2l-4-2M397 377l-10 1M386 373l2-2l3 0l8 5M399 376l1-1l0-8l9 1l4-4M157 380l-4-1M243 381l4-2l4 4l2 0M81 378l2-1M467 404l-7-5l-2-6l-3-1M447 391l5-6l1-6M474 387l1 2l-2 4M471 396l-4 8M407 385l-2 0l-1-2l5-5M357 391l-2 0l0-2l2-2l0-4l4-3M361 380l1 1l1 2l-2 4l-4 4M109 385l-2-2l2 2M344 389l4 0l-3 2M487 407l-2-2l2-1l0 3M287 470l-6-3M275 428l6 1M282 419l1-3l3-1M289 435l-4 3l-2 5l1 4M284 447l5 6l3 8l-5 9M517 420l0-3l0 3M269 514l-4-1l-4 0M256 509l3-3l6-1l4-3M275 496l10-5M294 481l-1-2l0-2l6-1M315 469l2-2l4 1l3-3M322 457l1-6l2 2M375 443l0 4l2 2l8 1M343 482l-10-2l-4 2l-1-1l0-4M328 477l-3-1l-2 1l-2 4l2 2l4-2M327 481l1 2l-2 4l-12 4l-6 10l-3 1M269 422l2 1l-2 4M450 427l-1-2l2-2l4-1M455 422l5 1l1 2l0 2M73 446l1-3M75 438l3-1l2-4l-3-4l-1-2l1-1M81 447l-1 6l-3 4M575 518l-2-1l-2-4l-4-1M531 457l-8-2l0-2l6-4M574 455l2 2M575 471l2 2M579 487l-1 0l-1-6l-8-4M577 489l0-1l1 5M579 511l-4 7M595 441l1-2l-1-1l-4-1M600 433l0 10l-1 2M581 443l-4 2l-2-1l-1-3l1-2M152 493l3-5l0-5l5-2M155 481l-6 5l-6 2l-8-11M139 455l2 0l2-2l1-8l3-2M155 447l8 2l2 2l2 8M167 459l6-1l6 2l2 1M169 467l-2-3l-10-3l-8 5l-2-1M147 465l2-4l-2-1l-3 1M144 461l1 3l2 1l-2 4l2 4l14-3M165 503l-2 4l-2 0M435 447l-2 0l2-2l1 2M436 447l-1 0M566 459l1-3l-8-2M519 469l-1-8l3-4l2 0l4 6l1 2M315 460l1 3l-1 3M197 465l0-4l2-1M81 463l3 0l1 6M445 484l-4 0l-1-3l7-6M447 475l8-2l2-7M463 469l-4 6l0 4l-6 0l-8 5M481 470l2-2l3 1M507 471M199 514l-4 0l-2-1l-1-4l-6-4l-1-2M185 503l1-2l3-3M193 498l3-1l-2-2M197 481l0-2l4-1l4 4l2-3l8-3M215 476l1 3l-7 8M201 513l-2 1M503 484l4-1l2 1l2 3l3 0M367 507l2-2M375 514l-2 2M81 511l2-4l5-2M93 492l4-1l4 6l10 2l1 2l-1 14M125 507l0 4l12 10l2 4M139 525l0 5l-4-1l-2 4M201 495l-3 2l3 1M316 517l3-8l-3-6l3 0l2 4l2 1M323 508l4-3M330 509l3 3M348 503l3-3l2 3M353 519l-2 2M346 527l-7 6l-6 0M593 505l0-2l2-1M475 551l-4 1l-8-7M475 519l6 0l2 2l-1 2M473 543l3 6l-1 2M365 587l-2-4l-2-1l-6 2l-4-4M351 580l-4 1l-3 4M355 574l3-1l1-2l-1-4M367 550l-2 0l-4-7M363 539l4-8l-2-4l3-4M386 541l-1 2l3 2M381 568l4 3M605 523l-2 0l-2-2l6 0l-2 2M135 526l0-1M263 530l0 2M380 533l-1-2l-2-2l2 5M379 534l1-1M128 531l-1-1l-2 1M629 561l-6-5l-8 6l-2-6l-7-1M606 555l5-3l2 0l0-5l6-2M619 545l3-6l5-1M327 556l-1-3l1-8l4-9l2 0l4 3M337 539l1 4l-3 8l-8 5M587 586l-2 0l-2-3l3-6M583 562l-10 4l-4-4l-6-1l-1-4M569 542l6 5l2 5l6 0l4-3l2 0M603 558l1 3l-3 2l9 2l1 6l3 2M614 573l-3 3l0 3l2 0l2-2M615 577l-1-2l1-1l4 7M602 573l-3-2l-2 4l-4 3l-5 1M588 579l-1 7M629 547l-1 2M481 549l2 1l0 3M507 572l-3-1l1-4l-3-4l1-6M503 557l2 0l2 8l4 2l-4 5M475 574l-6-2l-2 2l-4-1M459 564l4-5l6 1l3 3l1 6l4 2M537 584l-1-3M551 570l4 8l11 5M573 591l2 2l0 2l-4 4l-2 4M201 612l-4-5l-1-4l2-6l1-6M199 591l-1-2l-5-2M189 581l-2-8M213 586l-8 11l0 6l-4 9M595 616l-6-1l-4 1l-3-1l2-8M579 593l5 0l3-3l3 3M509 613l3-4l5-4M519 601l2-6l2-3l2 0l1 7l4 6M531 613l5 2M615 605l-4-4l0-4l10-5l2 4M479 596l-1-1l2 0l-1 1M491 604l-3-3l-1-4l2-2l4-1l2 1M495 595l1 4l-1 2l-4 3M561 614l-4-7l0-2l2-1M625 605l-1 0l1-1l0 1M611 606l1 3M465 616l-2 0l0-3M466 613l-1 3M625 619l4 2l-2 4l0 8M573 621l-2 0l-2-2l1-2l3-1l2 1M575 617l0 2l-2 2M477 639l-3-2l1-4l-2 0M473 633l-4 2l-3-2M481 629l5-6l2 4l-2 6l5 2l-2 2M489 637l-12 2M107 627l0-4l5 2l0 4M596 639l1 0M524 659l3-6l-1-6M543 656l-4 6l-11 3M545 700l-6 3M395 657l0 1M397 659l6-3l10 5M433 665l0 2l2 2l6-1M441 668l4 4M433 707l-1 6l1 6l-4 0M498 663l1 4M587 675l-6 2l-8-1M577 670l2 1l3-2l-2-4M259 655l1 2M282 741l0-4l5-2l1-2M291 731l4-1l3-3l0-2l-3-2l-6 0M294 711l-1-3l-4 0l-2-1M309 674l-3 7l1 6l-1 4l-3 1l-4-3M297 693l4 3l4-1l4 2M317 731l-6-4l-6-2l-2 2l-3 10l0 6M344 665l-5 4M645 685l-2 0l-4-7l-2-1l-8 1l-2-5M627 673l-4-3l-2-3M627 669l12 0l6-1l4 2M229 686l5-3l0-2l-2-4M248 669l5 8l-6 1l-4 6M243 684l-6 2l-2 3l-8 4M378 671l-1 2M335 683l2-5l4-1l2 1l3 5M365 705l-4-4M341 705l-2 4l-4 2M451 711l-2-2M607 730l-2 0l-4-3M604 713l3 1l4-2l2 1M613 713l5 6l1 4l-2 3l-6 1M611 727l-4 3M467 735l-2 4l-6-1l-2 5M214 739l-3 3M537 739l4-8M557 747l-4 1l-4 5l1 4l-1 2M369 743l-6-2l-1-2l4-8l3-1M294 737l-1-3l-2 1l2 3l1-1M249 739l-2-2l2 0l0 2M223 743l2 0l1 2l-1 3M631 751l3 2M286 791l-3-3l-6 5M306 779l0 4l-3 4l1 2M467 791M547 816l1 1l-3 4l0 2l2 2l2-2M549 823l1-6l3-1l4 1M558 821l-2 4l0 4l-5 5M471 847l-2 0l-3-4l1-4M467 839l0-6M469 830l6 3l4 3l4 0M483 836l1-3l-2-6l-3-2M489 838l-6 3l-7-4l-3 0M473 837l2 6l-4 4M489 847l-2-1l0-1l3 0M490 845l-1 2M1600 371l1-2l4 1l4-5M1584 355l2 4l7 1M1598 367l-1 3l2 3l1-2M1583 446l1-7l7-4M1605 403l-5-10l-5-2l-3 2M1587 403l-2 3l-2-1l-2-2l-1-6l-1-1M1579 396l-4 0l-1-1l0-2M1569 385l-2-1M1567 393l-2 2M1531 401l-8 2M1574 435l-3-1l-6 1M1563 433l1-4l-1-6l4-5l2-1l4 5M1573 422l4-4l6 3l2 0M1645 378l1-9l2-6l-3-6M1631 365l11 10l0 2M1591 375l-2-4l-1-6l-5-3l-3 5l2 6M1582 373l3 2l4 1l2-1M1583 383M1569 407l-4 0l-2-1M1563 403l2 1l6-1l0 2l-2 2M1579 405l3 4l-3 2M1439 455l2 0M1567 453l0 2M1437 473l-2-4l-4 1l-2 3M1429 473l2 1l6-1M1453 482l0-5l-2 0l-2 2M1607 403l-4-10l-6-5l-2 0l-8 2l-4-1M1599 381l4-6l6-6l4-6M1613 363l3-2M1651 377l-4-6l1-2l5-10M1653 359l-2 1l-2 0l-2-5M1627 359l-4 3M1629 368l2 0l4 3l4 6l0 7M1579 383l-4 2l-6-4l-4 0M1579 373l0 2l-4 2l2 0M1577 377l2 3l0 3M1527 379l-2 3M1593 373l-2-6l0-2l2-1M1593 364l2 7l-2 2M1533 391l-4-4l2-4l4 0l0 6M1629 393l1-4l-3-3l-11 5M1627 394l2-1M1525 395l1 0l-1 0M1456 469l-3 4l-4 1l-8-3l-2-10l4-4M1443 457l1-4M1423 469l-4 9l-1-3l-2-2M1569 428l-2-1l0-4l3 2M1427 485l4-8l4-1l4 1l1 2l-3 4M1437 483l-6 2M1409 517l8-8M1410 543l20-18l4-6l3-8l-2-1M1435 510l-6 5l-1-10l-1-1l-6 5M1421 509l-11 20l1 6l-3 8l1 1l1-1M1383 561l15-24l-1-10M1393 528l-10 8l-1-1M1379 537l3 0l-3 12l4-2l-2 14l0 1M1449 531l2-4l-2-1l-5 5M1423 543l-5 6M1439 537M1386 577l5-4l4-1l4-5M1414 585l7-8l2-8l-2-1l-4 4M1417 572l-8 12M1332 585l4-4l1-5l-6 5l-1 4l2 0M1343 597l5-8M1343 587l-3 6l-1 4l2 1l2-1M1313 595l7-6l3-4l-4 0l-6 3l-2 7M1355 615l2-2M1354 609l-3 6l2 2l2-2M1380 655l23-24M1397 626l0-1M1385 626l-2 5l2 2l10-4l-9 16M1359 625l-6 8l-1 4l2 2M1340 667l3-8M1333 621l-4 0M1323 615l-7 6l-1 2M1311 647l-4 6M1283 641l10-7l6-11M1280 641l1 1l2-1M1433 507l-2-9l-6 1l0-2M1441 527l-2 1l-1-1l-1-6l3-12M1448 509l-4 8l3 4l-6 6M1451 519l-3 0l6-10M1457 513l-6 6M1294 613l-7 5l-1-3M1303 602l4 2l6-2l16-9l6-4M1335 589l6-12M1399 501l-5 6M1373 537l-3 6M1344 581l-9 12l-2 4l0 8l-18 10M1315 615l-8 10l-8 6M1385 567l-2-2l10-17l8-8l5-1l-1 4M1405 543l-4 8l-16 16M1421 541l-2-2l2-2l1 2l-1 2M1413 567l0 6l-6 11M1431 611l2-3l4 3l2-1l13-17M1445 594l-8 6l0-5M1438 559l-7 6l-1-2l2-4M1439 549l4-3l2 0M1455 603l-5 10M1373 550l0-3l0 3M1371 553l-1-2l1-1l1 1M1321 579l-4 2l-1-2l2-8l11-6M1329 565l0 2M1383 569l-1 0l1-4l2 2l-2 2M1369 575l2 2M1384 583l3-3l2 1l-3 8M1361 619l-11 14l-5 11l-2 0M1343 644l0-1l0-7l-4 6M1343 602l7-11M1352 605l-4 8l-7 5M1387 594l2 1l-1 2M1357 649l-2-2l1-2l9-16l2-1l2 4M1369 632l2 0l10-9M1361 646l-4 3M1416 631l-8 16l-16 16M1276 637l1-2l1 2l-1 3M1366 663l3-3l2 1M1257 710l8-4l2 5l12-6M1279 705l22-18M1297 682l-16 7l-8 2l-7 4l-5 4M1261 699l-8 10M1321 699l-1 2l1 0M1226 701l1-2l-1-2l-7-1M1251 697l-3 0l3 0M1270 739l-1-2l-4 1M1261 739l-2-2l7-6M1273 721l8-8l-2-1l-14 5M1241 739l4-1l4 5l8-2M1285 740l-12 4l-1-1l4-8l0-2l-2-2M1283 707l1-2l21-15M1327 684l2-2M1331 678l-6-5l10-9l10-3M1353 663l1 8l-9 7M1317 698l-10 8l-16 9l-4 4M1287 719l-2 4l4 0l6-3M1331 705l-12 5l-3 3l0 4l-15 9M1371 691l-2 0l-7-2l8-8M1335 662l-4 0M1227 705l5-6l1-6l-2-2l-8 0M1223 691l6-8M1243 691l0 2l-6 9l-6 4M1317 671l-6 5l-11 3M1295 681l-2 0M1273 684l-4 4l-6 3M1355 682l-2-1l1-2l3-2M1287 683l-1 0l1-2l1 2l-1 0" stroke="#E37100" stroke-width="1.55"/><path d="M158 215l1-2l-2-3M145 215l8-1l5 1M217 216l-8-5l0-2l2-2M201 209l-5 6l3 6l-3 4l1 3l4-1M209 228l4 0l4-5l3-2M332 241l1-2M430 227l3-4l2-4M420 219l-1 6l1 2l7 1M125 217l2 4l-2 5l2 1M90 235l0 6l-3 2l2 1l6-1M161 222l0 5l-4 4M159 245l4-2M317 228l2 3M117 233l-3 6l7 6l3-2M253 234l-4 0l-4 3l1 2M246 239l3 4l2 0M310 239l-1-2l-1 2l2 0M405 236l-5 5l-1 5l-2-1l-4-3l-8 1M112 239l-1 0l1 0M175 249l-2 2l-8-2l-2 3l-4 2l-10 2M135 247l-4-3l-1 3l6 8M136 255l3 1M369 253l4-2l-2-1M365 277l8-3l3-3l-7-8l0-3l-2-1M363 277l2 0M261 275l4 1l0-1M341 275l4 4l1-2M142 309l1-4l-1-8l-4 0l-1-2M91 276l-6-2l-3 1M84 289l3 1l4-1l2 1l-3 3l1 4M91 297l2 4l4 4l6-1M103 304l6 2l1-1l1-9M125 299l-4 4l2 4l16 3l3-1M248 293l5-2M446 283l0-4l-2-4l-3-3M441 272l-4-2l0 9l-4 6l-1 8l3 2M383 272l-2 0l-1 1l3 1M285 301l4-5M157 291l-5-4l-1 0l-1 2M150 289l1 5l6 1M405 321l4-2l0-6l-4-8l-4-1M99 323l2-2l-1-2l-5-3l-1-7l-3-1M91 308l-2 3l3 6l1 8M187 337l2-3l8-1l0-6l-4-7l-2 0M161 333l-1-4l1-3l8-1M158 349l0 2l-2 4l7 0M163 355l3 2l1 2M325 316l-2-3l-6-2l-6 3l-4-3l-2 2M236 329l0-6l-1-3l-11-3l2 6M432 337l3-1l8 1l4-5l0-3l-6-10M87 331l1-4l-3-1M381 324l-6 1M249 349l18 8l2 14l4-2M326 355l-3-2l-6 3l-6 0M282 351l0 4l5 6l2 0l4-5M334 359l-1 4l2 4l-2 6M333 373l1 4l-1 3l-6 1l2 3M462 351l-1-2l0 2l1 0M115 405l-2-3l-6-1M458 367l-1-6l-1-2l-5 0l-4-1M447 358l-10 6l-1 3M491 365l-2-2l-4-1M478 365l2 8M513 399l2 2l3-2M441 383l-2 0l2 0M499 383l-2 2l0 8l-4 10M271 385l-1 2l1 6l4 1M369 399l-4-1l-4 2M442 403l3-6l-2-2l-6 0M437 395l-2 2l4 4M489 434l7 5l6 2l1 2l-1 4l1 6M519 437l-2-1l-4 2l-6-3M497 421l-2 2l-8-4l-6 0l-3 4l0 8M172 427l-3 4l-6 1l-6 3l-2-2l1-4M149 430l-2 0l-4-4M100 427l-2 0l2 0M504 431l1-4l-4 2l1 2M519 429l-2 0l2 0M116 491l9-5l4 0l4 3l1-2M126 467l-1-3M104 441l7-4l0-2l-8-3l-3 3l1 4M91 453l-1 8l3 3l8-5M427 448l-2 1l-2-2M192 455l2-2l-1-1l-2-1l-2 1M189 452l0 4l2 0l1-1M211 465l2 3l2 1l2-2M305 465l0-2l-3 0l1 2l2 0M247 491l-2-4l1-6l-5-1M225 476l-2 0l-2 3l1 4M117 470l-4-1l4-1l0 2M192 479l-3-2l-1 2M365 479M75 513l0-2M448 509l1-1l4 0l8 3l4-2M447 491l-14-6l-7 2M174 511l2-6l-2-2l1-4M175 499l-1-4l0-6l-1-2l-2 1l-1 3M159 516l-1-1l-1-3l-4 2l-2-1M151 513l-2-2l-1-6l-5-6l-1-6M140 509l-4 4l1 2l12 1M149 516l3 3M355 491l2 2l0 8l2 2M331 494l-4 0l0 1l4 2M249 497l-3 0M431 507l4-1l4 3l0 2l-6 2M628 517l0-4M199 529l1-2l-1-3l-6-2l-4-6M588 519l-1-2l-4 2l5 0M316 541l3 1l1-1l-1-4l-2-1M279 527l-2 2l2 2l4 12M543 522l-10 0l-1 1l1 2M496 527l-7-6l-2 1l-1 3l3 4l0 6M348 531l-2 2l1 2M617 539l1-2l-1-3l-10-5M509 553l2 0M351 621l14-2l1-2l-1-12M335 586l-5-5M325 607l2-1l3 3M343 609l3 4l0 2l-4 4l1 2M471 584l-4 1M580 573l-2-2l-3-1l-4 3l2 5M573 578l2 2l3-1M504 599l9-3l4-5l-4-13l-6 2M217 598l8 7M543 599l4-4l-2-5M208 611l1 4M213 619l2 4l-1 4M215 631l-4 2M203 630l-5-3l2-6l-1-2M199 619l-2-1M184 621l10 8M427 630l-2 1l-4-3l-6-1l-2-6M417 645l4-5l4-2l2 1M484 613l2-2l-5-5M481 614l3-1M500 615l0-2l-3-6l-2 0l-2 2M123 637l5 2M538 635l4 4M109 615l1-2M592 637l3-4l8 1l2-6l3-3M608 625l-1-2l-3-2l-3-4l-3 4l-3 1M595 622l-6-3l-8 1l-6 7l3 4M348 653l1 2l5 4l1 4l-1 2l-6 4M547 660l-8 7l0 2l4 3M543 672l6 0M316 687l4-4l1-6l2 0l0-2l-4 3M312 687l1 6l4 4l2 1l0-1M327 681l-3 2l0 2l1 2M325 687l2 0M565 695l-2-1l-1 1l1 2l2-2M276 717l-2-6l2-2l-1-1M261 715l2 9M627 715l1-4l-1-1l-2 1l0 2l2 2M617 745l-14-5l-2-5l-4-2l-2 2M585 752l-2-3l0-8l-4-2l-4-8l-1-4M574 727l1-9l-2 3l-4-1M563 753l-4 0l-2 2l3 4l1 6M443 721l-5 4M229 727l-3 2l0 2l3 5l2 0l1-1M588 739l1-2l-1-2l-4 2M184 745l-1-4l-2 2M252 749l0-2l-7-2l2 2l5 2M215 751l2 0l1-2M521 761l2 1l3-1M374 757l-1 0M488 771l1-5M263 767l0-4l-2-2l-4 4l2 2l4 0M516 765l-7-2M456 783l0 2l1 4l3-2M445 834l-1-7M485 791l-1 4l-1 1l-8-2M452 795l2 10l-1 4l-2 3M429 801l-4 6l-4-4l-2 0M413 806l-4 0M439 829l0 5M282 803l1-2l-2-1l-5 1M276 801l2 2l4 0M545 842l-2-2M91 207l-2-4l2-4M85 202l2 1l2 4l2 0M394 249l3 3M401 257l4 4l0 6l2 3l4 1l2-2M413 269l6 0l2-2l-3-6M423 259l-2-3l-2 0l-3-5M416 251l0-2l2-2l-3-6l0-3M425 230l2 3l2 0l2-4l4-4l3-10M438 215l3-4l10 2l4 3l8-3M463 213l8-2l4 4l6-3l7 1M413 218l-4 0l-1 1l3 12l-1 2l-7 1M386 233l3-4l0-2l-6-6l-4-1l-2-4M377 216l-4-2l-3-7l1-2M379 211l0 2l4 1l4 4M393 213l9-4M303 195l-1 2l4 4l1 8l-1 2M306 211l-5 4l-1 10l1 2l2 0M333 221l-5-12M325 207l-8-5l-1-3M340 201l-2 8l1 4M362 255l1 12l-6 8l1 4l5 1M118 303l3 5l12 2l12 4l-1-7l1-10M171 305l2 0l1-2M168 241l1-6l-3-6l5-9l5-5l1-6M197 209l-3 4l3 8l-3 6M194 227l1 2l2 1l8-2M205 228l10 5l3 8l0 4l3 4l-1 6M222 315l0 4l7 9l8 6M237 334l3-11l-4-12l1-2l8-4l5 2M250 307l-1-6l7-8l-1-6M263 296l6-1l3 4l0 4l2 2M274 305l3 0l12-4l4 1M307 329l4 3l8 3l5 0l1-2M337 299l1 8l-3 6l-6 3l-4-5M307 307l-2-4l2-10l-3-6M304 287l-5-3l-1 1l2 4M294 289l-2-6l-1-2l-4-2M287 279l-8 2l-1 4l-6 2M272 287l-1 2l0 3l-2 0M269 292l-4-5l3-2l2-4l-1-8l-3-6M254 273l1 2l-2 1l-4-1l-5 2M242 269l2-4M263 209l-2-5M215 213l-2-2l0-2l5-8M121 205l-8-1l-2 1l-2 13l12-2l3 5M145 264l2-3l2-1l6 3l2 2M157 265l1 4l-2 8l1 6M147 291l-4 1l-3-1l-5-8l-8 0l-2-2M79 319l-2-1l-6-1l-2 2l1 2l2 2M72 323l-1 6l6 4l-5 4l1 2M73 339l2 2l2-2M311 188l-2 1l-2-2M55 242l2-3M74 271l1-8l8-2l1-6M84 255l5 3l4-1l0-6M89 222l-6 1l-5-4l-5-1l-4 3l-10 2M161 202l-2 1l-3-2M420 201l3 3l2-1M159 207l0-1l1 1l-1 0M70 211l0-2l-3-1l-2 3l2 2l2 0M167 220l-4-1l-3-10l1-1l3 1M164 209l4 6l1 2l-2 3M491 225l-1 2l1 1M219 228l-2-1l2-2l1 2l-1 1M351 237l2-2M351 231l-2 2l0 2l2 2M445 243l3 0M583 359l2 5l3 1M425 249l4-6l-2-2l-2 0M275 247l0-2l-5 2l3 1M476 265l3-4l4-2l-1-2l-1-1l-4 0M352 259l2-2M282 269l7-4l1-4l-5-7l-8-3l-2 2M455 257l1-2l-1-1l-2 1l2 2M309 273l2-2l1-4l-7-7M305 260l-4 3l0 2l6 8M345 263l1-2l-5-1l-1 1l3 4l2-2M443 315l-9 0M441 298l4-3M427 262l-4 1l-1 2l0 6M422 271l1 2l2 1l0-4l-2-1M462 265l-2-4l-3-1l-3 5l1 2l6 0M181 267l0-4l2-1M348 281l4-8l-1-3l-2-2l-4-1l-2-2M344 281l1 1l3-1M373 300l-2 1l0 4l4 0M382 339l5-10l12-5l10-2M409 322l2-1l1-2l-1-4l2-5M371 327l-1 2l2 4l4 6M376 339l3 1l3-1M457 314l3-1M154 393l-3-4l-3-12l-3-4l0-8M169 367l2 0l3-2l1-6l3 0l1 2M189 353l2-2l6 1l6-1l1-2l-6-8M198 341l4-4l-2-4l-2-8M177 312l-7-1l-2-4l-3-2l-2 1l-4 10M159 316l-8 2l-2 6l-4 1M149 341l-2 2M134 383l3 0l4-2l2 4l-1 4l3 5M145 394l6 0l2 1l1-2M103 412l2 1l3 6l1 5M114 417l5-2l1-2l-5-12l-9-2M86 401l-3-6l-10-10l-4-2l-3-4M335 401l2-1l1-3l-1-3M335 388l6-1l3-2l-3-4l2-10l10-6M353 365l1-4l6-8l5-3l0 5l-3 8M345 328l-2 1l3 8l0 8M349 343l2-1l2 1l0 2l-10 14M343 359l-2 0l-4-2l-6-1M331 356l-6-5l-6 1l-4 3M287 345l-2 1l-2-1M275 326l-6-3l-14 8l-2-4l1-4M269 373l5-4l2-10l-1-2M275 357l-4-2l0-4l6-4l4-1l2 1M289 363l6-6l2 0l1 2M306 375l-2-6l7 0l3 2l-3 8l-2 1M181 324l1 1l-1 2l-2 2M169 327l2 2l-2 8M533 329l-2 0l1 2M302 337l-1-3l-2-1l-2 2M297 335l2 3l3-1M393 367l1-2l-2-4l1-2l6-4l-1-6M386 357l-4 6l5 4l6 0M235 346l3-1l1-2l-4 1M297 345l2 2l-2 2M459 351l2 3l2-1M217 385l6-2l2-6l3-4l-1-4M227 369l-2-2l-2 0l-4 3l-2-1l-1-2M200 365l15 10l2 4l-2 6l2 0M405 363l1-4l0-4l-5 0M444 387l5-5l3-7l7-8l-1-8M534 405l-1-4l4-1M542 389l-5-11l-6-2l-6 0M525 376l-1 1l0 2l4 4l-3 1M502 379l-5 1M493 370l0-5l-2-2l-6-3l-4 0M497 409l6 4l5-8l0-4l1-2M509 399l4 10l1 2l3 0l2-1l0-2M519 408l-4-1l-1-2l7-6M521 399l2 0l6 4l1 2M110 361l-1 2l2 3l2 1M113 367l2-2M317 367l12-3l2 3l0 10M472 373l2-2l-1-4l-2-2l-2 6M469 371l2 2l1 0M238 373l-1-4l-3 0l-1 2M233 371l2 3l2 0l1-1M367 373l-3 0l1 1l2-1M171 385l1-4l-2-2l-4 0M166 379l-1 2l2 4l-2 4M565 381l-2 0l2 0M273 467l-4 6l5 4l3 4l2 1l2-1M281 481l1-10l-10-10M271 455l-4-8l0-6l-2-6l2-4M275 420l2-1l0-10l3-4M280 405l-6-8l5-4l3-6l-5-5M223 399l6 3l0 3M227 425l2 5l5 3l-2 8l2 2M244 533l9 6M449 467l-2-2l-8 1l-3-9l1-4l-7-4M448 401l-1-6l-4-3l-8 1l-4 6l-2 0M399 389l-6-2l-2-5l-4 0l-6 2M373 399l-8-3l-8 2l-1 5l7 4l-1 4M381 435l5 10l9 0l2-2M405 420l8 0l2 2l4 1M405 443l4 4l-1 4l-5 4l-4-2l-2 0M397 453l-2 4l0 2l3 6l-1 8M397 473l-2 4l2 3l2 1M568 433l5 4l6-4l4 1M583 434l3-11M605 414l2 0M614 439l3 5l2 2l4 0M297 391l1-2l-3-2l0 2l2 2M482 395l3-2l-2-3l-2 0M456 641l-2-2l2-4l0-2M456 633l-2-2l-2-10M459 602l4 1l6-3l3-3l5-10M477 587l-4-4l-6 1l-3-1l0-6M464 577l-14-10l-2-4l0-4l-1-2l-1 0M439 579l4 4l-3 6l-6 4l-1 2M433 595l2 2l4 0l2 5l3 1M485 435l4 1l11 7l1 10l-5 4M496 457l-1 2l1 2l5 3M515 463l-1-2l2-4l0-6l11-4l-1-4M527 424l-4-7l-2 2l1 6l-8 2l0 2M514 429l2 4l-3 2l-5-2M508 433l0-2l1-10l-2-7l-4-1l-8 7M467 411l0-2l-4-1l-4 1l-2-5M457 404l-6 0l-2 1l1 10l-1 3l2 1M466 427l0 4l-5 9M468 463l3 6l-1 2l-7 4l0 7l-2 1M439 486l-6-3l-7 2l-5 5M397 557l-4 2l-4 4l-5 2l7 14M381 636l-2 3l7 6l9 3l10 2M477 413l1-4l-1 0l-2 2l2 2M57 410l1 1l-1 1M593 421l2 4l4-2M179 455l2-4l-3-14l1-1l2 0l4 2M163 431l-4-1l-6-8l-6 4l-6-2l-6 3M135 427l-8 2l6 8l8 3l10 0l10 3M161 443l6 4l4 5l8 3M172 531l7 4l2 0M189 513l-2-1l-3 3l0 4l3 5M187 524l-8-1l-2-2l-2-4l2-3l5-1M182 513l-1-2l-4 0l2-6l-2-4M93 476l2-1l-1-4l1-1l2-2M97 468l4 1l1 6l-4 2l0 2M98 479l11 15l8 0l8-6l4 1M129 489l2 2l2 4l0 8M133 503l-3 8l11 8l2 6l0 6l-5 6M307 431l-2-1l-2 2l-4-1M299 431l-3 4l-7 6l-1 4l5 11M331 447l2-1l1-3M322 435l0 6l5 6l2 1l2-1M597 499l6-4l6 2l1-2M610 495l-3-6l-1-8l3-2l9-4l0-2M592 483l-3 4l-6 2l-1 4M582 493l0 4l5 4l10-2M192 463l2-6l8-4l-1-2l-4 0l-4-4M193 447l-2 0l-5 6l-1 6M217 471l2-4l4-2l-7-4M507 459l-2-2l2-2l1 2M308 467l-2-6l-5-2l-2 6M245 466l-2 0l-2-1l1-2M242 463l3 0l0 3M535 496l-2-1l0-2l9-6l3-5M513 476l-1 3l12 12l4 14l0 4M528 509l1 2M197 473l0-2l-4-2l0 3M193 472l2 2l2-1M193 483l1-4l-3-4l-2 0M189 475l-4 2l0 4l4 3M189 484l4-1M366 491l-2-4l5-10l0-2l-2-2M367 473l-4 2l-3 10l-1 1l-10-1M505 479l0-4l-2-1l-2 1M61 511l4 0l6 4l4 1l3-3l-1-8M631 484l-6-3l-4 0l0 3M255 492l-6-2l-2-5l2-3l8 2M239 495l-3 0l1-6l2 1l1 3M118 499M137 507M312 515l3-4l0-2l-2-1l-4 4l-2-5M307 507l-2-2l-4 2l-4-1l-1 1M301 510l7 3l3 3l1-1M505 549l3 6l5 4l1 0M514 559l0-8l1-1l5 3l1 6M586 513l-5 2l-3 6l-9 4l-4 6l-2 0M563 531l-2-8l-6-4l-12 1M500 525l-3 0l-3-2l-4-10M502 539l2 4l-2 4l-5 5l-2 0l-6-2M667 522l0-4M550 515l2-2l-1-4l-2-2M631 511l-4-4l-2 0l-2 2M633 519l-2 1l-1-3l1-6l4 2l1 2M319 546l2 3l2 1l1-1l0-2M287 557l4-2M149 518l1 3l0 2l-3 2M257 519M349 565l8-2l6-8l-4-8M359 547l-2-2l5-10l-2-4l0-6M344 531l-2 6l0 6l-2 10l-5 2l1 2M603 551l2-8l2-2l4-1l6 1M593 548l4 0l4 4l2-1M368 689l-4-10l0-2M363 671l3-6M367 605l-2-6l-6-12l-4 1M303 551l-6 6l-6 0l-4 2M203 539l3 4l-3 4l-2 6M203 553l6-2M285 589l4 3l6 1l3 2M315 608l6 3l4 1l1 3M331 618l4 1l1-2l2-8M338 609l3 0l2 2l0 2M343 613l-3 6l-1 5l6-1l5 2M581 548l3-1M507 545l4-3l1 3l-1 1M411 551M476 559l-1-2l-3 0l2 2l2 0M557 561l1 2l0 4l3 1l3 3M299 564l2-1l2 4l-2 2M534 577l-1-2M529 572l-1-3l-5-2l-4-3l-3 7l-3 3M505 579l-4 5l-2 0l-2-5l-4 0M493 579l-7 6l1 4l2 0l6-1l2 2M497 590l2 8l2 3l6 0M577 585l5-8l0-6l2-4l-1-1l-10 3M573 569l-4 4l1 6l1 4l4 4l2-2M218 743l-1-1l-6 7l0 3l-2 1M187 744l0-1l0-5l10-4l3-3M219 585l0 2l-6 4l-2 10l-5 8l1 8M131 609l-2-2l-2-4l-2-1l1 3M113 607l-8 2l-2 0l0-2M173 627l8 3l4-4l4 1l3 4M192 631l3 8l-1 4M187 760l2 1l8-2l4 1M311 580l-2 0l-4-3l0-2l2-2M307 573l6 2l0 2l-2 3M117 587l2 0l2-2M448 583l3-1l2 1l1 2M606 601l0-8l-5-4l-2-5l-2 1M597 585l0 4l-3 2l-1 2M593 593l2 5M641 638l-5 5l-1 4l2 3M631 651l-1-4l-5-8l-6-1M659 668l-4 3l2 3l8-8l5-1l0-8M544 601l5-6l0-6l-4-2M545 587l-10 0l0 2l4 6M617 589M119 599l2-1l1-3l-5-5l-2 2l-2 4M477 608l-2 2l-6-5l-2 0l0 2M502 613l-3-8l-2-1l-5 3l-1 4M607 644l0-3l4-3l2-3M608 629l5-6l-8-4l-2-6l-2-1l-4 7M549 603l-10 6l2 10l-3 4l-4 10l1 3M535 636l4 2l4 5l11 6M569 632l13 5l3 3M593 641l0-4l2-2l3 0l6 4l0 4M629 613l2-2l1-2l-1-2l-4 2M627 609l-1 2l3 2M293 670l-5-3l1-12l-8-5l-4 0M277 650l-1-3l1-4l5-6l3-1M283 643l-1 4l3 1l8-1M272 659l0 2l5 4l-5 8M272 673l0 2l7 3l10-1M648 623l-9 2l2 2l2-1M520 639l1-4l-1-8l-3-3l-5 3M382 627l0 4l3 2l1 0M334 653l2-2l3-8M331 653l3 0M109 653l-1-4l-3-1l-2 3M254 651l3-3l2-8l5-1l-5-4M251 651l2 1l1-1M475 659l-1-4l11-6l3-6M447 663l-2 0l-2 2l1 2l5 3M449 670l4 2M291 655l9 2M313 657l-2-6l-2 1l-1 3M510 661l1 1l1-1M561 667l1-2l-1-4M551 657l-4 0l-11 10l1 4l8 4M694 771l-1 4M625 697l1-4l-2-10l-1-2l-4 1l-4-6M613 665l-4 3l-6 0l-4 3l-2 2l1 10M623 699l2-2M269 673l-2-3l-4-1l-2-4l-9 4l1 2M319 674l-6 1l-4 5l1 13l9 8M499 681l1-2l-1-3l-4-1l-5 2M419 679M584 683l4-4l-11 4l7 0M575 697l4 3l2 0M257 778l2-1l1-2l-1-4M259 771l6-4l6-10l-6-1M265 756l-8 5l0-6l-3-4M249 683l-2 1l-9 5l-3 4l-1 6l-7-1M227 698l-1 5M243 716l4 4l4 0l2-7l1 0l1 6M255 719l2 2l2 0l-4 3M255 724l2 7l-2 4l-1 8l-3 1M251 744l-6-2l-2 1l1 4l5 6M231 772l-2-3l-4 0l-1 4M323 689l-2 2l-2-2l0-2l2-2l2 4M591 691l-2-4l-3 0l3 4M401 703l1 6M640 697l2-2l-1-4l-4 1l-4 3l4 2M637 697l3 0M677 756l5-1l-2-8M655 698l-4-1l-4 3l-8 3l-1 4M607 710l6-3l3 2l5 6l0 3l2 3M633 739l2 5l3 3l1 4l3 2M257 700l4 1l2 4l0 4l-2 3M669 776l-2 2M658 783l-1 4M633 795l-2 0l-1-4M621 763l1-18l-11-4l-2-2M609 739l5-4l0-4l-3 0l-6 6M575 702l-3 5l0 10l-11 6M558 759l1 8l-2 4l4 3M561 774l2-1l2-4l4 2M591 787l4 1l4-1l2 1M601 788l0 5l-3 4l2 2l5 2M619 803l4-1l6-4l2 0M631 798l1 3l-1 8l8 8l2-2M641 815l-2-8l2-3M436 705l1 4l1 0M452 857l1-4l5-2l3-4l-10-4M471 819l2 1l6-1l-4-6l1-6M476 807l3-1l6 2l4-4l6-11l-5-6M494 783l3 3l4 0l9-5M494 751l3-2M503 744l3-1l5-5l6-1l10 1M527 738l8-1l2-2l2-8M539 727l9-2M471 737l2 4l-2 5l-2 2M469 748l-2-6l-6 1l-1 4l1 6l-1 4M460 757l-5 6l-6 3l-2 3M447 769l2 3l2 0l2-1M453 771l2-3l4-1l2 4l-7 8M454 779l-1 10l-3 8l2 6l-1 4l-4 3M429 798l-6-2l-4 5l-8 4l-2-1l-4-5M437 828l1 3l-3 6l3 4l-2 10M436 851l1 4l10 4l5-2M469 714l-2 1M440 731l11-4l-2-6l2-2l-1-2M441 721l-9 6l-1 2l2 2M383 727l-6-1l-2-4l-4-2l-5 5l2 2M533 729l-2 2M589 727M523 729l0-1l1 1l-1 0M309 749l8-4l5-2l-1-2M357 787l-6 1l-5 5l0 8M389 763l2-2l2-8l-5-4l0-4l-3-3M559 848l-2-3l4-6M582 811l-3 3l-5-1l-1-2l5-4M563 795l-2 0l-1-4l-3-4M550 765l-1-2l-8-1l-8 8M509 760l-2-4M515 787l-2 6l2-2l1-2l7-2M523 787l2 0l4 6M563 815l0 6l-5 16l-7 4M473 756l-2-1l2-3l1 1M474 753l-1 3M445 761l1-2l-1-2l-2-1l-2 0M438 761l-5-4l-1 2l2 4M434 763l1 8l2 1l2-1M479 772l-4 1l-1-4l1-2M481 767l-1 4l-1 1M268 767l3 2l3 0M233 774l0-3l0 3M443 783l0-2l-4-4l-1 4l3 3M441 784l2-1M423 783l1-2l-1-1l-1 1l1 2M315 790l-4-2l-3 3l1 4l3 0M696 801l-1 10l-10 5l-2 4l-6 5M296 819l-5-2l-1 2l1 4M621 836l6-1M634 831l-1-6l-2-3M506 827l5 4M649 883l3 6l-1 6l4 6M659 886l2 1l0 3M396 363l1-4l6 6l6 0l1-2M419 325l1-2l-4-4l-1-4l2-4M417 311l6 5l1 7l2 2M441 342l4 3M448 339l2-8l-3-6l0-10l2 0M456 275l-2-4l2-2l3 1l2 2M461 272l3-1l3-5l6 1l6-2M449 238l-4-2l-3 3l1 4M423 253l2-2l2 0l6 2M433 253l2-2l-4-10l-6-4M455 222l4-5M469 234l8-6l4 4l6 1M526 369l-1 4l-2 2M493 360l-4 0l-6-3l-8 6l-6-2M444 353l-1 4l-1 0l0-6M427 361l-2-4l-2-1l-4 3M419 359l5 8l3 1l6-1M432 383l3 6l-1 2l-3 5l-2 1M409 388l-6 2l-2-3l0-4l-7-4M391 223l6 0l4-6l-2-1M413 213l-2 2l-6 0l-3 2l1 2M105 238l-2 0l-2-4l-2-1M87 221l-3 0l-5-4M84 207l9 4l1-2l-2-6M118 219l2 2l-1 6l-4 5l-6 2l-4 4M279 243l-2-3l-2 1l-4 3l-6-1M265 243l-1 2l1 6l5 6l-1 2M269 259l-2 0l-4-5l-1-3l-3-2M304 239l1 6l-5 6l-5-1M295 250l-2 1l1 8l2 4l-1 0M437 207l-2 2l-9-2l2-8M378 207l-1 4l-2 1M181 214l-2-1l2 0l0 1M183 279l-6-4l2-2l4-1M185 222l-9 7l-3 7l-5-7l5-9l10 1M183 221l1-2l0-4l3-3l4 2M213 237l0 6l4 8l-1 4l1 2M157 227l-2 1l-3-1l-1-6l1-2l3 0M139 246l-4-5l1-4l-4-4M367 245l-4-3l-5 1M99 274l-10-1l-3-2l-2-4M84 267l0-2l3-5l6-1M101 241l4 4l12 0l7 10l-5 7M309 333l16 5l1-3l-1-9l2-4M327 322l3 1M335 323l4-1l4-7l8-8M325 301l-2-1l-2 1l0 4M295 283l-4-5l-4-2l-4 1l-4-1l-4 5M275 281l-2 0l-1-4l0-6M312 273l4-8l-1-2l-5-2l2-12M365 295l2-3l11-5l3-5l7-3M387 270l-10-4l-2-3l2-7l6-1M409 274l2 0l4-3l4 2l1 14l3 2M386 317l-5 1l-4 4l-7 3M341 329l3 6l-1 10l4 6M347 351l-4 5l-2 1M343 256l-2-1l2-1l0 2M76 287l5 6l2 8l5 2M88 303l-1 8l1 10l-3 2l-2-1M65 337l4 2l3 4l-1 4l-4 2M67 349l-1 2l1 2l4 1l0 5M79 367l9-6l-2-8l-10-8M101 326l6-1l5-2l-1-6M131 311l0 3M129 354l-2 1l0 4l-2 4M135 387l4 2l10 12l0 6M159 427l-4-6l-2-2l-8 4M103 393l-6 6l-2 4l-2 0l-6-4l-1-4M86 395l-5-4l-7-8l-1-4M129 258l10 2l6 7l2 0l3-4l2 2M152 265l3 10l-2 3l-2 1l-2 4M77 270l0-2l1 1l-1 1M401 275l1-2l-3-2l-2 1l-1 3l1 1M622 455l-1-6M364 283l3-3l6-1l1 0l0 4l-1 4M373 287l-2 0M208 349l2-6l-9-10l1-4M229 335l4 0l2 3M219 349l-3 6l-5 2M413 297l-3-4l1-1l4 1l0 4M415 297l-2 0M364 307l3 2l10-2l4 2M443 302l6-2l0 5l-2 2M481 326l4 3l2-1M390 305l0-2l-3 0l1 2l2 0M251 320l-3 1l-1 2l-2-1l-5-3M291 304l4 3l3 8l4 6M147 321l-2 1l-1-3l3-1l0 3M119 330l4-1M261 325l-2 1l-2-1l2-1l2 1M541 361l2 1l1-1M247 337l-4 1l-3-1l2-4l-2-4l1-3M499 339l3-6l-3-3l-6 3M493 333l-2 2l4 6l4-2M205 345l-2-2l2-1l1 1l-1 2M241 373l-1-4l-3-2l-10-1l-2-1M235 357l6-2M259 367l-8 1l0 3l2 3l4 1M280 349l-1 8l6 6M110 367l3 1M221 461l-2 0l-1-2l2-2l-1-4l1-4M211 446l-4 7l-4-3l-4-2l-7-5M146 369l1-4l2-1l4 0l4 4l2-1M187 362l2-1l4-5l2-1l2 4M215 379l-3 8l1 2l3 0M227 431l5 4l-3 8l-3 2l1 6M227 451l-4 6M359 361l0-2l0 2M157 364l0-1l1 0l-1 1M455 394l-6 1l-4-4l0-2l6-7l3-7M490 389l-1 12l2 12l-2 1M91 370l6 3l2-2M312 373l-1 3M329 376l-2 1l-2-2l-1-4M324 371l1-1l2 0l1 1l1 5M287 400l-6 1l-4-2l-1-2M282 381l1-2l3 6l5 4M291 389l2 4l-4 3l-2 4M369 621l2-3l4-1M369 605l-7-20l-9 1l-2-4M339 587l-2-7l-6-3l-4-4l-3-14l-3-6M266 481l1-4l2-1M319 448l-7-3l0-4M268 429l-5-2l-4 1l-1-1M279 425l2-16l2-1l2 2l4-3l3 2M319 439l0 2l10 12l6-5l1-3M397 448l3-3M408 475l3-5l4 1l2 2M445 487l-6-2l-4-6l-6 2l-4 1M425 482l-2-3M389 539l-1 4l3 3l2 6M545 488l4-3M569 437l2 6l0-2l6-5l2-1M579 435l4 4l0 5l-7 3l2 12M599 413l-4 0M469 416l-1-1l2 0l-1 1M495 418l-2 1l-1-2l-1-2l2-1M593 427l0 4l2 0l2-4M597 427l4-3M105 425l-2-2l0-2l2-3M105 418l1 3l-1 4M455 420l7 3l1 6l-2 5M67 429l5 0l3-5l4 0l6 3l4 0M89 427l0 4l4 4l-2 8M86 463l2 10l-3 10M71 481l-4-4l-4 2l-4-1M91 491l4-4l0-2l-6-4M129 497l2 2l0 4l-3 4M93 530l-2-4l-5-1M81 523l-6 2M105 645l-3 2M493 447l-2-3l-4 2l-1-7l1-2M499 451l-4 1l-2 4M564 439M133 479l-2 1l-3-1l-1-2M127 477l1-10l-2-6M133 453l2 0l6-2l0-4M141 447l2-4l4-1l4 0M185 452l-2 0l0-3l4-6l2-1l1 1M567 445l2-2l-2-1l-2 1l2 2M431 445l4-2l5 2l1 2l-2 2l-4 0M206 465l-3 4M377 461l0-2l0 2M62 475l3 2l1-2M505 512l-6 4l-2 4l-2 0l-2-7l2-6M491 483l1 2l-3 4l0 1l4-4M497 483l2-1l6 0l4-1l9 6M523 491l2 8l-2 8l1 4M531 517l-1 2l-3 3M155 469l7-2M367 470l-6 3l-4 11l-4 0l-4-3M349 481l-4 4l-6-2l-8 0M317 500l6 4l6-3l2 0l1 2M332 503l1 6l2 1l8-3M150 471l0-2l-3 0l0 2l3 0M207 514l-2-2l-4 4l-6 1l-2-1l-4-6M189 510l-6-4l-1-3l1-4M218 483l4 4l1 2l-5 6l1 3M619 494l-4 0l-6-3l-1-2M615 478l2 0l3 1l-2 4l2 4M635 640l-2 1l-2-2l2-4M618 613l-1-3l-2 0l-2 3l0 4M599 579l-3 0l-2 8l-3 3l2 7M523 565l0-2l8-1M554 563l0 4l3 4l-1 4M556 575l3 1l4-2l3 1l0 4l2 4M568 569l-1-4l-4-2l-2-2l-1-4M560 557l2-4l-1-2l-5-2l0-6l1-2M557 541l4-3l4 1l4-1l4 5l3 2M593 551l8 3l6-3l1-8l3-1M611 542l6 1l8-10l2-1M650 613l-3-2l-6 5l-6-2l-1-3M634 611l2-4l0-8l-3-4l-3 2M630 597l-2 2l1 6l-5 4l1 5l2 2M615 521l-10 4M600 515l3 3l4-1M489 509M483 556l-4 1l-4-3l-4 0M471 554l-6-5l-6-1l-3-3M478 537l-3 6l2 4l6-2l2 1l1 7M307 519M587 527l1 2l1 6l-2 2M176 549l0-2l-3 1l-4 7M169 547l0-4M189 531l6 1l6 3l1 8l-2 6l-1 2M189 555l-4 2M257 539l0-2l10 11l0-3l2-1M317 555l-8 0l-2-2M475 596l1-3l5-4l-4-9M481 577l6-4l6 2l-4 4M489 579l-4 3l-2 3l0 6M501 567l-2-2l-2 0l-2 2l-6-2M489 565l0-2l6 1l2 1M497 565l2-1l4-10l2-1l10 14M515 567l0 2l-1 2l-5 3M199 563l2-1l2-3l2 4M204 609l1 6l-2 1M622 583l-8 4l-1 2l2 2l6-2M621 589l6 5l4-1l2 2l3-2M638 589l1-3M419 565l-2 1l-3-3l5 0l0 2M280 811l1-2l5-2l2-4l0-8l-5-4M277 769l-1-4l-4-2l-1-2l6-6l2 2M279 757l0 4l3-2l-1-2l-2 0l-2-2M290 745l-1-1l-4 2l-2-1l-4-6l-4-3M279 719l4-12l-4-4l1-4M249 680l-6 5l-5 2l-7 7l-6 2M239 745l2 1l2 3l0 2M235 762l-6 2l-7 5M215 771l0-4l-4-2l0-2l2-6l8-6M221 751l1-2l-2-4l1-4l-2-2M219 739l-2 1l-4 5l-2 1M227 667l2 0M236 609l-5-5l-2-5l-1-8l3-3M236 573l1 2M301 644l9-5M255 653l4-2l2 3l2 0l1-1M267 645l3 12l-1 2l-4-1M265 658l-14 9l-1 2l3 5l18 3M290 665l1-5l4-1l6 3l4-4M317 655l-2-2l1-2l1-2l2 0M322 663l1 5l-4 3l-6 2l-4 4l-1 4M341 700l2 7l2 2l2 1M348 723l3 2l4-4l4 2l2 4l-10 3M351 730l-1 1l1 4l-4 0M305 729l-3 8l0 6l-3 6l-4 2M308 759l7-2l0-2l-3-4l7-5M351 769l-1 6l4 6M340 791l-7 1M335 806l4 3M625 572l-4-3l-1-2l1-1l5 1l0 2M637 575l-2 0l-1-2l3-1M495 575M391 768l3-1l-1-8l4-4M425 698l-1-3l-5-3M415 689l2-2l4 3l1-1l1-16M423 673l-1-2l-5 0l-1 2M405 688l-4 3l-8-5M385 703l3 4M384 725l-6-2l-2-4M371 688l-4-7M360 651l2-4M405 654l6 4l2 1l8-12l12 2M437 659l0 8l2-2l2 0l8 7M483 665l0-4l-5-4l9-8l6-6M507 641l-3 4l3 1M520 655l4-4l-3-6M523 627l-8-6M505 602l2 5l2 1l6-3l2-3M539 619l-9 14l3 5l4 1l3 2M530 669l5 1l2 5l4 1l4 6l2 0M547 702l-2 0l-2 1l-8 8M507 721l2 0M509 698l-4 1M483 710l1 5l-3 3M474 723l1 6l-5 6l-2 4l-7 2l-2 1M419 781l3 4l9 1l4-2l2 1M185 600l3 1l1 2l-2 5M473 603l-1-2l1 0l0 2M468 615l-5 6l-2-2l-2 0l-4 3M572 613l1-2l-2-3l-4 1l-2-2M248 611l1-4l-2-1l-5 5M242 611l3 1l3-1M489 616l7 7l-3 4l0 2M493 629l3 4l-1 2l-4 5l-10 0M185 629l4 0l2 2l-2 5M185 764l-2 1l4 0l10-4M579 657l-6 2l-2-4M567 636l4-1l4 3l6 1M343 651l-2 0l-1-2l0-2l1-2l3 2M633 680l-4 4l-2 0l-2-8M616 665l1-2l8-1l4 5l6-1M289 652l-3-1l3-1l1 1M599 663l1 4l-1 2l-5 2M594 671l1 5l-20 3M331 660l-2-4l2 0l2 3M343 669l-2 4l11 16l-1 2M273 665l0 3l-2 1M607 665l0-1l1 1l-1 0M675 676l1-1M587 725l-3 6l-5 0l-2-4M584 695l-2-2l0-2l4 0M593 687l-3-4l3-3l2 3l0 4M507 690l1-1M434 707l1 5l6 1l2 4l-10 6l-4 1M635 704l-2 0l-1-3l3-2M491 713l-1-2l2-2M365 722l-2 0l-1-1l1-2l2 0M617 735l6 5l8-1l2 7l3 3l3 6M639 755l-2 1l-2 3l0 4l2 3l2 1M680 763l1-2l5-2l-1-3M243 720l0 3M251 725l4 4l-2 3M589 743l2 0l2 2l0 2M361 756l6 5l1 2l-1 2M513 774l-2-1l-1-2l4 0l-1 3M473 785l-4-2l6-2l0 3l-2 1M499 795l-2-2l1-4l9-4l4 0l1 2M512 787l-3 4l-4-1l-6 5M471 793l-2 2l-2-1l-4-3l0-2M539 805l4 1l4 8l4 1l4-3M555 812l5 3l1 4l-3 12M689 812l-12 8M677 813l0-2l-4-5l-1 3l3 4l2 0M393 815l-2 2l8 6M403 829l1 4l3 3l1 3M531 823l0-3l0 3M425 841l1-2M425 832l8-2l1 1l0 2M433 846l-4 1l2 3M450 861l3-2l3-4l3-1M503 828l2 1l3 4l-5 8l2 8M505 849l4 3l6 0M479 832l1-1M455 842l-2 0l-2-3l0-5l2-2l5 3M549 849l-2-2l2-3l2 3l-2 2M640 889l7 1l1 1l-2 4l4 4M281 243l0-2l-4-4l-2 1M275 238l-4 4l-3-1l-1-3M267 238l-6 4l-1-1l0-6M260 235l-2-4l-8-4l-1-2l2-2M298 245l-1 1l-6 1l-4 2M189 215l2 3M173 228l-2-1l2-4l4 2l-4 3M397 229l0-2l1 0l-1 2M437 259l-2-4l3-4l-3-8M119 258l-18-2l-3-3l1-6l14 0l2 2M121 255l-2 3M331 310l-2-1l-4-10l-2-1M317 261l-4-2M321 256l6 2l6-4l2 3M211 253M385 267l-3-4l-4-2l0-2l1-2M126 265l3-4l8 0M86 265l3-3l4-1l2 2l-1 4M482 333l1 2l2 0M80 309l-3 3l-2 0l-4-5M301 279l-4 1l-3-1M304 275l0 2l-3 2M385 291l2-2l0-2l-4-2l8-5M417 277l-1 4l1 3l-2 0l-7-1l-3-4M355 287l2 0l0 4M86 307l-1 4l1 4l-1 4M264 315l1-6l4-1M355 310l-1-1l1-1l0 2M355 318l8-5M245 319l-4-2l-2-4M331 348l-8-2l-8 2l-1-3l1-7l6 0M321 338l4 5l2-2l1-6M83 366l2-1l2 4M94 379l-3 1l-4-1l-2 2l4 4l2 0M101 369l-8-6l-3-4M83 340l4 4l2-1l-2-4M87 339l7-6M103 328l8-3M431 358l-3-1l2-4l-2-6M428 347l3-1l4 3l-2 7l-2 2M277 351M275 353l1 0l-1 0M193 369l8 3M412 375l-3 2l-6 0l-2 2l-4-2M397 377l-10 1M157 380l-4-1M81 378l2-1M467 404l-7-5l-2-6l-3-1M471 396l-4 8M407 385l-2 0l-1-2l5-5M361 380l1 1l1 2l-2 4l-4 4M344 389l4 0l-3 2M287 470l-6-3M275 428l6 1M289 435l-4 3l-2 5l1 4M517 420l0-3l0 3M256 509l3-3l6-1l4-3M275 496l10-5M294 481l-1-2l0-2l6-1M322 457l1-6l2 2M343 482l-10-2l-4 2l-1-1l0-4M328 477l-3-1l-2 1l-2 4l2 2l4-2M327 481l1 2l-2 4l-12 4l-6 10l-3 1M269 422l2 1l-2 4M75 438l3-1l2-4l-3-4l-1-2l1-1M575 518l-2-1l-2-4l-4-1M531 457l-8-2l0-2l6-4M575 471l2 2M579 487l-1 0l-1-6l-8-4M577 489l0-1l1 5M595 441l1-2l-1-1l-4-1M152 493l3-5l0-5l5-2M167 459l6-1l6 2l2 1M169 467l-2-3l-10-3l-8 5l-2-1M147 465l2-4l-2-1l-3 1M165 503l-2 4l-2 0M435 447l-2 0l2-2l1 2M436 447l-1 0M566 459l1-3l-8-2M519 469l-1-8l3-4l2 0l4 6l1 2M315 460l1 3l-1 3M197 465l0-4l2-1M81 463l3 0l1 6M445 484l-4 0l-1-3l7-6M447 475l8-2l2-7M463 469l-4 6l0 4l-6 0l-8 5M481 470l2-2l3 1M185 503l1-2l3-3M193 498l3-1l-2-2M503 484l4-1l2 1l2 3l3 0M367 507l2-2M375 514l-2 2M81 511l2-4l5-2M93 492l4-1l4 6l10 2l1 2l-1 14M125 507l0 4l12 10l2 4M139 525l0 5l-4-1l-2 4M316 517l3-8l-3-6l3 0l2 4l2 1M323 508l4-3M330 509l3 3M348 503l3-3l2 3M353 519l-2 2M346 527l-7 6l-6 0M475 551l-4 1l-8-7M365 587l-2-4l-2-1l-6 2l-4-4M351 580l-4 1l-3 4M355 574l3-1l1-2l-1-4M363 539l4-8l-2-4l3-4M605 523l-2 0l-2-2l6 0l-2 2M128 531l-1-1l-2 1M619 545l3-6l5-1M327 556l-1-3l1-8l4-9l2 0l4 3M337 539l1 4l-3 8l-8 5M569 542l6 5l2 5l6 0l4-3l2 0M603 558l1 3l-3 2l9 2l1 6l3 2M475 574l-6-2l-2 2l-4-1M459 564l4-5l6 1l3 3l1 6l4 2M551 570l4 8l11 5M199 591l-1-2l-5-2M595 616l-6-1l-4 1l-3-1l2-8M579 593l5 0l3-3l3 3M519 601l2-6l2-3l2 0l1 7l4 6M615 605l-4-4l0-4l10-5l2 4M491 604l-3-3l-1-4l2-2l4-1l2 1M495 595l1 4l-1 2l-4 3M561 614l-4-7l0-2l2-1M465 616l-2 0l0-3M466 613l-1 3M625 619l4 2l-2 4l0 8M573 621l-2 0l-2-2l1-2l3-1l2 1M477 639l-3-2l1-4l-2 0M481 629l5-6l2 4l-2 6l5 2l-2 2M107 627l0-4l5 2l0 4M596 639l1 0M545 700l-6 3M397 659l6-3l10 5M441 668l4 4M498 663l1 4M577 670l2 1l3-2l-2-4M259 655l1 2M282 741l0-4l5-2l1-2M291 731l4-1l3-3l0-2l-3-2l-6 0M294 711l-1-3l-4 0l-2-1M309 674l-3 7l1 6l-1 4l-3 1l-4-3M297 693l4 3l4-1l4 2M317 731l-6-4l-6-2l-2 2l-3 10l0 6M248 669l5 8l-6 1l-4 6M378 671l-1 2M341 705l-2 4l-4 2M607 730l-2 0l-4-3M604 713l3 1l4-2l2 1M467 735l-2 4l-6-1l-2 5M294 737l-1-3l-2 1l2 3l1-1M249 739l-2-2l2 0l0 2M223 743l2 0l1 2l-1 3M631 751l3 2M547 816l1 1l-3 4l0 2l2 2l2-2M549 823l1-6l3-1l4 1M469 830l6 3l4 3l4 0M483 836l1-3l-2-6l-3-2M489 838l-6 3l-7-4l-3 0M473 837l2 6l-4 4M489 847l-2-1l0-1l3 0M1600 371l1-2l4 1l4-5M1584 355l2 4l7 1M1583 446l1-7l7-4M1567 393l-2 2M1531 401l-8 2M1574 435l-3-1l-6 1M1645 378l1-9l2-6l-3-6M1582 373l3 2l4 1l2-1M1583 383M1563 403l2 1l6-1l0 2l-2 2M1439 455l2 0M1437 473l-2-4l-4 1l-2 3M1429 473l2 1l6-1M1607 403l-4-10l-6-5l-2 0l-8 2l-4-1M1577 377l2 3l0 3M1593 373l-2-6l0-2l2-1M1593 364l2 7l-2 2M1627 394l2-1M1525 395l1 0l-1 0M1443 457l1-4M1423 469l-4 9l-1-3l-2-2M1569 428l-2-1l0-4l3 2M1427 485l4-8l4-1l4 1l1 2l-3 4M1409 517l8-8M1435 510l-6 5l-1-10l-1-1l-6 5M1421 509l-11 20l1 6l-3 8l1 1l1-1M1383 561l15-24l-1-10M1393 528l-10 8l-1-1M1449 531l2-4l-2-1l-5 5M1439 537M1386 577l5-4l4-1l4-5M1332 585l4-4l1-5l-6 5l-1 4l2 0M1343 587l-3 6l-1 4l2 1l2-1M1355 615l2-2M1354 609l-3 6l2 2l2-2M1397 626l0-1M1385 626l-2 5l2 2l10-4l-9 16M1359 625l-6 8l-1 4l2 2M1340 667l3-8M1333 621l-4 0M1283 641l10-7l6-11M1280 641l1 1l2-1M1294 613l-7 5l-1-3M1335 589l6-12M1399 501l-5 6M1344 581l-9 12l-2 4l0 8l-18 10M1421 541l-2-2l2-2l1 2l-1 2M1413 567l0 6l-6 11M1431 611l2-3l4 3l2-1l13-17M1445 594l-8 6l0-5M1438 559l-7 6l-1-2l2-4M1321 579l-4 2l-1-2l2-8l11-6M1383 569l-1 0l1-4l2 2l-2 2M1369 575l2 2M1352 605l-4 8l-7 5M1357 649l-2-2l1-2l9-16l2-1l2 4M1369 632l2 0l10-9M1257 710l8-4l2 5l12-6M1279 705l22-18M1261 699l-8 10M1226 701l1-2l-1-2l-7-1M1273 721l8-8l-2-1l-14 5M1241 739l4-1l4 5l8-2M1331 678l-6-5l10-9l10-3M1353 663l1 8l-9 7M1317 698l-10 8l-16 9l-4 4M1223 691l6-8M1243 691l0 2l-6 9l-6 4M1317 671l-6 5l-11 3M1355 682l-2-1l1-2l3-2M1287 683l-1 0l1-2l1 2l-1 0" stroke="#D83900" stroke-width="1.3"/></g></g>
<g fill="none" stroke="#333" stroke-width="3.7" stroke-linejoin="round" stroke-linecap="round">
<path d="M121.8 212.0L928.2 212.0L928.2 198.2L937.8 200.3L941.8 216.4L944.2 222.2L966.9 229.1L979.1 226.6L992.0 225.1L1007.1 236.0L1030.1 244.8L1049.9 239.7L1060.1 244.4L1075.3 244.4L1092.7 248.4L1069.4 257.5L1049.0 269.6L1031.6 283.0L1018.5 292.1L1017.0 295.1L1031.6 294.0L1043.2 289.6L1053.4 286.7L1056.3 289.2L1052.0 298.7L1063.6 300.2L1075.3 297.6L1089.8 290.3L1107.3 283.0L1120.1 276.1L1132.6 268.8L1144.0 268.1L1139.3 272.8L1127.7 281.2L1123.3 292.1L1130.6 287.8L1145.2 291.1L1153.9 302.0L1165.6 303.1L1177.2 304.9L1191.8 296.9L1209.3 296.5L1224.7 293.2L1223.8 303.1L1235.5 303.8L1242.8 303.1L1248.6 310.4L1254.4 318.7L1267.5 321.3L1255.9 323.1L1242.8 322.0L1232.0 326.4L1223.8 319.5L1209.3 318.4L1194.7 323.1L1184.5 328.6L1178.7 325.7L1175.8 334.0L1171.4 330.4L1164.1 329.3L1159.7 337.7L1148.1 354.1L1143.7 359.5L1136.4 374.1L1143.7 368.6L1153.9 361.4L1159.7 352.3L1166.1 346.8L1162.7 355.9L1155.4 366.8L1150.4 381.4L1149.5 390.5L1145.2 403.3L1139.3 419.7L1139.9 430.6L1142.3 445.2L1141.7 456.1L1148.1 470.7L1150.4 479.8L1159.7 480.9L1169.9 475.8L1178.7 465.2L1187.4 452.4L1188.9 437.9L1186.0 426.9L1180.1 408.7L1181.6 399.6L1180.1 392.3L1187.4 370.5L1191.8 361.4L1200.5 357.7L1205.8 350.4L1206.3 365.0L1209.3 363.2L1212.2 350.4L1220.9 345.0L1223.8 335.9L1231.7 329.3L1247.1 334.8L1257.3 341.3L1269.0 346.8L1271.9 355.9L1273.3 372.3L1271.9 383.2L1264.6 392.3L1255.9 399.6L1255.9 406.9L1266.1 405.1L1273.3 396.0L1283.5 391.6L1292.3 399.6L1296.7 419.7L1299.0 430.6L1296.7 443.3L1286.5 447.0L1285.0 454.3L1278.6 457.9L1277.7 465.2L1269.0 476.8L1279.2 481.6L1289.4 485.2L1296.7 488.1L1320.0 485.2L1334.5 476.1L1354.3 467.7L1376.5 457.2L1395.7 443.3L1401.5 436.0L1397.7 426.9L1396.9 421.1L1413.2 417.1L1439.4 420.7L1459.8 419.7L1472.9 412.4L1480.2 408.7L1481.6 397.8L1475.8 390.5L1491.8 375.9L1506.4 363.9L1522.4 357.7L1563.2 357.4L1617.1 357.4L1620.0 349.3L1628.7 346.8L1636.0 348.6L1637.5 342.4L1649.1 330.4L1653.5 323.1L1652.0 314.0L1659.3 306.0L1660.8 295.8L1683.5 268.1L1688.4 273.9L1692.8 278.3L1710.3 271.7L1724.9 282.3L1725.4 323.1L1724.9 332.2L1735.6 335.9L1735.1 346.8L1739.4 352.3L1748.2 361.4L1749.0 364.3L1742.3 370.5L1730.7 375.9L1719.0 379.6L1711.8 385.0L1703.0 383.2L1695.7 375.9L1689.9 388.7L1681.2 396.0L1666.6 403.3L1653.5 406.9L1649.1 416.0L1643.3 426.9L1637.5 435.3L1637.5 441.5L1643.3 443.3L1636.0 448.8L1639.0 440.0L1643.6 444.7L1634.3 451.6L1632.0 458.6L1641.3 463.3L1643.6 472.6L1647.1 477.3L1653.0 478.4L1657.6 477.3L1660.0 472.6L1657.6 468.0L1654.0 467.5L1653.4 464.5L1656.4 462.6L1661.0 464.5L1663.4 470.3L1662.7 477.3L1661.0 483.0L1655.3 484.7L1647.1 486.0L1639.0 489.4L1637.8 484.3L1633.0 487.8L1627.3 490.0L1622.7 486.6L1620.3 479.6L1618.0 485.4L1615.7 490.0L1608.7 491.7L1583.0 494.7L1564.4 496.0L1550.4 501.0L1547.0 505.2L1543.5 510.0L1542.3 514.5L1545.3 520.4L1545.8 533.2L1541.1 551.8L1534.1 563.5L1524.8 572.8L1517.8 579.8L1513.2 589.0L1513.2 598.4L1510.8 603.0L1508.5 612.4L1501.5 621.7L1494.5 633.3L1489.9 642.7L1487.1 646.8L1486.4 652.4L1489.9 663.6L1490.4 665.0L1494.8 678.9L1499.2 692.7M1460.3 735.3L1450.3 740.3L1440.2 747.9L1434.0 752.9L1430.2 760.4L1421.4 762.9L1411.4 764.4L1400.1 773.0L1392.8 787.6L1387.0 794.9L1372.4 805.8L1356.4 818.6L1349.1 822.2L1344.7 829.5L1337.4 840.4L1333.1 851.3L1328.7 864.1L1325.8 877.9L1328.7 889.6L1333.1 909.6L1340.3 929.7L1347.6 947.9L1353.5 960.6L1352.6 973.4L1359.3 991.6L1365.1 1008.0L1368.6 1020.7L1367.4 1039.0L1365.7 1057.2L1360.7 1069.9L1356.4 1079.0L1344.7 1080.9L1337.4 1081.6L1333.1 1073.6L1330.1 1057.2L1318.5 1051.7L1315.6 1035.3L1308.3 1029.9L1302.5 1017.1L1295.2 1002.5L1292.3 995.2L1298.1 982.5L1290.8 988.0L1287.9 977.0L1291.7 960.6L1290.0 946.1L1282.1 935.1L1273.3 924.2L1266.1 911.5L1253.0 901.3L1242.8 906.0L1238.4 907.8L1223.8 918.0L1212.8 915.1L1211.0 914.0L1209.0 907.0L1204.0 900.0L1197.0 894.0L1189.0 888.5L1177.0 887.0L1163.0 886.0L1153.0 884.0L1149.0 889.0L1146.0 893.0L1139.0 893.0L1137.0 877.0L1133.0 877.0L1131.0 890.0L1123.0 891.0L1109.0 888.5L1097.0 891.0L1091.0 897.0L1086.0 901.0L1081.0 903.0L1086.0 907.0L1091.0 903.0L1100.0 898.5L1101.0 903.0L1094.0 914.0L1089.0 921.0L1096.0 927.0L1104.0 933.0L1106.0 937.0L1101.0 940.0L1096.0 940.0L1089.0 930.0L1083.0 924.0L1077.0 923.0L1069.0 933.0L1060.0 931.0L1054.0 937.0L1046.0 933.0L1040.0 926.0L1031.0 914.0L1023.0 910.0L1014.0 913.0L1011.0 918.5L997.0 917.0L986.0 911.0L972.0 911.0L962.0 913.0L947.1 922.4L939.8 913.3L934.0 916.9L936.9 926.0L925.2 940.6L912.1 947.9L894.7 957.0L887.4 962.5L878.6 971.6L869.9 978.9L864.1 989.8L858.2 1004.4L859.7 1017.1L862.6 1028.0L867.0 1042.6L869.9 1051.3L857.4 1053.5L837.6 1048.1L812.5 1035.3L802.6 1012.0L800.0 995.2L784.0 973.4L775.2 960.6L765.0 937.0L756.3 924.2L744.9 912.5L728.6 911.5L717.5 909.3L708.2 915.1L703.9 927.8L695.1 941.3L683.5 937.0L670.4 929.7L658.7 920.6L651.4 904.2L644.1 884.1L629.6 873.2L613.6 855.0L600.4 842.2L596.7 839.3L547.7 839.3L547.7 855.7L464.4 855.7L355.5 813.5L358.1 805.1L288.2 812.0L284.4 805.8L282.9 791.2L274.2 780.3L264.0 772.3L255.3 768.7L250.3 766.8L248.0 757.7L237.8 757.7L226.1 753.0L215.9 743.9L191.2 742.1L186.2 737.3L186.2 718.4L178.1 707.4L166.4 696.5L150.4 676.5L147.5 663.7L151.8 656.4L144.6 651.0L134.4 641.9L131.5 629.1L131.5 620.0L119.8 612.7L116.9 601.8L102.3 585.4L95.0 576.3L93.6 558.1L86.3 538.0L76.7 524.6L83.4 508.9L85.4 492.5L81.3 476.1L80.5 467.0L76.1 452.4L71.7 436.4L77.6 423.3L82.5 405.1L84.8 383.2L86.9 361.4L89.2 339.5L89.2 317.6L88.6 312.2L86.3 299.4L84.8 286.7L81.1 276.8L77.6 264.8L70.3 252.1L66.5 234.6L80.5 238.6L90.7 241.9L100.0 243.7L113.1 244.8L121.0 243.0L124.2 237.5L126.2 230.2L125.0 221.1L121.8 215.6L121.8 212.0L121.8 212.0"/>
<path d="M88.6 312.2L105.2 314.0L117.5 317.6L123.9 332.6L137.6 337.7L150.1 334.0L169.9 335.9L187.4 331.1L212.4 326.0L232.5 321.3L294.0 321.3M290.5 212.0L290.5 305.6L294.0 315.1L294.0 321.3L305.1 335.1L300.1 350.1L289.9 367.6L285.0 379.9L292.5 387.6L290.8 401.4L290.8 467.0M319.3 212.0L319.3 249.5L327.5 264.8L340.0 275.0L349.9 290.0L362.5 297.6L368.9 297.6L365.9 312.5L363.9 330.0L367.4 339.9L379.9 332.6L386.0 342.4L392.5 355.2L400.0 365.0L409.9 379.9L425.1 375.9L450.1 374.1L455.1 367.6L465.0 375.9M80.5 467.0L465.0 467.0M465.0 357.7L465.0 503.4M465.0 357.7L668.9 357.7M668.9 212.0L668.9 503.4M465.0 503.4L727.2 503.4M523.2 503.4L523.2 855.7M377.9 649.2L943.6 649.2M377.9 467.0L377.9 680.1L373.2 684.5L357.5 681.9L361.0 700.2L360.7 722.0M204.3 467.0L204.3 576.3L360.7 722.0M360.7 722.0L365.9 735.1L375.0 749.0L365.1 759.9L363.0 773.0L358.1 784.0L361.0 794.9L361.0 804.0L358.1 805.1M727.2 503.4L727.2 649.2M727.2 539.9L923.5 539.9M668.9 323.5L887.1 323.5M668.9 430.6L830.6 430.6L845.1 439.3L857.4 436.0L872.5 437.9L885.0 445.2L890.3 448.8M867.6 212.0L872.5 240.1L877.5 264.8L881.5 290.0L885.9 310.4L887.1 323.5L878.6 335.1L890.3 346.8L890.3 412.4L885.9 422.6L888.8 434.2L890.3 448.8L894.7 465.2L902.5 488.9L907.5 512.5L915.0 527.5L923.5 539.9L935.1 547.5L929.6 557.4L943.6 571.9L943.6 667.4L949.1 707.4L947.7 771.6M890.3 412.4L1042.6 412.4M910.1 518.4L1027.8 517.6L1036.8 526.0M1017.0 295.1L1011.5 297.2L1011.5 317.6L995.2 335.1L996.0 352.6L998.1 366.8L1012.6 374.8L1024.9 385.0L1035.1 394.9L1042.3 412.4L1045.0 429.9L1057.5 442.6L1062.4 449.9L1072.3 465.2L1072.3 474.3L1065.1 481.6L1047.6 488.1L1046.1 508.9L1035.9 524.6L1034.5 535.1L1040.3 550.1L1049.9 565.0L1059.2 579.2L1072.3 582.5L1072.3 590.9L1067.4 601.8L1079.9 614.9L1092.4 629.9L1094.2 641.9L1102.9 649.2L1101.5 660.1L1095.7 667.4L1089.8 675.0L1086.9 685.6L1079.6 702.0L1075.3 714.7L1070.0 722.4L1062.4 735.1L1049.9 752.6L1043.2 772.7L1044.1 794.9L1046.1 807.6L1050.5 820.0L1042.3 829.9L1034.5 849.5L1029.8 860.1L1030.4 867.7L1086.0 867.7L1084.6 879.4L1086.9 886.7L1091.3 892.1L1092.7 897.6M1059.5 448.8L1142.3 448.8M1150.1 477.9L1150.1 563.5L1147.5 576.3L1151.0 587.2L1143.7 598.2L1137.9 609.1L1135.0 620.0M1170.8 475.8L1229.1 475.8L1269.0 476.8M1229.1 475.8L1229.1 572.7M1354.3 516.6L1350.0 521.7L1349.1 536.2L1344.7 550.8L1334.5 561.7L1322.9 566.1L1318.5 576.3L1308.3 579.9L1305.4 590.9L1294.3 597.4L1286.5 586.1L1273.3 590.1L1258.8 586.5L1245.7 581.8L1238.4 572.7L1229.1 572.7L1228.2 583.6L1218.0 587.2L1210.7 592.7L1202.0 602.9L1193.2 612.7L1180.1 615.3L1164.1 617.1L1149.5 615.3L1135.0 620.0L1133.5 630.9L1123.3 638.2L1120.1 645.5L1102.9 649.2M943.6 667.4L1073.8 667.4L1067.4 685.6L1086.9 685.6M960.5 794.2L1044.1 794.9M947.7 771.6L960.5 774.8L960.5 831.3L967.5 842.6L974.8 860.5L970.4 877.6L969.8 897.6L966.0 914.4M786.9 738.0L798.5 744.6L808.7 743.1L816.0 751.2L830.6 755.5L842.2 754.8L851.0 763.2L861.2 761.0L871.4 768.7L881.5 763.9L894.7 769.4L912.1 762.1L926.7 760.3L938.4 768.7L947.7 771.6M786.9 667.4L786.9 738.0M699.5 667.4L786.9 667.4M699.5 649.2L698.3 667.4L697.7 831.3M697.7 831.3L594.0 831.3L596.7 839.3M1092.7 667.4L1135.0 667.4L1134.4 660.8L1262.3 663.7L1320.5 664.1L1489.8 665.6M1069.4 722.0L1278.9 722.0M1130.6 722.0L1133.5 725.7L1125.9 802.2L1122.7 835.0L1124.8 891.4M1206.3 722.0L1218.6 800.3L1225.0 822.6L1220.0 840.1L1222.4 856.8L1223.8 867.7L1227.9 878.7L1305.4 883.4L1309.8 891.1L1311.2 875.8L1325.8 877.9M1223.8 867.7L1148.1 867.7L1152.5 878.7L1153.9 887.8M1278.9 722.0L1271.9 732.9L1285.0 742.1L1295.2 758.5L1311.2 776.7L1325.8 794.9L1331.6 811.3L1343.3 829.5M1278.9 722.0L1299.6 714.7L1338.9 716.6L1338.9 720.2L1342.4 718.4L1346.2 728.6L1379.1 729.3L1411.7 763.6M1320.5 664.1L1311.2 681.2L1293.7 685.6L1279.2 694.7L1267.5 701.3L1251.5 707.4L1243.6 722.0M1294.3 597.4L1302.5 623.7L1312.1 629.5L1290.8 647.3L1262.3 663.7M1312.1 629.5L1325.8 640.1L1343.3 638.2L1360.7 630.9L1369.5 614.6L1379.7 592.7L1389.9 597.4L1402.4 583.6L1417.5 561.7L1432.7 571.6L1435.9 564.6M1384.6 550.1L1384.6 569.0L1397.1 558.8L1405.3 552.6L1414.6 556.3L1421.9 550.8L1432.1 554.4L1435.9 564.6L1443.8 568.3L1449.6 576.3L1455.4 580.7L1455.4 587.2L1448.1 596.3L1456.9 598.2L1459.8 603.6L1468.5 608.4M1354.3 516.6L1354.3 550.1L1492.1 550.1L1497.1 546.1L1502.0 547.2M1354.3 467.7L1354.3 516.6M1376.5 457.2L1376.5 467.0L1504.9 467.0L1513.7 481.6L1523.9 490.3L1522.5 490.0L1510.8 509.9L1513.2 519.2L1522.5 533.2L1508.5 542.5L1496.9 549.5M1523.9 490.3L1547.2 503.4L1544.3 513.6M1492.1 550.1L1494.7 596.0L1513.7 596.3M1494.7 614.6L1506.4 611.6M1563.2 357.4L1561.7 375.9L1560.9 408.7L1566.1 410.5L1565.5 439.7L1558.8 465.2L1559.4 494.3L1552.1 499.8L1554.5 503.4M1617.1 357.4L1614.2 372.3L1601.1 388.7L1593.8 405.1L1589.4 426.9L1586.5 440.4M1629.3 346.8L1632.5 409.8L1637.5 423.3L1640.4 428.0M1565.5 439.7L1622.9 441.5L1631.6 435.3L1637.5 435.3M1558.8 465.2L1608.3 466.3L1620.6 466.3L1620.6 470.7L1622.9 476.1L1628.1 485.2M1608.3 466.3L1608.3 488.9L1606.6 491.8M1065.9 300.5L1074.7 308.9L1104.4 316.2L1113.1 320.2L1133.5 324.2L1140.8 330.4L1140.8 345.0L1148.1 354.1M699.5 649.2L727.5 649.2"/>
<path stroke-width="4.5" d="M123.0 215.0L128.0 219.0L133.0 224.0L134.0 232.0L137.0 240.0L140.0 246.0L138.0 256.0L137.0 268.0L135.0 278.0L129.0 283.0L122.0 284.0L116.0 279.0L115.0 271.0L118.0 264.0L124.0 258.0L130.0 251.0L132.0 244.0"/><path stroke-width="5.5" d="M113.0 227.0L119.0 222.0L125.0 226.0L121.0 233.0L114.0 231.0L113.0 227.0"/><path stroke-width="4.0" d="M127.0 236.0L131.0 246.0L128.0 256.0L123.0 263.0L120.0 272.0L124.0 278.0"/><path stroke-width="4.0" d="M130.0 262.0L133.0 270.0L129.0 277.0"/><path stroke-width="5.0" d="M86.0 284.0L89.0 289.0L88.0 296.0L90.0 303.0"/><path stroke-width="4.5" d="M88.0 308.0L93.0 312.0L99.0 313.0"/><path stroke-width="3.5" d="M1066.0 898.5L1071.0 890.0L1083.0 896.0L1086.0 901.0L1074.0 903.0L1066.0 898.5"/><path stroke-width="3.7" d="M1517.8 579.8L1515.5 572.8L1506.2 565.8L1499.2 556.5L1496.9 549.5"/><path stroke-width="3.7" d="M1496.9 561.1L1501.5 570.4L1508.5 582.1L1513.2 589.0"/><path stroke-width="4.2" d="M1487.0 646.0L1487.5 635.7L1492.2 626.3L1496.9 617.0L1489.9 612.4L1487.5 603.0L1482.9 598.4L1485.2 589.0L1480.6 579.8L1481.7 570.4L1478.2 565.8L1482.9 556.5L1489.9 553.7"/><path stroke-width="4.2" d="M1489.9 553.7L1475.9 561.1L1472.4 570.4L1468.9 579.8L1471.2 591.4L1466.6 603.0L1459.6 607.7L1466.6 617.0L1457.3 614.7L1473.6 626.3L1461.9 627.5L1475.9 636.8L1458.4 638.0L1473.6 645.0L1468.9 650.8L1457.3 641.5L1468.9 650.8L1482.9 652.4"/><path stroke-width="4.5" d="M1548.1 506.0L1559.8 500.1L1583.0 497.5L1597.0 496.4L1606.3 501.0L1599.4 502.9L1592.4 507.6L1573.7 514.5L1555.1 518.3L1547.0 516.9L1548.1 506.0"/><path stroke-width="4.0" d="M1592.4 507.6L1603.0 504.5L1610.0 502.0"/><path stroke-width="5.0" d="M1653.0 492.0L1660.0 494.5L1657.0 497.0L1652.0 495.0L1653.0 492.0"/><path stroke-width="4.5" d="M1668.0 494.0L1672.0 496.0"/><path stroke-width="5.0" d="M1462.8 673.8L1467.8 677.6L1475.4 678.9L1482.9 676.3L1489.2 678.9"/><path stroke-width="4.5" d="M1462.8 673.8L1462.8 687.6L1467.8 686.4"/><path stroke-width="5.0" d="M1480.4 687.6L1485.4 691.4L1490.4 687.6L1492.9 693.9L1489.2 700.2L1482.9 704.0L1475.4 706.5L1470.3 702.7L1465.3 705.2L1455.3 705.2"/><path stroke-width="5.0" d="M1467.8 709.0L1470.3 715.2L1466.6 720.3L1457.8 717.8L1454.0 719.0"/><path stroke-width="4.5" d="M1457.8 720.3L1467.8 724.0L1475.4 722.8L1472.8 729.0L1465.3 730.3L1455.3 735.3L1445.2 732.8"/>
</g>
<text x="1797.2" y="474" font-size="28.65" font-weight="bold">Relative pop. size</text>
<rect x="1797" y="492" width="36" height="36.3" fill="#1874CD"/><text x="1847.5" y="518.7" font-size="22.9">0-10</text><rect x="1797" y="528" width="36" height="36.3" fill="#4B939F"/><text x="1847.5" y="554.7" font-size="22.9">10-20</text><rect x="1797" y="564" width="36" height="36.3" fill="#7FB272"/><text x="1847.5" y="590.7" font-size="22.9">20-30</text><rect x="1797" y="600" width="36" height="36.3" fill="#B2D144"/><text x="1847.5" y="626.7" font-size="22.9">30-40</text><rect x="1797" y="636" width="36" height="36.3" fill="#E5F017"/><text x="1847.5" y="662.7" font-size="22.9">40-50</text><rect x="1797" y="672" width="36" height="36.3" fill="#F9E300"/><text x="1847.5" y="698.7" font-size="22.9">50-60</text><rect x="1797" y="708" width="36" height="36.3" fill="#EEAA00"/><text x="1847.5" y="734.7" font-size="22.9">60-70</text><rect x="1797" y="744" width="36" height="36.3" fill="#E37100"/><text x="1847.5" y="770.7" font-size="22.9">70-80</text><rect x="1797" y="780" width="36" height="36.3" fill="#D83900"/><text x="1847.5" y="806.7" font-size="22.9">80-90</text><rect x="1797" y="816" width="36" height="36.3" fill="#CD0000"/><text x="1847.5" y="842.7" font-size="22.9">90-100</text>
</svg>
</body></html>
